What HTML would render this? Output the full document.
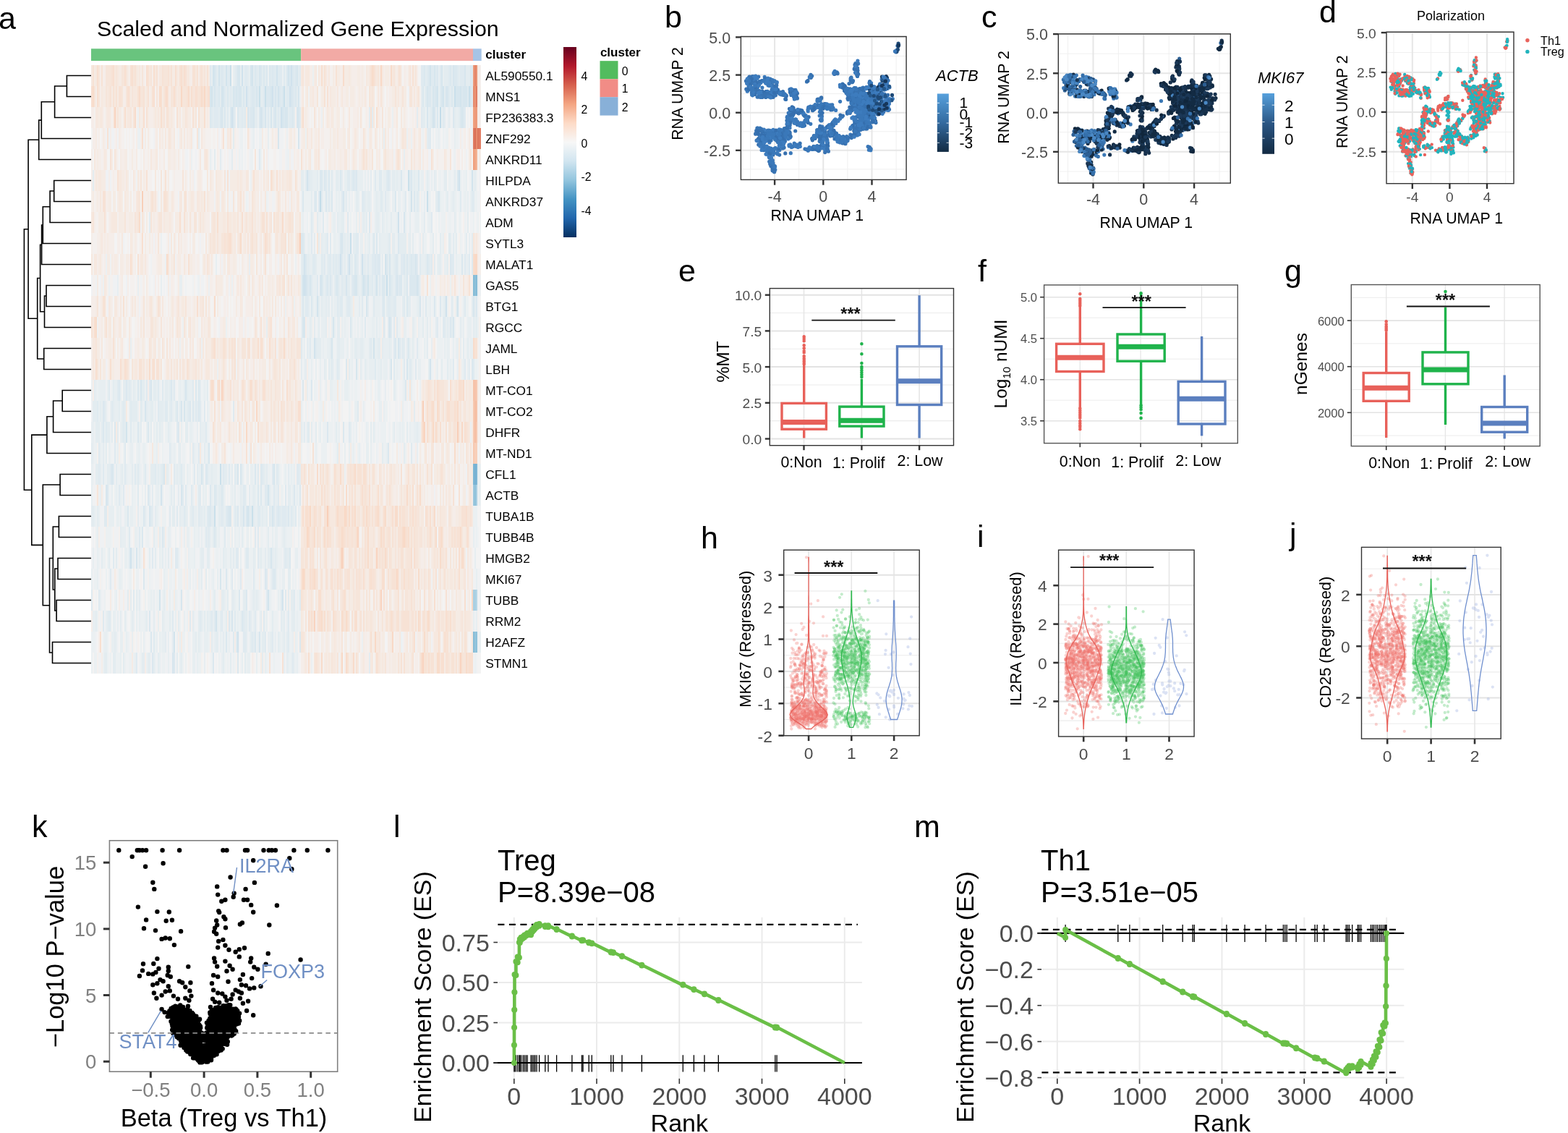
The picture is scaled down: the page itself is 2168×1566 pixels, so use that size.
<!DOCTYPE html>
<html><head><meta charset="utf-8"><title>Figure</title>
<style>html,body{margin:0;padding:0;background:#fff;}svg{display:block;}text{font-family:"Liberation Sans",Arial,sans-serif;}</style>
</head><body>
<svg width="2168" height="1566" viewBox="0 0 2168 1566" font-family="Liberation Sans, Arial, sans-serif">
<rect width="2168" height="1566" fill="#fff"/>
<text x="-2" y="40" font-size="43">a</text>
<text x="134" y="50" font-size="30.4">Scaled and Normalized Gene Expression</text>
<rect x="126" y="67.3" width="290.2" height="16.8" fill="#69c47e" />
<rect x="416.2" y="67.3" width="237.8" height="16.8" fill="#f2aaa5" />
<rect x="654" y="67.3" width="11.7" height="16.8" fill="#a6c4e6" />
<text x="671.3" y="81" font-size="17" font-weight="bold">cluster</text>
<path fill="#f6e8df" d="M126 90h2v29h-2zM132 90h2v29h-2zM158 90h2v29h-2zM162 90h2v29h-2zM188 90h2v29h-2zM192 90h2v29h-2zM206 90h2v29h-2zM214 90h2v29h-2zM220 90h2v29h-2zM222 90h2v29h-2zM234 90h2v29h-2zM244 90h2v29h-2zM258 90h2v29h-2zM260 90h2v29h-2zM270 90h2v29h-2zM280 90h2v29h-2zM416 90h2v29h-2zM422 90h2v29h-2zM424 90h2v29h-2zM426 90h2v29h-2zM436 90h2v29h-2zM440 90h2v29h-2zM450 90h2v29h-2zM454 90h2v29h-2zM482 90h2v29h-2zM506 90h2v29h-2zM510 90h2v29h-2zM520 90h2v29h-2zM528 90h2v29h-2zM542 90h2v29h-2zM140 119h2v29h-2zM148 119h2v29h-2zM158 119h2v29h-2zM184 119h2v29h-2zM186 119h2v29h-2zM188 119h2v29h-2zM202 119h2v29h-2zM232 119h2v29h-2zM246 119h2v29h-2zM248 119h2v29h-2zM262 119h2v29h-2zM418 119h2v29h-2zM424 119h2v29h-2zM432 119h2v29h-2zM456 119h2v29h-2zM466 119h2v29h-2zM472 119h2v29h-2zM504 119h2v29h-2zM512 119h2v29h-2zM516 119h2v29h-2zM522 119h2v29h-2zM550 119h2v29h-2zM572 119h2v29h-2zM576 119h2v29h-2zM132 148h2v29h-2zM134 148h2v29h-2zM138 148h2v29h-2zM140 148h2v29h-2zM148 148h2v29h-2zM150 148h2v29h-2zM156 148h2v29h-2zM160 148h2v29h-2zM176 148h2v29h-2zM178 148h2v29h-2zM192 148h2v29h-2zM214 148h2v29h-2zM218 148h2v29h-2zM224 148h2v29h-2zM236 148h2v29h-2zM248 148h2v29h-2zM258 148h2v29h-2zM416 148h2v29h-2zM452 148h2v29h-2zM458 148h2v29h-2zM482 148h2v29h-2zM516 148h2v29h-2zM548 148h2v29h-2zM554 148h2v29h-2zM220 177h2v29h-2zM228 177h2v29h-2zM232 177h2v29h-2zM240 177h2v29h-2zM250 177h2v29h-2zM254 177h2v29h-2zM264 177h2v29h-2zM278 177h2v29h-2zM314 177h2v29h-2zM424 177h2v29h-2zM430 177h2v29h-2zM440 177h2v29h-2zM466 177h2v29h-2zM482 177h2v29h-2zM490 177h2v29h-2zM512 177h2v29h-2zM518 177h2v29h-2zM532 177h2v29h-2zM558 177h2v29h-2zM560 177h2v29h-2zM572 177h2v29h-2zM580 177h2v29h-2zM130 206h2v29h-2zM144 206h2v29h-2zM208 206h2v29h-2zM216 206h2v29h-2zM276 206h2v29h-2zM282 206h2v29h-2zM286 206h2v29h-2zM364 206h2v29h-2zM428 206h2v29h-2zM436 206h2v29h-2zM476 206h2v29h-2zM478 206h2v29h-2zM488 206h2v29h-2zM500 206h2v29h-2zM504 206h2v29h-2zM530 206h2v29h-2zM552 206h2v29h-2zM572 206h2v29h-2zM580 206h2v29h-2zM614 206h2v29h-2zM132 235h2v29h-2zM136 235h2v29h-2zM138 235h2v29h-2zM164 235h2v29h-2zM166 235h2v29h-2zM174 235h2v29h-2zM184 235h2v29h-2zM190 235h2v29h-2zM214 235h2v29h-2zM286 235h2v29h-2zM290 235h2v29h-2zM298 235h2v29h-2zM328 235h2v29h-2zM332 235h2v29h-2zM340 235h2v29h-2zM342 235h2v29h-2zM364 235h2v29h-2zM370 235h2v29h-2zM386 235h2v29h-2zM390 235h2v29h-2zM396 235h2v29h-2zM398 235h2v29h-2zM402 235h2v29h-2zM138 264h2v29h-2zM164 264h2v29h-2zM166 264h2v29h-2zM172 264h2v29h-2zM188 264h2v29h-2zM212 264h2v29h-2zM222 264h2v29h-2zM238 264h2v29h-2zM248 264h2v29h-2zM250 264h2v29h-2zM264 264h2v29h-2zM266 264h2v29h-2zM272 264h2v29h-2zM274 264h2v29h-2zM278 264h2v29h-2zM286 264h2v29h-2zM300 264h2v29h-2zM306 264h2v29h-2zM308 264h2v29h-2zM314 264h2v29h-2zM328 264h2v29h-2zM330 264h2v29h-2zM336 264h2v29h-2zM350 264h2v29h-2zM366 264h2v29h-2zM386 264h2v29h-2zM394 264h2v29h-2zM402 264h2v29h-2zM410 264h2v29h-2zM412 264h2v29h-2zM126 293h2v29h-2zM154 293h2v29h-2zM156 293h2v29h-2zM158 293h2v29h-2zM160 293h2v29h-2zM188 293h2v29h-2zM218 293h2v29h-2zM226 293h2v29h-2zM234 293h2v29h-2zM280 293h2v29h-2zM292 293h2v29h-2zM308 293h2v29h-2zM310 293h2v29h-2zM316 293h2v29h-2zM318 293h2v29h-2zM322 293h2v29h-2zM324 293h2v29h-2zM338 293h2v29h-2zM344 293h2v29h-2zM346 293h2v29h-2zM352 293h2v29h-2zM360 293h2v29h-2zM372 293h2v29h-2zM380 293h2v29h-2zM388 293h2v29h-2zM394 293h2v29h-2zM396 293h2v29h-2zM140 322h2v29h-2zM168 322h2v29h-2zM180 322h2v29h-2zM236 322h2v29h-2zM240 322h2v29h-2zM246 322h2v29h-2zM284 322h2v29h-2zM292 322h2v29h-2zM320 322h2v29h-2zM324 322h2v29h-2zM328 322h2v29h-2zM338 322h2v29h-2zM350 322h2v29h-2zM352 322h2v29h-2zM360 322h2v29h-2zM364 322h2v29h-2zM370 322h2v29h-2zM380 322h2v29h-2zM402 322h2v29h-2zM658 322h2v29h-2zM126 351h2v29h-2zM130 351h2v29h-2zM132 351h2v29h-2zM138 351h2v29h-2zM182 351h2v29h-2zM194 351h2v29h-2zM196 351h2v29h-2zM200 351h2v29h-2zM254 351h2v29h-2zM282 351h2v29h-2zM288 351h2v29h-2zM292 351h2v29h-2zM314 351h2v29h-2zM316 351h2v29h-2zM388 351h2v29h-2zM392 351h2v29h-2zM144 380h2v29h-2zM298 380h2v29h-2zM328 380h2v29h-2zM332 380h2v29h-2zM344 380h2v29h-2zM348 380h2v29h-2zM358 380h2v29h-2zM362 380h2v29h-2zM382 380h2v29h-2zM384 380h2v29h-2zM412 380h2v29h-2zM150 409h2v29h-2zM158 409h2v29h-2zM160 409h2v29h-2zM166 409h2v29h-2zM182 409h2v29h-2zM186 409h2v29h-2zM206 409h2v29h-2zM224 409h2v29h-2zM238 409h2v29h-2zM244 409h2v29h-2zM252 409h2v29h-2zM276 409h2v29h-2zM278 409h2v29h-2zM288 409h2v29h-2zM332 409h2v29h-2zM358 409h2v29h-2zM364 409h2v29h-2zM376 409h2v29h-2zM380 409h2v29h-2zM404 409h2v29h-2zM128 438h2v29h-2zM144 438h2v29h-2zM150 438h2v29h-2zM152 438h2v29h-2zM164 438h2v29h-2zM166 438h2v29h-2zM178 438h2v29h-2zM194 438h2v29h-2zM214 438h2v29h-2zM238 438h2v29h-2zM246 438h2v29h-2zM248 438h2v29h-2zM260 438h2v29h-2zM278 438h2v29h-2zM354 438h2v29h-2zM370 438h2v29h-2zM392 438h2v29h-2zM404 438h2v29h-2zM406 438h2v29h-2zM128 467h2v29h-2zM130 467h2v29h-2zM140 467h2v29h-2zM168 467h2v29h-2zM178 467h2v29h-2zM208 467h2v29h-2zM212 467h2v29h-2zM214 467h2v29h-2zM234 467h2v29h-2zM262 467h2v29h-2zM266 467h2v29h-2zM276 467h2v29h-2zM280 467h2v29h-2zM284 467h2v29h-2zM300 467h2v29h-2zM304 467h2v29h-2zM306 467h2v29h-2zM312 467h2v29h-2zM318 467h2v29h-2zM328 467h2v29h-2zM348 467h2v29h-2zM352 467h2v29h-2zM354 467h2v29h-2zM374 467h2v29h-2zM376 467h2v29h-2zM390 467h2v29h-2zM394 467h2v29h-2zM398 467h2v29h-2zM404 467h2v29h-2zM406 467h2v29h-2zM128 496h2v29h-2zM168 496h2v29h-2zM170 496h2v29h-2zM186 496h2v29h-2zM188 496h2v29h-2zM196 496h2v29h-2zM202 496h2v29h-2zM230 496h2v29h-2zM232 496h2v29h-2zM240 496h2v29h-2zM254 496h2v29h-2zM266 496h2v29h-2zM268 496h2v29h-2zM274 496h2v29h-2zM278 496h2v29h-2zM284 496h2v29h-2zM286 496h2v29h-2zM288 496h2v29h-2zM310 496h2v29h-2zM322 496h2v29h-2zM328 496h2v29h-2zM336 496h2v29h-2zM340 496h2v29h-2zM350 496h2v29h-2zM372 496h2v29h-2zM382 496h2v29h-2zM402 496h2v29h-2zM404 496h2v29h-2zM408 496h2v29h-2zM634 496h2v29h-2zM314 525h2v29h-2zM316 525h2v29h-2zM322 525h2v29h-2zM328 525h2v29h-2zM338 525h2v29h-2zM358 525h2v29h-2zM370 525h2v29h-2zM382 525h2v29h-2zM384 525h2v29h-2zM386 525h2v29h-2zM398 525h2v29h-2zM466 525h2v29h-2zM584 525h2v29h-2zM588 525h2v29h-2zM596 525h2v29h-2zM602 525h2v29h-2zM614 525h2v29h-2zM616 525h2v29h-2zM624 525h2v29h-2zM628 525h2v29h-2zM632 525h2v29h-2zM644 525h2v29h-2zM648 525h2v29h-2zM650 525h2v29h-2zM302 554h2v29h-2zM308 554h2v29h-2zM340 554h2v29h-2zM344 554h2v29h-2zM348 554h2v29h-2zM358 554h2v29h-2zM380 554h2v29h-2zM398 554h2v29h-2zM404 554h2v29h-2zM408 554h2v29h-2zM410 554h2v29h-2zM582 554h2v29h-2zM588 554h2v29h-2zM600 554h2v29h-2zM610 554h2v29h-2zM634 554h2v29h-2zM640 554h2v29h-2zM648 554h2v29h-2zM296 583h2v29h-2zM304 583h2v29h-2zM332 583h2v29h-2zM346 583h2v29h-2zM360 583h2v29h-2zM362 583h2v29h-2zM374 583h2v29h-2zM380 583h2v29h-2zM402 583h2v29h-2zM410 583h2v29h-2zM414 583h2v29h-2zM600 583h2v29h-2zM648 583h2v29h-2zM210 612h2v29h-2zM276 612h2v29h-2zM298 612h2v29h-2zM402 612h2v29h-2zM412 612h2v29h-2zM414 612h2v29h-2zM468 612h2v29h-2zM610 612h2v29h-2zM612 612h2v29h-2zM618 612h2v29h-2zM646 612h2v29h-2zM418 641h2v29h-2zM422 641h2v29h-2zM430 641h2v29h-2zM432 641h2v29h-2zM444 641h2v29h-2zM454 641h2v29h-2zM466 641h2v29h-2zM468 641h2v29h-2zM472 641h2v29h-2zM474 641h2v29h-2zM492 641h2v29h-2zM500 641h2v29h-2zM526 641h2v29h-2zM530 641h2v29h-2zM534 641h2v29h-2zM538 641h2v29h-2zM544 641h2v29h-2zM562 641h2v29h-2zM604 641h2v29h-2zM612 641h2v29h-2zM634 641h2v29h-2zM422 670h2v29h-2zM428 670h2v29h-2zM430 670h2v29h-2zM432 670h2v29h-2zM440 670h2v29h-2zM446 670h2v29h-2zM450 670h2v29h-2zM454 670h2v29h-2zM458 670h2v29h-2zM464 670h2v29h-2zM472 670h2v29h-2zM484 670h2v29h-2zM508 670h2v29h-2zM514 670h2v29h-2zM520 670h2v29h-2zM528 670h2v29h-2zM536 670h2v29h-2zM540 670h2v29h-2zM558 670h2v29h-2zM560 670h2v29h-2zM564 670h2v29h-2zM578 670h2v29h-2zM608 670h2v29h-2zM612 670h2v29h-2zM616 670h2v29h-2zM620 670h2v29h-2zM648 670h2v29h-2zM416 699h2v29h-2zM420 699h2v29h-2zM430 699h2v29h-2zM438 699h2v29h-2zM456 699h2v29h-2zM458 699h2v29h-2zM460 699h2v29h-2zM462 699h2v29h-2zM484 699h2v29h-2zM492 699h2v29h-2zM512 699h2v29h-2zM516 699h2v29h-2zM528 699h2v29h-2zM536 699h2v29h-2zM538 699h2v29h-2zM544 699h2v29h-2zM582 699h2v29h-2zM584 699h2v29h-2zM592 699h2v29h-2zM604 699h2v29h-2zM610 699h2v29h-2zM612 699h2v29h-2zM614 699h2v29h-2zM634 699h2v29h-2zM636 699h2v29h-2zM652 699h2v29h-2zM416 728h2v29h-2zM418 728h2v29h-2zM458 728h2v29h-2zM460 728h2v29h-2zM464 728h2v29h-2zM500 728h2v29h-2zM510 728h2v29h-2zM512 728h2v29h-2zM514 728h2v29h-2zM522 728h2v29h-2zM532 728h2v29h-2zM544 728h2v29h-2zM566 728h2v29h-2zM570 728h2v29h-2zM578 728h2v29h-2zM586 728h2v29h-2zM612 728h2v29h-2zM620 728h2v29h-2zM622 728h2v29h-2zM420 757h2v29h-2zM438 757h2v29h-2zM458 757h2v29h-2zM468 757h2v29h-2zM486 757h2v29h-2zM502 757h2v29h-2zM510 757h2v29h-2zM518 757h2v29h-2zM552 757h2v29h-2zM560 757h2v29h-2zM578 757h2v29h-2zM592 757h2v29h-2zM598 757h2v29h-2zM602 757h2v29h-2zM614 757h2v29h-2zM626 757h2v29h-2zM636 757h2v29h-2zM646 757h2v29h-2zM422 786h2v29h-2zM424 786h2v29h-2zM426 786h2v29h-2zM442 786h2v29h-2zM460 786h2v29h-2zM464 786h2v29h-2zM486 786h2v29h-2zM500 786h2v29h-2zM504 786h2v29h-2zM526 786h2v29h-2zM538 786h2v29h-2zM574 786h2v29h-2zM582 786h2v29h-2zM588 786h2v29h-2zM594 786h2v29h-2zM598 786h2v29h-2zM606 786h2v29h-2zM612 786h2v29h-2zM618 786h2v29h-2zM622 786h2v29h-2zM624 786h2v29h-2zM632 786h2v29h-2zM640 786h2v29h-2zM646 786h2v29h-2zM652 786h2v29h-2zM420 815h2v29h-2zM422 815h2v29h-2zM426 815h2v29h-2zM428 815h2v29h-2zM436 815h2v29h-2zM444 815h2v29h-2zM450 815h2v29h-2zM470 815h2v29h-2zM482 815h2v29h-2zM490 815h2v29h-2zM502 815h2v29h-2zM534 815h2v29h-2zM546 815h2v29h-2zM548 815h2v29h-2zM564 815h2v29h-2zM566 815h2v29h-2zM570 815h2v29h-2zM594 815h2v29h-2zM630 815h2v29h-2zM416 844h2v29h-2zM456 844h2v29h-2zM466 844h2v29h-2zM468 844h2v29h-2zM482 844h2v29h-2zM496 844h2v29h-2zM508 844h2v29h-2zM510 844h2v29h-2zM514 844h2v29h-2zM532 844h2v29h-2zM536 844h2v29h-2zM544 844h2v29h-2zM546 844h2v29h-2zM566 844h2v29h-2zM572 844h2v29h-2zM588 844h2v29h-2zM594 844h2v29h-2zM598 844h2v29h-2zM602 844h2v29h-2zM608 844h2v29h-2zM614 844h2v29h-2zM624 844h2v29h-2zM636 844h2v29h-2zM644 844h2v29h-2zM646 844h2v29h-2zM648 844h2v29h-2zM420 873h2v29h-2zM462 873h2v29h-2zM496 873h2v29h-2zM520 873h2v29h-2zM522 873h2v29h-2zM540 873h2v29h-2zM552 873h2v29h-2zM562 873h2v29h-2zM566 873h2v29h-2zM584 873h2v29h-2zM588 873h2v29h-2zM600 873h2v29h-2zM602 873h2v29h-2zM604 873h2v29h-2zM612 873h2v29h-2zM630 873h2v29h-2zM634 873h2v29h-2zM652 873h2v29h-2zM422 902h2v29h-2zM440 902h2v29h-2zM450 902h2v29h-2zM454 902h2v29h-2zM460 902h2v29h-2zM462 902h2v29h-2zM486 902h2v29h-2zM494 902h2v29h-2zM502 902h2v29h-2zM512 902h2v29h-2zM514 902h2v29h-2zM524 902h2v29h-2zM528 902h2v29h-2zM568 902h2v29h-2zM602 902h2v29h-2zM622 902h2v29h-2zM628 902h2v29h-2z"/>
<path fill="#f7e2d5" d="M128 90h2v29h-2zM140 90h2v29h-2zM154 90h2v29h-2zM180 90h2v29h-2zM186 90h2v29h-2zM204 90h2v29h-2zM216 90h2v29h-2zM224 90h2v29h-2zM232 90h2v29h-2zM236 90h2v29h-2zM248 90h2v29h-2zM256 90h2v29h-2zM266 90h2v29h-2zM268 90h2v29h-2zM272 90h2v29h-2zM278 90h2v29h-2zM286 90h2v29h-2zM448 90h2v29h-2zM464 90h2v29h-2zM512 90h2v29h-2zM552 90h2v29h-2zM570 90h2v29h-2zM152 119h2v29h-2zM156 119h2v29h-2zM160 119h2v29h-2zM164 119h2v29h-2zM166 119h2v29h-2zM178 119h2v29h-2zM190 119h2v29h-2zM198 119h2v29h-2zM204 119h2v29h-2zM210 119h2v29h-2zM258 119h2v29h-2zM272 119h2v29h-2zM276 119h2v29h-2zM280 119h2v29h-2zM286 119h2v29h-2zM448 119h2v29h-2zM452 119h2v29h-2zM202 148h2v29h-2zM230 148h2v29h-2zM244 148h2v29h-2zM266 148h2v29h-2zM274 148h2v29h-2zM512 148h2v29h-2zM148 177h2v29h-2zM308 177h2v29h-2zM152 206h2v29h-2zM416 206h2v29h-2zM502 206h2v29h-2zM550 206h2v29h-2zM596 206h2v29h-2zM162 235h2v29h-2zM202 235h2v29h-2zM228 235h2v29h-2zM314 235h2v29h-2zM350 235h2v29h-2zM382 235h2v29h-2zM408 235h2v29h-2zM142 264h2v29h-2zM144 264h2v29h-2zM210 264h2v29h-2zM226 264h2v29h-2zM228 264h2v29h-2zM256 264h2v29h-2zM282 264h2v29h-2zM332 264h2v29h-2zM144 293h2v29h-2zM254 293h2v29h-2zM314 293h2v29h-2zM348 293h2v29h-2zM362 293h2v29h-2zM364 293h2v29h-2zM368 293h2v29h-2zM378 293h2v29h-2zM400 293h2v29h-2zM310 322h2v29h-2zM314 322h2v29h-2zM348 322h2v29h-2zM368 322h2v29h-2zM394 322h2v29h-2zM412 322h2v29h-2zM190 351h2v29h-2zM260 351h2v29h-2zM366 351h2v29h-2zM392 380h2v29h-2zM590 380h2v29h-2zM648 380h2v29h-2zM142 409h2v29h-2zM144 409h2v29h-2zM170 409h2v29h-2zM218 409h2v29h-2zM126 438h2v29h-2zM146 438h2v29h-2zM360 438h2v29h-2zM374 438h2v29h-2zM156 467h2v29h-2zM294 467h2v29h-2zM308 467h2v29h-2zM310 467h2v29h-2zM320 467h2v29h-2zM324 467h2v29h-2zM342 467h2v29h-2zM344 467h2v29h-2zM362 467h2v29h-2zM380 467h2v29h-2zM656 467h2v29h-2zM658 467h2v29h-2zM174 496h2v29h-2zM192 496h2v29h-2zM194 496h2v29h-2zM210 496h2v29h-2zM216 496h2v29h-2zM218 496h2v29h-2zM258 496h2v29h-2zM324 496h2v29h-2zM406 496h2v29h-2zM300 525h2v29h-2zM318 525h2v29h-2zM334 525h2v29h-2zM336 525h2v29h-2zM352 525h2v29h-2zM592 525h2v29h-2zM600 525h2v29h-2zM606 525h2v29h-2zM638 525h2v29h-2zM296 554h2v29h-2zM388 554h2v29h-2zM612 554h2v29h-2zM630 554h2v29h-2zM294 583h2v29h-2zM330 583h2v29h-2zM616 583h2v29h-2zM628 583h2v29h-2zM644 583h2v29h-2zM340 612h2v29h-2zM346 612h2v29h-2zM432 612h2v29h-2zM420 641h2v29h-2zM426 641h2v29h-2zM442 641h2v29h-2zM446 641h2v29h-2zM452 641h2v29h-2zM484 641h2v29h-2zM488 641h2v29h-2zM494 641h2v29h-2zM496 641h2v29h-2zM498 641h2v29h-2zM516 641h2v29h-2zM554 641h2v29h-2zM564 641h2v29h-2zM590 641h2v29h-2zM596 641h2v29h-2zM610 641h2v29h-2zM424 670h2v29h-2zM448 670h2v29h-2zM462 670h2v29h-2zM486 670h2v29h-2zM490 670h2v29h-2zM504 670h2v29h-2zM538 670h2v29h-2zM576 670h2v29h-2zM626 670h2v29h-2zM634 670h2v29h-2zM426 699h2v29h-2zM436 699h2v29h-2zM442 699h2v29h-2zM448 699h2v29h-2zM450 699h2v29h-2zM454 699h2v29h-2zM464 699h2v29h-2zM468 699h2v29h-2zM470 699h2v29h-2zM472 699h2v29h-2zM474 699h2v29h-2zM488 699h2v29h-2zM508 699h2v29h-2zM510 699h2v29h-2zM514 699h2v29h-2zM518 699h2v29h-2zM556 699h2v29h-2zM558 699h2v29h-2zM566 699h2v29h-2zM574 699h2v29h-2zM590 699h2v29h-2zM638 699h2v29h-2zM640 699h2v29h-2zM642 699h2v29h-2zM650 699h2v29h-2zM432 728h2v29h-2zM438 728h2v29h-2zM454 728h2v29h-2zM456 728h2v29h-2zM468 728h2v29h-2zM470 728h2v29h-2zM476 728h2v29h-2zM480 728h2v29h-2zM486 728h2v29h-2zM504 728h2v29h-2zM528 728h2v29h-2zM536 728h2v29h-2zM538 728h2v29h-2zM542 728h2v29h-2zM550 728h2v29h-2zM552 728h2v29h-2zM554 728h2v29h-2zM562 728h2v29h-2zM568 728h2v29h-2zM572 728h2v29h-2zM606 728h2v29h-2zM624 728h2v29h-2zM628 728h2v29h-2zM632 728h2v29h-2zM634 728h2v29h-2zM198 757h2v29h-2zM422 757h2v29h-2zM428 757h2v29h-2zM432 757h2v29h-2zM450 757h2v29h-2zM490 757h2v29h-2zM504 757h2v29h-2zM524 757h2v29h-2zM528 757h2v29h-2zM534 757h2v29h-2zM538 757h2v29h-2zM554 757h2v29h-2zM556 757h2v29h-2zM616 757h2v29h-2zM416 786h2v29h-2zM430 786h2v29h-2zM436 786h2v29h-2zM444 786h2v29h-2zM450 786h2v29h-2zM470 786h2v29h-2zM480 786h2v29h-2zM482 786h2v29h-2zM492 786h2v29h-2zM496 786h2v29h-2zM510 786h2v29h-2zM514 786h2v29h-2zM516 786h2v29h-2zM536 786h2v29h-2zM542 786h2v29h-2zM544 786h2v29h-2zM546 786h2v29h-2zM550 786h2v29h-2zM564 786h2v29h-2zM592 786h2v29h-2zM602 786h2v29h-2zM614 786h2v29h-2zM416 815h2v29h-2zM460 815h2v29h-2zM474 815h2v29h-2zM516 815h2v29h-2zM530 815h2v29h-2zM550 815h2v29h-2zM568 815h2v29h-2zM586 815h2v29h-2zM616 815h2v29h-2zM452 844h2v29h-2zM462 844h2v29h-2zM474 844h2v29h-2zM480 844h2v29h-2zM486 844h2v29h-2zM498 844h2v29h-2zM502 844h2v29h-2zM534 844h2v29h-2zM542 844h2v29h-2zM548 844h2v29h-2zM550 844h2v29h-2zM556 844h2v29h-2zM558 844h2v29h-2zM560 844h2v29h-2zM562 844h2v29h-2zM564 844h2v29h-2zM570 844h2v29h-2zM574 844h2v29h-2zM580 844h2v29h-2zM584 844h2v29h-2zM586 844h2v29h-2zM606 844h2v29h-2zM618 844h2v29h-2zM616 873h2v29h-2zM618 873h2v29h-2zM642 873h2v29h-2zM372 902h2v29h-2zM390 902h2v29h-2zM436 902h2v29h-2zM480 902h2v29h-2zM492 902h2v29h-2zM554 902h2v29h-2zM558 902h2v29h-2zM570 902h2v29h-2zM586 902h2v29h-2zM588 902h2v29h-2zM596 902h2v29h-2zM598 902h2v29h-2zM616 902h2v29h-2zM618 902h2v29h-2zM624 902h2v29h-2zM626 902h2v29h-2zM630 902h2v29h-2zM634 902h2v29h-2zM638 902h2v29h-2zM646 902h2v29h-2z"/>
<path fill="#f5ebe4" d="M130 90h2v29h-2zM164 90h2v29h-2zM166 90h2v29h-2zM176 90h2v29h-2zM190 90h2v29h-2zM238 90h2v29h-2zM240 90h2v29h-2zM246 90h2v29h-2zM284 90h2v29h-2zM288 90h2v29h-2zM434 90h2v29h-2zM446 90h2v29h-2zM460 90h2v29h-2zM466 90h2v29h-2zM468 90h2v29h-2zM476 90h2v29h-2zM478 90h2v29h-2zM480 90h2v29h-2zM484 90h2v29h-2zM494 90h2v29h-2zM496 90h2v29h-2zM500 90h2v29h-2zM508 90h2v29h-2zM524 90h2v29h-2zM532 90h2v29h-2zM534 90h2v29h-2zM536 90h2v29h-2zM546 90h2v29h-2zM554 90h2v29h-2zM564 90h2v29h-2zM572 90h2v29h-2zM660 90h2v29h-2zM142 119h2v29h-2zM144 119h2v29h-2zM154 119h2v29h-2zM162 119h2v29h-2zM180 119h2v29h-2zM200 119h2v29h-2zM208 119h2v29h-2zM224 119h2v29h-2zM244 119h2v29h-2zM422 119h2v29h-2zM428 119h2v29h-2zM430 119h2v29h-2zM444 119h2v29h-2zM446 119h2v29h-2zM458 119h2v29h-2zM460 119h2v29h-2zM462 119h2v29h-2zM478 119h2v29h-2zM480 119h2v29h-2zM484 119h2v29h-2zM486 119h2v29h-2zM488 119h2v29h-2zM496 119h2v29h-2zM500 119h2v29h-2zM528 119h2v29h-2zM542 119h2v29h-2zM544 119h2v29h-2zM548 119h2v29h-2zM554 119h2v29h-2zM558 119h2v29h-2zM560 119h2v29h-2zM660 119h2v29h-2zM136 148h2v29h-2zM146 148h2v29h-2zM152 148h2v29h-2zM164 148h2v29h-2zM166 148h2v29h-2zM170 148h2v29h-2zM174 148h2v29h-2zM196 148h2v29h-2zM204 148h2v29h-2zM212 148h2v29h-2zM216 148h2v29h-2zM220 148h2v29h-2zM234 148h2v29h-2zM238 148h2v29h-2zM246 148h2v29h-2zM252 148h2v29h-2zM254 148h2v29h-2zM260 148h2v29h-2zM262 148h2v29h-2zM268 148h2v29h-2zM276 148h2v29h-2zM278 148h2v29h-2zM280 148h2v29h-2zM286 148h2v29h-2zM340 148h2v29h-2zM422 148h2v29h-2zM440 148h2v29h-2zM446 148h2v29h-2zM454 148h2v29h-2zM460 148h2v29h-2zM466 148h2v29h-2zM468 148h2v29h-2zM474 148h2v29h-2zM494 148h2v29h-2zM522 148h2v29h-2zM536 148h2v29h-2zM538 148h2v29h-2zM558 148h2v29h-2zM132 177h2v29h-2zM142 177h2v29h-2zM164 177h2v29h-2zM200 177h2v29h-2zM204 177h2v29h-2zM216 177h2v29h-2zM224 177h2v29h-2zM236 177h2v29h-2zM248 177h2v29h-2zM258 177h2v29h-2zM262 177h2v29h-2zM316 177h2v29h-2zM362 177h2v29h-2zM376 177h2v29h-2zM400 177h2v29h-2zM402 177h2v29h-2zM406 177h2v29h-2zM418 177h2v29h-2zM420 177h2v29h-2zM436 177h2v29h-2zM456 177h2v29h-2zM460 177h2v29h-2zM462 177h2v29h-2zM474 177h2v29h-2zM476 177h2v29h-2zM480 177h2v29h-2zM492 177h2v29h-2zM504 177h2v29h-2zM510 177h2v29h-2zM520 177h2v29h-2zM528 177h2v29h-2zM536 177h2v29h-2zM548 177h2v29h-2zM554 177h2v29h-2zM578 177h2v29h-2zM588 177h2v29h-2zM648 177h2v29h-2zM134 206h2v29h-2zM146 206h2v29h-2zM154 206h2v29h-2zM160 206h2v29h-2zM166 206h2v29h-2zM172 206h2v29h-2zM174 206h2v29h-2zM182 206h2v29h-2zM188 206h2v29h-2zM198 206h2v29h-2zM214 206h2v29h-2zM226 206h2v29h-2zM232 206h2v29h-2zM234 206h2v29h-2zM240 206h2v29h-2zM246 206h2v29h-2zM422 206h2v29h-2zM426 206h2v29h-2zM434 206h2v29h-2zM438 206h2v29h-2zM454 206h2v29h-2zM456 206h2v29h-2zM462 206h2v29h-2zM470 206h2v29h-2zM490 206h2v29h-2zM510 206h2v29h-2zM520 206h2v29h-2zM524 206h2v29h-2zM534 206h2v29h-2zM536 206h2v29h-2zM542 206h2v29h-2zM578 206h2v29h-2zM584 206h2v29h-2zM598 206h2v29h-2zM616 206h2v29h-2zM648 206h2v29h-2zM662 206h2v29h-2zM134 235h2v29h-2zM140 235h2v29h-2zM142 235h2v29h-2zM144 235h2v29h-2zM168 235h2v29h-2zM170 235h2v29h-2zM176 235h2v29h-2zM198 235h2v29h-2zM232 235h2v29h-2zM256 235h2v29h-2zM262 235h2v29h-2zM274 235h2v29h-2zM276 235h2v29h-2zM292 235h2v29h-2zM300 235h2v29h-2zM302 235h2v29h-2zM304 235h2v29h-2zM318 235h2v29h-2zM320 235h2v29h-2zM322 235h2v29h-2zM324 235h2v29h-2zM326 235h2v29h-2zM330 235h2v29h-2zM334 235h2v29h-2zM348 235h2v29h-2zM352 235h2v29h-2zM354 235h2v29h-2zM356 235h2v29h-2zM368 235h2v29h-2zM378 235h2v29h-2zM392 235h2v29h-2zM394 235h2v29h-2zM410 235h2v29h-2zM128 264h2v29h-2zM134 264h2v29h-2zM150 264h2v29h-2zM152 264h2v29h-2zM156 264h2v29h-2zM158 264h2v29h-2zM162 264h2v29h-2zM168 264h2v29h-2zM174 264h2v29h-2zM176 264h2v29h-2zM180 264h2v29h-2zM204 264h2v29h-2zM232 264h2v29h-2zM236 264h2v29h-2zM262 264h2v29h-2zM276 264h2v29h-2zM280 264h2v29h-2zM288 264h2v29h-2zM298 264h2v29h-2zM302 264h2v29h-2zM310 264h2v29h-2zM352 264h2v29h-2zM356 264h2v29h-2zM360 264h2v29h-2zM382 264h2v29h-2zM136 293h2v29h-2zM138 293h2v29h-2zM140 293h2v29h-2zM142 293h2v29h-2zM152 293h2v29h-2zM164 293h2v29h-2zM166 293h2v29h-2zM168 293h2v29h-2zM170 293h2v29h-2zM178 293h2v29h-2zM180 293h2v29h-2zM182 293h2v29h-2zM198 293h2v29h-2zM202 293h2v29h-2zM212 293h2v29h-2zM228 293h2v29h-2zM230 293h2v29h-2zM232 293h2v29h-2zM236 293h2v29h-2zM242 293h2v29h-2zM244 293h2v29h-2zM246 293h2v29h-2zM256 293h2v29h-2zM258 293h2v29h-2zM274 293h2v29h-2zM278 293h2v29h-2zM282 293h2v29h-2zM298 293h2v29h-2zM302 293h2v29h-2zM304 293h2v29h-2zM306 293h2v29h-2zM312 293h2v29h-2zM320 293h2v29h-2zM326 293h2v29h-2zM332 293h2v29h-2zM342 293h2v29h-2zM350 293h2v29h-2zM356 293h2v29h-2zM366 293h2v29h-2zM386 293h2v29h-2zM408 293h2v29h-2zM410 293h2v29h-2zM412 293h2v29h-2zM138 322h2v29h-2zM144 322h2v29h-2zM148 322h2v29h-2zM182 322h2v29h-2zM186 322h2v29h-2zM200 322h2v29h-2zM206 322h2v29h-2zM232 322h2v29h-2zM250 322h2v29h-2zM266 322h2v29h-2zM268 322h2v29h-2zM288 322h2v29h-2zM298 322h2v29h-2zM302 322h2v29h-2zM304 322h2v29h-2zM322 322h2v29h-2zM336 322h2v29h-2zM384 322h2v29h-2zM386 322h2v29h-2zM400 322h2v29h-2zM404 322h2v29h-2zM408 322h2v29h-2zM656 322h2v29h-2zM136 351h2v29h-2zM148 351h2v29h-2zM150 351h2v29h-2zM154 351h2v29h-2zM158 351h2v29h-2zM160 351h2v29h-2zM166 351h2v29h-2zM168 351h2v29h-2zM174 351h2v29h-2zM176 351h2v29h-2zM218 351h2v29h-2zM220 351h2v29h-2zM222 351h2v29h-2zM236 351h2v29h-2zM238 351h2v29h-2zM246 351h2v29h-2zM248 351h2v29h-2zM262 351h2v29h-2zM264 351h2v29h-2zM280 351h2v29h-2zM310 351h2v29h-2zM322 351h2v29h-2zM324 351h2v29h-2zM334 351h2v29h-2zM342 351h2v29h-2zM346 351h2v29h-2zM348 351h2v29h-2zM360 351h2v29h-2zM364 351h2v29h-2zM134 380h2v29h-2zM146 380h2v29h-2zM168 380h2v29h-2zM202 380h2v29h-2zM232 380h2v29h-2zM246 380h2v29h-2zM300 380h2v29h-2zM302 380h2v29h-2zM304 380h2v29h-2zM306 380h2v29h-2zM342 380h2v29h-2zM350 380h2v29h-2zM370 380h2v29h-2zM372 380h2v29h-2zM376 380h2v29h-2zM388 380h2v29h-2zM396 380h2v29h-2zM406 380h2v29h-2zM414 380h2v29h-2zM584 380h2v29h-2zM608 380h2v29h-2zM614 380h2v29h-2zM618 380h2v29h-2zM624 380h2v29h-2zM646 380h2v29h-2zM132 409h2v29h-2zM140 409h2v29h-2zM152 409h2v29h-2zM174 409h2v29h-2zM202 409h2v29h-2zM210 409h2v29h-2zM216 409h2v29h-2zM236 409h2v29h-2zM250 409h2v29h-2zM254 409h2v29h-2zM268 409h2v29h-2zM300 409h2v29h-2zM326 409h2v29h-2zM334 409h2v29h-2zM348 409h2v29h-2zM352 409h2v29h-2zM368 409h2v29h-2zM372 409h2v29h-2zM388 409h2v29h-2zM392 409h2v29h-2zM414 409h2v29h-2zM488 409h2v29h-2zM140 438h2v29h-2zM158 438h2v29h-2zM170 438h2v29h-2zM172 438h2v29h-2zM212 438h2v29h-2zM216 438h2v29h-2zM234 438h2v29h-2zM256 438h2v29h-2zM266 438h2v29h-2zM268 438h2v29h-2zM282 438h2v29h-2zM286 438h2v29h-2zM290 438h2v29h-2zM308 438h2v29h-2zM310 438h2v29h-2zM364 438h2v29h-2zM400 438h2v29h-2zM410 438h2v29h-2zM134 467h2v29h-2zM136 467h2v29h-2zM150 467h2v29h-2zM152 467h2v29h-2zM158 467h2v29h-2zM162 467h2v29h-2zM166 467h2v29h-2zM190 467h2v29h-2zM196 467h2v29h-2zM198 467h2v29h-2zM218 467h2v29h-2zM220 467h2v29h-2zM226 467h2v29h-2zM246 467h2v29h-2zM252 467h2v29h-2zM256 467h2v29h-2zM286 467h2v29h-2zM288 467h2v29h-2zM290 467h2v29h-2zM298 467h2v29h-2zM302 467h2v29h-2zM330 467h2v29h-2zM358 467h2v29h-2zM368 467h2v29h-2zM378 467h2v29h-2zM384 467h2v29h-2zM400 467h2v29h-2zM408 467h2v29h-2zM600 467h2v29h-2zM634 467h2v29h-2zM130 496h2v29h-2zM142 496h2v29h-2zM144 496h2v29h-2zM150 496h2v29h-2zM154 496h2v29h-2zM156 496h2v29h-2zM184 496h2v29h-2zM204 496h2v29h-2zM220 496h2v29h-2zM242 496h2v29h-2zM262 496h2v29h-2zM264 496h2v29h-2zM272 496h2v29h-2zM292 496h2v29h-2zM296 496h2v29h-2zM298 496h2v29h-2zM302 496h2v29h-2zM306 496h2v29h-2zM316 496h2v29h-2zM342 496h2v29h-2zM358 496h2v29h-2zM362 496h2v29h-2zM364 496h2v29h-2zM366 496h2v29h-2zM376 496h2v29h-2zM384 496h2v29h-2zM390 496h2v29h-2zM392 496h2v29h-2zM396 496h2v29h-2zM412 496h2v29h-2zM304 525h2v29h-2zM310 525h2v29h-2zM312 525h2v29h-2zM324 525h2v29h-2zM326 525h2v29h-2zM342 525h2v29h-2zM350 525h2v29h-2zM368 525h2v29h-2zM372 525h2v29h-2zM376 525h2v29h-2zM378 525h2v29h-2zM402 525h2v29h-2zM404 525h2v29h-2zM410 525h2v29h-2zM414 525h2v29h-2zM422 525h2v29h-2zM586 525h2v29h-2zM598 525h2v29h-2zM618 525h2v29h-2zM626 525h2v29h-2zM646 525h2v29h-2zM652 525h2v29h-2zM660 525h2v29h-2zM174 554h2v29h-2zM292 554h2v29h-2zM310 554h2v29h-2zM316 554h2v29h-2zM330 554h2v29h-2zM356 554h2v29h-2zM364 554h2v29h-2zM366 554h2v29h-2zM368 554h2v29h-2zM376 554h2v29h-2zM382 554h2v29h-2zM400 554h2v29h-2zM446 554h2v29h-2zM468 554h2v29h-2zM516 554h2v29h-2zM568 554h2v29h-2zM608 554h2v29h-2zM614 554h2v29h-2zM644 554h2v29h-2zM646 554h2v29h-2zM650 554h2v29h-2zM652 554h2v29h-2zM160 583h2v29h-2zM300 583h2v29h-2zM302 583h2v29h-2zM318 583h2v29h-2zM322 583h2v29h-2zM326 583h2v29h-2zM336 583h2v29h-2zM348 583h2v29h-2zM352 583h2v29h-2zM358 583h2v29h-2zM364 583h2v29h-2zM366 583h2v29h-2zM370 583h2v29h-2zM396 583h2v29h-2zM398 583h2v29h-2zM594 583h2v29h-2zM606 583h2v29h-2zM612 583h2v29h-2zM624 583h2v29h-2zM636 583h2v29h-2zM640 583h2v29h-2zM652 583h2v29h-2zM306 612h2v29h-2zM308 612h2v29h-2zM322 612h2v29h-2zM350 612h2v29h-2zM360 612h2v29h-2zM372 612h2v29h-2zM396 612h2v29h-2zM484 612h2v29h-2zM548 612h2v29h-2zM580 612h2v29h-2zM586 612h2v29h-2zM616 612h2v29h-2zM620 612h2v29h-2zM632 612h2v29h-2zM636 612h2v29h-2zM640 612h2v29h-2zM228 641h2v29h-2zM236 641h2v29h-2zM428 641h2v29h-2zM448 641h2v29h-2zM460 641h2v29h-2zM518 641h2v29h-2zM542 641h2v29h-2zM546 641h2v29h-2zM550 641h2v29h-2zM560 641h2v29h-2zM566 641h2v29h-2zM568 641h2v29h-2zM584 641h2v29h-2zM592 641h2v29h-2zM594 641h2v29h-2zM600 641h2v29h-2zM602 641h2v29h-2zM606 641h2v29h-2zM614 641h2v29h-2zM620 641h2v29h-2zM624 641h2v29h-2zM632 641h2v29h-2zM648 641h2v29h-2zM650 641h2v29h-2zM652 641h2v29h-2zM140 670h2v29h-2zM434 670h2v29h-2zM438 670h2v29h-2zM442 670h2v29h-2zM460 670h2v29h-2zM488 670h2v29h-2zM492 670h2v29h-2zM494 670h2v29h-2zM496 670h2v29h-2zM516 670h2v29h-2zM518 670h2v29h-2zM524 670h2v29h-2zM542 670h2v29h-2zM548 670h2v29h-2zM552 670h2v29h-2zM556 670h2v29h-2zM568 670h2v29h-2zM574 670h2v29h-2zM582 670h2v29h-2zM586 670h2v29h-2zM622 670h2v29h-2zM640 670h2v29h-2zM642 670h2v29h-2zM444 699h2v29h-2zM498 699h2v29h-2zM526 699h2v29h-2zM534 699h2v29h-2zM550 699h2v29h-2zM564 699h2v29h-2zM580 699h2v29h-2zM596 699h2v29h-2zM606 699h2v29h-2zM616 699h2v29h-2zM624 699h2v29h-2zM630 699h2v29h-2zM632 699h2v29h-2zM436 728h2v29h-2zM502 728h2v29h-2zM518 728h2v29h-2zM540 728h2v29h-2zM548 728h2v29h-2zM584 728h2v29h-2zM588 728h2v29h-2zM598 728h2v29h-2zM616 728h2v29h-2zM640 728h2v29h-2zM642 728h2v29h-2zM648 728h2v29h-2zM236 757h2v29h-2zM434 757h2v29h-2zM446 757h2v29h-2zM452 757h2v29h-2zM460 757h2v29h-2zM464 757h2v29h-2zM488 757h2v29h-2zM498 757h2v29h-2zM536 757h2v29h-2zM542 757h2v29h-2zM544 757h2v29h-2zM548 757h2v29h-2zM558 757h2v29h-2zM580 757h2v29h-2zM586 757h2v29h-2zM596 757h2v29h-2zM606 757h2v29h-2zM642 757h2v29h-2zM650 757h2v29h-2zM158 786h2v29h-2zM184 786h2v29h-2zM242 786h2v29h-2zM484 786h2v29h-2zM490 786h2v29h-2zM506 786h2v29h-2zM508 786h2v29h-2zM520 786h2v29h-2zM524 786h2v29h-2zM534 786h2v29h-2zM580 786h2v29h-2zM584 786h2v29h-2zM590 786h2v29h-2zM600 786h2v29h-2zM616 786h2v29h-2zM620 786h2v29h-2zM626 786h2v29h-2zM630 786h2v29h-2zM636 786h2v29h-2zM638 786h2v29h-2zM152 815h2v29h-2zM240 815h2v29h-2zM432 815h2v29h-2zM438 815h2v29h-2zM446 815h2v29h-2zM452 815h2v29h-2zM454 815h2v29h-2zM462 815h2v29h-2zM478 815h2v29h-2zM484 815h2v29h-2zM486 815h2v29h-2zM540 815h2v29h-2zM544 815h2v29h-2zM554 815h2v29h-2zM576 815h2v29h-2zM596 815h2v29h-2zM604 815h2v29h-2zM608 815h2v29h-2zM624 815h2v29h-2zM634 815h2v29h-2zM636 815h2v29h-2zM648 815h2v29h-2zM418 844h2v29h-2zM450 844h2v29h-2zM488 844h2v29h-2zM504 844h2v29h-2zM516 844h2v29h-2zM518 844h2v29h-2zM526 844h2v29h-2zM552 844h2v29h-2zM576 844h2v29h-2zM596 844h2v29h-2zM630 844h2v29h-2zM632 844h2v29h-2zM634 844h2v29h-2zM640 844h2v29h-2zM650 844h2v29h-2zM250 873h2v29h-2zM426 873h2v29h-2zM444 873h2v29h-2zM450 873h2v29h-2zM452 873h2v29h-2zM458 873h2v29h-2zM460 873h2v29h-2zM464 873h2v29h-2zM468 873h2v29h-2zM476 873h2v29h-2zM478 873h2v29h-2zM484 873h2v29h-2zM494 873h2v29h-2zM502 873h2v29h-2zM510 873h2v29h-2zM514 873h2v29h-2zM516 873h2v29h-2zM528 873h2v29h-2zM530 873h2v29h-2zM536 873h2v29h-2zM538 873h2v29h-2zM560 873h2v29h-2zM568 873h2v29h-2zM578 873h2v29h-2zM580 873h2v29h-2zM594 873h2v29h-2zM608 873h2v29h-2zM620 873h2v29h-2zM628 873h2v29h-2zM640 873h2v29h-2zM182 902h2v29h-2zM360 902h2v29h-2zM420 902h2v29h-2zM448 902h2v29h-2zM452 902h2v29h-2zM456 902h2v29h-2zM464 902h2v29h-2zM470 902h2v29h-2zM482 902h2v29h-2zM484 902h2v29h-2zM500 902h2v29h-2zM518 902h2v29h-2zM526 902h2v29h-2zM530 902h2v29h-2zM538 902h2v29h-2zM542 902h2v29h-2zM544 902h2v29h-2zM546 902h2v29h-2zM552 902h2v29h-2zM560 902h2v29h-2zM562 902h2v29h-2zM564 902h2v29h-2zM600 902h2v29h-2zM614 902h2v29h-2zM632 902h2v29h-2z"/>
<path fill="#f8dfd0" d="M134 90h2v29h-2zM156 90h2v29h-2zM172 90h2v29h-2zM182 90h2v29h-2zM202 90h2v29h-2zM212 90h2v29h-2zM242 90h2v29h-2zM250 90h2v29h-2zM254 90h2v29h-2zM444 90h2v29h-2zM516 90h2v29h-2zM126 119h2v29h-2zM134 119h2v29h-2zM176 119h2v29h-2zM212 119h2v29h-2zM222 119h2v29h-2zM228 119h2v29h-2zM240 119h2v29h-2zM264 119h2v29h-2zM270 119h2v29h-2zM288 119h2v29h-2zM172 148h2v29h-2zM198 148h2v29h-2zM222 148h2v29h-2zM282 148h2v29h-2zM418 148h2v29h-2zM520 148h2v29h-2zM196 177h2v29h-2zM374 235h2v29h-2zM248 293h2v29h-2zM300 293h2v29h-2zM334 293h2v29h-2zM196 322h2v29h-2zM316 322h2v29h-2zM318 322h2v29h-2zM366 322h2v29h-2zM180 351h2v29h-2zM272 409h2v29h-2zM130 438h2v29h-2zM296 467h2v29h-2zM356 467h2v29h-2zM360 467h2v29h-2zM372 467h2v29h-2zM132 496h2v29h-2zM152 496h2v29h-2zM166 496h2v29h-2zM172 496h2v29h-2zM212 496h2v29h-2zM294 525h2v29h-2zM308 525h2v29h-2zM364 525h2v29h-2zM396 525h2v29h-2zM604 525h2v29h-2zM622 525h2v29h-2zM634 525h2v29h-2zM636 525h2v29h-2zM412 554h2v29h-2zM414 554h2v29h-2zM590 554h2v29h-2zM596 554h2v29h-2zM606 554h2v29h-2zM618 554h2v29h-2zM620 554h2v29h-2zM628 554h2v29h-2zM356 583h2v29h-2zM590 583h2v29h-2zM608 583h2v29h-2zM642 583h2v29h-2zM462 641h2v29h-2zM502 641h2v29h-2zM504 641h2v29h-2zM444 670h2v29h-2zM500 670h2v29h-2zM510 670h2v29h-2zM522 670h2v29h-2zM570 670h2v29h-2zM418 699h2v29h-2zM422 699h2v29h-2zM424 699h2v29h-2zM434 699h2v29h-2zM486 699h2v29h-2zM502 699h2v29h-2zM520 699h2v29h-2zM530 699h2v29h-2zM542 699h2v29h-2zM552 699h2v29h-2zM570 699h2v29h-2zM588 699h2v29h-2zM594 699h2v29h-2zM644 699h2v29h-2zM452 728h2v29h-2zM474 728h2v29h-2zM492 728h2v29h-2zM530 728h2v29h-2zM560 728h2v29h-2zM564 728h2v29h-2zM594 728h2v29h-2zM608 728h2v29h-2zM646 728h2v29h-2zM470 757h2v29h-2zM474 757h2v29h-2zM568 757h2v29h-2zM572 757h2v29h-2zM634 757h2v29h-2zM640 757h2v29h-2zM428 786h2v29h-2zM432 786h2v29h-2zM458 786h2v29h-2zM466 786h2v29h-2zM502 786h2v29h-2zM512 786h2v29h-2zM528 786h2v29h-2zM530 786h2v29h-2zM558 786h2v29h-2zM634 786h2v29h-2zM440 815h2v29h-2zM442 815h2v29h-2zM476 815h2v29h-2zM600 815h2v29h-2zM642 815h2v29h-2zM426 844h2v29h-2zM430 844h2v29h-2zM440 844h2v29h-2zM442 844h2v29h-2zM448 844h2v29h-2zM460 844h2v29h-2zM490 844h2v29h-2zM492 844h2v29h-2zM540 844h2v29h-2zM590 844h2v29h-2zM616 844h2v29h-2zM622 844h2v29h-2zM138 873h2v29h-2zM512 873h2v29h-2zM572 873h2v29h-2zM606 873h2v29h-2zM614 873h2v29h-2zM426 902h2v29h-2zM520 902h2v29h-2zM592 902h2v29h-2zM610 902h2v29h-2zM612 902h2v29h-2zM648 902h2v29h-2zM650 902h2v29h-2zM652 902h2v29h-2z"/>
<path fill="#f6e5da" d="M136 90h2v29h-2zM146 90h2v29h-2zM148 90h2v29h-2zM150 90h2v29h-2zM152 90h2v29h-2zM160 90h2v29h-2zM168 90h2v29h-2zM170 90h2v29h-2zM174 90h2v29h-2zM184 90h2v29h-2zM196 90h2v29h-2zM208 90h2v29h-2zM226 90h2v29h-2zM228 90h2v29h-2zM230 90h2v29h-2zM252 90h2v29h-2zM276 90h2v29h-2zM282 90h2v29h-2zM418 90h2v29h-2zM518 90h2v29h-2zM522 90h2v29h-2zM544 90h2v29h-2zM550 90h2v29h-2zM566 90h2v29h-2zM574 90h2v29h-2zM130 119h2v29h-2zM136 119h2v29h-2zM146 119h2v29h-2zM150 119h2v29h-2zM168 119h2v29h-2zM174 119h2v29h-2zM182 119h2v29h-2zM194 119h2v29h-2zM196 119h2v29h-2zM216 119h2v29h-2zM226 119h2v29h-2zM236 119h2v29h-2zM238 119h2v29h-2zM242 119h2v29h-2zM252 119h2v29h-2zM254 119h2v29h-2zM256 119h2v29h-2zM266 119h2v29h-2zM268 119h2v29h-2zM274 119h2v29h-2zM284 119h2v29h-2zM438 119h2v29h-2zM510 119h2v29h-2zM514 119h2v29h-2zM526 119h2v29h-2zM546 119h2v29h-2zM556 119h2v29h-2zM566 119h2v29h-2zM568 119h2v29h-2zM578 119h2v29h-2zM162 148h2v29h-2zM180 148h2v29h-2zM184 148h2v29h-2zM226 148h2v29h-2zM232 148h2v29h-2zM256 148h2v29h-2zM270 148h2v29h-2zM434 148h2v29h-2zM498 148h2v29h-2zM528 148h2v29h-2zM234 177h2v29h-2zM272 177h2v29h-2zM318 177h2v29h-2zM342 177h2v29h-2zM502 177h2v29h-2zM556 177h2v29h-2zM158 206h2v29h-2zM284 206h2v29h-2zM352 206h2v29h-2zM440 206h2v29h-2zM506 206h2v29h-2zM514 206h2v29h-2zM532 206h2v29h-2zM548 206h2v29h-2zM568 206h2v29h-2zM622 206h2v29h-2zM650 206h2v29h-2zM194 235h2v29h-2zM222 235h2v29h-2zM252 235h2v29h-2zM310 235h2v29h-2zM376 235h2v29h-2zM400 235h2v29h-2zM190 264h2v29h-2zM192 264h2v29h-2zM208 264h2v29h-2zM214 264h2v29h-2zM230 264h2v29h-2zM254 264h2v29h-2zM322 264h2v29h-2zM348 264h2v29h-2zM384 264h2v29h-2zM128 293h2v29h-2zM172 293h2v29h-2zM186 293h2v29h-2zM190 293h2v29h-2zM196 293h2v29h-2zM208 293h2v29h-2zM220 293h2v29h-2zM222 293h2v29h-2zM262 293h2v29h-2zM268 293h2v29h-2zM270 293h2v29h-2zM276 293h2v29h-2zM294 293h2v29h-2zM296 293h2v29h-2zM328 293h2v29h-2zM340 293h2v29h-2zM374 293h2v29h-2zM382 293h2v29h-2zM384 293h2v29h-2zM398 293h2v29h-2zM402 293h2v29h-2zM404 293h2v29h-2zM414 293h2v29h-2zM218 322h2v29h-2zM290 322h2v29h-2zM294 322h2v29h-2zM296 322h2v29h-2zM300 322h2v29h-2zM306 322h2v29h-2zM308 322h2v29h-2zM312 322h2v29h-2zM330 322h2v29h-2zM342 322h2v29h-2zM346 322h2v29h-2zM354 322h2v29h-2zM372 322h2v29h-2zM382 322h2v29h-2zM388 322h2v29h-2zM390 322h2v29h-2zM392 322h2v29h-2zM398 322h2v29h-2zM410 322h2v29h-2zM438 322h2v29h-2zM654 322h2v29h-2zM232 351h2v29h-2zM240 351h2v29h-2zM286 351h2v29h-2zM354 351h2v29h-2zM396 351h2v29h-2zM386 380h2v29h-2zM390 380h2v29h-2zM398 380h2v29h-2zM402 380h2v29h-2zM628 380h2v29h-2zM640 380h2v29h-2zM134 409h2v29h-2zM198 409h2v29h-2zM208 409h2v29h-2zM220 409h2v29h-2zM246 409h2v29h-2zM256 409h2v29h-2zM280 409h2v29h-2zM284 409h2v29h-2zM156 438h2v29h-2zM198 438h2v29h-2zM208 438h2v29h-2zM210 438h2v29h-2zM222 438h2v29h-2zM244 438h2v29h-2zM254 438h2v29h-2zM262 438h2v29h-2zM288 438h2v29h-2zM352 438h2v29h-2zM372 438h2v29h-2zM398 438h2v29h-2zM132 467h2v29h-2zM206 467h2v29h-2zM224 467h2v29h-2zM230 467h2v29h-2zM292 467h2v29h-2zM316 467h2v29h-2zM322 467h2v29h-2zM334 467h2v29h-2zM336 467h2v29h-2zM338 467h2v29h-2zM350 467h2v29h-2zM386 467h2v29h-2zM388 467h2v29h-2zM402 467h2v29h-2zM410 467h2v29h-2zM412 467h2v29h-2zM414 467h2v29h-2zM134 496h2v29h-2zM138 496h2v29h-2zM176 496h2v29h-2zM182 496h2v29h-2zM198 496h2v29h-2zM222 496h2v29h-2zM236 496h2v29h-2zM244 496h2v29h-2zM248 496h2v29h-2zM252 496h2v29h-2zM260 496h2v29h-2zM270 496h2v29h-2zM308 496h2v29h-2zM320 496h2v29h-2zM378 496h2v29h-2zM380 496h2v29h-2zM386 496h2v29h-2zM400 496h2v29h-2zM290 525h2v29h-2zM344 525h2v29h-2zM348 525h2v29h-2zM354 525h2v29h-2zM362 525h2v29h-2zM366 525h2v29h-2zM374 525h2v29h-2zM380 525h2v29h-2zM390 525h2v29h-2zM400 525h2v29h-2zM408 525h2v29h-2zM566 525h2v29h-2zM590 525h2v29h-2zM594 525h2v29h-2zM608 525h2v29h-2zM610 525h2v29h-2zM612 525h2v29h-2zM630 525h2v29h-2zM306 554h2v29h-2zM328 554h2v29h-2zM334 554h2v29h-2zM338 554h2v29h-2zM350 554h2v29h-2zM374 554h2v29h-2zM378 554h2v29h-2zM384 554h2v29h-2zM390 554h2v29h-2zM392 554h2v29h-2zM396 554h2v29h-2zM402 554h2v29h-2zM592 554h2v29h-2zM594 554h2v29h-2zM616 554h2v29h-2zM622 554h2v29h-2zM624 554h2v29h-2zM626 554h2v29h-2zM636 554h2v29h-2zM642 554h2v29h-2zM316 583h2v29h-2zM368 583h2v29h-2zM378 583h2v29h-2zM384 583h2v29h-2zM388 583h2v29h-2zM390 583h2v29h-2zM408 583h2v29h-2zM582 583h2v29h-2zM592 583h2v29h-2zM596 583h2v29h-2zM604 583h2v29h-2zM620 583h2v29h-2zM622 583h2v29h-2zM626 583h2v29h-2zM630 583h2v29h-2zM634 583h2v29h-2zM646 583h2v29h-2zM310 612h2v29h-2zM588 612h2v29h-2zM596 612h2v29h-2zM598 612h2v29h-2zM644 612h2v29h-2zM650 612h2v29h-2zM416 641h2v29h-2zM450 641h2v29h-2zM464 641h2v29h-2zM480 641h2v29h-2zM482 641h2v29h-2zM486 641h2v29h-2zM506 641h2v29h-2zM510 641h2v29h-2zM514 641h2v29h-2zM524 641h2v29h-2zM540 641h2v29h-2zM570 641h2v29h-2zM572 641h2v29h-2zM576 641h2v29h-2zM580 641h2v29h-2zM608 641h2v29h-2zM628 641h2v29h-2zM646 641h2v29h-2zM134 670h2v29h-2zM418 670h2v29h-2zM436 670h2v29h-2zM452 670h2v29h-2zM466 670h2v29h-2zM468 670h2v29h-2zM474 670h2v29h-2zM482 670h2v29h-2zM498 670h2v29h-2zM502 670h2v29h-2zM506 670h2v29h-2zM526 670h2v29h-2zM534 670h2v29h-2zM554 670h2v29h-2zM566 670h2v29h-2zM650 670h2v29h-2zM432 699h2v29h-2zM440 699h2v29h-2zM480 699h2v29h-2zM494 699h2v29h-2zM496 699h2v29h-2zM500 699h2v29h-2zM504 699h2v29h-2zM524 699h2v29h-2zM540 699h2v29h-2zM554 699h2v29h-2zM560 699h2v29h-2zM562 699h2v29h-2zM568 699h2v29h-2zM572 699h2v29h-2zM576 699h2v29h-2zM578 699h2v29h-2zM598 699h2v29h-2zM608 699h2v29h-2zM620 699h2v29h-2zM622 699h2v29h-2zM646 699h2v29h-2zM648 699h2v29h-2zM420 728h2v29h-2zM422 728h2v29h-2zM428 728h2v29h-2zM430 728h2v29h-2zM440 728h2v29h-2zM442 728h2v29h-2zM446 728h2v29h-2zM450 728h2v29h-2zM466 728h2v29h-2zM478 728h2v29h-2zM482 728h2v29h-2zM484 728h2v29h-2zM488 728h2v29h-2zM490 728h2v29h-2zM506 728h2v29h-2zM516 728h2v29h-2zM524 728h2v29h-2zM534 728h2v29h-2zM546 728h2v29h-2zM574 728h2v29h-2zM576 728h2v29h-2zM580 728h2v29h-2zM582 728h2v29h-2zM590 728h2v29h-2zM592 728h2v29h-2zM596 728h2v29h-2zM600 728h2v29h-2zM626 728h2v29h-2zM630 728h2v29h-2zM638 728h2v29h-2zM644 728h2v29h-2zM416 757h2v29h-2zM418 757h2v29h-2zM424 757h2v29h-2zM430 757h2v29h-2zM442 757h2v29h-2zM448 757h2v29h-2zM482 757h2v29h-2zM484 757h2v29h-2zM492 757h2v29h-2zM496 757h2v29h-2zM500 757h2v29h-2zM506 757h2v29h-2zM512 757h2v29h-2zM514 757h2v29h-2zM522 757h2v29h-2zM526 757h2v29h-2zM530 757h2v29h-2zM540 757h2v29h-2zM546 757h2v29h-2zM550 757h2v29h-2zM562 757h2v29h-2zM564 757h2v29h-2zM566 757h2v29h-2zM574 757h2v29h-2zM576 757h2v29h-2zM600 757h2v29h-2zM604 757h2v29h-2zM610 757h2v29h-2zM612 757h2v29h-2zM622 757h2v29h-2zM630 757h2v29h-2zM438 786h2v29h-2zM452 786h2v29h-2zM456 786h2v29h-2zM462 786h2v29h-2zM468 786h2v29h-2zM472 786h2v29h-2zM476 786h2v29h-2zM478 786h2v29h-2zM488 786h2v29h-2zM494 786h2v29h-2zM498 786h2v29h-2zM518 786h2v29h-2zM540 786h2v29h-2zM554 786h2v29h-2zM556 786h2v29h-2zM560 786h2v29h-2zM562 786h2v29h-2zM566 786h2v29h-2zM568 786h2v29h-2zM570 786h2v29h-2zM586 786h2v29h-2zM608 786h2v29h-2zM628 786h2v29h-2zM642 786h2v29h-2zM418 815h2v29h-2zM430 815h2v29h-2zM458 815h2v29h-2zM466 815h2v29h-2zM472 815h2v29h-2zM488 815h2v29h-2zM492 815h2v29h-2zM494 815h2v29h-2zM496 815h2v29h-2zM506 815h2v29h-2zM510 815h2v29h-2zM520 815h2v29h-2zM524 815h2v29h-2zM538 815h2v29h-2zM556 815h2v29h-2zM560 815h2v29h-2zM562 815h2v29h-2zM572 815h2v29h-2zM580 815h2v29h-2zM592 815h2v29h-2zM422 844h2v29h-2zM428 844h2v29h-2zM432 844h2v29h-2zM438 844h2v29h-2zM446 844h2v29h-2zM454 844h2v29h-2zM464 844h2v29h-2zM476 844h2v29h-2zM506 844h2v29h-2zM512 844h2v29h-2zM522 844h2v29h-2zM528 844h2v29h-2zM538 844h2v29h-2zM554 844h2v29h-2zM568 844h2v29h-2zM604 844h2v29h-2zM610 844h2v29h-2zM612 844h2v29h-2zM620 844h2v29h-2zM626 844h2v29h-2zM628 844h2v29h-2zM638 844h2v29h-2zM642 844h2v29h-2zM416 873h2v29h-2zM418 873h2v29h-2zM472 873h2v29h-2zM524 873h2v29h-2zM570 873h2v29h-2zM590 873h2v29h-2zM622 873h2v29h-2zM638 873h2v29h-2zM644 873h2v29h-2zM434 902h2v29h-2zM438 902h2v29h-2zM458 902h2v29h-2zM466 902h2v29h-2zM522 902h2v29h-2zM532 902h2v29h-2zM550 902h2v29h-2zM580 902h2v29h-2zM590 902h2v29h-2zM594 902h2v29h-2zM608 902h2v29h-2zM620 902h2v29h-2zM640 902h2v29h-2zM642 902h2v29h-2z"/>
<path fill="#f5ede9" d="M138 90h2v29h-2zM142 90h2v29h-2zM144 90h2v29h-2zM178 90h2v29h-2zM194 90h2v29h-2zM198 90h2v29h-2zM210 90h2v29h-2zM218 90h2v29h-2zM262 90h2v29h-2zM264 90h2v29h-2zM274 90h2v29h-2zM420 90h2v29h-2zM428 90h2v29h-2zM430 90h2v29h-2zM442 90h2v29h-2zM452 90h2v29h-2zM462 90h2v29h-2zM470 90h2v29h-2zM472 90h2v29h-2zM486 90h2v29h-2zM488 90h2v29h-2zM490 90h2v29h-2zM492 90h2v29h-2zM498 90h2v29h-2zM502 90h2v29h-2zM530 90h2v29h-2zM538 90h2v29h-2zM548 90h2v29h-2zM558 90h2v29h-2zM560 90h2v29h-2zM568 90h2v29h-2zM576 90h2v29h-2zM662 90h2v29h-2zM132 119h2v29h-2zM138 119h2v29h-2zM170 119h2v29h-2zM172 119h2v29h-2zM206 119h2v29h-2zM218 119h2v29h-2zM234 119h2v29h-2zM416 119h2v29h-2zM434 119h2v29h-2zM436 119h2v29h-2zM454 119h2v29h-2zM464 119h2v29h-2zM470 119h2v29h-2zM474 119h2v29h-2zM476 119h2v29h-2zM490 119h2v29h-2zM494 119h2v29h-2zM498 119h2v29h-2zM502 119h2v29h-2zM506 119h2v29h-2zM524 119h2v29h-2zM534 119h2v29h-2zM538 119h2v29h-2zM540 119h2v29h-2zM552 119h2v29h-2zM570 119h2v29h-2zM574 119h2v29h-2zM664 119h1v29h-1zM126 148h2v29h-2zM128 148h2v29h-2zM142 148h2v29h-2zM182 148h2v29h-2zM194 148h2v29h-2zM206 148h2v29h-2zM208 148h2v29h-2zM210 148h2v29h-2zM228 148h2v29h-2zM240 148h2v29h-2zM284 148h2v29h-2zM288 148h2v29h-2zM420 148h2v29h-2zM424 148h2v29h-2zM436 148h2v29h-2zM450 148h2v29h-2zM456 148h2v29h-2zM464 148h2v29h-2zM488 148h2v29h-2zM490 148h2v29h-2zM492 148h2v29h-2zM506 148h2v29h-2zM524 148h2v29h-2zM532 148h2v29h-2zM544 148h2v29h-2zM546 148h2v29h-2zM560 148h2v29h-2zM570 148h2v29h-2zM574 148h2v29h-2zM578 148h2v29h-2zM660 148h2v29h-2zM662 148h2v29h-2zM128 177h2v29h-2zM130 177h2v29h-2zM136 177h2v29h-2zM144 177h2v29h-2zM152 177h2v29h-2zM160 177h2v29h-2zM166 177h2v29h-2zM184 177h2v29h-2zM188 177h2v29h-2zM194 177h2v29h-2zM214 177h2v29h-2zM222 177h2v29h-2zM238 177h2v29h-2zM260 177h2v29h-2zM280 177h2v29h-2zM282 177h2v29h-2zM300 177h2v29h-2zM306 177h2v29h-2zM324 177h2v29h-2zM344 177h2v29h-2zM380 177h2v29h-2zM382 177h2v29h-2zM416 177h2v29h-2zM426 177h2v29h-2zM428 177h2v29h-2zM434 177h2v29h-2zM438 177h2v29h-2zM444 177h2v29h-2zM446 177h2v29h-2zM464 177h2v29h-2zM468 177h2v29h-2zM470 177h2v29h-2zM472 177h2v29h-2zM488 177h2v29h-2zM494 177h2v29h-2zM524 177h2v29h-2zM542 177h2v29h-2zM564 177h2v29h-2zM566 177h2v29h-2zM570 177h2v29h-2zM574 177h2v29h-2zM636 177h2v29h-2zM642 177h2v29h-2zM126 206h2v29h-2zM132 206h2v29h-2zM136 206h2v29h-2zM138 206h2v29h-2zM142 206h2v29h-2zM168 206h2v29h-2zM170 206h2v29h-2zM204 206h2v29h-2zM210 206h2v29h-2zM212 206h2v29h-2zM220 206h2v29h-2zM236 206h2v29h-2zM238 206h2v29h-2zM242 206h2v29h-2zM252 206h2v29h-2zM262 206h2v29h-2zM300 206h2v29h-2zM368 206h2v29h-2zM400 206h2v29h-2zM406 206h2v29h-2zM410 206h2v29h-2zM412 206h2v29h-2zM418 206h2v29h-2zM450 206h2v29h-2zM458 206h2v29h-2zM460 206h2v29h-2zM466 206h2v29h-2zM468 206h2v29h-2zM472 206h2v29h-2zM474 206h2v29h-2zM482 206h2v29h-2zM486 206h2v29h-2zM492 206h2v29h-2zM496 206h2v29h-2zM498 206h2v29h-2zM508 206h2v29h-2zM512 206h2v29h-2zM522 206h2v29h-2zM538 206h2v29h-2zM540 206h2v29h-2zM546 206h2v29h-2zM556 206h2v29h-2zM560 206h2v29h-2zM562 206h2v29h-2zM570 206h2v29h-2zM574 206h2v29h-2zM576 206h2v29h-2zM590 206h2v29h-2zM604 206h2v29h-2zM632 206h2v29h-2zM634 206h2v29h-2zM638 206h2v29h-2zM664 206h1v29h-1zM126 235h2v29h-2zM130 235h2v29h-2zM150 235h2v29h-2zM156 235h2v29h-2zM172 235h2v29h-2zM186 235h2v29h-2zM192 235h2v29h-2zM200 235h2v29h-2zM226 235h2v29h-2zM240 235h2v29h-2zM266 235h2v29h-2zM272 235h2v29h-2zM278 235h2v29h-2zM294 235h2v29h-2zM306 235h2v29h-2zM336 235h2v29h-2zM338 235h2v29h-2zM360 235h2v29h-2zM366 235h2v29h-2zM380 235h2v29h-2zM384 235h2v29h-2zM388 235h2v29h-2zM414 235h2v29h-2zM126 264h2v29h-2zM132 264h2v29h-2zM136 264h2v29h-2zM140 264h2v29h-2zM146 264h2v29h-2zM148 264h2v29h-2zM184 264h2v29h-2zM198 264h2v29h-2zM200 264h2v29h-2zM202 264h2v29h-2zM206 264h2v29h-2zM216 264h2v29h-2zM240 264h2v29h-2zM260 264h2v29h-2zM268 264h2v29h-2zM290 264h2v29h-2zM292 264h2v29h-2zM294 264h2v29h-2zM334 264h2v29h-2zM344 264h2v29h-2zM354 264h2v29h-2zM390 264h2v29h-2zM398 264h2v29h-2zM404 264h2v29h-2zM406 264h2v29h-2zM130 293h2v29h-2zM146 293h2v29h-2zM150 293h2v29h-2zM174 293h2v29h-2zM176 293h2v29h-2zM184 293h2v29h-2zM210 293h2v29h-2zM214 293h2v29h-2zM216 293h2v29h-2zM224 293h2v29h-2zM238 293h2v29h-2zM250 293h2v29h-2zM264 293h2v29h-2zM284 293h2v29h-2zM286 293h2v29h-2zM288 293h2v29h-2zM330 293h2v29h-2zM336 293h2v29h-2zM354 293h2v29h-2zM358 293h2v29h-2zM370 293h2v29h-2zM392 293h2v29h-2zM456 293h2v29h-2zM498 293h2v29h-2zM512 293h2v29h-2zM126 322h2v29h-2zM134 322h2v29h-2zM136 322h2v29h-2zM142 322h2v29h-2zM146 322h2v29h-2zM150 322h2v29h-2zM152 322h2v29h-2zM154 322h2v29h-2zM156 322h2v29h-2zM162 322h2v29h-2zM164 322h2v29h-2zM188 322h2v29h-2zM194 322h2v29h-2zM210 322h2v29h-2zM214 322h2v29h-2zM242 322h2v29h-2zM248 322h2v29h-2zM254 322h2v29h-2zM256 322h2v29h-2zM262 322h2v29h-2zM334 322h2v29h-2zM340 322h2v29h-2zM344 322h2v29h-2zM358 322h2v29h-2zM374 322h2v29h-2zM442 322h2v29h-2zM614 322h2v29h-2zM660 322h2v29h-2zM134 351h2v29h-2zM140 351h2v29h-2zM144 351h2v29h-2zM156 351h2v29h-2zM162 351h2v29h-2zM170 351h2v29h-2zM178 351h2v29h-2zM186 351h2v29h-2zM192 351h2v29h-2zM198 351h2v29h-2zM202 351h2v29h-2zM216 351h2v29h-2zM244 351h2v29h-2zM256 351h2v29h-2zM266 351h2v29h-2zM268 351h2v29h-2zM272 351h2v29h-2zM274 351h2v29h-2zM284 351h2v29h-2zM290 351h2v29h-2zM304 351h2v29h-2zM308 351h2v29h-2zM318 351h2v29h-2zM320 351h2v29h-2zM326 351h2v29h-2zM336 351h2v29h-2zM350 351h2v29h-2zM372 351h2v29h-2zM374 351h2v29h-2zM380 351h2v29h-2zM386 351h2v29h-2zM394 351h2v29h-2zM402 351h2v29h-2zM404 351h2v29h-2zM412 351h2v29h-2zM598 351h2v29h-2zM660 351h2v29h-2zM664 351h1v29h-1zM140 380h2v29h-2zM166 380h2v29h-2zM176 380h2v29h-2zM198 380h2v29h-2zM214 380h2v29h-2zM218 380h2v29h-2zM236 380h2v29h-2zM238 380h2v29h-2zM286 380h2v29h-2zM290 380h2v29h-2zM292 380h2v29h-2zM312 380h2v29h-2zM314 380h2v29h-2zM318 380h2v29h-2zM322 380h2v29h-2zM326 380h2v29h-2zM330 380h2v29h-2zM334 380h2v29h-2zM336 380h2v29h-2zM356 380h2v29h-2zM360 380h2v29h-2zM366 380h2v29h-2zM374 380h2v29h-2zM378 380h2v29h-2zM400 380h2v29h-2zM404 380h2v29h-2zM408 380h2v29h-2zM410 380h2v29h-2zM582 380h2v29h-2zM596 380h2v29h-2zM598 380h2v29h-2zM610 380h2v29h-2zM612 380h2v29h-2zM620 380h2v29h-2zM626 380h2v29h-2zM630 380h2v29h-2zM636 380h2v29h-2zM642 380h2v29h-2zM644 380h2v29h-2zM126 409h2v29h-2zM128 409h2v29h-2zM130 409h2v29h-2zM138 409h2v29h-2zM154 409h2v29h-2zM162 409h2v29h-2zM180 409h2v29h-2zM184 409h2v29h-2zM190 409h2v29h-2zM196 409h2v29h-2zM204 409h2v29h-2zM232 409h2v29h-2zM240 409h2v29h-2zM242 409h2v29h-2zM248 409h2v29h-2zM258 409h2v29h-2zM260 409h2v29h-2zM262 409h2v29h-2zM266 409h2v29h-2zM270 409h2v29h-2zM274 409h2v29h-2zM310 409h2v29h-2zM314 409h2v29h-2zM340 409h2v29h-2zM342 409h2v29h-2zM344 409h2v29h-2zM346 409h2v29h-2zM354 409h2v29h-2zM366 409h2v29h-2zM370 409h2v29h-2zM384 409h2v29h-2zM396 409h2v29h-2zM402 409h2v29h-2zM408 409h2v29h-2zM136 438h2v29h-2zM138 438h2v29h-2zM148 438h2v29h-2zM160 438h2v29h-2zM162 438h2v29h-2zM180 438h2v29h-2zM190 438h2v29h-2zM196 438h2v29h-2zM202 438h2v29h-2zM204 438h2v29h-2zM206 438h2v29h-2zM218 438h2v29h-2zM226 438h2v29h-2zM230 438h2v29h-2zM236 438h2v29h-2zM242 438h2v29h-2zM264 438h2v29h-2zM272 438h2v29h-2zM280 438h2v29h-2zM284 438h2v29h-2zM296 438h2v29h-2zM304 438h2v29h-2zM306 438h2v29h-2zM318 438h2v29h-2zM324 438h2v29h-2zM330 438h2v29h-2zM332 438h2v29h-2zM334 438h2v29h-2zM338 438h2v29h-2zM358 438h2v29h-2zM366 438h2v29h-2zM380 438h2v29h-2zM386 438h2v29h-2zM402 438h2v29h-2zM422 438h2v29h-2zM528 438h2v29h-2zM546 438h2v29h-2zM556 438h2v29h-2zM126 467h2v29h-2zM146 467h2v29h-2zM148 467h2v29h-2zM154 467h2v29h-2zM186 467h2v29h-2zM188 467h2v29h-2zM192 467h2v29h-2zM210 467h2v29h-2zM238 467h2v29h-2zM242 467h2v29h-2zM250 467h2v29h-2zM258 467h2v29h-2zM264 467h2v29h-2zM272 467h2v29h-2zM274 467h2v29h-2zM314 467h2v29h-2zM332 467h2v29h-2zM340 467h2v29h-2zM364 467h2v29h-2zM370 467h2v29h-2zM396 467h2v29h-2zM526 467h2v29h-2zM598 467h2v29h-2zM126 496h2v29h-2zM136 496h2v29h-2zM158 496h2v29h-2zM160 496h2v29h-2zM162 496h2v29h-2zM164 496h2v29h-2zM178 496h2v29h-2zM190 496h2v29h-2zM200 496h2v29h-2zM208 496h2v29h-2zM214 496h2v29h-2zM228 496h2v29h-2zM234 496h2v29h-2zM238 496h2v29h-2zM250 496h2v29h-2zM256 496h2v29h-2zM276 496h2v29h-2zM282 496h2v29h-2zM290 496h2v29h-2zM304 496h2v29h-2zM312 496h2v29h-2zM330 496h2v29h-2zM334 496h2v29h-2zM346 496h2v29h-2zM348 496h2v29h-2zM354 496h2v29h-2zM360 496h2v29h-2zM394 496h2v29h-2zM410 496h2v29h-2zM424 496h2v29h-2zM480 496h2v29h-2zM554 496h2v29h-2zM636 496h2v29h-2zM128 525h2v29h-2zM204 525h2v29h-2zM296 525h2v29h-2zM320 525h2v29h-2zM332 525h2v29h-2zM356 525h2v29h-2zM360 525h2v29h-2zM392 525h2v29h-2zM406 525h2v29h-2zM412 525h2v29h-2zM440 525h2v29h-2zM504 525h2v29h-2zM562 525h2v29h-2zM576 525h2v29h-2zM582 525h2v29h-2zM642 525h2v29h-2zM664 525h1v29h-1zM290 554h2v29h-2zM300 554h2v29h-2zM312 554h2v29h-2zM314 554h2v29h-2zM318 554h2v29h-2zM324 554h2v29h-2zM332 554h2v29h-2zM342 554h2v29h-2zM370 554h2v29h-2zM372 554h2v29h-2zM386 554h2v29h-2zM394 554h2v29h-2zM406 554h2v29h-2zM498 554h2v29h-2zM554 554h2v29h-2zM570 554h2v29h-2zM578 554h2v29h-2zM586 554h2v29h-2zM602 554h2v29h-2zM638 554h2v29h-2zM664 554h1v29h-1zM310 583h2v29h-2zM314 583h2v29h-2zM320 583h2v29h-2zM324 583h2v29h-2zM342 583h2v29h-2zM344 583h2v29h-2zM386 583h2v29h-2zM392 583h2v29h-2zM400 583h2v29h-2zM404 583h2v29h-2zM406 583h2v29h-2zM588 583h2v29h-2zM610 583h2v29h-2zM614 583h2v29h-2zM660 583h2v29h-2zM664 583h1v29h-1zM164 612h2v29h-2zM218 612h2v29h-2zM294 612h2v29h-2zM296 612h2v29h-2zM300 612h2v29h-2zM334 612h2v29h-2zM352 612h2v29h-2zM376 612h2v29h-2zM380 612h2v29h-2zM398 612h2v29h-2zM400 612h2v29h-2zM404 612h2v29h-2zM408 612h2v29h-2zM564 612h2v29h-2zM574 612h2v29h-2zM592 612h2v29h-2zM602 612h2v29h-2zM604 612h2v29h-2zM606 612h2v29h-2zM630 612h2v29h-2zM638 612h2v29h-2zM648 612h2v29h-2zM652 612h2v29h-2zM434 641h2v29h-2zM456 641h2v29h-2zM478 641h2v29h-2zM508 641h2v29h-2zM512 641h2v29h-2zM520 641h2v29h-2zM528 641h2v29h-2zM536 641h2v29h-2zM548 641h2v29h-2zM574 641h2v29h-2zM582 641h2v29h-2zM588 641h2v29h-2zM618 641h2v29h-2zM640 641h2v29h-2zM270 670h2v29h-2zM420 670h2v29h-2zM456 670h2v29h-2zM470 670h2v29h-2zM512 670h2v29h-2zM532 670h2v29h-2zM544 670h2v29h-2zM546 670h2v29h-2zM584 670h2v29h-2zM590 670h2v29h-2zM596 670h2v29h-2zM598 670h2v29h-2zM602 670h2v29h-2zM618 670h2v29h-2zM652 670h2v29h-2zM148 699h2v29h-2zM446 699h2v29h-2zM626 699h2v29h-2zM628 699h2v29h-2zM136 728h2v29h-2zM218 728h2v29h-2zM228 728h2v29h-2zM250 728h2v29h-2zM444 728h2v29h-2zM462 728h2v29h-2zM496 728h2v29h-2zM520 728h2v29h-2zM614 728h2v29h-2zM618 728h2v29h-2zM426 757h2v29h-2zM444 757h2v29h-2zM454 757h2v29h-2zM456 757h2v29h-2zM462 757h2v29h-2zM466 757h2v29h-2zM478 757h2v29h-2zM480 757h2v29h-2zM494 757h2v29h-2zM516 757h2v29h-2zM570 757h2v29h-2zM582 757h2v29h-2zM584 757h2v29h-2zM588 757h2v29h-2zM618 757h2v29h-2zM628 757h2v29h-2zM648 757h2v29h-2zM222 786h2v29h-2zM254 786h2v29h-2zM258 786h2v29h-2zM272 786h2v29h-2zM334 786h2v29h-2zM358 786h2v29h-2zM414 786h2v29h-2zM446 786h2v29h-2zM448 786h2v29h-2zM454 786h2v29h-2zM474 786h2v29h-2zM522 786h2v29h-2zM552 786h2v29h-2zM572 786h2v29h-2zM576 786h2v29h-2zM610 786h2v29h-2zM648 786h2v29h-2zM650 786h2v29h-2zM164 815h2v29h-2zM170 815h2v29h-2zM178 815h2v29h-2zM230 815h2v29h-2zM268 815h2v29h-2zM290 815h2v29h-2zM304 815h2v29h-2zM424 815h2v29h-2zM448 815h2v29h-2zM456 815h2v29h-2zM464 815h2v29h-2zM480 815h2v29h-2zM498 815h2v29h-2zM500 815h2v29h-2zM508 815h2v29h-2zM518 815h2v29h-2zM522 815h2v29h-2zM528 815h2v29h-2zM532 815h2v29h-2zM558 815h2v29h-2zM574 815h2v29h-2zM578 815h2v29h-2zM588 815h2v29h-2zM620 815h2v29h-2zM626 815h2v29h-2zM632 815h2v29h-2zM646 815h2v29h-2zM126 844h2v29h-2zM260 844h2v29h-2zM314 844h2v29h-2zM436 844h2v29h-2zM470 844h2v29h-2zM494 844h2v29h-2zM500 844h2v29h-2zM524 844h2v29h-2zM530 844h2v29h-2zM582 844h2v29h-2zM600 844h2v29h-2zM652 844h2v29h-2zM136 873h2v29h-2zM246 873h2v29h-2zM290 873h2v29h-2zM324 873h2v29h-2zM406 873h2v29h-2zM422 873h2v29h-2zM430 873h2v29h-2zM434 873h2v29h-2zM436 873h2v29h-2zM438 873h2v29h-2zM446 873h2v29h-2zM454 873h2v29h-2zM466 873h2v29h-2zM470 873h2v29h-2zM488 873h2v29h-2zM492 873h2v29h-2zM504 873h2v29h-2zM506 873h2v29h-2zM526 873h2v29h-2zM546 873h2v29h-2zM548 873h2v29h-2zM550 873h2v29h-2zM558 873h2v29h-2zM576 873h2v29h-2zM592 873h2v29h-2zM598 873h2v29h-2zM624 873h2v29h-2zM632 873h2v29h-2zM140 902h2v29h-2zM200 902h2v29h-2zM348 902h2v29h-2zM416 902h2v29h-2zM418 902h2v29h-2zM424 902h2v29h-2zM428 902h2v29h-2zM442 902h2v29h-2zM476 902h2v29h-2zM490 902h2v29h-2zM498 902h2v29h-2zM504 902h2v29h-2zM506 902h2v29h-2zM508 902h2v29h-2zM534 902h2v29h-2zM536 902h2v29h-2zM540 902h2v29h-2zM548 902h2v29h-2zM556 902h2v29h-2zM566 902h2v29h-2zM574 902h2v29h-2zM576 902h2v29h-2z"/>
<path fill="#f4f0ee" d="M200 90h2v29h-2zM456 90h2v29h-2zM458 90h2v29h-2zM504 90h2v29h-2zM562 90h2v29h-2zM664 90h1v29h-1zM214 119h2v29h-2zM442 119h2v29h-2zM450 119h2v29h-2zM468 119h2v29h-2zM482 119h2v29h-2zM492 119h2v29h-2zM520 119h2v29h-2zM530 119h2v29h-2zM536 119h2v29h-2zM580 119h2v29h-2zM662 119h2v29h-2zM130 148h2v29h-2zM144 148h2v29h-2zM154 148h2v29h-2zM168 148h2v29h-2zM188 148h2v29h-2zM200 148h2v29h-2zM250 148h2v29h-2zM264 148h2v29h-2zM408 148h2v29h-2zM426 148h2v29h-2zM430 148h2v29h-2zM442 148h2v29h-2zM462 148h2v29h-2zM472 148h2v29h-2zM476 148h2v29h-2zM480 148h2v29h-2zM484 148h2v29h-2zM486 148h2v29h-2zM496 148h2v29h-2zM500 148h2v29h-2zM504 148h2v29h-2zM508 148h2v29h-2zM526 148h2v29h-2zM534 148h2v29h-2zM540 148h2v29h-2zM556 148h2v29h-2zM562 148h2v29h-2zM566 148h2v29h-2zM568 148h2v29h-2zM572 148h2v29h-2zM580 148h2v29h-2zM664 148h1v29h-1zM134 177h2v29h-2zM140 177h2v29h-2zM158 177h2v29h-2zM168 177h2v29h-2zM170 177h2v29h-2zM174 177h2v29h-2zM178 177h2v29h-2zM182 177h2v29h-2zM206 177h2v29h-2zM226 177h2v29h-2zM230 177h2v29h-2zM244 177h2v29h-2zM252 177h2v29h-2zM256 177h2v29h-2zM284 177h2v29h-2zM286 177h2v29h-2zM288 177h2v29h-2zM290 177h2v29h-2zM294 177h2v29h-2zM296 177h2v29h-2zM320 177h2v29h-2zM326 177h2v29h-2zM328 177h2v29h-2zM366 177h2v29h-2zM368 177h2v29h-2zM374 177h2v29h-2zM378 177h2v29h-2zM394 177h2v29h-2zM398 177h2v29h-2zM404 177h2v29h-2zM408 177h2v29h-2zM432 177h2v29h-2zM442 177h2v29h-2zM448 177h2v29h-2zM450 177h2v29h-2zM452 177h2v29h-2zM454 177h2v29h-2zM458 177h2v29h-2zM486 177h2v29h-2zM498 177h2v29h-2zM500 177h2v29h-2zM506 177h2v29h-2zM514 177h2v29h-2zM534 177h2v29h-2zM546 177h2v29h-2zM552 177h2v29h-2zM576 177h2v29h-2zM586 177h2v29h-2zM620 177h2v29h-2zM640 177h2v29h-2zM646 177h2v29h-2zM140 206h2v29h-2zM162 206h2v29h-2zM178 206h2v29h-2zM180 206h2v29h-2zM184 206h2v29h-2zM186 206h2v29h-2zM194 206h2v29h-2zM200 206h2v29h-2zM202 206h2v29h-2zM206 206h2v29h-2zM222 206h2v29h-2zM224 206h2v29h-2zM244 206h2v29h-2zM248 206h2v29h-2zM254 206h2v29h-2zM274 206h2v29h-2zM288 206h2v29h-2zM302 206h2v29h-2zM310 206h2v29h-2zM314 206h2v29h-2zM322 206h2v29h-2zM324 206h2v29h-2zM328 206h2v29h-2zM342 206h2v29h-2zM378 206h2v29h-2zM380 206h2v29h-2zM390 206h2v29h-2zM392 206h2v29h-2zM408 206h2v29h-2zM420 206h2v29h-2zM424 206h2v29h-2zM442 206h2v29h-2zM448 206h2v29h-2zM464 206h2v29h-2zM480 206h2v29h-2zM564 206h2v29h-2zM566 206h2v29h-2zM586 206h2v29h-2zM588 206h2v29h-2zM602 206h2v29h-2zM606 206h2v29h-2zM608 206h2v29h-2zM610 206h2v29h-2zM612 206h2v29h-2zM618 206h2v29h-2zM620 206h2v29h-2zM630 206h2v29h-2zM642 206h2v29h-2zM660 206h2v29h-2zM154 235h2v29h-2zM158 235h2v29h-2zM160 235h2v29h-2zM180 235h2v29h-2zM196 235h2v29h-2zM204 235h2v29h-2zM206 235h2v29h-2zM208 235h2v29h-2zM218 235h2v29h-2zM230 235h2v29h-2zM238 235h2v29h-2zM242 235h2v29h-2zM244 235h2v29h-2zM246 235h2v29h-2zM248 235h2v29h-2zM250 235h2v29h-2zM254 235h2v29h-2zM258 235h2v29h-2zM264 235h2v29h-2zM308 235h2v29h-2zM358 235h2v29h-2zM362 235h2v29h-2zM404 235h2v29h-2zM406 235h2v29h-2zM412 235h2v29h-2zM586 235h2v29h-2zM130 264h2v29h-2zM178 264h2v29h-2zM186 264h2v29h-2zM194 264h2v29h-2zM224 264h2v29h-2zM234 264h2v29h-2zM242 264h2v29h-2zM244 264h2v29h-2zM258 264h2v29h-2zM270 264h2v29h-2zM284 264h2v29h-2zM318 264h2v29h-2zM324 264h2v29h-2zM338 264h2v29h-2zM346 264h2v29h-2zM362 264h2v29h-2zM364 264h2v29h-2zM372 264h2v29h-2zM374 264h2v29h-2zM380 264h2v29h-2zM388 264h2v29h-2zM392 264h2v29h-2zM396 264h2v29h-2zM408 264h2v29h-2zM580 264h2v29h-2zM664 264h1v29h-1zM132 293h2v29h-2zM134 293h2v29h-2zM162 293h2v29h-2zM252 293h2v29h-2zM260 293h2v29h-2zM266 293h2v29h-2zM272 293h2v29h-2zM434 293h2v29h-2zM436 293h2v29h-2zM454 293h2v29h-2zM478 293h2v29h-2zM494 293h2v29h-2zM616 293h2v29h-2zM640 293h2v29h-2zM128 322h2v29h-2zM130 322h2v29h-2zM132 322h2v29h-2zM166 322h2v29h-2zM176 322h2v29h-2zM184 322h2v29h-2zM192 322h2v29h-2zM202 322h2v29h-2zM204 322h2v29h-2zM208 322h2v29h-2zM216 322h2v29h-2zM220 322h2v29h-2zM230 322h2v29h-2zM252 322h2v29h-2zM258 322h2v29h-2zM274 322h2v29h-2zM278 322h2v29h-2zM280 322h2v29h-2zM286 322h2v29h-2zM326 322h2v29h-2zM356 322h2v29h-2zM362 322h2v29h-2zM502 322h2v29h-2zM540 322h2v29h-2zM562 322h2v29h-2zM582 322h2v29h-2zM616 322h2v29h-2zM634 322h2v29h-2zM662 322h2v29h-2zM128 351h2v29h-2zM142 351h2v29h-2zM172 351h2v29h-2zM184 351h2v29h-2zM204 351h2v29h-2zM210 351h2v29h-2zM212 351h2v29h-2zM214 351h2v29h-2zM224 351h2v29h-2zM226 351h2v29h-2zM234 351h2v29h-2zM250 351h2v29h-2zM252 351h2v29h-2zM258 351h2v29h-2zM270 351h2v29h-2zM294 351h2v29h-2zM330 351h2v29h-2zM338 351h2v29h-2zM340 351h2v29h-2zM356 351h2v29h-2zM358 351h2v29h-2zM368 351h2v29h-2zM382 351h2v29h-2zM410 351h2v29h-2zM612 351h2v29h-2zM620 351h2v29h-2zM662 351h2v29h-2zM128 380h2v29h-2zM130 380h2v29h-2zM148 380h2v29h-2zM152 380h2v29h-2zM154 380h2v29h-2zM164 380h2v29h-2zM180 380h2v29h-2zM182 380h2v29h-2zM184 380h2v29h-2zM188 380h2v29h-2zM192 380h2v29h-2zM196 380h2v29h-2zM204 380h2v29h-2zM240 380h2v29h-2zM244 380h2v29h-2zM252 380h2v29h-2zM268 380h2v29h-2zM276 380h2v29h-2zM284 380h2v29h-2zM294 380h2v29h-2zM296 380h2v29h-2zM308 380h2v29h-2zM338 380h2v29h-2zM352 380h2v29h-2zM354 380h2v29h-2zM368 380h2v29h-2zM380 380h2v29h-2zM586 380h2v29h-2zM600 380h2v29h-2zM604 380h2v29h-2zM606 380h2v29h-2zM616 380h2v29h-2zM632 380h2v29h-2zM638 380h2v29h-2zM650 380h2v29h-2zM652 380h2v29h-2zM136 409h2v29h-2zM146 409h2v29h-2zM164 409h2v29h-2zM168 409h2v29h-2zM172 409h2v29h-2zM176 409h2v29h-2zM188 409h2v29h-2zM194 409h2v29h-2zM200 409h2v29h-2zM212 409h2v29h-2zM214 409h2v29h-2zM222 409h2v29h-2zM226 409h2v29h-2zM228 409h2v29h-2zM234 409h2v29h-2zM264 409h2v29h-2zM282 409h2v29h-2zM286 409h2v29h-2zM290 409h2v29h-2zM294 409h2v29h-2zM302 409h2v29h-2zM304 409h2v29h-2zM308 409h2v29h-2zM312 409h2v29h-2zM318 409h2v29h-2zM322 409h2v29h-2zM324 409h2v29h-2zM328 409h2v29h-2zM330 409h2v29h-2zM338 409h2v29h-2zM374 409h2v29h-2zM382 409h2v29h-2zM398 409h2v29h-2zM400 409h2v29h-2zM410 409h2v29h-2zM412 409h2v29h-2zM620 409h2v29h-2zM628 409h2v29h-2zM636 409h2v29h-2zM142 438h2v29h-2zM174 438h2v29h-2zM186 438h2v29h-2zM188 438h2v29h-2zM192 438h2v29h-2zM200 438h2v29h-2zM220 438h2v29h-2zM224 438h2v29h-2zM228 438h2v29h-2zM232 438h2v29h-2zM250 438h2v29h-2zM270 438h2v29h-2zM294 438h2v29h-2zM298 438h2v29h-2zM314 438h2v29h-2zM320 438h2v29h-2zM322 438h2v29h-2zM340 438h2v29h-2zM344 438h2v29h-2zM346 438h2v29h-2zM350 438h2v29h-2zM362 438h2v29h-2zM376 438h2v29h-2zM388 438h2v29h-2zM390 438h2v29h-2zM396 438h2v29h-2zM408 438h2v29h-2zM432 438h2v29h-2zM452 438h2v29h-2zM456 438h2v29h-2zM470 438h2v29h-2zM554 438h2v29h-2zM566 438h2v29h-2zM568 438h2v29h-2zM576 438h2v29h-2zM596 438h2v29h-2zM662 438h2v29h-2zM138 467h2v29h-2zM144 467h2v29h-2zM164 467h2v29h-2zM170 467h2v29h-2zM182 467h2v29h-2zM194 467h2v29h-2zM200 467h2v29h-2zM204 467h2v29h-2zM232 467h2v29h-2zM236 467h2v29h-2zM244 467h2v29h-2zM282 467h2v29h-2zM346 467h2v29h-2zM660 467h2v29h-2zM664 467h1v29h-1zM140 496h2v29h-2zM148 496h2v29h-2zM226 496h2v29h-2zM246 496h2v29h-2zM280 496h2v29h-2zM294 496h2v29h-2zM318 496h2v29h-2zM332 496h2v29h-2zM344 496h2v29h-2zM352 496h2v29h-2zM356 496h2v29h-2zM370 496h2v29h-2zM374 496h2v29h-2zM388 496h2v29h-2zM398 496h2v29h-2zM414 496h2v29h-2zM496 496h2v29h-2zM600 496h2v29h-2zM662 496h2v29h-2zM268 525h2v29h-2zM330 525h2v29h-2zM340 525h2v29h-2zM388 525h2v29h-2zM394 525h2v29h-2zM420 525h2v29h-2zM452 525h2v29h-2zM454 525h2v29h-2zM470 525h2v29h-2zM498 525h2v29h-2zM514 525h2v29h-2zM540 525h2v29h-2zM662 525h2v29h-2zM192 554h2v29h-2zM294 554h2v29h-2zM298 554h2v29h-2zM326 554h2v29h-2zM336 554h2v29h-2zM352 554h2v29h-2zM362 554h2v29h-2zM424 554h2v29h-2zM430 554h2v29h-2zM436 554h2v29h-2zM438 554h2v29h-2zM450 554h2v29h-2zM470 554h2v29h-2zM486 554h2v29h-2zM496 554h2v29h-2zM512 554h2v29h-2zM528 554h2v29h-2zM574 554h2v29h-2zM576 554h2v29h-2zM660 554h2v29h-2zM662 554h2v29h-2zM248 583h2v29h-2zM290 583h2v29h-2zM292 583h2v29h-2zM298 583h2v29h-2zM306 583h2v29h-2zM308 583h2v29h-2zM312 583h2v29h-2zM338 583h2v29h-2zM372 583h2v29h-2zM376 583h2v29h-2zM394 583h2v29h-2zM412 583h2v29h-2zM428 583h2v29h-2zM472 583h2v29h-2zM496 583h2v29h-2zM618 583h2v29h-2zM662 583h2v29h-2zM134 612h2v29h-2zM206 612h2v29h-2zM264 612h2v29h-2zM312 612h2v29h-2zM320 612h2v29h-2zM324 612h2v29h-2zM326 612h2v29h-2zM328 612h2v29h-2zM330 612h2v29h-2zM336 612h2v29h-2zM338 612h2v29h-2zM354 612h2v29h-2zM358 612h2v29h-2zM362 612h2v29h-2zM364 612h2v29h-2zM368 612h2v29h-2zM374 612h2v29h-2zM382 612h2v29h-2zM384 612h2v29h-2zM386 612h2v29h-2zM390 612h2v29h-2zM392 612h2v29h-2zM394 612h2v29h-2zM410 612h2v29h-2zM428 612h2v29h-2zM456 612h2v29h-2zM492 612h2v29h-2zM524 612h2v29h-2zM526 612h2v29h-2zM538 612h2v29h-2zM552 612h2v29h-2zM556 612h2v29h-2zM562 612h2v29h-2zM582 612h2v29h-2zM590 612h2v29h-2zM594 612h2v29h-2zM608 612h2v29h-2zM624 612h2v29h-2zM626 612h2v29h-2zM662 612h2v29h-2zM664 612h1v29h-1zM206 641h2v29h-2zM358 641h2v29h-2zM408 641h2v29h-2zM424 641h2v29h-2zM436 641h2v29h-2zM440 641h2v29h-2zM458 641h2v29h-2zM522 641h2v29h-2zM532 641h2v29h-2zM552 641h2v29h-2zM558 641h2v29h-2zM578 641h2v29h-2zM586 641h2v29h-2zM616 641h2v29h-2zM622 641h2v29h-2zM626 641h2v29h-2zM630 641h2v29h-2zM636 641h2v29h-2zM638 641h2v29h-2zM642 641h2v29h-2zM132 670h2v29h-2zM174 670h2v29h-2zM178 670h2v29h-2zM386 670h2v29h-2zM416 670h2v29h-2zM426 670h2v29h-2zM480 670h2v29h-2zM530 670h2v29h-2zM550 670h2v29h-2zM572 670h2v29h-2zM588 670h2v29h-2zM592 670h2v29h-2zM594 670h2v29h-2zM604 670h2v29h-2zM610 670h2v29h-2zM614 670h2v29h-2zM624 670h2v29h-2zM628 670h2v29h-2zM638 670h2v29h-2zM646 670h2v29h-2zM188 699h2v29h-2zM222 699h2v29h-2zM320 699h2v29h-2zM586 699h2v29h-2zM602 699h2v29h-2zM618 699h2v29h-2zM144 728h2v29h-2zM156 728h2v29h-2zM164 728h2v29h-2zM184 728h2v29h-2zM210 728h2v29h-2zM256 728h2v29h-2zM264 728h2v29h-2zM318 728h2v29h-2zM350 728h2v29h-2zM358 728h2v29h-2zM404 728h2v29h-2zM650 728h2v29h-2zM652 728h2v29h-2zM164 757h2v29h-2zM200 757h2v29h-2zM250 757h2v29h-2zM258 757h2v29h-2zM294 757h2v29h-2zM436 757h2v29h-2zM476 757h2v29h-2zM590 757h2v29h-2zM594 757h2v29h-2zM620 757h2v29h-2zM624 757h2v29h-2zM632 757h2v29h-2zM652 757h2v29h-2zM138 786h2v29h-2zM160 786h2v29h-2zM194 786h2v29h-2zM204 786h2v29h-2zM220 786h2v29h-2zM232 786h2v29h-2zM252 786h2v29h-2zM282 786h2v29h-2zM370 786h2v29h-2zM440 786h2v29h-2zM532 786h2v29h-2zM644 786h2v29h-2zM128 815h2v29h-2zM198 815h2v29h-2zM252 815h2v29h-2zM280 815h2v29h-2zM302 815h2v29h-2zM364 815h2v29h-2zM396 815h2v29h-2zM400 815h2v29h-2zM504 815h2v29h-2zM512 815h2v29h-2zM514 815h2v29h-2zM542 815h2v29h-2zM552 815h2v29h-2zM584 815h2v29h-2zM590 815h2v29h-2zM598 815h2v29h-2zM602 815h2v29h-2zM606 815h2v29h-2zM610 815h2v29h-2zM614 815h2v29h-2zM618 815h2v29h-2zM628 815h2v29h-2zM638 815h2v29h-2zM640 815h2v29h-2zM136 844h2v29h-2zM140 844h2v29h-2zM216 844h2v29h-2zM220 844h2v29h-2zM244 844h2v29h-2zM252 844h2v29h-2zM264 844h2v29h-2zM362 844h2v29h-2zM420 844h2v29h-2zM424 844h2v29h-2zM458 844h2v29h-2zM520 844h2v29h-2zM660 844h2v29h-2zM152 873h2v29h-2zM170 873h2v29h-2zM180 873h2v29h-2zM184 873h2v29h-2zM190 873h2v29h-2zM258 873h2v29h-2zM412 873h2v29h-2zM428 873h2v29h-2zM440 873h2v29h-2zM448 873h2v29h-2zM482 873h2v29h-2zM486 873h2v29h-2zM490 873h2v29h-2zM498 873h2v29h-2zM508 873h2v29h-2zM544 873h2v29h-2zM564 873h2v29h-2zM582 873h2v29h-2zM626 873h2v29h-2zM636 873h2v29h-2zM646 873h2v29h-2zM650 873h2v29h-2zM134 902h2v29h-2zM260 902h2v29h-2zM278 902h2v29h-2zM286 902h2v29h-2zM326 902h2v29h-2zM350 902h2v29h-2zM364 902h2v29h-2zM446 902h2v29h-2zM572 902h2v29h-2zM578 902h2v29h-2z"/>
<path fill="#dfeaf0" d="M290 90h2v29h-2zM298 90h2v29h-2zM304 90h2v29h-2zM308 90h2v29h-2zM314 90h2v29h-2zM316 90h2v29h-2zM326 90h2v29h-2zM338 90h2v29h-2zM340 90h2v29h-2zM354 90h2v29h-2zM374 90h2v29h-2zM378 90h2v29h-2zM380 90h2v29h-2zM384 90h2v29h-2zM386 90h2v29h-2zM388 90h2v29h-2zM392 90h2v29h-2zM406 90h2v29h-2zM414 90h2v29h-2zM582 90h2v29h-2zM584 90h2v29h-2zM590 90h2v29h-2zM596 90h2v29h-2zM598 90h2v29h-2zM602 90h2v29h-2zM608 90h2v29h-2zM620 90h2v29h-2zM632 90h2v29h-2zM636 90h2v29h-2zM638 90h2v29h-2zM640 90h2v29h-2zM652 90h2v29h-2zM294 119h2v29h-2zM298 119h2v29h-2zM300 119h2v29h-2zM310 119h2v29h-2zM318 119h2v29h-2zM342 119h2v29h-2zM346 119h2v29h-2zM352 119h2v29h-2zM356 119h2v29h-2zM364 119h2v29h-2zM378 119h2v29h-2zM382 119h2v29h-2zM388 119h2v29h-2zM396 119h2v29h-2zM398 119h2v29h-2zM406 119h2v29h-2zM588 119h2v29h-2zM608 119h2v29h-2zM620 119h2v29h-2zM646 119h2v29h-2zM652 119h2v29h-2zM292 148h2v29h-2zM296 148h2v29h-2zM298 148h2v29h-2zM300 148h2v29h-2zM314 148h2v29h-2zM334 148h2v29h-2zM338 148h2v29h-2zM344 148h2v29h-2zM370 148h2v29h-2zM384 148h2v29h-2zM400 148h2v29h-2zM402 148h2v29h-2zM414 148h2v29h-2zM582 148h2v29h-2zM596 148h2v29h-2zM612 148h2v29h-2zM642 148h2v29h-2zM592 177h2v29h-2zM594 177h2v29h-2zM358 206h2v29h-2zM426 235h2v29h-2zM450 235h2v29h-2zM458 235h2v29h-2zM480 235h2v29h-2zM482 235h2v29h-2zM486 235h2v29h-2zM490 235h2v29h-2zM518 235h2v29h-2zM524 235h2v29h-2zM526 235h2v29h-2zM534 235h2v29h-2zM538 235h2v29h-2zM566 235h2v29h-2zM434 264h2v29h-2zM440 264h2v29h-2zM444 264h2v29h-2zM454 264h2v29h-2zM472 264h2v29h-2zM500 264h2v29h-2zM502 264h2v29h-2zM526 264h2v29h-2zM532 264h2v29h-2zM560 264h2v29h-2zM576 264h2v29h-2zM604 264h2v29h-2zM636 264h2v29h-2zM652 264h2v29h-2zM654 264h2v29h-2zM430 293h2v29h-2zM446 293h2v29h-2zM480 293h2v29h-2zM596 293h2v29h-2zM430 322h2v29h-2zM452 322h2v29h-2zM456 322h2v29h-2zM492 322h2v29h-2zM494 322h2v29h-2zM538 322h2v29h-2zM620 322h2v29h-2zM418 351h2v29h-2zM432 351h2v29h-2zM434 351h2v29h-2zM444 351h2v29h-2zM448 351h2v29h-2zM454 351h2v29h-2zM456 351h2v29h-2zM460 351h2v29h-2zM464 351h2v29h-2zM468 351h2v29h-2zM472 351h2v29h-2zM480 351h2v29h-2zM492 351h2v29h-2zM508 351h2v29h-2zM514 351h2v29h-2zM516 351h2v29h-2zM520 351h2v29h-2zM546 351h2v29h-2zM554 351h2v29h-2zM556 351h2v29h-2zM566 351h2v29h-2zM570 351h2v29h-2zM572 351h2v29h-2zM576 351h2v29h-2zM580 351h2v29h-2zM592 351h2v29h-2zM596 351h2v29h-2zM624 351h2v29h-2zM626 351h2v29h-2zM642 351h2v29h-2zM648 351h2v29h-2zM652 351h2v29h-2zM426 380h2v29h-2zM430 380h2v29h-2zM438 380h2v29h-2zM450 380h2v29h-2zM472 380h2v29h-2zM486 380h2v29h-2zM506 380h2v29h-2zM514 380h2v29h-2zM518 380h2v29h-2zM524 380h2v29h-2zM540 380h2v29h-2zM546 380h2v29h-2zM550 380h2v29h-2zM422 409h2v29h-2zM424 409h2v29h-2zM466 409h2v29h-2zM470 409h2v29h-2zM472 409h2v29h-2zM480 409h2v29h-2zM482 409h2v29h-2zM500 409h2v29h-2zM516 409h2v29h-2zM528 409h2v29h-2zM536 409h2v29h-2zM538 409h2v29h-2zM544 409h2v29h-2zM546 409h2v29h-2zM558 409h2v29h-2zM588 409h2v29h-2zM624 409h2v29h-2zM642 409h2v29h-2zM504 438h2v29h-2zM536 438h2v29h-2zM540 438h2v29h-2zM544 438h2v29h-2zM548 438h2v29h-2zM604 438h2v29h-2zM612 438h2v29h-2zM614 438h2v29h-2zM416 467h2v29h-2zM428 467h2v29h-2zM436 467h2v29h-2zM512 467h2v29h-2zM544 467h2v29h-2zM552 467h2v29h-2zM556 467h2v29h-2zM576 467h2v29h-2zM458 496h2v29h-2zM466 496h2v29h-2zM518 496h2v29h-2zM544 496h2v29h-2zM558 496h2v29h-2zM566 496h2v29h-2zM574 496h2v29h-2zM626 496h2v29h-2zM642 496h2v29h-2zM654 496h2v29h-2zM150 525h2v29h-2zM162 525h2v29h-2zM178 525h2v29h-2zM202 525h2v29h-2zM206 525h2v29h-2zM218 525h2v29h-2zM224 525h2v29h-2zM240 525h2v29h-2zM266 525h2v29h-2zM134 554h2v29h-2zM144 554h2v29h-2zM154 554h2v29h-2zM170 554h2v29h-2zM180 554h2v29h-2zM194 554h2v29h-2zM218 554h2v29h-2zM228 554h2v29h-2zM230 554h2v29h-2zM236 554h2v29h-2zM260 554h2v29h-2zM270 554h2v29h-2zM276 554h2v29h-2zM282 554h2v29h-2zM322 554h2v29h-2zM494 554h2v29h-2zM146 583h2v29h-2zM170 583h2v29h-2zM180 583h2v29h-2zM244 583h2v29h-2zM284 583h2v29h-2zM426 583h2v29h-2zM482 583h2v29h-2zM136 612h2v29h-2zM158 612h2v29h-2zM172 612h2v29h-2zM234 612h2v29h-2zM266 612h2v29h-2zM274 612h2v29h-2zM568 612h2v29h-2zM136 641h2v29h-2zM142 641h2v29h-2zM152 641h2v29h-2zM156 641h2v29h-2zM172 641h2v29h-2zM186 641h2v29h-2zM190 641h2v29h-2zM200 641h2v29h-2zM214 641h2v29h-2zM224 641h2v29h-2zM240 641h2v29h-2zM250 641h2v29h-2zM268 641h2v29h-2zM286 641h2v29h-2zM308 641h2v29h-2zM316 641h2v29h-2zM324 641h2v29h-2zM356 641h2v29h-2zM362 641h2v29h-2zM376 641h2v29h-2zM382 641h2v29h-2zM410 641h2v29h-2zM412 641h2v29h-2zM164 670h2v29h-2zM170 670h2v29h-2zM190 670h2v29h-2zM252 670h2v29h-2zM256 670h2v29h-2zM264 670h2v29h-2zM274 670h2v29h-2zM276 670h2v29h-2zM298 670h2v29h-2zM336 670h2v29h-2zM338 670h2v29h-2zM366 670h2v29h-2zM368 670h2v29h-2zM378 670h2v29h-2zM384 670h2v29h-2zM394 670h2v29h-2zM144 699h2v29h-2zM146 699h2v29h-2zM208 699h2v29h-2zM234 699h2v29h-2zM244 699h2v29h-2zM254 699h2v29h-2zM266 699h2v29h-2zM274 699h2v29h-2zM286 699h2v29h-2zM306 699h2v29h-2zM312 699h2v29h-2zM324 699h2v29h-2zM344 699h2v29h-2zM356 699h2v29h-2zM358 699h2v29h-2zM372 699h2v29h-2zM378 699h2v29h-2zM382 699h2v29h-2zM386 699h2v29h-2zM390 699h2v29h-2zM392 699h2v29h-2zM394 699h2v29h-2zM402 699h2v29h-2zM408 699h2v29h-2zM178 728h2v29h-2zM192 728h2v29h-2zM284 728h2v29h-2zM288 728h2v29h-2zM310 728h2v29h-2zM352 728h2v29h-2zM356 728h2v29h-2zM156 757h2v29h-2zM178 757h2v29h-2zM210 757h2v29h-2zM242 757h2v29h-2zM244 757h2v29h-2zM326 757h2v29h-2zM328 757h2v29h-2zM340 757h2v29h-2zM342 757h2v29h-2zM356 757h2v29h-2zM394 757h2v29h-2zM152 786h2v29h-2zM320 786h2v29h-2zM332 786h2v29h-2zM350 786h2v29h-2zM368 786h2v29h-2zM376 786h2v29h-2zM380 786h2v29h-2zM126 815h2v29h-2zM136 815h2v29h-2zM184 815h2v29h-2zM368 815h2v29h-2zM388 815h2v29h-2zM394 815h2v29h-2zM406 815h2v29h-2zM414 815h2v29h-2zM142 844h2v29h-2zM150 844h2v29h-2zM238 844h2v29h-2zM262 844h2v29h-2zM276 844h2v29h-2zM292 844h2v29h-2zM296 844h2v29h-2zM306 844h2v29h-2zM324 844h2v29h-2zM336 844h2v29h-2zM344 844h2v29h-2zM352 844h2v29h-2zM364 844h2v29h-2zM398 844h2v29h-2zM212 873h2v29h-2zM322 873h2v29h-2zM326 873h2v29h-2zM336 873h2v29h-2zM338 873h2v29h-2zM348 873h2v29h-2zM366 873h2v29h-2zM376 873h2v29h-2zM398 873h2v29h-2zM188 902h2v29h-2zM404 902h2v29h-2z"/>
<path fill="#e7eef1" d="M292 90h2v29h-2zM322 90h2v29h-2zM332 90h2v29h-2zM336 90h2v29h-2zM344 90h2v29h-2zM394 90h2v29h-2zM606 90h2v29h-2zM612 90h2v29h-2zM586 119h2v29h-2zM606 119h2v29h-2zM312 148h2v29h-2zM368 148h2v29h-2zM372 148h2v29h-2zM376 148h2v29h-2zM592 148h2v29h-2zM602 148h2v29h-2zM610 148h2v29h-2zM630 148h2v29h-2zM632 148h2v29h-2zM350 177h2v29h-2zM370 177h2v29h-2zM530 177h2v29h-2zM606 177h2v29h-2zM628 177h2v29h-2zM290 206h2v29h-2zM558 206h2v29h-2zM432 235h2v29h-2zM434 235h2v29h-2zM436 235h2v29h-2zM446 235h2v29h-2zM452 235h2v29h-2zM468 235h2v29h-2zM476 235h2v29h-2zM478 235h2v29h-2zM484 235h2v29h-2zM494 235h2v29h-2zM496 235h2v29h-2zM498 235h2v29h-2zM500 235h2v29h-2zM504 235h2v29h-2zM508 235h2v29h-2zM530 235h2v29h-2zM532 235h2v29h-2zM546 235h2v29h-2zM550 235h2v29h-2zM552 235h2v29h-2zM570 235h2v29h-2zM574 235h2v29h-2zM576 235h2v29h-2zM582 235h2v29h-2zM584 235h2v29h-2zM592 235h2v29h-2zM596 235h2v29h-2zM602 235h2v29h-2zM636 235h2v29h-2zM644 235h2v29h-2zM654 235h2v29h-2zM452 264h2v29h-2zM456 264h2v29h-2zM464 264h2v29h-2zM468 264h2v29h-2zM476 264h2v29h-2zM482 264h2v29h-2zM506 264h2v29h-2zM512 264h2v29h-2zM518 264h2v29h-2zM522 264h2v29h-2zM524 264h2v29h-2zM534 264h2v29h-2zM536 264h2v29h-2zM542 264h2v29h-2zM544 264h2v29h-2zM550 264h2v29h-2zM552 264h2v29h-2zM558 264h2v29h-2zM566 264h2v29h-2zM574 264h2v29h-2zM586 264h2v29h-2zM592 264h2v29h-2zM608 264h2v29h-2zM616 264h2v29h-2zM624 264h2v29h-2zM628 264h2v29h-2zM642 264h2v29h-2zM646 264h2v29h-2zM650 264h2v29h-2zM418 293h2v29h-2zM432 293h2v29h-2zM460 293h2v29h-2zM462 293h2v29h-2zM468 293h2v29h-2zM470 293h2v29h-2zM492 293h2v29h-2zM496 293h2v29h-2zM500 293h2v29h-2zM504 293h2v29h-2zM518 293h2v29h-2zM524 293h2v29h-2zM530 293h2v29h-2zM534 293h2v29h-2zM548 293h2v29h-2zM560 293h2v29h-2zM574 293h2v29h-2zM576 293h2v29h-2zM578 293h2v29h-2zM592 293h2v29h-2zM594 293h2v29h-2zM426 322h2v29h-2zM446 322h2v29h-2zM448 322h2v29h-2zM462 322h2v29h-2zM468 322h2v29h-2zM478 322h2v29h-2zM482 322h2v29h-2zM498 322h2v29h-2zM500 322h2v29h-2zM504 322h2v29h-2zM508 322h2v29h-2zM514 322h2v29h-2zM526 322h2v29h-2zM528 322h2v29h-2zM530 322h2v29h-2zM532 322h2v29h-2zM534 322h2v29h-2zM564 322h2v29h-2zM580 322h2v29h-2zM612 322h2v29h-2zM648 322h2v29h-2zM298 351h2v29h-2zM344 351h2v29h-2zM428 351h2v29h-2zM430 351h2v29h-2zM458 351h2v29h-2zM474 351h2v29h-2zM498 351h2v29h-2zM506 351h2v29h-2zM510 351h2v29h-2zM512 351h2v29h-2zM540 351h2v29h-2zM542 351h2v29h-2zM550 351h2v29h-2zM582 351h2v29h-2zM584 351h2v29h-2zM586 351h2v29h-2zM604 351h2v29h-2zM614 351h2v29h-2zM616 351h2v29h-2zM630 351h2v29h-2zM644 351h2v29h-2zM646 351h2v29h-2zM162 380h2v29h-2zM190 380h2v29h-2zM222 380h2v29h-2zM248 380h2v29h-2zM250 380h2v29h-2zM432 380h2v29h-2zM434 380h2v29h-2zM436 380h2v29h-2zM448 380h2v29h-2zM470 380h2v29h-2zM496 380h2v29h-2zM498 380h2v29h-2zM516 380h2v29h-2zM522 380h2v29h-2zM526 380h2v29h-2zM536 380h2v29h-2zM544 380h2v29h-2zM580 380h2v29h-2zM660 380h2v29h-2zM416 409h2v29h-2zM420 409h2v29h-2zM432 409h2v29h-2zM436 409h2v29h-2zM446 409h2v29h-2zM448 409h2v29h-2zM452 409h2v29h-2zM462 409h2v29h-2zM464 409h2v29h-2zM486 409h2v29h-2zM518 409h2v29h-2zM520 409h2v29h-2zM522 409h2v29h-2zM524 409h2v29h-2zM576 409h2v29h-2zM584 409h2v29h-2zM594 409h2v29h-2zM612 409h2v29h-2zM640 409h2v29h-2zM368 438h2v29h-2zM416 438h2v29h-2zM430 438h2v29h-2zM444 438h2v29h-2zM446 438h2v29h-2zM448 438h2v29h-2zM458 438h2v29h-2zM462 438h2v29h-2zM472 438h2v29h-2zM476 438h2v29h-2zM486 438h2v29h-2zM494 438h2v29h-2zM500 438h2v29h-2zM514 438h2v29h-2zM516 438h2v29h-2zM524 438h2v29h-2zM558 438h2v29h-2zM560 438h2v29h-2zM572 438h2v29h-2zM578 438h2v29h-2zM594 438h2v29h-2zM616 438h2v29h-2zM620 438h2v29h-2zM640 438h2v29h-2zM646 438h2v29h-2zM648 438h2v29h-2zM650 438h2v29h-2zM656 438h2v29h-2zM180 467h2v29h-2zM420 467h2v29h-2zM426 467h2v29h-2zM446 467h2v29h-2zM452 467h2v29h-2zM454 467h2v29h-2zM470 467h2v29h-2zM472 467h2v29h-2zM474 467h2v29h-2zM480 467h2v29h-2zM486 467h2v29h-2zM494 467h2v29h-2zM496 467h2v29h-2zM502 467h2v29h-2zM514 467h2v29h-2zM518 467h2v29h-2zM520 467h2v29h-2zM530 467h2v29h-2zM532 467h2v29h-2zM534 467h2v29h-2zM536 467h2v29h-2zM540 467h2v29h-2zM554 467h2v29h-2zM566 467h2v29h-2zM586 467h2v29h-2zM596 467h2v29h-2zM614 467h2v29h-2zM618 467h2v29h-2zM620 467h2v29h-2zM626 467h2v29h-2zM630 467h2v29h-2zM632 467h2v29h-2zM636 467h2v29h-2zM650 467h2v29h-2zM652 467h2v29h-2zM420 496h2v29h-2zM430 496h2v29h-2zM436 496h2v29h-2zM442 496h2v29h-2zM450 496h2v29h-2zM456 496h2v29h-2zM460 496h2v29h-2zM464 496h2v29h-2zM486 496h2v29h-2zM506 496h2v29h-2zM510 496h2v29h-2zM512 496h2v29h-2zM514 496h2v29h-2zM516 496h2v29h-2zM522 496h2v29h-2zM524 496h2v29h-2zM530 496h2v29h-2zM532 496h2v29h-2zM534 496h2v29h-2zM538 496h2v29h-2zM548 496h2v29h-2zM564 496h2v29h-2zM578 496h2v29h-2zM580 496h2v29h-2zM604 496h2v29h-2zM622 496h2v29h-2zM632 496h2v29h-2zM640 496h2v29h-2zM646 496h2v29h-2zM132 525h2v29h-2zM136 525h2v29h-2zM138 525h2v29h-2zM140 525h2v29h-2zM142 525h2v29h-2zM144 525h2v29h-2zM148 525h2v29h-2zM158 525h2v29h-2zM160 525h2v29h-2zM166 525h2v29h-2zM186 525h2v29h-2zM192 525h2v29h-2zM216 525h2v29h-2zM232 525h2v29h-2zM238 525h2v29h-2zM248 525h2v29h-2zM260 525h2v29h-2zM262 525h2v29h-2zM264 525h2v29h-2zM282 525h2v29h-2zM424 525h2v29h-2zM442 525h2v29h-2zM450 525h2v29h-2zM456 525h2v29h-2zM458 525h2v29h-2zM476 525h2v29h-2zM478 525h2v29h-2zM480 525h2v29h-2zM522 525h2v29h-2zM524 525h2v29h-2zM532 525h2v29h-2zM546 525h2v29h-2zM558 525h2v29h-2zM568 525h2v29h-2zM136 554h2v29h-2zM140 554h2v29h-2zM146 554h2v29h-2zM152 554h2v29h-2zM158 554h2v29h-2zM160 554h2v29h-2zM162 554h2v29h-2zM178 554h2v29h-2zM196 554h2v29h-2zM204 554h2v29h-2zM206 554h2v29h-2zM214 554h2v29h-2zM226 554h2v29h-2zM238 554h2v29h-2zM256 554h2v29h-2zM268 554h2v29h-2zM286 554h2v29h-2zM416 554h2v29h-2zM490 554h2v29h-2zM492 554h2v29h-2zM502 554h2v29h-2zM524 554h2v29h-2zM526 554h2v29h-2zM530 554h2v29h-2zM556 554h2v29h-2zM126 583h2v29h-2zM128 583h2v29h-2zM144 583h2v29h-2zM166 583h2v29h-2zM184 583h2v29h-2zM192 583h2v29h-2zM202 583h2v29h-2zM212 583h2v29h-2zM222 583h2v29h-2zM224 583h2v29h-2zM234 583h2v29h-2zM250 583h2v29h-2zM262 583h2v29h-2zM264 583h2v29h-2zM272 583h2v29h-2zM278 583h2v29h-2zM280 583h2v29h-2zM282 583h2v29h-2zM442 583h2v29h-2zM468 583h2v29h-2zM492 583h2v29h-2zM506 583h2v29h-2zM552 583h2v29h-2zM556 583h2v29h-2zM566 583h2v29h-2zM572 583h2v29h-2zM574 583h2v29h-2zM578 583h2v29h-2zM128 612h2v29h-2zM138 612h2v29h-2zM150 612h2v29h-2zM162 612h2v29h-2zM180 612h2v29h-2zM182 612h2v29h-2zM190 612h2v29h-2zM192 612h2v29h-2zM198 612h2v29h-2zM216 612h2v29h-2zM236 612h2v29h-2zM240 612h2v29h-2zM246 612h2v29h-2zM262 612h2v29h-2zM268 612h2v29h-2zM286 612h2v29h-2zM436 612h2v29h-2zM476 612h2v29h-2zM482 612h2v29h-2zM488 612h2v29h-2zM496 612h2v29h-2zM506 612h2v29h-2zM508 612h2v29h-2zM512 612h2v29h-2zM534 612h2v29h-2zM576 612h2v29h-2zM126 641h2v29h-2zM166 641h2v29h-2zM174 641h2v29h-2zM188 641h2v29h-2zM192 641h2v29h-2zM198 641h2v29h-2zM216 641h2v29h-2zM220 641h2v29h-2zM232 641h2v29h-2zM242 641h2v29h-2zM246 641h2v29h-2zM252 641h2v29h-2zM254 641h2v29h-2zM258 641h2v29h-2zM274 641h2v29h-2zM276 641h2v29h-2zM288 641h2v29h-2zM290 641h2v29h-2zM294 641h2v29h-2zM296 641h2v29h-2zM298 641h2v29h-2zM306 641h2v29h-2zM342 641h2v29h-2zM346 641h2v29h-2zM348 641h2v29h-2zM366 641h2v29h-2zM394 641h2v29h-2zM402 641h2v29h-2zM406 641h2v29h-2zM660 641h2v29h-2zM126 670h2v29h-2zM138 670h2v29h-2zM154 670h2v29h-2zM160 670h2v29h-2zM166 670h2v29h-2zM182 670h2v29h-2zM200 670h2v29h-2zM216 670h2v29h-2zM218 670h2v29h-2zM224 670h2v29h-2zM266 670h2v29h-2zM280 670h2v29h-2zM284 670h2v29h-2zM292 670h2v29h-2zM300 670h2v29h-2zM320 670h2v29h-2zM334 670h2v29h-2zM348 670h2v29h-2zM352 670h2v29h-2zM380 670h2v29h-2zM382 670h2v29h-2zM404 670h2v29h-2zM410 670h2v29h-2zM662 670h2v29h-2zM130 699h2v29h-2zM136 699h2v29h-2zM150 699h2v29h-2zM152 699h2v29h-2zM154 699h2v29h-2zM156 699h2v29h-2zM162 699h2v29h-2zM166 699h2v29h-2zM172 699h2v29h-2zM174 699h2v29h-2zM180 699h2v29h-2zM182 699h2v29h-2zM216 699h2v29h-2zM250 699h2v29h-2zM252 699h2v29h-2zM258 699h2v29h-2zM262 699h2v29h-2zM268 699h2v29h-2zM270 699h2v29h-2zM280 699h2v29h-2zM310 699h2v29h-2zM338 699h2v29h-2zM352 699h2v29h-2zM354 699h2v29h-2zM360 699h2v29h-2zM364 699h2v29h-2zM366 699h2v29h-2zM380 699h2v29h-2zM400 699h2v29h-2zM406 699h2v29h-2zM412 699h2v29h-2zM134 728h2v29h-2zM168 728h2v29h-2zM170 728h2v29h-2zM172 728h2v29h-2zM186 728h2v29h-2zM188 728h2v29h-2zM232 728h2v29h-2zM234 728h2v29h-2zM254 728h2v29h-2zM258 728h2v29h-2zM260 728h2v29h-2zM268 728h2v29h-2zM274 728h2v29h-2zM278 728h2v29h-2zM290 728h2v29h-2zM302 728h2v29h-2zM320 728h2v29h-2zM324 728h2v29h-2zM330 728h2v29h-2zM342 728h2v29h-2zM376 728h2v29h-2zM380 728h2v29h-2zM382 728h2v29h-2zM390 728h2v29h-2zM394 728h2v29h-2zM654 728h2v29h-2zM128 757h2v29h-2zM134 757h2v29h-2zM172 757h2v29h-2zM174 757h2v29h-2zM182 757h2v29h-2zM184 757h2v29h-2zM220 757h2v29h-2zM228 757h2v29h-2zM246 757h2v29h-2zM260 757h2v29h-2zM268 757h2v29h-2zM276 757h2v29h-2zM310 757h2v29h-2zM312 757h2v29h-2zM332 757h2v29h-2zM338 757h2v29h-2zM352 757h2v29h-2zM358 757h2v29h-2zM378 757h2v29h-2zM382 757h2v29h-2zM408 757h2v29h-2zM410 757h2v29h-2zM656 757h2v29h-2zM126 786h2v29h-2zM134 786h2v29h-2zM164 786h2v29h-2zM166 786h2v29h-2zM226 786h2v29h-2zM262 786h2v29h-2zM274 786h2v29h-2zM294 786h2v29h-2zM300 786h2v29h-2zM374 786h2v29h-2zM390 786h2v29h-2zM392 786h2v29h-2zM658 786h2v29h-2zM138 815h2v29h-2zM160 815h2v29h-2zM208 815h2v29h-2zM212 815h2v29h-2zM234 815h2v29h-2zM242 815h2v29h-2zM294 815h2v29h-2zM310 815h2v29h-2zM324 815h2v29h-2zM348 815h2v29h-2zM352 815h2v29h-2zM356 815h2v29h-2zM372 815h2v29h-2zM384 815h2v29h-2zM664 815h1v29h-1zM128 844h2v29h-2zM130 844h2v29h-2zM146 844h2v29h-2zM156 844h2v29h-2zM158 844h2v29h-2zM162 844h2v29h-2zM184 844h2v29h-2zM188 844h2v29h-2zM192 844h2v29h-2zM200 844h2v29h-2zM218 844h2v29h-2zM226 844h2v29h-2zM242 844h2v29h-2zM254 844h2v29h-2zM288 844h2v29h-2zM294 844h2v29h-2zM300 844h2v29h-2zM318 844h2v29h-2zM328 844h2v29h-2zM332 844h2v29h-2zM350 844h2v29h-2zM368 844h2v29h-2zM390 844h2v29h-2zM396 844h2v29h-2zM402 844h2v29h-2zM410 844h2v29h-2zM654 844h2v29h-2zM658 844h2v29h-2zM144 873h2v29h-2zM146 873h2v29h-2zM154 873h2v29h-2zM156 873h2v29h-2zM160 873h2v29h-2zM166 873h2v29h-2zM168 873h2v29h-2zM174 873h2v29h-2zM182 873h2v29h-2zM198 873h2v29h-2zM216 873h2v29h-2zM220 873h2v29h-2zM224 873h2v29h-2zM226 873h2v29h-2zM232 873h2v29h-2zM248 873h2v29h-2zM266 873h2v29h-2zM268 873h2v29h-2zM276 873h2v29h-2zM282 873h2v29h-2zM284 873h2v29h-2zM286 873h2v29h-2zM296 873h2v29h-2zM304 873h2v29h-2zM316 873h2v29h-2zM356 873h2v29h-2zM370 873h2v29h-2zM372 873h2v29h-2zM380 873h2v29h-2zM386 873h2v29h-2zM390 873h2v29h-2zM404 873h2v29h-2zM408 873h2v29h-2zM664 873h1v29h-1zM166 902h2v29h-2zM186 902h2v29h-2zM220 902h2v29h-2zM232 902h2v29h-2zM248 902h2v29h-2zM266 902h2v29h-2zM268 902h2v29h-2zM272 902h2v29h-2zM282 902h2v29h-2zM306 902h2v29h-2zM334 902h2v29h-2zM342 902h2v29h-2zM344 902h2v29h-2zM354 902h2v29h-2zM366 902h2v29h-2zM392 902h2v29h-2zM398 902h2v29h-2zM402 902h2v29h-2zM406 902h2v29h-2zM410 902h2v29h-2z"/>
<path fill="#d3e4ed" d="M294 90h2v29h-2zM302 90h2v29h-2zM312 90h2v29h-2zM348 90h2v29h-2zM382 90h2v29h-2zM398 90h2v29h-2zM594 90h2v29h-2zM292 119h2v29h-2zM306 119h2v29h-2zM384 119h2v29h-2zM604 119h2v29h-2zM612 119h2v29h-2zM636 119h2v29h-2zM360 148h2v29h-2zM598 148h2v29h-2zM424 235h2v29h-2zM652 235h2v29h-2zM568 264h2v29h-2zM420 351h2v29h-2zM532 351h2v29h-2zM418 380h2v29h-2zM422 380h2v29h-2zM502 380h2v29h-2zM508 380h2v29h-2zM520 380h2v29h-2zM576 380h2v29h-2zM438 409h2v29h-2zM632 409h2v29h-2zM538 438h2v29h-2zM434 467h2v29h-2zM516 467h2v29h-2zM594 496h2v29h-2zM174 583h2v29h-2zM222 670h2v29h-2zM370 670h2v29h-2zM342 699h2v29h-2zM220 815h2v29h-2zM370 815h2v29h-2zM390 815h2v29h-2zM298 844h2v29h-2zM240 873h2v29h-2z"/>
<path fill="#d7e6ee" d="M296 90h2v29h-2zM328 90h2v29h-2zM330 90h2v29h-2zM346 90h2v29h-2zM358 90h2v29h-2zM410 90h2v29h-2zM600 90h2v29h-2zM610 90h2v29h-2zM626 90h2v29h-2zM642 90h2v29h-2zM290 119h2v29h-2zM296 119h2v29h-2zM308 119h2v29h-2zM322 119h2v29h-2zM326 119h2v29h-2zM330 119h2v29h-2zM332 119h2v29h-2zM354 119h2v29h-2zM374 119h2v29h-2zM380 119h2v29h-2zM402 119h2v29h-2zM412 119h2v29h-2zM590 119h2v29h-2zM598 119h2v29h-2zM602 119h2v29h-2zM610 119h2v29h-2zM616 119h2v29h-2zM618 119h2v29h-2zM630 119h2v29h-2zM632 119h2v29h-2zM634 119h2v29h-2zM640 119h2v29h-2zM642 119h2v29h-2zM644 119h2v29h-2zM650 119h2v29h-2zM306 148h2v29h-2zM342 148h2v29h-2zM350 148h2v29h-2zM366 148h2v29h-2zM374 148h2v29h-2zM380 148h2v29h-2zM390 148h2v29h-2zM394 148h2v29h-2zM396 148h2v29h-2zM410 148h2v29h-2zM412 148h2v29h-2zM590 148h2v29h-2zM600 148h2v29h-2zM638 148h2v29h-2zM384 177h2v29h-2zM412 177h2v29h-2zM474 264h2v29h-2zM606 264h2v29h-2zM558 293h2v29h-2zM472 322h2v29h-2zM538 351h2v29h-2zM574 351h2v29h-2zM428 380h2v29h-2zM442 380h2v29h-2zM444 380h2v29h-2zM478 380h2v29h-2zM490 380h2v29h-2zM492 380h2v29h-2zM538 380h2v29h-2zM548 380h2v29h-2zM506 409h2v29h-2zM580 409h2v29h-2zM654 409h2v29h-2zM418 438h2v29h-2zM420 438h2v29h-2zM460 438h2v29h-2zM626 438h2v29h-2zM458 467h2v29h-2zM550 467h2v29h-2zM492 496h2v29h-2zM540 496h2v29h-2zM562 496h2v29h-2zM194 525h2v29h-2zM208 525h2v29h-2zM256 525h2v29h-2zM200 554h2v29h-2zM250 554h2v29h-2zM254 554h2v29h-2zM288 612h2v29h-2zM154 641h2v29h-2zM226 641h2v29h-2zM278 641h2v29h-2zM328 641h2v29h-2zM332 641h2v29h-2zM378 641h2v29h-2zM146 670h2v29h-2zM250 670h2v29h-2zM206 699h2v29h-2zM316 699h2v29h-2zM318 699h2v29h-2zM336 699h2v29h-2zM376 699h2v29h-2zM188 757h2v29h-2zM374 757h2v29h-2zM304 786h2v29h-2zM250 815h2v29h-2zM320 844h2v29h-2zM358 873h2v29h-2zM238 902h2v29h-2z"/>
<path fill="#e3ecf0" d="M300 90h2v29h-2zM310 90h2v29h-2zM324 90h2v29h-2zM342 90h2v29h-2zM350 90h2v29h-2zM356 90h2v29h-2zM362 90h2v29h-2zM366 90h2v29h-2zM412 90h2v29h-2zM588 90h2v29h-2zM614 90h2v29h-2zM616 90h2v29h-2zM618 90h2v29h-2zM624 90h2v29h-2zM634 90h2v29h-2zM644 90h2v29h-2zM646 90h2v29h-2zM648 90h2v29h-2zM304 119h2v29h-2zM312 119h2v29h-2zM316 119h2v29h-2zM320 119h2v29h-2zM334 119h2v29h-2zM338 119h2v29h-2zM344 119h2v29h-2zM360 119h2v29h-2zM362 119h2v29h-2zM394 119h2v29h-2zM410 119h2v29h-2zM582 119h2v29h-2zM596 119h2v29h-2zM614 119h2v29h-2zM622 119h2v29h-2zM626 119h2v29h-2zM294 148h2v29h-2zM302 148h2v29h-2zM308 148h2v29h-2zM324 148h2v29h-2zM330 148h2v29h-2zM332 148h2v29h-2zM336 148h2v29h-2zM352 148h2v29h-2zM354 148h2v29h-2zM364 148h2v29h-2zM382 148h2v29h-2zM386 148h2v29h-2zM398 148h2v29h-2zM406 148h2v29h-2zM510 148h2v29h-2zM514 148h2v29h-2zM576 148h2v29h-2zM584 148h2v29h-2zM586 148h2v29h-2zM594 148h2v29h-2zM614 148h2v29h-2zM620 148h2v29h-2zM628 148h2v29h-2zM634 148h2v29h-2zM274 177h2v29h-2zM322 177h2v29h-2zM590 177h2v29h-2zM296 206h2v29h-2zM304 206h2v29h-2zM320 206h2v29h-2zM128 235h2v29h-2zM416 235h2v29h-2zM418 235h2v29h-2zM422 235h2v29h-2zM428 235h2v29h-2zM430 235h2v29h-2zM438 235h2v29h-2zM464 235h2v29h-2zM466 235h2v29h-2zM472 235h2v29h-2zM512 235h2v29h-2zM542 235h2v29h-2zM544 235h2v29h-2zM548 235h2v29h-2zM572 235h2v29h-2zM590 235h2v29h-2zM600 235h2v29h-2zM614 235h2v29h-2zM616 235h2v29h-2zM628 235h2v29h-2zM656 235h2v29h-2zM430 264h2v29h-2zM478 264h2v29h-2zM492 264h2v29h-2zM494 264h2v29h-2zM504 264h2v29h-2zM508 264h2v29h-2zM510 264h2v29h-2zM520 264h2v29h-2zM528 264h2v29h-2zM578 264h2v29h-2zM602 264h2v29h-2zM618 264h2v29h-2zM626 264h2v29h-2zM206 293h2v29h-2zM438 293h2v29h-2zM466 293h2v29h-2zM472 293h2v29h-2zM474 293h2v29h-2zM502 293h2v29h-2zM506 293h2v29h-2zM520 293h2v29h-2zM522 293h2v29h-2zM528 293h2v29h-2zM540 293h2v29h-2zM566 293h2v29h-2zM586 293h2v29h-2zM628 293h2v29h-2zM646 293h2v29h-2zM420 322h2v29h-2zM434 322h2v29h-2zM440 322h2v29h-2zM444 322h2v29h-2zM450 322h2v29h-2zM474 322h2v29h-2zM476 322h2v29h-2zM480 322h2v29h-2zM488 322h2v29h-2zM490 322h2v29h-2zM510 322h2v29h-2zM524 322h2v29h-2zM536 322h2v29h-2zM542 322h2v29h-2zM544 322h2v29h-2zM552 322h2v29h-2zM554 322h2v29h-2zM556 322h2v29h-2zM558 322h2v29h-2zM560 322h2v29h-2zM566 322h2v29h-2zM570 322h2v29h-2zM584 322h2v29h-2zM598 322h2v29h-2zM608 322h2v29h-2zM622 322h2v29h-2zM626 322h2v29h-2zM630 322h2v29h-2zM644 322h2v29h-2zM652 322h2v29h-2zM416 351h2v29h-2zM424 351h2v29h-2zM426 351h2v29h-2zM436 351h2v29h-2zM446 351h2v29h-2zM452 351h2v29h-2zM462 351h2v29h-2zM466 351h2v29h-2zM476 351h2v29h-2zM484 351h2v29h-2zM486 351h2v29h-2zM494 351h2v29h-2zM502 351h2v29h-2zM504 351h2v29h-2zM528 351h2v29h-2zM536 351h2v29h-2zM544 351h2v29h-2zM560 351h2v29h-2zM564 351h2v29h-2zM588 351h2v29h-2zM594 351h2v29h-2zM600 351h2v29h-2zM606 351h2v29h-2zM608 351h2v29h-2zM618 351h2v29h-2zM416 380h2v29h-2zM446 380h2v29h-2zM454 380h2v29h-2zM458 380h2v29h-2zM462 380h2v29h-2zM468 380h2v29h-2zM474 380h2v29h-2zM476 380h2v29h-2zM480 380h2v29h-2zM482 380h2v29h-2zM494 380h2v29h-2zM510 380h2v29h-2zM512 380h2v29h-2zM532 380h2v29h-2zM542 380h2v29h-2zM558 380h2v29h-2zM560 380h2v29h-2zM426 409h2v29h-2zM440 409h2v29h-2zM444 409h2v29h-2zM450 409h2v29h-2zM454 409h2v29h-2zM458 409h2v29h-2zM468 409h2v29h-2zM478 409h2v29h-2zM484 409h2v29h-2zM496 409h2v29h-2zM508 409h2v29h-2zM534 409h2v29h-2zM540 409h2v29h-2zM542 409h2v29h-2zM556 409h2v29h-2zM564 409h2v29h-2zM566 409h2v29h-2zM578 409h2v29h-2zM614 409h2v29h-2zM630 409h2v29h-2zM652 409h2v29h-2zM656 409h2v29h-2zM428 438h2v29h-2zM434 438h2v29h-2zM440 438h2v29h-2zM450 438h2v29h-2zM466 438h2v29h-2zM468 438h2v29h-2zM520 438h2v29h-2zM570 438h2v29h-2zM584 438h2v29h-2zM590 438h2v29h-2zM602 438h2v29h-2zM618 438h2v29h-2zM624 438h2v29h-2zM636 438h2v29h-2zM654 438h2v29h-2zM658 438h2v29h-2zM424 467h2v29h-2zM438 467h2v29h-2zM440 467h2v29h-2zM442 467h2v29h-2zM456 467h2v29h-2zM466 467h2v29h-2zM468 467h2v29h-2zM490 467h2v29h-2zM492 467h2v29h-2zM498 467h2v29h-2zM500 467h2v29h-2zM510 467h2v29h-2zM522 467h2v29h-2zM524 467h2v29h-2zM528 467h2v29h-2zM538 467h2v29h-2zM558 467h2v29h-2zM562 467h2v29h-2zM570 467h2v29h-2zM590 467h2v29h-2zM640 467h2v29h-2zM646 467h2v29h-2zM416 496h2v29h-2zM422 496h2v29h-2zM448 496h2v29h-2zM454 496h2v29h-2zM468 496h2v29h-2zM482 496h2v29h-2zM498 496h2v29h-2zM504 496h2v29h-2zM526 496h2v29h-2zM568 496h2v29h-2zM592 496h2v29h-2zM610 496h2v29h-2zM618 496h2v29h-2zM648 496h2v29h-2zM130 525h2v29h-2zM156 525h2v29h-2zM170 525h2v29h-2zM172 525h2v29h-2zM176 525h2v29h-2zM180 525h2v29h-2zM184 525h2v29h-2zM196 525h2v29h-2zM198 525h2v29h-2zM212 525h2v29h-2zM214 525h2v29h-2zM228 525h2v29h-2zM230 525h2v29h-2zM234 525h2v29h-2zM254 525h2v29h-2zM258 525h2v29h-2zM276 525h2v29h-2zM286 525h2v29h-2zM544 525h2v29h-2zM128 554h2v29h-2zM130 554h2v29h-2zM132 554h2v29h-2zM138 554h2v29h-2zM156 554h2v29h-2zM164 554h2v29h-2zM168 554h2v29h-2zM172 554h2v29h-2zM182 554h2v29h-2zM184 554h2v29h-2zM186 554h2v29h-2zM188 554h2v29h-2zM202 554h2v29h-2zM208 554h2v29h-2zM210 554h2v29h-2zM220 554h2v29h-2zM222 554h2v29h-2zM224 554h2v29h-2zM234 554h2v29h-2zM242 554h2v29h-2zM248 554h2v29h-2zM258 554h2v29h-2zM272 554h2v29h-2zM572 554h2v29h-2zM132 583h2v29h-2zM134 583h2v29h-2zM136 583h2v29h-2zM140 583h2v29h-2zM148 583h2v29h-2zM150 583h2v29h-2zM154 583h2v29h-2zM162 583h2v29h-2zM168 583h2v29h-2zM172 583h2v29h-2zM194 583h2v29h-2zM208 583h2v29h-2zM216 583h2v29h-2zM220 583h2v29h-2zM232 583h2v29h-2zM256 583h2v29h-2zM258 583h2v29h-2zM276 583h2v29h-2zM416 583h2v29h-2zM420 583h2v29h-2zM424 583h2v29h-2zM430 583h2v29h-2zM436 583h2v29h-2zM464 583h2v29h-2zM484 583h2v29h-2zM512 583h2v29h-2zM516 583h2v29h-2zM544 583h2v29h-2zM562 583h2v29h-2zM576 583h2v29h-2zM126 612h2v29h-2zM142 612h2v29h-2zM146 612h2v29h-2zM248 612h2v29h-2zM282 612h2v29h-2zM466 612h2v29h-2zM528 612h2v29h-2zM558 612h2v29h-2zM132 641h2v29h-2zM134 641h2v29h-2zM138 641h2v29h-2zM148 641h2v29h-2zM150 641h2v29h-2zM160 641h2v29h-2zM168 641h2v29h-2zM182 641h2v29h-2zM208 641h2v29h-2zM210 641h2v29h-2zM212 641h2v29h-2zM218 641h2v29h-2zM222 641h2v29h-2zM230 641h2v29h-2zM244 641h2v29h-2zM248 641h2v29h-2zM272 641h2v29h-2zM280 641h2v29h-2zM292 641h2v29h-2zM310 641h2v29h-2zM312 641h2v29h-2zM320 641h2v29h-2zM326 641h2v29h-2zM334 641h2v29h-2zM364 641h2v29h-2zM368 641h2v29h-2zM384 641h2v29h-2zM398 641h2v29h-2zM414 641h2v29h-2zM206 670h2v29h-2zM210 670h2v29h-2zM236 670h2v29h-2zM240 670h2v29h-2zM246 670h2v29h-2zM302 670h2v29h-2zM304 670h2v29h-2zM308 670h2v29h-2zM324 670h2v29h-2zM332 670h2v29h-2zM344 670h2v29h-2zM350 670h2v29h-2zM372 670h2v29h-2zM398 670h2v29h-2zM400 670h2v29h-2zM126 699h2v29h-2zM128 699h2v29h-2zM134 699h2v29h-2zM190 699h2v29h-2zM200 699h2v29h-2zM210 699h2v29h-2zM214 699h2v29h-2zM238 699h2v29h-2zM240 699h2v29h-2zM248 699h2v29h-2zM256 699h2v29h-2zM264 699h2v29h-2zM276 699h2v29h-2zM278 699h2v29h-2zM282 699h2v29h-2zM292 699h2v29h-2zM294 699h2v29h-2zM302 699h2v29h-2zM304 699h2v29h-2zM308 699h2v29h-2zM326 699h2v29h-2zM332 699h2v29h-2zM334 699h2v29h-2zM346 699h2v29h-2zM350 699h2v29h-2zM362 699h2v29h-2zM368 699h2v29h-2zM374 699h2v29h-2zM388 699h2v29h-2zM396 699h2v29h-2zM404 699h2v29h-2zM166 728h2v29h-2zM212 728h2v29h-2zM220 728h2v29h-2zM226 728h2v29h-2zM286 728h2v29h-2zM294 728h2v29h-2zM298 728h2v29h-2zM334 728h2v29h-2zM370 728h2v29h-2zM392 728h2v29h-2zM140 757h2v29h-2zM150 757h2v29h-2zM160 757h2v29h-2zM192 757h2v29h-2zM206 757h2v29h-2zM214 757h2v29h-2zM224 757h2v29h-2zM232 757h2v29h-2zM278 757h2v29h-2zM280 757h2v29h-2zM286 757h2v29h-2zM288 757h2v29h-2zM308 757h2v29h-2zM318 757h2v29h-2zM322 757h2v29h-2zM350 757h2v29h-2zM360 757h2v29h-2zM366 757h2v29h-2zM370 757h2v29h-2zM372 757h2v29h-2zM376 757h2v29h-2zM380 757h2v29h-2zM392 757h2v29h-2zM396 757h2v29h-2zM398 757h2v29h-2zM278 786h2v29h-2zM284 786h2v29h-2zM398 786h2v29h-2zM400 786h2v29h-2zM176 815h2v29h-2zM180 815h2v29h-2zM188 815h2v29h-2zM192 815h2v29h-2zM226 815h2v29h-2zM296 815h2v29h-2zM306 815h2v29h-2zM308 815h2v29h-2zM314 815h2v29h-2zM320 815h2v29h-2zM322 815h2v29h-2zM336 815h2v29h-2zM338 815h2v29h-2zM350 815h2v29h-2zM354 815h2v29h-2zM398 815h2v29h-2zM402 815h2v29h-2zM404 815h2v29h-2zM132 844h2v29h-2zM148 844h2v29h-2zM152 844h2v29h-2zM166 844h2v29h-2zM172 844h2v29h-2zM182 844h2v29h-2zM202 844h2v29h-2zM212 844h2v29h-2zM224 844h2v29h-2zM234 844h2v29h-2zM246 844h2v29h-2zM266 844h2v29h-2zM274 844h2v29h-2zM278 844h2v29h-2zM282 844h2v29h-2zM286 844h2v29h-2zM290 844h2v29h-2zM304 844h2v29h-2zM312 844h2v29h-2zM338 844h2v29h-2zM340 844h2v29h-2zM346 844h2v29h-2zM360 844h2v29h-2zM376 844h2v29h-2zM388 844h2v29h-2zM392 844h2v29h-2zM404 844h2v29h-2zM406 844h2v29h-2zM158 873h2v29h-2zM228 873h2v29h-2zM238 873h2v29h-2zM270 873h2v29h-2zM274 873h2v29h-2zM292 873h2v29h-2zM298 873h2v29h-2zM300 873h2v29h-2zM308 873h2v29h-2zM340 873h2v29h-2zM346 873h2v29h-2zM350 873h2v29h-2zM362 873h2v29h-2zM364 873h2v29h-2zM374 873h2v29h-2zM384 873h2v29h-2zM392 873h2v29h-2zM396 873h2v29h-2zM144 902h2v29h-2zM146 902h2v29h-2zM156 902h2v29h-2zM158 902h2v29h-2zM170 902h2v29h-2zM196 902h2v29h-2zM198 902h2v29h-2zM204 902h2v29h-2zM206 902h2v29h-2zM212 902h2v29h-2zM218 902h2v29h-2zM244 902h2v29h-2zM250 902h2v29h-2zM308 902h2v29h-2zM318 902h2v29h-2zM338 902h2v29h-2zM362 902h2v29h-2zM396 902h2v29h-2zM510 902h2v29h-2z"/>
<path fill="#dbe8ef" d="M306 90h2v29h-2zM352 90h2v29h-2zM360 90h2v29h-2zM364 90h2v29h-2zM368 90h2v29h-2zM372 90h2v29h-2zM376 90h2v29h-2zM396 90h2v29h-2zM400 90h2v29h-2zM404 90h2v29h-2zM408 90h2v29h-2zM586 90h2v29h-2zM592 90h2v29h-2zM604 90h2v29h-2zM622 90h2v29h-2zM628 90h2v29h-2zM630 90h2v29h-2zM650 90h2v29h-2zM302 119h2v29h-2zM314 119h2v29h-2zM324 119h2v29h-2zM328 119h2v29h-2zM336 119h2v29h-2zM348 119h2v29h-2zM350 119h2v29h-2zM368 119h2v29h-2zM370 119h2v29h-2zM372 119h2v29h-2zM386 119h2v29h-2zM390 119h2v29h-2zM404 119h2v29h-2zM408 119h2v29h-2zM584 119h2v29h-2zM592 119h2v29h-2zM594 119h2v29h-2zM600 119h2v29h-2zM624 119h2v29h-2zM638 119h2v29h-2zM290 148h2v29h-2zM304 148h2v29h-2zM310 148h2v29h-2zM318 148h2v29h-2zM322 148h2v29h-2zM328 148h2v29h-2zM346 148h2v29h-2zM348 148h2v29h-2zM358 148h2v29h-2zM362 148h2v29h-2zM378 148h2v29h-2zM392 148h2v29h-2zM404 148h2v29h-2zM604 148h2v29h-2zM626 148h2v29h-2zM636 148h2v29h-2zM640 148h2v29h-2zM442 235h2v29h-2zM444 235h2v29h-2zM448 235h2v29h-2zM454 235h2v29h-2zM470 235h2v29h-2zM488 235h2v29h-2zM492 235h2v29h-2zM536 235h2v29h-2zM554 235h2v29h-2zM568 235h2v29h-2zM578 235h2v29h-2zM632 235h2v29h-2zM418 264h2v29h-2zM436 264h2v29h-2zM450 264h2v29h-2zM458 264h2v29h-2zM546 264h2v29h-2zM572 264h2v29h-2zM510 293h2v29h-2zM416 322h2v29h-2zM418 322h2v29h-2zM470 322h2v29h-2zM516 322h2v29h-2zM520 322h2v29h-2zM550 322h2v29h-2zM422 351h2v29h-2zM490 351h2v29h-2zM518 351h2v29h-2zM522 351h2v29h-2zM524 351h2v29h-2zM534 351h2v29h-2zM548 351h2v29h-2zM558 351h2v29h-2zM562 351h2v29h-2zM568 351h2v29h-2zM590 351h2v29h-2zM622 351h2v29h-2zM638 351h2v29h-2zM424 380h2v29h-2zM452 380h2v29h-2zM456 380h2v29h-2zM464 380h2v29h-2zM466 380h2v29h-2zM488 380h2v29h-2zM500 380h2v29h-2zM504 380h2v29h-2zM528 380h2v29h-2zM530 380h2v29h-2zM552 380h2v29h-2zM554 380h2v29h-2zM562 380h2v29h-2zM566 380h2v29h-2zM568 380h2v29h-2zM570 380h2v29h-2zM572 380h2v29h-2zM574 380h2v29h-2zM578 380h2v29h-2zM418 409h2v29h-2zM430 409h2v29h-2zM530 409h2v29h-2zM562 409h2v29h-2zM600 409h2v29h-2zM608 409h2v29h-2zM658 409h2v29h-2zM484 438h2v29h-2zM530 438h2v29h-2zM622 438h2v29h-2zM546 467h2v29h-2zM564 467h2v29h-2zM478 496h2v29h-2zM652 496h2v29h-2zM164 525h2v29h-2zM174 525h2v29h-2zM190 525h2v29h-2zM236 525h2v29h-2zM270 525h2v29h-2zM274 525h2v29h-2zM418 525h2v29h-2zM430 525h2v29h-2zM560 525h2v29h-2zM142 554h2v29h-2zM244 554h2v29h-2zM262 554h2v29h-2zM266 554h2v29h-2zM274 554h2v29h-2zM142 583h2v29h-2zM158 583h2v29h-2zM190 583h2v29h-2zM204 583h2v29h-2zM246 583h2v29h-2zM452 583h2v29h-2zM474 583h2v29h-2zM536 612h2v29h-2zM284 641h2v29h-2zM352 641h2v29h-2zM360 641h2v29h-2zM148 670h2v29h-2zM204 670h2v29h-2zM290 670h2v29h-2zM296 670h2v29h-2zM306 670h2v29h-2zM356 670h2v29h-2zM360 670h2v29h-2zM406 670h2v29h-2zM414 670h2v29h-2zM176 699h2v29h-2zM198 699h2v29h-2zM288 699h2v29h-2zM290 699h2v29h-2zM314 699h2v29h-2zM328 699h2v29h-2zM340 699h2v29h-2zM384 699h2v29h-2zM398 699h2v29h-2zM196 728h2v29h-2zM224 728h2v29h-2zM296 728h2v29h-2zM400 757h2v29h-2zM198 786h2v29h-2zM312 786h2v29h-2zM366 786h2v29h-2zM378 786h2v29h-2zM330 815h2v29h-2zM340 815h2v29h-2zM206 844h2v29h-2zM316 844h2v29h-2zM334 844h2v29h-2zM208 873h2v29h-2zM312 873h2v29h-2zM352 873h2v29h-2zM414 873h2v29h-2zM210 902h2v29h-2zM240 902h2v29h-2zM294 902h2v29h-2zM328 902h2v29h-2z"/>
<path fill="#cae0eb" d="M318 90h2v29h-2zM358 119h2v29h-2zM366 119h2v29h-2zM392 119h2v29h-2zM628 119h2v29h-2zM648 119h2v29h-2zM564 235h2v29h-2zM590 264h2v29h-2zM484 322h2v29h-2zM534 380h2v29h-2zM304 641h2v29h-2zM296 699h2v29h-2zM348 699h2v29h-2z"/>
<path fill="#f3f3f3" d="M320 90h2v29h-2zM438 90h2v29h-2zM556 90h2v29h-2zM578 90h2v29h-2zM580 90h2v29h-2zM420 119h2v29h-2zM440 119h2v29h-2zM508 119h2v29h-2zM518 119h2v29h-2zM532 119h2v29h-2zM562 119h2v29h-2zM242 148h2v29h-2zM272 148h2v29h-2zM326 148h2v29h-2zM428 148h2v29h-2zM432 148h2v29h-2zM438 148h2v29h-2zM448 148h2v29h-2zM470 148h2v29h-2zM478 148h2v29h-2zM502 148h2v29h-2zM518 148h2v29h-2zM530 148h2v29h-2zM550 148h2v29h-2zM552 148h2v29h-2zM564 148h2v29h-2zM644 148h2v29h-2zM648 148h2v29h-2zM126 177h2v29h-2zM138 177h2v29h-2zM172 177h2v29h-2zM176 177h2v29h-2zM180 177h2v29h-2zM186 177h2v29h-2zM202 177h2v29h-2zM208 177h2v29h-2zM210 177h2v29h-2zM218 177h2v29h-2zM242 177h2v29h-2zM268 177h2v29h-2zM270 177h2v29h-2zM276 177h2v29h-2zM292 177h2v29h-2zM298 177h2v29h-2zM304 177h2v29h-2zM310 177h2v29h-2zM336 177h2v29h-2zM340 177h2v29h-2zM352 177h2v29h-2zM356 177h2v29h-2zM364 177h2v29h-2zM372 177h2v29h-2zM392 177h2v29h-2zM410 177h2v29h-2zM478 177h2v29h-2zM484 177h2v29h-2zM496 177h2v29h-2zM516 177h2v29h-2zM522 177h2v29h-2zM526 177h2v29h-2zM538 177h2v29h-2zM544 177h2v29h-2zM550 177h2v29h-2zM596 177h2v29h-2zM600 177h2v29h-2zM610 177h2v29h-2zM622 177h2v29h-2zM644 177h2v29h-2zM128 206h2v29h-2zM148 206h2v29h-2zM150 206h2v29h-2zM156 206h2v29h-2zM164 206h2v29h-2zM176 206h2v29h-2zM190 206h2v29h-2zM192 206h2v29h-2zM196 206h2v29h-2zM218 206h2v29h-2zM228 206h2v29h-2zM230 206h2v29h-2zM250 206h2v29h-2zM260 206h2v29h-2zM266 206h2v29h-2zM268 206h2v29h-2zM272 206h2v29h-2zM278 206h2v29h-2zM280 206h2v29h-2zM294 206h2v29h-2zM298 206h2v29h-2zM308 206h2v29h-2zM312 206h2v29h-2zM336 206h2v29h-2zM340 206h2v29h-2zM350 206h2v29h-2zM354 206h2v29h-2zM362 206h2v29h-2zM366 206h2v29h-2zM372 206h2v29h-2zM374 206h2v29h-2zM376 206h2v29h-2zM382 206h2v29h-2zM384 206h2v29h-2zM414 206h2v29h-2zM432 206h2v29h-2zM444 206h2v29h-2zM446 206h2v29h-2zM452 206h2v29h-2zM484 206h2v29h-2zM494 206h2v29h-2zM516 206h2v29h-2zM518 206h2v29h-2zM526 206h2v29h-2zM528 206h2v29h-2zM554 206h2v29h-2zM600 206h2v29h-2zM624 206h2v29h-2zM636 206h2v29h-2zM640 206h2v29h-2zM646 206h2v29h-2zM652 206h2v29h-2zM178 235h2v29h-2zM182 235h2v29h-2zM210 235h2v29h-2zM212 235h2v29h-2zM216 235h2v29h-2zM220 235h2v29h-2zM224 235h2v29h-2zM234 235h2v29h-2zM236 235h2v29h-2zM260 235h2v29h-2zM270 235h2v29h-2zM280 235h2v29h-2zM282 235h2v29h-2zM284 235h2v29h-2zM288 235h2v29h-2zM296 235h2v29h-2zM344 235h2v29h-2zM372 235h2v29h-2zM514 235h2v29h-2zM604 235h2v29h-2zM618 235h2v29h-2zM646 235h2v29h-2zM660 235h2v29h-2zM664 235h1v29h-1zM154 264h2v29h-2zM160 264h2v29h-2zM170 264h2v29h-2zM182 264h2v29h-2zM220 264h2v29h-2zM252 264h2v29h-2zM312 264h2v29h-2zM326 264h2v29h-2zM358 264h2v29h-2zM414 264h2v29h-2zM488 264h2v29h-2zM498 264h2v29h-2zM514 264h2v29h-2zM540 264h2v29h-2zM548 264h2v29h-2zM562 264h2v29h-2zM596 264h2v29h-2zM600 264h2v29h-2zM148 293h2v29h-2zM200 293h2v29h-2zM204 293h2v29h-2zM240 293h2v29h-2zM290 293h2v29h-2zM376 293h2v29h-2zM406 293h2v29h-2zM426 293h2v29h-2zM448 293h2v29h-2zM486 293h2v29h-2zM508 293h2v29h-2zM580 293h2v29h-2zM588 293h2v29h-2zM598 293h2v29h-2zM600 293h2v29h-2zM604 293h2v29h-2zM632 293h2v29h-2zM638 293h2v29h-2zM648 293h2v29h-2zM656 293h2v29h-2zM662 293h2v29h-2zM158 322h2v29h-2zM160 322h2v29h-2zM172 322h2v29h-2zM174 322h2v29h-2zM178 322h2v29h-2zM190 322h2v29h-2zM198 322h2v29h-2zM224 322h2v29h-2zM226 322h2v29h-2zM228 322h2v29h-2zM238 322h2v29h-2zM244 322h2v29h-2zM260 322h2v29h-2zM264 322h2v29h-2zM270 322h2v29h-2zM272 322h2v29h-2zM282 322h2v29h-2zM376 322h2v29h-2zM378 322h2v29h-2zM396 322h2v29h-2zM406 322h2v29h-2zM436 322h2v29h-2zM454 322h2v29h-2zM458 322h2v29h-2zM576 322h2v29h-2zM590 322h2v29h-2zM592 322h2v29h-2zM600 322h2v29h-2zM604 322h2v29h-2zM606 322h2v29h-2zM618 322h2v29h-2zM632 322h2v29h-2zM640 322h2v29h-2zM646 322h2v29h-2zM164 351h2v29h-2zM188 351h2v29h-2zM206 351h2v29h-2zM276 351h2v29h-2zM278 351h2v29h-2zM296 351h2v29h-2zM300 351h2v29h-2zM302 351h2v29h-2zM312 351h2v29h-2zM328 351h2v29h-2zM332 351h2v29h-2zM352 351h2v29h-2zM362 351h2v29h-2zM370 351h2v29h-2zM376 351h2v29h-2zM378 351h2v29h-2zM390 351h2v29h-2zM398 351h2v29h-2zM400 351h2v29h-2zM406 351h2v29h-2zM414 351h2v29h-2zM530 351h2v29h-2zM602 351h2v29h-2zM650 351h2v29h-2zM136 380h2v29h-2zM170 380h2v29h-2zM172 380h2v29h-2zM178 380h2v29h-2zM186 380h2v29h-2zM200 380h2v29h-2zM208 380h2v29h-2zM210 380h2v29h-2zM216 380h2v29h-2zM220 380h2v29h-2zM224 380h2v29h-2zM228 380h2v29h-2zM242 380h2v29h-2zM254 380h2v29h-2zM258 380h2v29h-2zM260 380h2v29h-2zM262 380h2v29h-2zM264 380h2v29h-2zM270 380h2v29h-2zM282 380h2v29h-2zM310 380h2v29h-2zM324 380h2v29h-2zM340 380h2v29h-2zM346 380h2v29h-2zM364 380h2v29h-2zM394 380h2v29h-2zM592 380h2v29h-2zM156 409h2v29h-2zM178 409h2v29h-2zM230 409h2v29h-2zM292 409h2v29h-2zM298 409h2v29h-2zM306 409h2v29h-2zM316 409h2v29h-2zM320 409h2v29h-2zM336 409h2v29h-2zM350 409h2v29h-2zM356 409h2v29h-2zM360 409h2v29h-2zM362 409h2v29h-2zM378 409h2v29h-2zM386 409h2v29h-2zM390 409h2v29h-2zM604 409h2v29h-2zM648 409h2v29h-2zM650 409h2v29h-2zM662 409h2v29h-2zM664 409h1v29h-1zM154 438h2v29h-2zM168 438h2v29h-2zM176 438h2v29h-2zM182 438h2v29h-2zM184 438h2v29h-2zM240 438h2v29h-2zM258 438h2v29h-2zM276 438h2v29h-2zM292 438h2v29h-2zM300 438h2v29h-2zM316 438h2v29h-2zM326 438h2v29h-2zM328 438h2v29h-2zM348 438h2v29h-2zM356 438h2v29h-2zM378 438h2v29h-2zM384 438h2v29h-2zM414 438h2v29h-2zM534 438h2v29h-2zM610 438h2v29h-2zM630 438h2v29h-2zM632 438h2v29h-2zM642 438h2v29h-2zM142 467h2v29h-2zM160 467h2v29h-2zM172 467h2v29h-2zM174 467h2v29h-2zM184 467h2v29h-2zM202 467h2v29h-2zM216 467h2v29h-2zM222 467h2v29h-2zM228 467h2v29h-2zM240 467h2v29h-2zM254 467h2v29h-2zM260 467h2v29h-2zM268 467h2v29h-2zM270 467h2v29h-2zM326 467h2v29h-2zM366 467h2v29h-2zM422 467h2v29h-2zM482 467h2v29h-2zM584 467h2v29h-2zM592 467h2v29h-2zM594 467h2v29h-2zM602 467h2v29h-2zM622 467h2v29h-2zM638 467h2v29h-2zM180 496h2v29h-2zM224 496h2v29h-2zM314 496h2v29h-2zM338 496h2v29h-2zM368 496h2v29h-2zM434 496h2v29h-2zM438 496h2v29h-2zM452 496h2v29h-2zM474 496h2v29h-2zM476 496h2v29h-2zM542 496h2v29h-2zM588 496h2v29h-2zM590 496h2v29h-2zM606 496h2v29h-2zM628 496h2v29h-2zM650 496h2v29h-2zM168 525h2v29h-2zM244 525h2v29h-2zM288 525h2v29h-2zM298 525h2v29h-2zM432 525h2v29h-2zM446 525h2v29h-2zM502 525h2v29h-2zM508 525h2v29h-2zM510 525h2v29h-2zM516 525h2v29h-2zM528 525h2v29h-2zM534 525h2v29h-2zM538 525h2v29h-2zM542 525h2v29h-2zM550 525h2v29h-2zM574 525h2v29h-2zM578 525h2v29h-2zM620 525h2v29h-2zM150 554h2v29h-2zM176 554h2v29h-2zM284 554h2v29h-2zM320 554h2v29h-2zM346 554h2v29h-2zM360 554h2v29h-2zM420 554h2v29h-2zM428 554h2v29h-2zM434 554h2v29h-2zM452 554h2v29h-2zM456 554h2v29h-2zM474 554h2v29h-2zM476 554h2v29h-2zM478 554h2v29h-2zM480 554h2v29h-2zM488 554h2v29h-2zM506 554h2v29h-2zM508 554h2v29h-2zM510 554h2v29h-2zM514 554h2v29h-2zM520 554h2v29h-2zM536 554h2v29h-2zM540 554h2v29h-2zM542 554h2v29h-2zM544 554h2v29h-2zM550 554h2v29h-2zM564 554h2v29h-2zM580 554h2v29h-2zM156 583h2v29h-2zM164 583h2v29h-2zM196 583h2v29h-2zM200 583h2v29h-2zM210 583h2v29h-2zM226 583h2v29h-2zM242 583h2v29h-2zM254 583h2v29h-2zM274 583h2v29h-2zM328 583h2v29h-2zM350 583h2v29h-2zM354 583h2v29h-2zM382 583h2v29h-2zM438 583h2v29h-2zM444 583h2v29h-2zM470 583h2v29h-2zM494 583h2v29h-2zM498 583h2v29h-2zM502 583h2v29h-2zM510 583h2v29h-2zM534 583h2v29h-2zM540 583h2v29h-2zM560 583h2v29h-2zM148 612h2v29h-2zM168 612h2v29h-2zM174 612h2v29h-2zM186 612h2v29h-2zM204 612h2v29h-2zM222 612h2v29h-2zM244 612h2v29h-2zM258 612h2v29h-2zM260 612h2v29h-2zM290 612h2v29h-2zM292 612h2v29h-2zM304 612h2v29h-2zM314 612h2v29h-2zM316 612h2v29h-2zM342 612h2v29h-2zM348 612h2v29h-2zM366 612h2v29h-2zM370 612h2v29h-2zM378 612h2v29h-2zM388 612h2v29h-2zM418 612h2v29h-2zM420 612h2v29h-2zM422 612h2v29h-2zM430 612h2v29h-2zM440 612h2v29h-2zM442 612h2v29h-2zM452 612h2v29h-2zM454 612h2v29h-2zM458 612h2v29h-2zM474 612h2v29h-2zM478 612h2v29h-2zM480 612h2v29h-2zM500 612h2v29h-2zM504 612h2v29h-2zM510 612h2v29h-2zM518 612h2v29h-2zM540 612h2v29h-2zM544 612h2v29h-2zM546 612h2v29h-2zM566 612h2v29h-2zM578 612h2v29h-2zM584 612h2v29h-2zM600 612h2v29h-2zM614 612h2v29h-2zM622 612h2v29h-2zM642 612h2v29h-2zM660 612h2v29h-2zM238 641h2v29h-2zM256 641h2v29h-2zM264 641h2v29h-2zM270 641h2v29h-2zM322 641h2v29h-2zM330 641h2v29h-2zM338 641h2v29h-2zM344 641h2v29h-2zM390 641h2v29h-2zM556 641h2v29h-2zM598 641h2v29h-2zM144 670h2v29h-2zM156 670h2v29h-2zM180 670h2v29h-2zM192 670h2v29h-2zM194 670h2v29h-2zM198 670h2v29h-2zM202 670h2v29h-2zM212 670h2v29h-2zM226 670h2v29h-2zM242 670h2v29h-2zM278 670h2v29h-2zM286 670h2v29h-2zM312 670h2v29h-2zM316 670h2v29h-2zM342 670h2v29h-2zM392 670h2v29h-2zM476 670h2v29h-2zM606 670h2v29h-2zM630 670h2v29h-2zM632 670h2v29h-2zM636 670h2v29h-2zM158 699h2v29h-2zM230 699h2v29h-2zM260 699h2v29h-2zM370 699h2v29h-2zM410 699h2v29h-2zM660 699h2v29h-2zM662 699h2v29h-2zM126 728h2v29h-2zM130 728h2v29h-2zM182 728h2v29h-2zM198 728h2v29h-2zM208 728h2v29h-2zM238 728h2v29h-2zM240 728h2v29h-2zM244 728h2v29h-2zM246 728h2v29h-2zM322 728h2v29h-2zM338 728h2v29h-2zM344 728h2v29h-2zM348 728h2v29h-2zM408 728h2v29h-2zM410 728h2v29h-2zM414 728h2v29h-2zM498 728h2v29h-2zM604 728h2v29h-2zM662 728h2v29h-2zM664 728h1v29h-1zM146 757h2v29h-2zM154 757h2v29h-2zM170 757h2v29h-2zM202 757h2v29h-2zM218 757h2v29h-2zM240 757h2v29h-2zM252 757h2v29h-2zM292 757h2v29h-2zM330 757h2v29h-2zM334 757h2v29h-2zM336 757h2v29h-2zM354 757h2v29h-2zM402 757h2v29h-2zM404 757h2v29h-2zM440 757h2v29h-2zM654 757h2v29h-2zM658 757h2v29h-2zM660 757h2v29h-2zM662 757h2v29h-2zM142 786h2v29h-2zM144 786h2v29h-2zM148 786h2v29h-2zM170 786h2v29h-2zM174 786h2v29h-2zM182 786h2v29h-2zM186 786h2v29h-2zM192 786h2v29h-2zM196 786h2v29h-2zM212 786h2v29h-2zM224 786h2v29h-2zM244 786h2v29h-2zM264 786h2v29h-2zM280 786h2v29h-2zM286 786h2v29h-2zM298 786h2v29h-2zM316 786h2v29h-2zM322 786h2v29h-2zM326 786h2v29h-2zM336 786h2v29h-2zM362 786h2v29h-2zM394 786h2v29h-2zM396 786h2v29h-2zM402 786h2v29h-2zM410 786h2v29h-2zM664 786h1v29h-1zM130 815h2v29h-2zM134 815h2v29h-2zM146 815h2v29h-2zM148 815h2v29h-2zM150 815h2v29h-2zM156 815h2v29h-2zM162 815h2v29h-2zM182 815h2v29h-2zM186 815h2v29h-2zM196 815h2v29h-2zM202 815h2v29h-2zM254 815h2v29h-2zM262 815h2v29h-2zM264 815h2v29h-2zM272 815h2v29h-2zM282 815h2v29h-2zM316 815h2v29h-2zM318 815h2v29h-2zM332 815h2v29h-2zM342 815h2v29h-2zM362 815h2v29h-2zM380 815h2v29h-2zM392 815h2v29h-2zM434 815h2v29h-2zM468 815h2v29h-2zM536 815h2v29h-2zM582 815h2v29h-2zM612 815h2v29h-2zM622 815h2v29h-2zM650 815h2v29h-2zM154 844h2v29h-2zM170 844h2v29h-2zM176 844h2v29h-2zM178 844h2v29h-2zM186 844h2v29h-2zM222 844h2v29h-2zM250 844h2v29h-2zM356 844h2v29h-2zM370 844h2v29h-2zM386 844h2v29h-2zM484 844h2v29h-2zM662 844h2v29h-2zM664 844h1v29h-1zM134 873h2v29h-2zM140 873h2v29h-2zM150 873h2v29h-2zM164 873h2v29h-2zM186 873h2v29h-2zM192 873h2v29h-2zM196 873h2v29h-2zM202 873h2v29h-2zM204 873h2v29h-2zM218 873h2v29h-2zM234 873h2v29h-2zM242 873h2v29h-2zM256 873h2v29h-2zM264 873h2v29h-2zM332 873h2v29h-2zM368 873h2v29h-2zM424 873h2v29h-2zM432 873h2v29h-2zM442 873h2v29h-2zM456 873h2v29h-2zM474 873h2v29h-2zM480 873h2v29h-2zM532 873h2v29h-2zM534 873h2v29h-2zM610 873h2v29h-2zM648 873h2v29h-2zM128 902h2v29h-2zM154 902h2v29h-2zM168 902h2v29h-2zM190 902h2v29h-2zM246 902h2v29h-2zM254 902h2v29h-2zM258 902h2v29h-2zM264 902h2v29h-2zM280 902h2v29h-2zM284 902h2v29h-2zM288 902h2v29h-2zM296 902h2v29h-2zM300 902h2v29h-2zM330 902h2v29h-2zM336 902h2v29h-2zM346 902h2v29h-2zM352 902h2v29h-2zM356 902h2v29h-2zM358 902h2v29h-2zM388 902h2v29h-2zM414 902h2v29h-2zM432 902h2v29h-2zM474 902h2v29h-2zM496 902h2v29h-2zM516 902h2v29h-2zM660 902h2v29h-2zM662 902h2v29h-2zM664 902h1v29h-1z"/>
<path fill="#d0e2ed" d="M334 90h2v29h-2zM402 90h2v29h-2zM340 119h2v29h-2zM376 119h2v29h-2zM400 119h2v29h-2zM320 148h2v29h-2zM388 148h2v29h-2zM634 235h2v29h-2zM550 293h2v29h-2zM470 351h2v29h-2zM482 351h2v29h-2zM500 351h2v29h-2zM420 380h2v29h-2zM616 409h2v29h-2zM180 757h2v29h-2zM328 873h2v29h-2z"/>
<path fill="#ebf0f2" d="M370 90h2v29h-2zM390 90h2v29h-2zM432 90h2v29h-2zM414 119h2v29h-2zM190 148h2v29h-2zM316 148h2v29h-2zM356 148h2v29h-2zM444 148h2v29h-2zM542 148h2v29h-2zM588 148h2v29h-2zM606 148h2v29h-2zM618 148h2v29h-2zM622 148h2v29h-2zM650 148h2v29h-2zM150 177h2v29h-2zM190 177h2v29h-2zM192 177h2v29h-2zM332 177h2v29h-2zM334 177h2v29h-2zM348 177h2v29h-2zM358 177h2v29h-2zM360 177h2v29h-2zM396 177h2v29h-2zM422 177h2v29h-2zM562 177h2v29h-2zM568 177h2v29h-2zM584 177h2v29h-2zM598 177h2v29h-2zM602 177h2v29h-2zM604 177h2v29h-2zM612 177h2v29h-2zM616 177h2v29h-2zM618 177h2v29h-2zM630 177h2v29h-2zM632 177h2v29h-2zM264 206h2v29h-2zM330 206h2v29h-2zM334 206h2v29h-2zM346 206h2v29h-2zM348 206h2v29h-2zM360 206h2v29h-2zM396 206h2v29h-2zM398 206h2v29h-2zM628 206h2v29h-2zM346 235h2v29h-2zM420 235h2v29h-2zM440 235h2v29h-2zM456 235h2v29h-2zM460 235h2v29h-2zM516 235h2v29h-2zM520 235h2v29h-2zM522 235h2v29h-2zM528 235h2v29h-2zM540 235h2v29h-2zM556 235h2v29h-2zM558 235h2v29h-2zM580 235h2v29h-2zM588 235h2v29h-2zM606 235h2v29h-2zM608 235h2v29h-2zM612 235h2v29h-2zM620 235h2v29h-2zM622 235h2v29h-2zM626 235h2v29h-2zM630 235h2v29h-2zM640 235h2v29h-2zM642 235h2v29h-2zM650 235h2v29h-2zM658 235h2v29h-2zM340 264h2v29h-2zM368 264h2v29h-2zM416 264h2v29h-2zM420 264h2v29h-2zM422 264h2v29h-2zM424 264h2v29h-2zM426 264h2v29h-2zM428 264h2v29h-2zM446 264h2v29h-2zM448 264h2v29h-2zM466 264h2v29h-2zM470 264h2v29h-2zM486 264h2v29h-2zM490 264h2v29h-2zM496 264h2v29h-2zM516 264h2v29h-2zM530 264h2v29h-2zM538 264h2v29h-2zM556 264h2v29h-2zM564 264h2v29h-2zM570 264h2v29h-2zM582 264h2v29h-2zM594 264h2v29h-2zM610 264h2v29h-2zM612 264h2v29h-2zM622 264h2v29h-2zM630 264h2v29h-2zM634 264h2v29h-2zM640 264h2v29h-2zM644 264h2v29h-2zM656 264h2v29h-2zM658 264h2v29h-2zM416 293h2v29h-2zM424 293h2v29h-2zM428 293h2v29h-2zM440 293h2v29h-2zM442 293h2v29h-2zM452 293h2v29h-2zM458 293h2v29h-2zM484 293h2v29h-2zM532 293h2v29h-2zM536 293h2v29h-2zM538 293h2v29h-2zM542 293h2v29h-2zM544 293h2v29h-2zM546 293h2v29h-2zM554 293h2v29h-2zM572 293h2v29h-2zM582 293h2v29h-2zM584 293h2v29h-2zM590 293h2v29h-2zM606 293h2v29h-2zM610 293h2v29h-2zM612 293h2v29h-2zM614 293h2v29h-2zM620 293h2v29h-2zM622 293h2v29h-2zM630 293h2v29h-2zM634 293h2v29h-2zM636 293h2v29h-2zM642 293h2v29h-2zM654 293h2v29h-2zM660 293h2v29h-2zM664 293h1v29h-1zM222 322h2v29h-2zM424 322h2v29h-2zM428 322h2v29h-2zM460 322h2v29h-2zM464 322h2v29h-2zM466 322h2v29h-2zM506 322h2v29h-2zM518 322h2v29h-2zM546 322h2v29h-2zM548 322h2v29h-2zM586 322h2v29h-2zM588 322h2v29h-2zM594 322h2v29h-2zM596 322h2v29h-2zM602 322h2v29h-2zM610 322h2v29h-2zM628 322h2v29h-2zM636 322h2v29h-2zM642 322h2v29h-2zM146 351h2v29h-2zM228 351h2v29h-2zM408 351h2v29h-2zM438 351h2v29h-2zM440 351h2v29h-2zM442 351h2v29h-2zM450 351h2v29h-2zM478 351h2v29h-2zM488 351h2v29h-2zM526 351h2v29h-2zM552 351h2v29h-2zM610 351h2v29h-2zM632 351h2v29h-2zM634 351h2v29h-2zM636 351h2v29h-2zM640 351h2v29h-2zM142 380h2v29h-2zM150 380h2v29h-2zM274 380h2v29h-2zM288 380h2v29h-2zM320 380h2v29h-2zM460 380h2v29h-2zM484 380h2v29h-2zM556 380h2v29h-2zM594 380h2v29h-2zM622 380h2v29h-2zM664 380h1v29h-1zM394 409h2v29h-2zM406 409h2v29h-2zM428 409h2v29h-2zM434 409h2v29h-2zM442 409h2v29h-2zM460 409h2v29h-2zM474 409h2v29h-2zM476 409h2v29h-2zM490 409h2v29h-2zM492 409h2v29h-2zM494 409h2v29h-2zM498 409h2v29h-2zM502 409h2v29h-2zM514 409h2v29h-2zM526 409h2v29h-2zM532 409h2v29h-2zM548 409h2v29h-2zM550 409h2v29h-2zM552 409h2v29h-2zM560 409h2v29h-2zM570 409h2v29h-2zM572 409h2v29h-2zM574 409h2v29h-2zM590 409h2v29h-2zM592 409h2v29h-2zM598 409h2v29h-2zM602 409h2v29h-2zM610 409h2v29h-2zM618 409h2v29h-2zM626 409h2v29h-2zM644 409h2v29h-2zM646 409h2v29h-2zM252 438h2v29h-2zM312 438h2v29h-2zM424 438h2v29h-2zM426 438h2v29h-2zM438 438h2v29h-2zM454 438h2v29h-2zM474 438h2v29h-2zM478 438h2v29h-2zM480 438h2v29h-2zM490 438h2v29h-2zM498 438h2v29h-2zM508 438h2v29h-2zM510 438h2v29h-2zM512 438h2v29h-2zM518 438h2v29h-2zM522 438h2v29h-2zM526 438h2v29h-2zM532 438h2v29h-2zM550 438h2v29h-2zM552 438h2v29h-2zM574 438h2v29h-2zM580 438h2v29h-2zM582 438h2v29h-2zM588 438h2v29h-2zM608 438h2v29h-2zM628 438h2v29h-2zM638 438h2v29h-2zM660 438h2v29h-2zM664 438h1v29h-1zM248 467h2v29h-2zM278 467h2v29h-2zM418 467h2v29h-2zM430 467h2v29h-2zM432 467h2v29h-2zM444 467h2v29h-2zM448 467h2v29h-2zM450 467h2v29h-2zM460 467h2v29h-2zM464 467h2v29h-2zM478 467h2v29h-2zM484 467h2v29h-2zM488 467h2v29h-2zM504 467h2v29h-2zM506 467h2v29h-2zM508 467h2v29h-2zM548 467h2v29h-2zM568 467h2v29h-2zM572 467h2v29h-2zM578 467h2v29h-2zM588 467h2v29h-2zM604 467h2v29h-2zM606 467h2v29h-2zM608 467h2v29h-2zM610 467h2v29h-2zM616 467h2v29h-2zM644 467h2v29h-2zM648 467h2v29h-2zM300 496h2v29h-2zM426 496h2v29h-2zM484 496h2v29h-2zM494 496h2v29h-2zM500 496h2v29h-2zM508 496h2v29h-2zM520 496h2v29h-2zM528 496h2v29h-2zM546 496h2v29h-2zM550 496h2v29h-2zM552 496h2v29h-2zM556 496h2v29h-2zM570 496h2v29h-2zM596 496h2v29h-2zM602 496h2v29h-2zM620 496h2v29h-2zM624 496h2v29h-2zM638 496h2v29h-2zM656 496h2v29h-2zM658 496h2v29h-2zM126 525h2v29h-2zM134 525h2v29h-2zM154 525h2v29h-2zM182 525h2v29h-2zM188 525h2v29h-2zM200 525h2v29h-2zM210 525h2v29h-2zM220 525h2v29h-2zM226 525h2v29h-2zM246 525h2v29h-2zM250 525h2v29h-2zM252 525h2v29h-2zM272 525h2v29h-2zM280 525h2v29h-2zM284 525h2v29h-2zM428 525h2v29h-2zM434 525h2v29h-2zM436 525h2v29h-2zM460 525h2v29h-2zM462 525h2v29h-2zM464 525h2v29h-2zM468 525h2v29h-2zM472 525h2v29h-2zM482 525h2v29h-2zM486 525h2v29h-2zM490 525h2v29h-2zM492 525h2v29h-2zM512 525h2v29h-2zM518 525h2v29h-2zM556 525h2v29h-2zM564 525h2v29h-2zM580 525h2v29h-2zM166 554h2v29h-2zM190 554h2v29h-2zM198 554h2v29h-2zM212 554h2v29h-2zM232 554h2v29h-2zM240 554h2v29h-2zM246 554h2v29h-2zM252 554h2v29h-2zM264 554h2v29h-2zM278 554h2v29h-2zM288 554h2v29h-2zM422 554h2v29h-2zM432 554h2v29h-2zM442 554h2v29h-2zM444 554h2v29h-2zM448 554h2v29h-2zM458 554h2v29h-2zM462 554h2v29h-2zM466 554h2v29h-2zM482 554h2v29h-2zM532 554h2v29h-2zM534 554h2v29h-2zM130 583h2v29h-2zM138 583h2v29h-2zM152 583h2v29h-2zM176 583h2v29h-2zM178 583h2v29h-2zM182 583h2v29h-2zM186 583h2v29h-2zM188 583h2v29h-2zM206 583h2v29h-2zM214 583h2v29h-2zM218 583h2v29h-2zM228 583h2v29h-2zM230 583h2v29h-2zM236 583h2v29h-2zM266 583h2v29h-2zM286 583h2v29h-2zM418 583h2v29h-2zM440 583h2v29h-2zM446 583h2v29h-2zM448 583h2v29h-2zM450 583h2v29h-2zM454 583h2v29h-2zM456 583h2v29h-2zM458 583h2v29h-2zM462 583h2v29h-2zM466 583h2v29h-2zM488 583h2v29h-2zM508 583h2v29h-2zM518 583h2v29h-2zM522 583h2v29h-2zM526 583h2v29h-2zM528 583h2v29h-2zM530 583h2v29h-2zM532 583h2v29h-2zM538 583h2v29h-2zM542 583h2v29h-2zM548 583h2v29h-2zM550 583h2v29h-2zM554 583h2v29h-2zM558 583h2v29h-2zM568 583h2v29h-2zM570 583h2v29h-2zM580 583h2v29h-2zM650 583h2v29h-2zM130 612h2v29h-2zM132 612h2v29h-2zM140 612h2v29h-2zM144 612h2v29h-2zM152 612h2v29h-2zM160 612h2v29h-2zM170 612h2v29h-2zM178 612h2v29h-2zM188 612h2v29h-2zM196 612h2v29h-2zM200 612h2v29h-2zM212 612h2v29h-2zM214 612h2v29h-2zM224 612h2v29h-2zM238 612h2v29h-2zM242 612h2v29h-2zM252 612h2v29h-2zM254 612h2v29h-2zM270 612h2v29h-2zM272 612h2v29h-2zM278 612h2v29h-2zM284 612h2v29h-2zM344 612h2v29h-2zM416 612h2v29h-2zM444 612h2v29h-2zM446 612h2v29h-2zM448 612h2v29h-2zM450 612h2v29h-2zM464 612h2v29h-2zM486 612h2v29h-2zM494 612h2v29h-2zM520 612h2v29h-2zM530 612h2v29h-2zM532 612h2v29h-2zM560 612h2v29h-2zM128 641h2v29h-2zM140 641h2v29h-2zM144 641h2v29h-2zM146 641h2v29h-2zM162 641h2v29h-2zM164 641h2v29h-2zM170 641h2v29h-2zM176 641h2v29h-2zM178 641h2v29h-2zM180 641h2v29h-2zM184 641h2v29h-2zM194 641h2v29h-2zM202 641h2v29h-2zM260 641h2v29h-2zM262 641h2v29h-2zM266 641h2v29h-2zM300 641h2v29h-2zM302 641h2v29h-2zM314 641h2v29h-2zM318 641h2v29h-2zM336 641h2v29h-2zM340 641h2v29h-2zM350 641h2v29h-2zM354 641h2v29h-2zM370 641h2v29h-2zM372 641h2v29h-2zM380 641h2v29h-2zM386 641h2v29h-2zM392 641h2v29h-2zM400 641h2v29h-2zM404 641h2v29h-2zM476 641h2v29h-2zM662 641h2v29h-2zM664 641h1v29h-1zM136 670h2v29h-2zM150 670h2v29h-2zM158 670h2v29h-2zM162 670h2v29h-2zM168 670h2v29h-2zM184 670h2v29h-2zM186 670h2v29h-2zM196 670h2v29h-2zM214 670h2v29h-2zM220 670h2v29h-2zM234 670h2v29h-2zM238 670h2v29h-2zM258 670h2v29h-2zM272 670h2v29h-2zM282 670h2v29h-2zM294 670h2v29h-2zM310 670h2v29h-2zM318 670h2v29h-2zM322 670h2v29h-2zM328 670h2v29h-2zM330 670h2v29h-2zM340 670h2v29h-2zM346 670h2v29h-2zM354 670h2v29h-2zM358 670h2v29h-2zM362 670h2v29h-2zM364 670h2v29h-2zM374 670h2v29h-2zM376 670h2v29h-2zM388 670h2v29h-2zM390 670h2v29h-2zM402 670h2v29h-2zM408 670h2v29h-2zM412 670h2v29h-2zM660 670h2v29h-2zM664 670h1v29h-1zM132 699h2v29h-2zM160 699h2v29h-2zM164 699h2v29h-2zM178 699h2v29h-2zM184 699h2v29h-2zM186 699h2v29h-2zM194 699h2v29h-2zM196 699h2v29h-2zM202 699h2v29h-2zM218 699h2v29h-2zM224 699h2v29h-2zM226 699h2v29h-2zM228 699h2v29h-2zM272 699h2v29h-2zM284 699h2v29h-2zM298 699h2v29h-2zM300 699h2v29h-2zM322 699h2v29h-2zM330 699h2v29h-2zM414 699h2v29h-2zM654 699h2v29h-2zM656 699h2v29h-2zM658 699h2v29h-2zM132 728h2v29h-2zM146 728h2v29h-2zM148 728h2v29h-2zM150 728h2v29h-2zM152 728h2v29h-2zM176 728h2v29h-2zM190 728h2v29h-2zM194 728h2v29h-2zM202 728h2v29h-2zM204 728h2v29h-2zM214 728h2v29h-2zM216 728h2v29h-2zM222 728h2v29h-2zM242 728h2v29h-2zM248 728h2v29h-2zM270 728h2v29h-2zM272 728h2v29h-2zM282 728h2v29h-2zM292 728h2v29h-2zM300 728h2v29h-2zM308 728h2v29h-2zM314 728h2v29h-2zM316 728h2v29h-2zM326 728h2v29h-2zM328 728h2v29h-2zM336 728h2v29h-2zM340 728h2v29h-2zM346 728h2v29h-2zM360 728h2v29h-2zM362 728h2v29h-2zM368 728h2v29h-2zM388 728h2v29h-2zM396 728h2v29h-2zM398 728h2v29h-2zM400 728h2v29h-2zM402 728h2v29h-2zM412 728h2v29h-2zM658 728h2v29h-2zM136 757h2v29h-2zM142 757h2v29h-2zM144 757h2v29h-2zM148 757h2v29h-2zM168 757h2v29h-2zM176 757h2v29h-2zM190 757h2v29h-2zM194 757h2v29h-2zM222 757h2v29h-2zM238 757h2v29h-2zM256 757h2v29h-2zM262 757h2v29h-2zM264 757h2v29h-2zM266 757h2v29h-2zM298 757h2v29h-2zM300 757h2v29h-2zM304 757h2v29h-2zM314 757h2v29h-2zM316 757h2v29h-2zM320 757h2v29h-2zM324 757h2v29h-2zM344 757h2v29h-2zM346 757h2v29h-2zM348 757h2v29h-2zM362 757h2v29h-2zM364 757h2v29h-2zM368 757h2v29h-2zM384 757h2v29h-2zM386 757h2v29h-2zM388 757h2v29h-2zM130 786h2v29h-2zM132 786h2v29h-2zM146 786h2v29h-2zM150 786h2v29h-2zM168 786h2v29h-2zM178 786h2v29h-2zM180 786h2v29h-2zM188 786h2v29h-2zM190 786h2v29h-2zM206 786h2v29h-2zM228 786h2v29h-2zM230 786h2v29h-2zM234 786h2v29h-2zM236 786h2v29h-2zM240 786h2v29h-2zM246 786h2v29h-2zM248 786h2v29h-2zM250 786h2v29h-2zM256 786h2v29h-2zM260 786h2v29h-2zM266 786h2v29h-2zM270 786h2v29h-2zM276 786h2v29h-2zM288 786h2v29h-2zM292 786h2v29h-2zM308 786h2v29h-2zM314 786h2v29h-2zM318 786h2v29h-2zM324 786h2v29h-2zM328 786h2v29h-2zM330 786h2v29h-2zM338 786h2v29h-2zM340 786h2v29h-2zM342 786h2v29h-2zM344 786h2v29h-2zM346 786h2v29h-2zM352 786h2v29h-2zM360 786h2v29h-2zM382 786h2v29h-2zM386 786h2v29h-2zM404 786h2v29h-2zM408 786h2v29h-2zM144 815h2v29h-2zM158 815h2v29h-2zM190 815h2v29h-2zM200 815h2v29h-2zM204 815h2v29h-2zM206 815h2v29h-2zM210 815h2v29h-2zM216 815h2v29h-2zM218 815h2v29h-2zM224 815h2v29h-2zM228 815h2v29h-2zM238 815h2v29h-2zM244 815h2v29h-2zM248 815h2v29h-2zM258 815h2v29h-2zM260 815h2v29h-2zM274 815h2v29h-2zM288 815h2v29h-2zM312 815h2v29h-2zM326 815h2v29h-2zM328 815h2v29h-2zM346 815h2v29h-2zM358 815h2v29h-2zM374 815h2v29h-2zM386 815h2v29h-2zM410 815h2v29h-2zM412 815h2v29h-2zM134 844h2v29h-2zM174 844h2v29h-2zM180 844h2v29h-2zM194 844h2v29h-2zM196 844h2v29h-2zM198 844h2v29h-2zM228 844h2v29h-2zM230 844h2v29h-2zM232 844h2v29h-2zM236 844h2v29h-2zM248 844h2v29h-2zM258 844h2v29h-2zM268 844h2v29h-2zM280 844h2v29h-2zM284 844h2v29h-2zM302 844h2v29h-2zM308 844h2v29h-2zM310 844h2v29h-2zM322 844h2v29h-2zM326 844h2v29h-2zM330 844h2v29h-2zM342 844h2v29h-2zM348 844h2v29h-2zM354 844h2v29h-2zM358 844h2v29h-2zM366 844h2v29h-2zM374 844h2v29h-2zM378 844h2v29h-2zM380 844h2v29h-2zM382 844h2v29h-2zM408 844h2v29h-2zM412 844h2v29h-2zM414 844h2v29h-2zM126 873h2v29h-2zM128 873h2v29h-2zM130 873h2v29h-2zM142 873h2v29h-2zM148 873h2v29h-2zM176 873h2v29h-2zM194 873h2v29h-2zM214 873h2v29h-2zM222 873h2v29h-2zM244 873h2v29h-2zM252 873h2v29h-2zM254 873h2v29h-2zM260 873h2v29h-2zM272 873h2v29h-2zM278 873h2v29h-2zM288 873h2v29h-2zM294 873h2v29h-2zM306 873h2v29h-2zM310 873h2v29h-2zM314 873h2v29h-2zM344 873h2v29h-2zM354 873h2v29h-2zM360 873h2v29h-2zM378 873h2v29h-2zM388 873h2v29h-2zM394 873h2v29h-2zM400 873h2v29h-2zM402 873h2v29h-2zM410 873h2v29h-2zM500 873h2v29h-2zM554 873h2v29h-2zM660 873h2v29h-2zM662 873h2v29h-2zM126 902h2v29h-2zM130 902h2v29h-2zM132 902h2v29h-2zM142 902h2v29h-2zM148 902h2v29h-2zM152 902h2v29h-2zM160 902h2v29h-2zM162 902h2v29h-2zM164 902h2v29h-2zM172 902h2v29h-2zM178 902h2v29h-2zM180 902h2v29h-2zM184 902h2v29h-2zM194 902h2v29h-2zM202 902h2v29h-2zM214 902h2v29h-2zM224 902h2v29h-2zM226 902h2v29h-2zM252 902h2v29h-2zM256 902h2v29h-2zM274 902h2v29h-2zM276 902h2v29h-2zM292 902h2v29h-2zM302 902h2v29h-2zM310 902h2v29h-2zM314 902h2v29h-2zM322 902h2v29h-2zM340 902h2v29h-2zM368 902h2v29h-2zM378 902h2v29h-2zM400 902h2v29h-2zM408 902h2v29h-2zM430 902h2v29h-2zM656 902h2v29h-2z"/>
<path fill="#f8dccb" d="M474 90h2v29h-2zM514 90h2v29h-2zM540 90h2v29h-2zM128 119h2v29h-2zM192 119h2v29h-2zM220 119h2v29h-2zM230 119h2v29h-2zM260 119h2v29h-2zM278 119h2v29h-2zM186 148h2v29h-2zM192 293h2v29h-2zM390 293h2v29h-2zM332 322h2v29h-2zM230 351h2v29h-2zM654 351h2v29h-2zM296 409h2v29h-2zM132 438h2v29h-2zM392 467h2v29h-2zM654 467h2v29h-2zM206 496h2v29h-2zM292 525h2v29h-2zM302 525h2v29h-2zM346 525h2v29h-2zM640 525h2v29h-2zM598 554h2v29h-2zM604 554h2v29h-2zM632 554h2v29h-2zM602 583h2v29h-2zM628 612h2v29h-2zM438 641h2v29h-2zM470 641h2v29h-2zM490 641h2v29h-2zM478 670h2v29h-2zM562 670h2v29h-2zM580 670h2v29h-2zM466 699h2v29h-2zM478 699h2v29h-2zM482 699h2v29h-2zM490 699h2v29h-2zM506 699h2v29h-2zM522 699h2v29h-2zM532 699h2v29h-2zM546 699h2v29h-2zM548 699h2v29h-2zM600 699h2v29h-2zM426 728h2v29h-2zM434 728h2v29h-2zM448 728h2v29h-2zM472 728h2v29h-2zM508 728h2v29h-2zM526 728h2v29h-2zM556 728h2v29h-2zM602 728h2v29h-2zM610 728h2v29h-2zM636 728h2v29h-2zM508 757h2v29h-2zM532 757h2v29h-2zM608 757h2v29h-2zM638 757h2v29h-2zM420 786h2v29h-2zM434 786h2v29h-2zM578 786h2v29h-2zM444 844h2v29h-2zM472 844h2v29h-2zM478 844h2v29h-2zM578 844h2v29h-2zM592 844h2v29h-2zM586 873h2v29h-2zM444 902h2v29h-2zM478 902h2v29h-2zM488 902h2v29h-2zM582 902h2v29h-2zM604 902h2v29h-2zM606 902h2v29h-2zM644 902h2v29h-2z"/>
<path fill="#f9d9c6" d="M526 90h2v29h-2zM250 119h2v29h-2zM282 119h2v29h-2zM656 351h2v29h-2zM658 351h2v29h-2zM354 554h2v29h-2zM340 583h2v29h-2zM584 583h2v29h-2zM598 583h2v29h-2zM638 583h2v29h-2zM428 699h2v29h-2zM476 699h2v29h-2zM424 728h2v29h-2zM558 728h2v29h-2zM418 786h2v29h-2zM548 786h2v29h-2zM652 815h2v29h-2zM518 873h2v29h-2zM542 873h2v29h-2zM472 902h2v29h-2z"/>
<path fill="#ed9a7a" d="M654 90h2v29h-2zM656 148h2v29h-2zM658 148h2v29h-2z"/>
<path fill="#e38469" d="M656 90h2v29h-2z"/>
<path fill="#ea9374" d="M658 90h2v29h-2zM656 119h2v29h-2z"/>
<path fill="#eff1f3" d="M426 119h2v29h-2zM564 119h2v29h-2zM616 148h2v29h-2zM624 148h2v29h-2zM646 148h2v29h-2zM652 148h2v29h-2zM146 177h2v29h-2zM154 177h2v29h-2zM156 177h2v29h-2zM162 177h2v29h-2zM198 177h2v29h-2zM212 177h2v29h-2zM246 177h2v29h-2zM266 177h2v29h-2zM302 177h2v29h-2zM312 177h2v29h-2zM330 177h2v29h-2zM338 177h2v29h-2zM346 177h2v29h-2zM354 177h2v29h-2zM386 177h2v29h-2zM388 177h2v29h-2zM390 177h2v29h-2zM414 177h2v29h-2zM508 177h2v29h-2zM540 177h2v29h-2zM582 177h2v29h-2zM608 177h2v29h-2zM614 177h2v29h-2zM624 177h2v29h-2zM626 177h2v29h-2zM634 177h2v29h-2zM638 177h2v29h-2zM650 177h2v29h-2zM652 177h2v29h-2zM256 206h2v29h-2zM258 206h2v29h-2zM270 206h2v29h-2zM292 206h2v29h-2zM306 206h2v29h-2zM316 206h2v29h-2zM318 206h2v29h-2zM326 206h2v29h-2zM332 206h2v29h-2zM338 206h2v29h-2zM344 206h2v29h-2zM356 206h2v29h-2zM370 206h2v29h-2zM386 206h2v29h-2zM388 206h2v29h-2zM394 206h2v29h-2zM402 206h2v29h-2zM404 206h2v29h-2zM430 206h2v29h-2zM544 206h2v29h-2zM582 206h2v29h-2zM592 206h2v29h-2zM594 206h2v29h-2zM626 206h2v29h-2zM644 206h2v29h-2zM146 235h2v29h-2zM148 235h2v29h-2zM152 235h2v29h-2zM188 235h2v29h-2zM268 235h2v29h-2zM312 235h2v29h-2zM316 235h2v29h-2zM462 235h2v29h-2zM474 235h2v29h-2zM502 235h2v29h-2zM506 235h2v29h-2zM510 235h2v29h-2zM560 235h2v29h-2zM562 235h2v29h-2zM594 235h2v29h-2zM598 235h2v29h-2zM610 235h2v29h-2zM624 235h2v29h-2zM638 235h2v29h-2zM648 235h2v29h-2zM662 235h2v29h-2zM218 264h2v29h-2zM246 264h2v29h-2zM296 264h2v29h-2zM304 264h2v29h-2zM316 264h2v29h-2zM320 264h2v29h-2zM342 264h2v29h-2zM370 264h2v29h-2zM376 264h2v29h-2zM378 264h2v29h-2zM400 264h2v29h-2zM432 264h2v29h-2zM438 264h2v29h-2zM460 264h2v29h-2zM462 264h2v29h-2zM480 264h2v29h-2zM484 264h2v29h-2zM554 264h2v29h-2zM584 264h2v29h-2zM588 264h2v29h-2zM598 264h2v29h-2zM614 264h2v29h-2zM620 264h2v29h-2zM632 264h2v29h-2zM638 264h2v29h-2zM648 264h2v29h-2zM660 264h2v29h-2zM662 264h2v29h-2zM194 293h2v29h-2zM420 293h2v29h-2zM422 293h2v29h-2zM444 293h2v29h-2zM450 293h2v29h-2zM464 293h2v29h-2zM476 293h2v29h-2zM482 293h2v29h-2zM488 293h2v29h-2zM490 293h2v29h-2zM514 293h2v29h-2zM516 293h2v29h-2zM526 293h2v29h-2zM552 293h2v29h-2zM556 293h2v29h-2zM562 293h2v29h-2zM564 293h2v29h-2zM568 293h2v29h-2zM570 293h2v29h-2zM602 293h2v29h-2zM608 293h2v29h-2zM618 293h2v29h-2zM624 293h2v29h-2zM626 293h2v29h-2zM644 293h2v29h-2zM650 293h2v29h-2zM652 293h2v29h-2zM658 293h2v29h-2zM170 322h2v29h-2zM212 322h2v29h-2zM234 322h2v29h-2zM276 322h2v29h-2zM422 322h2v29h-2zM432 322h2v29h-2zM486 322h2v29h-2zM496 322h2v29h-2zM512 322h2v29h-2zM522 322h2v29h-2zM568 322h2v29h-2zM572 322h2v29h-2zM574 322h2v29h-2zM578 322h2v29h-2zM624 322h2v29h-2zM638 322h2v29h-2zM650 322h2v29h-2zM664 322h1v29h-1zM152 351h2v29h-2zM208 351h2v29h-2zM242 351h2v29h-2zM306 351h2v29h-2zM384 351h2v29h-2zM496 351h2v29h-2zM578 351h2v29h-2zM628 351h2v29h-2zM126 380h2v29h-2zM132 380h2v29h-2zM138 380h2v29h-2zM156 380h2v29h-2zM158 380h2v29h-2zM160 380h2v29h-2zM174 380h2v29h-2zM194 380h2v29h-2zM206 380h2v29h-2zM212 380h2v29h-2zM226 380h2v29h-2zM230 380h2v29h-2zM234 380h2v29h-2zM256 380h2v29h-2zM266 380h2v29h-2zM272 380h2v29h-2zM278 380h2v29h-2zM280 380h2v29h-2zM316 380h2v29h-2zM440 380h2v29h-2zM564 380h2v29h-2zM588 380h2v29h-2zM602 380h2v29h-2zM634 380h2v29h-2zM662 380h2v29h-2zM148 409h2v29h-2zM192 409h2v29h-2zM456 409h2v29h-2zM504 409h2v29h-2zM510 409h2v29h-2zM512 409h2v29h-2zM554 409h2v29h-2zM568 409h2v29h-2zM582 409h2v29h-2zM586 409h2v29h-2zM596 409h2v29h-2zM606 409h2v29h-2zM622 409h2v29h-2zM634 409h2v29h-2zM638 409h2v29h-2zM660 409h2v29h-2zM134 438h2v29h-2zM274 438h2v29h-2zM302 438h2v29h-2zM336 438h2v29h-2zM342 438h2v29h-2zM382 438h2v29h-2zM394 438h2v29h-2zM412 438h2v29h-2zM436 438h2v29h-2zM442 438h2v29h-2zM464 438h2v29h-2zM482 438h2v29h-2zM488 438h2v29h-2zM492 438h2v29h-2zM496 438h2v29h-2zM502 438h2v29h-2zM506 438h2v29h-2zM542 438h2v29h-2zM562 438h2v29h-2zM564 438h2v29h-2zM586 438h2v29h-2zM592 438h2v29h-2zM598 438h2v29h-2zM600 438h2v29h-2zM606 438h2v29h-2zM634 438h2v29h-2zM644 438h2v29h-2zM652 438h2v29h-2zM176 467h2v29h-2zM382 467h2v29h-2zM462 467h2v29h-2zM476 467h2v29h-2zM542 467h2v29h-2zM560 467h2v29h-2zM574 467h2v29h-2zM580 467h2v29h-2zM582 467h2v29h-2zM612 467h2v29h-2zM624 467h2v29h-2zM628 467h2v29h-2zM642 467h2v29h-2zM662 467h2v29h-2zM146 496h2v29h-2zM326 496h2v29h-2zM418 496h2v29h-2zM428 496h2v29h-2zM432 496h2v29h-2zM440 496h2v29h-2zM444 496h2v29h-2zM446 496h2v29h-2zM462 496h2v29h-2zM470 496h2v29h-2zM472 496h2v29h-2zM488 496h2v29h-2zM490 496h2v29h-2zM502 496h2v29h-2zM536 496h2v29h-2zM560 496h2v29h-2zM572 496h2v29h-2zM576 496h2v29h-2zM582 496h2v29h-2zM584 496h2v29h-2zM586 496h2v29h-2zM598 496h2v29h-2zM608 496h2v29h-2zM612 496h2v29h-2zM614 496h2v29h-2zM616 496h2v29h-2zM630 496h2v29h-2zM644 496h2v29h-2zM660 496h2v29h-2zM664 496h1v29h-1zM146 525h2v29h-2zM152 525h2v29h-2zM222 525h2v29h-2zM242 525h2v29h-2zM278 525h2v29h-2zM416 525h2v29h-2zM426 525h2v29h-2zM438 525h2v29h-2zM444 525h2v29h-2zM448 525h2v29h-2zM474 525h2v29h-2zM484 525h2v29h-2zM488 525h2v29h-2zM494 525h2v29h-2zM496 525h2v29h-2zM500 525h2v29h-2zM506 525h2v29h-2zM520 525h2v29h-2zM526 525h2v29h-2zM530 525h2v29h-2zM536 525h2v29h-2zM548 525h2v29h-2zM552 525h2v29h-2zM554 525h2v29h-2zM570 525h2v29h-2zM572 525h2v29h-2zM126 554h2v29h-2zM148 554h2v29h-2zM216 554h2v29h-2zM280 554h2v29h-2zM304 554h2v29h-2zM418 554h2v29h-2zM426 554h2v29h-2zM440 554h2v29h-2zM454 554h2v29h-2zM460 554h2v29h-2zM464 554h2v29h-2zM472 554h2v29h-2zM484 554h2v29h-2zM500 554h2v29h-2zM504 554h2v29h-2zM518 554h2v29h-2zM522 554h2v29h-2zM538 554h2v29h-2zM546 554h2v29h-2zM548 554h2v29h-2zM552 554h2v29h-2zM558 554h2v29h-2zM560 554h2v29h-2zM562 554h2v29h-2zM566 554h2v29h-2zM198 583h2v29h-2zM238 583h2v29h-2zM240 583h2v29h-2zM252 583h2v29h-2zM260 583h2v29h-2zM268 583h2v29h-2zM270 583h2v29h-2zM288 583h2v29h-2zM334 583h2v29h-2zM422 583h2v29h-2zM432 583h2v29h-2zM434 583h2v29h-2zM460 583h2v29h-2zM476 583h2v29h-2zM478 583h2v29h-2zM480 583h2v29h-2zM486 583h2v29h-2zM490 583h2v29h-2zM500 583h2v29h-2zM504 583h2v29h-2zM514 583h2v29h-2zM520 583h2v29h-2zM524 583h2v29h-2zM536 583h2v29h-2zM546 583h2v29h-2zM564 583h2v29h-2zM154 612h2v29h-2zM156 612h2v29h-2zM166 612h2v29h-2zM176 612h2v29h-2zM184 612h2v29h-2zM194 612h2v29h-2zM202 612h2v29h-2zM208 612h2v29h-2zM220 612h2v29h-2zM226 612h2v29h-2zM228 612h2v29h-2zM230 612h2v29h-2zM232 612h2v29h-2zM250 612h2v29h-2zM256 612h2v29h-2zM280 612h2v29h-2zM302 612h2v29h-2zM318 612h2v29h-2zM332 612h2v29h-2zM356 612h2v29h-2zM406 612h2v29h-2zM424 612h2v29h-2zM426 612h2v29h-2zM434 612h2v29h-2zM438 612h2v29h-2zM460 612h2v29h-2zM462 612h2v29h-2zM470 612h2v29h-2zM472 612h2v29h-2zM490 612h2v29h-2zM498 612h2v29h-2zM502 612h2v29h-2zM514 612h2v29h-2zM516 612h2v29h-2zM522 612h2v29h-2zM542 612h2v29h-2zM550 612h2v29h-2zM554 612h2v29h-2zM570 612h2v29h-2zM572 612h2v29h-2zM634 612h2v29h-2zM130 641h2v29h-2zM158 641h2v29h-2zM196 641h2v29h-2zM204 641h2v29h-2zM234 641h2v29h-2zM282 641h2v29h-2zM374 641h2v29h-2zM388 641h2v29h-2zM396 641h2v29h-2zM644 641h2v29h-2zM128 670h2v29h-2zM130 670h2v29h-2zM142 670h2v29h-2zM152 670h2v29h-2zM172 670h2v29h-2zM176 670h2v29h-2zM188 670h2v29h-2zM208 670h2v29h-2zM228 670h2v29h-2zM230 670h2v29h-2zM232 670h2v29h-2zM244 670h2v29h-2zM248 670h2v29h-2zM254 670h2v29h-2zM260 670h2v29h-2zM262 670h2v29h-2zM268 670h2v29h-2zM288 670h2v29h-2zM314 670h2v29h-2zM326 670h2v29h-2zM396 670h2v29h-2zM600 670h2v29h-2zM644 670h2v29h-2zM138 699h2v29h-2zM140 699h2v29h-2zM142 699h2v29h-2zM168 699h2v29h-2zM170 699h2v29h-2zM192 699h2v29h-2zM204 699h2v29h-2zM212 699h2v29h-2zM220 699h2v29h-2zM232 699h2v29h-2zM236 699h2v29h-2zM242 699h2v29h-2zM246 699h2v29h-2zM664 699h1v29h-1zM128 728h2v29h-2zM138 728h2v29h-2zM140 728h2v29h-2zM142 728h2v29h-2zM154 728h2v29h-2zM158 728h2v29h-2zM160 728h2v29h-2zM162 728h2v29h-2zM174 728h2v29h-2zM180 728h2v29h-2zM200 728h2v29h-2zM206 728h2v29h-2zM230 728h2v29h-2zM236 728h2v29h-2zM252 728h2v29h-2zM262 728h2v29h-2zM266 728h2v29h-2zM276 728h2v29h-2zM280 728h2v29h-2zM304 728h2v29h-2zM306 728h2v29h-2zM312 728h2v29h-2zM332 728h2v29h-2zM354 728h2v29h-2zM364 728h2v29h-2zM366 728h2v29h-2zM372 728h2v29h-2zM374 728h2v29h-2zM378 728h2v29h-2zM384 728h2v29h-2zM386 728h2v29h-2zM406 728h2v29h-2zM656 728h2v29h-2zM660 728h2v29h-2zM126 757h2v29h-2zM130 757h2v29h-2zM132 757h2v29h-2zM138 757h2v29h-2zM152 757h2v29h-2zM158 757h2v29h-2zM162 757h2v29h-2zM166 757h2v29h-2zM186 757h2v29h-2zM196 757h2v29h-2zM204 757h2v29h-2zM208 757h2v29h-2zM212 757h2v29h-2zM216 757h2v29h-2zM226 757h2v29h-2zM230 757h2v29h-2zM234 757h2v29h-2zM248 757h2v29h-2zM254 757h2v29h-2zM270 757h2v29h-2zM272 757h2v29h-2zM274 757h2v29h-2zM282 757h2v29h-2zM284 757h2v29h-2zM290 757h2v29h-2zM296 757h2v29h-2zM302 757h2v29h-2zM306 757h2v29h-2zM390 757h2v29h-2zM406 757h2v29h-2zM412 757h2v29h-2zM414 757h2v29h-2zM644 757h2v29h-2zM664 757h1v29h-1zM128 786h2v29h-2zM136 786h2v29h-2zM140 786h2v29h-2zM154 786h2v29h-2zM156 786h2v29h-2zM162 786h2v29h-2zM172 786h2v29h-2zM176 786h2v29h-2zM200 786h2v29h-2zM202 786h2v29h-2zM208 786h2v29h-2zM210 786h2v29h-2zM214 786h2v29h-2zM216 786h2v29h-2zM218 786h2v29h-2zM238 786h2v29h-2zM268 786h2v29h-2zM290 786h2v29h-2zM296 786h2v29h-2zM302 786h2v29h-2zM306 786h2v29h-2zM310 786h2v29h-2zM348 786h2v29h-2zM354 786h2v29h-2zM356 786h2v29h-2zM364 786h2v29h-2zM372 786h2v29h-2zM384 786h2v29h-2zM388 786h2v29h-2zM406 786h2v29h-2zM412 786h2v29h-2zM596 786h2v29h-2zM604 786h2v29h-2zM654 786h2v29h-2zM656 786h2v29h-2zM660 786h2v29h-2zM662 786h2v29h-2zM132 815h2v29h-2zM140 815h2v29h-2zM142 815h2v29h-2zM154 815h2v29h-2zM166 815h2v29h-2zM168 815h2v29h-2zM172 815h2v29h-2zM174 815h2v29h-2zM194 815h2v29h-2zM214 815h2v29h-2zM222 815h2v29h-2zM232 815h2v29h-2zM236 815h2v29h-2zM246 815h2v29h-2zM256 815h2v29h-2zM266 815h2v29h-2zM270 815h2v29h-2zM276 815h2v29h-2zM278 815h2v29h-2zM284 815h2v29h-2zM286 815h2v29h-2zM292 815h2v29h-2zM298 815h2v29h-2zM300 815h2v29h-2zM334 815h2v29h-2zM344 815h2v29h-2zM360 815h2v29h-2zM366 815h2v29h-2zM376 815h2v29h-2zM378 815h2v29h-2zM382 815h2v29h-2zM408 815h2v29h-2zM644 815h2v29h-2zM660 815h2v29h-2zM662 815h2v29h-2zM138 844h2v29h-2zM144 844h2v29h-2zM160 844h2v29h-2zM164 844h2v29h-2zM168 844h2v29h-2zM190 844h2v29h-2zM204 844h2v29h-2zM208 844h2v29h-2zM210 844h2v29h-2zM214 844h2v29h-2zM240 844h2v29h-2zM256 844h2v29h-2zM270 844h2v29h-2zM272 844h2v29h-2zM372 844h2v29h-2zM384 844h2v29h-2zM394 844h2v29h-2zM400 844h2v29h-2zM656 844h2v29h-2zM132 873h2v29h-2zM162 873h2v29h-2zM172 873h2v29h-2zM178 873h2v29h-2zM188 873h2v29h-2zM200 873h2v29h-2zM206 873h2v29h-2zM210 873h2v29h-2zM230 873h2v29h-2zM236 873h2v29h-2zM262 873h2v29h-2zM280 873h2v29h-2zM302 873h2v29h-2zM318 873h2v29h-2zM320 873h2v29h-2zM330 873h2v29h-2zM334 873h2v29h-2zM342 873h2v29h-2zM382 873h2v29h-2zM556 873h2v29h-2zM574 873h2v29h-2zM596 873h2v29h-2zM136 902h2v29h-2zM138 902h2v29h-2zM150 902h2v29h-2zM174 902h2v29h-2zM176 902h2v29h-2zM192 902h2v29h-2zM208 902h2v29h-2zM216 902h2v29h-2zM222 902h2v29h-2zM228 902h2v29h-2zM230 902h2v29h-2zM234 902h2v29h-2zM236 902h2v29h-2zM242 902h2v29h-2zM262 902h2v29h-2zM270 902h2v29h-2zM290 902h2v29h-2zM298 902h2v29h-2zM304 902h2v29h-2zM312 902h2v29h-2zM316 902h2v29h-2zM320 902h2v29h-2zM324 902h2v29h-2zM332 902h2v29h-2zM370 902h2v29h-2zM374 902h2v29h-2zM376 902h2v29h-2zM380 902h2v29h-2zM382 902h2v29h-2zM384 902h2v29h-2zM386 902h2v29h-2zM394 902h2v29h-2zM412 902h2v29h-2zM468 902h2v29h-2zM654 902h2v29h-2zM658 902h2v29h-2z"/>
<path fill="#e68c6e" d="M654 119h2v29h-2zM658 177h2v29h-2z"/>
<path fill="#e07d63" d="M658 119h2v29h-2zM654 177h2v29h-2zM662 177h2v29h-2zM664 177h1v29h-1z"/>
<path fill="#f9d4c0" d="M158 148h2v29h-2zM306 525h2v29h-2zM586 583h2v29h-2zM494 728h2v29h-2zM520 757h2v29h-2zM526 815h2v29h-2zM434 844h2v29h-2zM584 902h2v29h-2zM636 902h2v29h-2z"/>
<path fill="#c3dce9" d="M608 148h2v29h-2zM442 264h2v29h-2z"/>
<path fill="#f0a17f" d="M654 148h2v29h-2zM654 206h2v29h-2z"/>
<path fill="#da6f58" d="M656 177h2v29h-2z"/>
<path fill="#dd765e" d="M660 177h2v29h-2z"/>
<path fill="#f1a786" d="M656 206h2v29h-2z"/>
<path fill="#f3b394" d="M658 206h2v29h-2z"/>
<path fill="#f8cfb9" d="M196 264h2v29h-2zM414 322h2v29h-2zM584 554h2v29h-2zM632 583h2v29h-2zM656 612h2v29h-2zM658 612h2v29h-2zM452 699h2v29h-2zM472 757h2v29h-2z"/>
<path fill="#86bcd7" d="M654 380h2v29h-2zM658 380h2v29h-2zM654 873h2v29h-2z"/>
<path fill="#8ec1da" d="M656 380h2v29h-2zM656 670h2v29h-2zM658 873h2v29h-2z"/>
<path fill="#f6c3aa" d="M654 525h2v29h-2zM656 525h2v29h-2zM658 554h2v29h-2z"/>
<path fill="#f7c9b1" d="M658 525h2v29h-2zM654 554h2v29h-2zM654 583h2v29h-2zM658 583h2v29h-2zM654 612h2v29h-2z"/>
<path fill="#f5bea3" d="M656 554h2v29h-2zM656 583h2v29h-2z"/>
<path fill="#7eb7d5" d="M654 641h2v29h-2zM658 641h2v29h-2z"/>
<path fill="#76b1d2" d="M656 641h2v29h-2z"/>
<path fill="#9cc8de" d="M654 670h2v29h-2z"/>
<path fill="#a9cfe2" d="M658 670h2v29h-2zM654 815h2v29h-2zM656 815h2v29h-2z"/>
<path fill="#b6d6e6" d="M658 815h2v29h-2z"/>
<path fill="#95c5dc" d="M656 873h2v29h-2z"/>
<path d="M126 104.5H92.4V133.5H126M92.4 119H75.6V162.5H126M75.6 140.8H57.3V191.5H126M57.3 166.1H53.7V220.5H126M126 249.5H74.7V278.5H126M74.7 264H69.1V307.5H126M69.1 285.8H59.3V336.5H126M59.3 311.1H57.6V365.5H126M126 394.5H64V423.5H126M64 409H61.5V452.5H126M57.6 338.3H55.6V430.8H61.5M126 481.5H60.7V510.5H126M55.6 384.5H51.7V496H60.7M53.7 193.3H39.1V440.3H51.7M126 539.5H86.2V568.5H126M86.2 554H73.6V597.5H126M73.6 575.8H64.9V626.5H126M126 655.5H83.1V684.5H126M126 713.5H81.4V742.5H126M126 771.5H80V800.5H126M126 829.5H78.1V858.5H126M80 786H75.8V844H78.1M81.4 728H73.3V815H75.8M126 887.5H72.5V916.5H126M73.3 771.5H68.5V902H72.5M83.1 670H59.3V836.8H68.5M64.9 601.1H43.8V753.4H59.3M39.1 316.8H33.4V677.2H43.8" fill="none" stroke="#000" stroke-width="1.6"/>
<text x="671.3" y="110.6" font-size="17.3">AL590550.1</text>
<text x="671.3" y="139.6" font-size="17.3">MNS1</text>
<text x="671.3" y="168.6" font-size="17.3">FP236383.3</text>
<text x="671.3" y="197.6" font-size="17.3">ZNF292</text>
<text x="671.3" y="226.6" font-size="17.3">ANKRD11</text>
<text x="671.3" y="255.6" font-size="17.3">HILPDA</text>
<text x="671.3" y="284.6" font-size="17.3">ANKRD37</text>
<text x="671.3" y="313.6" font-size="17.3">ADM</text>
<text x="671.3" y="342.6" font-size="17.3">SYTL3</text>
<text x="671.3" y="371.6" font-size="17.3">MALAT1</text>
<text x="671.3" y="400.6" font-size="17.3">GAS5</text>
<text x="671.3" y="429.6" font-size="17.3">BTG1</text>
<text x="671.3" y="458.6" font-size="17.3">RGCC</text>
<text x="671.3" y="487.6" font-size="17.3">JAML</text>
<text x="671.3" y="516.6" font-size="17.3">LBH</text>
<text x="671.3" y="545.6" font-size="17.3">MT-CO1</text>
<text x="671.3" y="574.6" font-size="17.3">MT-CO2</text>
<text x="671.3" y="603.6" font-size="17.3">DHFR</text>
<text x="671.3" y="632.6" font-size="17.3">MT-ND1</text>
<text x="671.3" y="661.6" font-size="17.3">CFL1</text>
<text x="671.3" y="690.6" font-size="17.3">ACTB</text>
<text x="671.3" y="719.6" font-size="17.3">TUBA1B</text>
<text x="671.3" y="748.6" font-size="17.3">TUBB4B</text>
<text x="671.3" y="777.6" font-size="17.3">HMGB2</text>
<text x="671.3" y="806.6" font-size="17.3">MKI67</text>
<text x="671.3" y="835.6" font-size="17.3">TUBB</text>
<text x="671.3" y="864.6" font-size="17.3">RRM2</text>
<text x="671.3" y="893.6" font-size="17.3">H2AFZ</text>
<text x="671.3" y="922.6" font-size="17.3">STMN1</text>
<defs><linearGradient id="cb" x1="0" y1="0" x2="0" y2="1"><stop offset="0.00" stop-color="#67001f"/><stop offset="0.10" stop-color="#b2182b"/><stop offset="0.20" stop-color="#d6604d"/><stop offset="0.30" stop-color="#f4a582"/><stop offset="0.40" stop-color="#fddbc7"/><stop offset="0.50" stop-color="#f7f7f7"/><stop offset="0.60" stop-color="#d1e5f0"/><stop offset="0.70" stop-color="#92c5de"/><stop offset="0.80" stop-color="#4393c3"/><stop offset="0.90" stop-color="#2166ac"/><stop offset="1.00" stop-color="#053061"/></linearGradient></defs><rect x="779" y="65" width="18" height="263" fill="url(#cb)" /><text x="803.5" y="110.8" font-size="15.8">4</text><text x="803.5" y="156.9" font-size="15.8">2</text><text x="803.5" y="203.8" font-size="15.8">0</text><text x="803.5" y="250.3" font-size="15.8">-2</text><text x="803.5" y="296.8" font-size="15.8">-4</text>
<text x="829.9" y="77.9" font-size="17" font-weight="bold">cluster</text>
<rect x="829.5" y="84.2" width="25" height="25.1" fill="#52bc5e" />
<rect x="829.5" y="109.3" width="25" height="24.9" fill="#f18c86" />
<rect x="829.5" y="134.2" width="25" height="25.4" fill="#88b0d8" />
<text x="859.8" y="103.6" font-size="15.8">0</text>
<text x="859.8" y="128.3" font-size="15.8">1</text>
<text x="859.8" y="153.7" font-size="15.8">2</text>
<text x="919" y="37.6" font-size="43">b</text>
<path d="M1037.5 50.5L1037.5 248.4" stroke="#f0f0f0" stroke-width="1.0" />
<path d="M1104.7 50.5L1104.7 248.4" stroke="#f0f0f0" stroke-width="1.0" />
<path d="M1171.9 50.5L1171.9 248.4" stroke="#f0f0f0" stroke-width="1.0" />
<path d="M1239.1 50.5L1239.1 248.4" stroke="#f0f0f0" stroke-width="1.0" />
<path d="M1024.4 77.5L1253.1 77.5" stroke="#f0f0f0" stroke-width="1.0" />
<path d="M1024.4 129.6L1253.1 129.6" stroke="#f0f0f0" stroke-width="1.0" />
<path d="M1024.4 181.8L1253.1 181.8" stroke="#f0f0f0" stroke-width="1.0" />
<path d="M1024.4 233.9L1253.1 233.9" stroke="#f0f0f0" stroke-width="1.0" />
<path d="M1071.1 50.5L1071.1 248.4" stroke="#e6e6e6" stroke-width="2.0" />
<path d="M1138.3 50.5L1138.3 248.4" stroke="#e6e6e6" stroke-width="2.0" />
<path d="M1205.5 50.5L1205.5 248.4" stroke="#e6e6e6" stroke-width="2.0" />
<path d="M1024.4 51.4L1253.1 51.4" stroke="#e6e6e6" stroke-width="2.0" />
<path d="M1024.4 103.6L1253.1 103.6" stroke="#e6e6e6" stroke-width="2.0" />
<path d="M1024.4 155.7L1253.1 155.7" stroke="#e6e6e6" stroke-width="2.0" />
<path d="M1024.4 207.8L1253.1 207.8" stroke="#e6e6e6" stroke-width="2.0" />
<path d="M1183.8 140.1h0M1088.2 178.9h0M1058.2 112.7h0M1182 93.7h0M1102.5 172.5h0M1066.3 112.6h0M1190.4 158.5h0M1077.8 184.1h0M1154.5 168h0M1204.4 161.6h0M1066.6 111.5h0M1177.7 148.1h0M1193 128.9h0M1066.5 128.9h0M1092.7 199.9h0M1133.2 159.9h0M1092.7 161.9h0M1171.5 157.1h0M1205.3 136.6h0M1172.2 126.6h0M1073.6 122.8h0M1068.8 129.8h0M1053.9 121.1h0M1185.9 178.6h0M1172 194.6h0M1208 148.9h0M1069.1 134.3h0M1077.8 202.5h0M1136.8 175.1h0M1167.9 123.8h0M1182.4 142h0M1134.1 139h0M1062.5 127.6h0M1144.4 197.1h0M1184.4 89.8h0M1214 137.3h0M1208.8 129.2h0M1186.7 150h0M1177 131.3h0M1063.1 204.2h0M1234.3 136.5h0M1149.9 171.8h0M1225.4 107.3h0M1168.5 192.1h0M1052.1 113.2h0M1202 114.5h0M1092 176.8h0M1228.5 150.7h0M1043.5 116.9h0M1207.1 129.1h0M1204.6 135.2h0M1083.4 191h0M1096.7 158.7h0M1186.7 183.1h0M1201.4 207.2h0M1120.8 171.3h0M1142.3 189.4h0M1206.2 164.2h0M1192.1 130.3h0M1196.8 174.7h0M1214.2 150.3h0M1137.5 149h0M1073.7 123.2h0M1111.7 159h0M1085 192.4h0M1087.3 187h0M1074.4 211.8h0M1227.2 140.8h0M1177.7 139.6h0M1044.5 107.7h0M1092.1 164.7h0M1172.3 192.8h0M1060.2 208.2h0M1139.4 191.2h0M1087.2 179.5h0M1130.6 144.5h0M1200.1 145.1h0M1183.3 150.8h0M1046.6 180.9h0M1071.8 234.6h0M1043.6 117h0M1123.6 206.5h0M1202.6 172h0M1185.8 96.9h0M1106.6 152.2h0M1210.7 149.3h0M1175.9 186.1h0M1185.2 123.8h0M1094.6 131.2h0M1223 151.9h0M1226.5 107.7h0M1078.7 129.8h0M1093.6 167.3h0M1093.6 127.4h0M1191.6 134h0M1176.4 108.8h0M1184.2 94.7h0M1046.9 177.2h0M1156.1 167.3h0M1057 187.6h0M1089.8 161.9h0M1226.1 134.8h0M1090.2 156h0M1133.3 188.4h0M1200.6 143.2h0M1138 189.3h0M1087 177.3h0M1056.6 183.1h0M1068.3 228.9h0M1063.3 193.9h0M1049.5 117.5h0M1200.1 202.5h0M1179.7 173.3h0M1167.8 125.4h0M1143.1 175.9h0M1083.2 185.9h0M1190.6 128.1h0M1079.7 198.7h0M1133.9 195.7h0M1169.8 125.7h0M1220.4 152.8h0M1210.5 154.4h0M1136.4 176.5h0M1201.6 169h0M1183.1 161.8h0M1146 173.2h0M1178.2 138.5h0M1198.8 166.8h0M1197.7 135.2h0M1066.1 194h0M1068 207.4h0M1152.6 180.3h0M1156.5 184.4h0M1053.7 185.1h0M1047.2 121.6h0M1092.5 124.8h0M1172.3 154.1h0M1034.9 107.9h0M1191.8 147.7h0M1047.1 134.1h0M1184.4 177.7h0M1204.9 142.1h0M1181.3 121.6h0M1124.7 146.8h0M1047.7 117.6h0" stroke="#3a78b9" stroke-width="5.2" stroke-linecap="round"/>
<path d="M1033.3 126.2h0M1226.5 114.9h0M1066.4 213.1h0M1136.4 175.4h0M1056.3 182.6h0M1196.5 155.9h0M1091.1 175.4h0M1182.4 185.4h0M1181.1 166.3h0M1165.7 188.8h0M1186.2 88.1h0M1183.2 121.7h0M1057.2 106.3h0M1086.7 137.5h0M1187.6 170.2h0M1181.5 145.2h0M1138.7 145h0M1176.2 135.7h0M1201.4 156.6h0M1050.3 186.9h0M1172.2 131.4h0M1084 179.8h0M1151.8 170.6h0M1129.4 183.4h0M1225.7 151.9h0M1069.6 130.7h0M1045.9 115.4h0M1067.4 111.6h0M1201.2 144.8h0M1197.9 164.8h0M1153.2 166.9h0M1098.2 198.2h0M1182.2 146.9h0M1193 149.7h0M1224.1 118.3h0M1185.2 167.6h0M1146.9 172.6h0M1183.6 101.2h0M1183.2 129h0M1064.1 113h0M1124.9 204.4h0M1058.9 109.5h0M1184.2 124.1h0M1187.9 147.9h0M1177 137.7h0M1091.2 201.9h0M1164.2 161.4h0M1171.3 127.2h0M1200.6 136.5h0M1173.6 125.2h0M1068.4 123.4h0M1184.6 96.4h0M1223 130.1h0M1183.8 123.9h0M1061 114.9h0M1046.5 121.2h0M1161.2 194.3h0M1132.2 187.3h0M1154.9 164.9h0M1199.8 175.1h0M1072.4 204.7h0M1138.4 202.5h0M1154 165.8h0M1077.9 196.8h0M1178.7 145.9h0M1131.3 185.6h0M1193.2 148.8h0M1191.1 129.3h0M1154 183.4h0M1152.4 173.8h0M1224.1 107.7h0M1106.6 155.7h0M1102.2 135.6h0M1188.7 163h0M1217.8 155.5h0M1202.9 205.6h0M1207 150.9h0M1068.3 235.8h0M1082.7 193.2h0M1106.3 202.4h0M1197.7 177.6h0M1219.1 109.5h0M1101.9 152.9h0M1181.7 170.3h0M1066.7 208.8h0M1161.3 164.2h0M1125.3 151.6h0M1177.2 124.7h0M1062.3 205.2h0M1196.6 149.8h0M1155.3 167.9h0M1099 199.4h0M1100 124.4h0M1062.5 183.2h0M1195.9 161.8h0M1159.2 196h0M1135.7 200.9h0M1089.1 162h0M1109.1 174.4h0M1172.1 122.7h0M1060.3 194.2h0M1222.1 133.3h0M1043.9 109.3h0M1224.9 115.8h0M1195.1 157.4h0M1189.4 129.4h0M1166 196h0M1185.9 84.1h0M1119.3 106.3h0M1216.6 116.2h0M1114.2 159.7h0M1071.8 181.3h0M1049.4 180.7h0M1240.9 63.3h0M1189.6 157.3h0M1126.1 147.9h0M1192.4 176.3h0M1095.5 124.5h0M1051.3 132.4h0M1152.1 184.1h0M1060.4 109.7h0M1226.5 116.1h0M1067.3 190.5h0M1099.9 199.8h0M1187.9 143.1h0M1190.4 170.6h0M1072 127.8h0M1199.5 171.6h0M1137.6 148.2h0M1135.2 177.5h0M1053.3 128.6h0M1179.1 137.4h0M1172.5 124.6h0M1060.2 202.2h0M1142.3 200.9h0M1189.9 164.9h0M1127 147.8h0" stroke="#3d7cbe" stroke-width="5.2" stroke-linecap="round"/>
<path d="M1178.1 152.4h0M1069.7 128.7h0M1039.2 124.7h0M1198.1 141.1h0M1162.2 194.6h0M1208.1 150.8h0M1210.3 143.8h0M1081.2 127.5h0M1192.9 170.4h0M1154.7 185.7h0M1229.5 151.3h0M1215.2 125.6h0M1172.5 189.9h0M1068.8 225.4h0M1062.1 184.4h0M1123.4 193.8h0M1087 181.4h0M1217.2 134.7h0M1205.5 144.2h0M1239.9 69.4h0M1139.8 147.3h0M1175.3 154.2h0M1239 71.9h0M1163.2 190.3h0M1160.6 189.1h0M1146 182.1h0M1054.2 181.2h0M1087.9 178.8h0M1198.6 141.6h0M1187.7 152h0M1144.3 198h0M1095.1 157.7h0M1139.7 204.2h0M1172.8 123.7h0M1141 207.9h0M1132.7 202.6h0M1092 189.5h0M1088.2 162.2h0M1052.8 178.3h0M1061.1 126.3h0M1075.6 124.1h0M1074.2 127.6h0M1047.3 119.3h0M1066.4 190h0M1198 136.2h0M1138 183.6h0M1171.4 155.1h0M1081.2 188.5h0M1182.1 187.3h0M1154.9 168h0M1221.4 154.9h0M1069.8 233.9h0M1160.2 187.5h0M1183.2 93.5h0M1190.5 136.9h0M1091.4 182h0M1185.2 129.9h0M1048.3 181.6h0M1068 232.9h0M1197.9 120.7h0M1130.4 206.4h0M1070.1 236.3h0M1092.5 187.8h0M1172.5 128.8h0M1073.7 126.4h0M1202.5 112.6h0M1057.5 187h0M1215.3 133.8h0M1135.6 180.9h0M1053.8 204h0M1164.1 194.3h0M1043.7 130.4h0M1045.1 184.4h0M1083.5 131.5h0M1207.7 168.6h0M1205.1 136.3h0M1166.3 190.4h0M1186.2 167.9h0M1174.8 131.3h0M1147.9 187.9h0M1134.4 153.1h0M1163.5 190.8h0M1131.8 206.3h0M1134.3 195.3h0M1137.4 196.3h0M1204.4 135h0M1194.2 126.4h0M1186 133.7h0M1052.2 197h0M1118 206.7h0M1134 194.9h0M1202.5 124.1h0M1057.4 110.6h0M1183.9 100.6h0M1147.2 176.7h0M1148.7 151.8h0M1138.8 190.8h0M1073.5 121.9h0M1131.2 205.8h0M1100.3 135.8h0M1094.6 160.6h0M1061.5 114h0M1049.8 193.5h0M1049.5 191.6h0M1210.6 145.4h0M1154 191.9h0M1211.8 137.7h0M1223.4 108.7h0M1116.7 168.5h0M1082.2 188.6h0M1059 188.7h0M1224.6 150.5h0M1087.2 132.2h0M1165.7 194.6h0M1205.7 152h0M1185.1 173.6h0M1192.6 176.4h0M1151.4 169.2h0M1080.7 202.5h0M1136.4 202h0M1195.8 170.8h0M1078.2 128.7h0M1083.4 191.7h0M1203 145.5h0M1133.5 176.8h0M1195.5 133h0M1141 203.9h0M1136.4 200h0M1190.1 136.9h0M1129.5 203h0M1118.1 161.7h0M1209.1 137.4h0M1096.3 202.5h0M1166.1 117.4h0M1102 201.7h0M1198.3 137.1h0M1078.4 185.1h0M1148.7 149.6h0M1055.1 194.4h0M1065.1 117.6h0M1136.1 193.8h0M1223.7 144.6h0M1186.4 151.7h0" stroke="#356fae" stroke-width="5.2" stroke-linecap="round"/>
<path d="M1138.4 178.4h0M1193.6 155h0M1165.4 120.8h0M1193.3 135.9h0M1054.5 192.4h0M1195.2 167.4h0M1062.9 180.1h0M1182.3 183.2h0M1166 195.4h0M1189.4 167.5h0M1137.4 200.5h0M1091.7 157.6h0M1081.3 190.2h0M1199.2 146h0M1200.3 165.7h0M1193.9 165.4h0M1061.6 205h0M1176.4 150.9h0M1091.4 186.8h0M1185 95.6h0M1177.3 190.6h0M1165 194h0M1136.1 187h0M1210.2 139.3h0M1061.5 192.8h0M1131.6 204.6h0M1077.6 129.2h0M1182.2 169.5h0M1150.5 151.7h0M1130.2 137.4h0M1149.5 178h0M1218.4 135h0M1074 183.7h0M1178.1 175.9h0M1177.3 111.4h0M1179.9 175.9h0M1188 137.4h0M1137 201.7h0M1110.3 170h0M1176.2 128.5h0M1173.7 131.9h0M1035.1 119.6h0M1140.8 181.9h0M1075 124.5h0M1162.5 191.1h0M1056.2 191.9h0M1134.5 187.4h0M1217.6 143.5h0M1102.3 136h0M1206.5 134.8h0M1138.8 187h0M1084.1 204.1h0M1044.9 109h0M1048.8 106.1h0M1184.1 135.8h0M1213.5 156.6h0M1133.3 182.6h0M1168.9 126.2h0M1059.6 187.1h0M1204.1 160.7h0M1217.9 156.5h0M1084 197.4h0M1208 160h0M1078.9 186.5h0M1084.7 184.9h0M1047.8 177.2h0M1094.3 127.5h0M1068.5 207.1h0M1082.7 188.1h0M1137 183.5h0M1168.9 198.7h0M1174.5 127.8h0M1203.3 129.3h0M1178.9 173.9h0M1155.5 166.5h0M1089 183.8h0M1101.2 127h0M1228.1 111.3h0M1183.2 162.8h0M1163.9 117.8h0M1185 95.7h0M1036.2 106.1h0M1098.4 137h0M1139.4 178.1h0M1218.1 120.5h0M1182.7 168h0M1189.8 179.5h0M1134.1 149.3h0M1158 101.7h0M1068.2 235.8h0M1062.7 184.7h0M1104.2 156.8h0M1093.2 161.1h0M1185.4 127.2h0M1066.7 118.4h0M1055.4 190.9h0M1068.3 122.2h0M1095.8 165.7h0M1076.9 189.7h0M1135.4 145.1h0M1207.3 159.6h0M1044.1 109.5h0M1126.5 150.3h0M1048.5 116.7h0M1150.2 175.3h0M1162.4 193.5h0M1162.9 193.9h0M1190.1 136.4h0M1145.4 209.2h0M1180.8 127.4h0M1190.7 136.1h0M1210.8 127h0M1170.7 188.6h0M1197.3 169.3h0M1084.3 181.1h0M1049.2 130.8h0M1068.1 182.8h0M1100.1 169.8h0M1229.9 120.8h0M1060.2 213.2h0M1197 153.9h0M1111.5 171.9h0M1150.4 151h0M1069.3 180.5h0M1071.2 111.8h0M1197.1 174.2h0M1031.5 111.9h0M1184.9 149h0M1208.4 143.1h0M1039.5 108h0M1100.2 202.2h0M1110.8 156h0M1037.1 120.6h0M1140.7 203.7h0M1073 185.6h0M1058.7 184.3h0M1044.1 121.1h0M1194.2 175.7h0M1133.7 192.3h0M1071.3 229.5h0M1072.4 131.8h0M1055.6 131.6h0M1228.3 143.7h0M1123 150.2h0M1197 150.1h0M1136.7 198.2h0M1051.6 114.3h0M1176.2 134.9h0M1086.6 179.2h0" stroke="#3873b2" stroke-width="5.2" stroke-linecap="round"/>
<path d="M1209.4 141.9h0M1201.9 130h0M1220.2 122.7h0M1240 71.3h0M1233.5 131.4h0M1215.9 133.6h0M1217.5 148.2h0M1219.8 150.7h0M1241.4 68.4h0M1242 63.7h0M1221.8 116.8h0" stroke="#1f4a78" stroke-width="5.2" stroke-linecap="round"/>
<path d="M1224.3 114.9h0M1209.4 127.2h0M1216.6 134.3h0M1213.5 126.1h0M1226.4 121h0M1210 146.3h0M1211.7 131.2h0M1224 123.4h0M1215.9 118.4h0" stroke="#25578a" stroke-width="5.2" stroke-linecap="round"/>
<path d="M1212 126.4h0M1210.6 123.9h0M1225.3 105.6h0M1217.9 126.6h0M1223.7 117.1h0M1218.1 132.7h0M1222.3 150.5h0M1222.6 111h0M1218.4 117.9h0M1211.8 153.3h0M1219.8 141.2h0" stroke="#16365a" stroke-width="5.2" stroke-linecap="round"/>
<path d="M1157.1 99.9h0M1184.5 134.4h0M1189.7 152.5h0M1046.4 116.5h0M1092.2 173h0M1176.9 132.8h0M1165 191.9h0M1064.7 226.1h0M1190.2 161.5h0M1190.8 170.6h0M1190.1 175.8h0M1174.1 129.4h0M1135.2 155.4h0M1181.4 135.7h0M1045.6 121.3h0M1195.8 164.8h0M1058.8 134.5h0M1203.1 122.6h0M1131.4 206h0M1189.9 145.3h0M1091.9 164.9h0M1077.7 214.1h0M1065.9 229.5h0M1221.8 106.9h0M1148.6 178.5h0M1190.9 165h0M1136.3 176.7h0M1045.7 180.5h0M1084.2 183.6h0M1093.9 163.6h0M1182.9 123.9h0M1072.9 127.2h0M1049 185.6h0M1206.2 168.8h0M1198.1 176.1h0M1045.4 125.7h0M1079.8 129.6h0M1218 136.2h0M1150.3 186.4h0M1179.2 141.9h0M1077.4 201.1h0M1185.5 137.4h0M1106.1 172.3h0M1175.8 151.1h0M1198.8 134.9h0M1207.6 128.1h0M1198.2 136.9h0M1067.9 110.9h0M1187.4 148.5h0M1166 188.9h0M1190.4 135.1h0M1080.9 131h0M1120.6 147h0M1185.7 133.1h0M1178.8 129h0M1133.6 190.1h0M1140.6 181.9h0M1196.2 157.5h0M1063.7 223.3h0M1213.1 157.8h0M1098.8 124.5h0M1202.2 203.3h0M1203.6 120.4h0M1076.1 207.9h0M1126.7 206h0M1212.7 136.3h0M1154.7 183.7h0M1078.4 195.1h0M1074.6 182h0M1166.5 189.5h0M1066.4 206.9h0M1036.5 119.6h0M1073.8 114.8h0M1195.2 147.8h0M1110.9 157.4h0M1074 192.4h0M1202.9 115.3h0M1046.2 114h0M1143 195.4h0M1194.7 144.5h0M1189.6 145.4h0M1081 183.1h0M1224.3 144.3h0M1066 205.1h0M1067 111.6h0M1158.3 193h0M1049.6 116.5h0M1065 188.8h0M1092.7 164.9h0M1206.1 166.2h0M1146.5 145.7h0M1095.5 160.6h0M1152 149.6h0M1080.1 185.3h0M1122.2 205.3h0M1198.6 177.9h0M1077.2 184.9h0M1195.1 164.5h0M1116.4 167.2h0M1039.4 128.2h0M1064 112.2h0M1056.9 129.7h0M1134.3 165.6h0M1094.7 162.9h0M1209.5 131.2h0M1044.7 112.6h0M1203.9 176h0M1180.9 147.4h0M1195.4 129.1h0M1140.7 210.6h0M1092.9 165.5h0M1185.6 97.2h0M1167.5 124.9h0M1165.4 160.1h0M1050.3 130.6h0M1092.6 126h0M1133.1 195h0M1132.8 187.3h0M1140.7 143.9h0M1168.5 120.2h0M1180.2 163h0M1203.1 145.2h0M1042.6 110.5h0M1156.5 185h0M1066.6 223.5h0M1082.1 205h0M1098.1 169.9h0M1059.5 126.7h0M1092.2 183.7h0M1070.6 237.7h0M1075.6 196.7h0M1049 191.4h0M1038.9 106.2h0M1181.1 122.1h0M1121 103.4h0M1085.4 195.2h0M1044.7 185.2h0M1143.9 187.1h0M1084.4 177.7h0M1031.8 123.2h0M1164.3 120.8h0M1045.4 116.6h0M1152.9 168h0M1186.7 102.4h0M1092.3 156.2h0M1115.5 112.9h0M1143.1 144.8h0M1073.8 194.2h0" stroke="#3873b2" stroke-width="5.2" stroke-linecap="round"/>
<path d="M1208.3 129.5h0M1203.8 148.9h0M1210.4 167.4h0M1200.7 175.5h0M1204.4 116.5h0M1213.8 120.8h0M1204 161.2h0M1215.2 135.2h0M1226.1 107.3h0M1219.5 106h0" stroke="#16365a" stroke-width="5.2" stroke-linecap="round"/>
<path d="M1210.5 131.5h0M1187.7 127h0M1059.4 185.8h0M1061.5 132.9h0M1037.4 115.4h0M1056.6 196.8h0M1091.5 169.5h0M1068.3 132h0M1205.3 126.3h0M1149.6 147h0M1081.5 195.8h0M1091.4 167.2h0M1102.1 155.3h0M1139.8 203.2h0M1172.7 137.7h0M1182.7 185.6h0M1131.2 184.8h0M1199.2 121.5h0M1061.9 193.4h0M1133.6 147.7h0M1135.7 155.1h0M1057.4 204.5h0M1151.3 179.6h0M1055.5 196.2h0M1237.5 70.9h0M1144.8 201.8h0M1088 178.9h0M1074.5 185h0M1194.2 122.3h0M1050.6 195.1h0M1183.4 142.1h0M1162.6 160.4h0M1136.1 199.8h0M1137.6 201.6h0M1079.3 195.9h0M1152.2 172.5h0M1198 175.9h0M1050.2 132.8h0M1094.9 160.5h0M1068.3 221.6h0M1202.2 137.1h0M1123.4 191h0M1066.7 180.8h0M1216.7 133.9h0M1098.6 134.3h0M1096.1 165.1h0M1058.2 202.4h0M1216.1 130.7h0M1209.4 131.4h0M1142.4 177.1h0M1135 135.5h0M1176.2 108.4h0M1093.1 150.6h0M1205.5 137.7h0M1091.9 170.3h0M1167.5 193.7h0M1122.5 204.5h0M1093 125.9h0M1192.9 178.3h0M1203.4 114.8h0M1056.1 179.5h0M1083.1 200.5h0M1185.5 105.4h0M1050.7 177.2h0M1065.6 127.3h0M1195.7 171.3h0M1210.6 128.4h0M1201.9 163.3h0M1069.5 122.4h0M1209.5 137.5h0M1186.2 168.8h0M1097 149.1h0M1148.9 177.5h0M1125 150.8h0M1198.7 170.1h0M1188.3 178.2h0M1076.6 181.3h0M1189.5 135.3h0M1197.7 121.1h0M1186.5 145.6h0M1175.7 178.2h0M1072.8 125.1h0M1077.9 207.6h0M1185.4 187h0M1059.1 115.1h0M1151.6 171.8h0M1182.9 87.5h0M1191.2 122.1h0M1050 114.8h0M1158.9 191.4h0M1066.8 185.4h0M1128.4 148.7h0M1179.8 131.1h0M1064.6 211.6h0M1204.5 134.2h0M1092.4 187h0M1065.6 115.1h0M1072.3 183.1h0M1221.1 139.9h0M1188.8 122.6h0M1053.3 132.3h0M1215.4 155.4h0M1046.1 194.2h0M1040.6 112.9h0M1034.6 124.3h0M1194.3 169.1h0M1188.4 143.9h0M1125.9 147h0M1127.1 144.7h0M1075 212.9h0M1078.7 199.6h0M1192.9 133.5h0M1078.6 186.2h0M1092.4 190.3h0M1194.1 160.3h0M1199.2 176.5h0M1176.6 152.6h0M1063.8 118.6h0M1069.9 230.6h0M1053.2 207.5h0M1184.4 151.7h0M1133.4 154.5h0M1186.6 87.9h0M1098 126.6h0M1184.7 102.7h0M1222.8 146.3h0M1182 136.1h0M1136.4 160.7h0M1063.9 196.9h0M1150.4 170.8h0M1116 166.5h0" stroke="#3a78b9" stroke-width="5.2" stroke-linecap="round"/>
<path d="M1181.6 177.9h0M1191.9 162.1h0M1053.7 198.2h0M1120.7 205h0M1157.2 166.3h0M1178.6 113.6h0M1135.4 146.7h0M1054.2 181.7h0M1208.2 150.5h0M1126.8 191.2h0M1161.7 119.9h0M1161.6 195.8h0M1165.1 197.9h0M1176.1 130.6h0M1210 131.5h0M1053.2 111.6h0M1091.2 157.7h0M1209.6 141.5h0M1194.2 170.1h0M1065.2 211.5h0M1048.2 118.4h0M1096.4 149h0M1175.3 156.3h0M1056.2 207.6h0M1070.2 183.5h0M1141.3 143.7h0M1200.4 175.4h0M1081.6 189.1h0M1063.8 217.9h0M1155.5 168.9h0M1129.7 179.9h0M1117.8 148.3h0M1188.2 141.9h0M1046.3 126.8h0M1080.4 195.5h0M1131.9 179.4h0M1085.8 211.9h0M1183.5 89.7h0M1202.7 117.9h0M1085.2 130h0M1218.4 124.2h0M1200.1 147.5h0M1048.8 199.9h0M1144.1 174.8h0M1064.8 180.9h0M1079.4 127.7h0M1041 105.5h0M1177 107.2h0M1078.8 181h0M1132.5 139.3h0M1174.9 148.2h0M1204.6 136.5h0M1146.6 183.6h0M1050 200.1h0M1179.1 147.2h0M1064.9 109.2h0M1137.3 193.5h0M1052 196.5h0M1135.4 178.6h0M1041 126.3h0M1097.7 156.4h0M1048.1 184.9h0M1133.8 180.6h0M1064.5 210.7h0M1059.1 126.6h0M1108.8 152.8h0M1139.1 184.8h0M1224.6 115.3h0M1181.2 95.4h0M1061.5 132.9h0M1127.3 206h0M1137 156.1h0M1056 198.1h0M1184.9 130.6h0M1185.7 98.2h0M1193.2 175.7h0M1181.8 184.8h0M1117.3 169.6h0M1207.7 139h0M1060.6 127.2h0M1131.8 208.6h0M1096.3 151.7h0M1227.5 139.9h0M1093.5 126.8h0M1072.8 118.8h0M1068.8 213.9h0M1115.1 206.5h0M1081.9 181.2h0M1197.4 161.8h0M1088.1 176.2h0M1208.1 125.4h0M1170.8 124.9h0M1100.5 170.3h0M1161.7 189.7h0M1131.6 186.3h0M1035 123.7h0M1058.5 128.4h0M1124.3 205.5h0M1061.7 185h0M1079.3 182.9h0M1165 116.2h0M1134.8 204.1h0M1188.3 154.1h0M1189.1 144.1h0M1123.6 152.7h0M1186.4 144.3h0M1067.2 223.3h0M1124.8 190.4h0M1153.7 102.4h0M1143.9 199.9h0M1197.7 141.1h0M1132.5 207.9h0M1102.9 170.7h0M1191.6 143.4h0M1144.1 149.9h0M1053.6 128.4h0M1211 169.6h0M1196.5 178h0M1191.2 123.5h0M1057.1 187.4h0M1183.4 136.5h0M1101.2 133.1h0M1180.8 185.5h0M1111.1 158.7h0M1096.5 124.4h0M1101.3 202.1h0M1135.8 202.7h0M1099.2 200h0M1198.4 156.6h0M1054.7 195.3h0M1180.4 132.5h0M1121.3 107.3h0M1175.4 122.9h0M1086.8 133.4h0M1132 146.4h0M1177.5 151.5h0M1166.9 193.9h0M1200.4 157.6h0M1048.1 192.5h0M1187.7 123.2h0M1092.4 127.1h0M1181.8 185h0M1088 166.5h0M1167.1 193.9h0M1092.6 152.6h0M1206 157.8h0M1085.8 136.9h0M1170.2 128.7h0M1049.9 125.5h0M1174 154.4h0M1177.7 187.4h0M1183.7 133.2h0M1150.9 171.5h0" stroke="#356fae" stroke-width="5.2" stroke-linecap="round"/>
<path d="M1040 110.1h0M1054.6 127.7h0M1197.5 135.8h0M1074.3 184.2h0M1066.9 131.5h0M1154.9 100.1h0M1226.9 122.5h0M1191.8 142.9h0M1194.3 135.8h0M1110.3 170.1h0M1206.3 157.7h0M1163.8 196.3h0M1130.4 207.3h0M1086.7 189.3h0M1223.6 121.4h0M1187.1 130.7h0M1168.1 191.5h0M1052.4 129.5h0M1139.9 189.1h0M1140.4 206.2h0M1190.1 152.8h0M1139.5 178h0M1089.2 163.2h0M1177.4 123.7h0M1080.4 201.8h0M1204.5 128.9h0M1187.4 155.9h0M1179.3 133.5h0M1135.9 182.8h0M1198.7 144h0M1144.4 206h0M1107.2 169.8h0M1137.9 190h0M1191.3 143.8h0M1197.9 150.5h0M1098.6 136h0M1170.3 189.9h0M1130.3 205.9h0M1173.8 152.9h0M1061.8 108.2h0M1202.5 159.6h0M1121.2 206.2h0M1137.8 199.4h0M1131.5 179.5h0M1139.9 178.9h0M1047.5 194.8h0M1042.5 106.3h0M1065.8 129.8h0M1048.5 118.7h0M1040.9 130.2h0M1197 149h0M1074.3 113.7h0M1137.1 149.7h0M1068 126.8h0M1051.8 188.4h0M1094 162.4h0M1179.6 161.9h0M1098.4 199.7h0M1215.3 126.6h0M1176.4 129.8h0M1099.1 170.3h0M1060.7 211.7h0M1230.1 136.5h0M1091.8 156.5h0M1081.3 200.9h0M1106 173.7h0M1169.4 195.7h0M1065.2 207.1h0M1066.6 186.3h0M1032.6 115.3h0M1094.4 203.5h0M1071.6 230.4h0M1186 181.6h0M1136.1 184.1h0M1158 166.3h0M1162.8 119.4h0M1044.8 114.4h0M1097.9 167.6h0M1084.6 182.6h0M1053.4 207.2h0M1077.4 189.2h0M1177.2 125.9h0M1052 114.2h0M1061.2 127.3h0M1224.8 139.4h0M1189.4 143.4h0M1069.1 179.3h0M1070.4 189.6h0M1154.4 170.3h0M1187.2 129.6h0M1069.5 111.9h0M1228.1 147.9h0M1183.8 131.8h0M1098.3 168.9h0M1045.5 107.7h0M1215.5 124.6h0M1034 116h0M1148 176.6h0M1097.1 151.2h0M1199.7 152.1h0M1192.5 159.3h0M1136 204.8h0M1044.8 105.2h0M1201.5 120.6h0M1181.4 175.7h0M1220.1 157.3h0M1116.5 165h0M1159 167.3h0M1194.2 154.7h0M1075.5 208.1h0M1181.2 144.2h0M1159.5 187.4h0M1061.7 188.1h0M1041.4 111.1h0M1065.3 109.8h0M1146.8 176.8h0M1126.6 149.5h0M1198.3 155.4h0M1059.3 112.5h0M1153.5 168.6h0M1224.7 143.5h0M1066.6 214h0M1066.6 217.9h0M1192 173.7h0M1133.6 183.5h0M1218 131.3h0M1111.4 157.7h0M1161.4 117.3h0M1177.9 163.2h0M1186.1 157.4h0M1193.3 121.2h0M1110.5 155.7h0M1189.8 161h0M1195.4 138.9h0M1209.1 123.3h0M1209.8 167.6h0M1188.9 134.7h0M1056.3 179.2h0M1042.7 125.4h0M1223.5 110.6h0M1130.2 179.6h0M1095.3 202.3h0M1120.6 148.9h0M1066.3 221h0M1059.9 203.8h0M1158.1 195.7h0" stroke="#3d7cbe" stroke-width="5.2" stroke-linecap="round"/>
<path d="M1210.7 139.4h0M1224.6 132.2h0M1207 140.8h0M1201.6 122.8h0M1216.2 128.3h0M1209.7 137.3h0M1220 111.8h0M1229.4 140.2h0" stroke="#1f4a78" stroke-width="5.2" stroke-linecap="round"/>
<path d="M1222.9 107.4h0M1225.5 122.3h0M1209.1 124.7h0M1205.6 151.8h0M1221.1 109.9h0M1232.9 138.7h0M1204.2 160.1h0M1200.4 158.4h0M1209.5 155.6h0" stroke="#25578a" stroke-width="5.2" stroke-linecap="round"/>
<path d="M1201.5 136.4h0M1058.4 130.7h0M1102.4 129.1h0M1202.4 155.8h0M1061.9 206.8h0M1223.2 107.5h0M1122.5 148.9h0M1222.4 123.5h0M1077.8 187.4h0M1208 160.7h0M1200.2 157.1h0M1205.3 141.4h0M1068 133.9h0M1037.9 115.8h0M1056.7 131.8h0M1116.9 111.5h0M1073 180h0M1136.5 194h0M1178.9 173.9h0M1180.8 180.7h0M1172 136h0M1096.2 149.3h0M1091.5 150.3h0M1185.6 161.4h0M1054 126h0M1064.7 113.7h0M1069.5 119.7h0M1092.9 159.1h0M1182 89.6h0M1182.7 168.9h0M1057.1 112.5h0M1122.7 191.7h0M1066.9 228.4h0M1179 112.5h0M1117 111.7h0M1161 189.9h0M1093.6 152.5h0M1151.4 187.6h0M1227.7 131.3h0M1055.6 199.4h0M1191.3 161.7h0M1136.4 177.4h0M1128 206h0M1207.3 142.8h0M1152.7 184.6h0M1183.3 180.6h0M1193.9 121.8h0M1124.9 151.1h0M1093.1 128.4h0M1131.5 188.7h0M1176.1 111h0M1155.5 170.3h0M1108.6 153.2h0M1204.5 144.7h0M1203.6 146h0M1130.6 207.4h0M1075.1 125.1h0M1064.9 132.3h0M1072.2 189.3h0M1214.8 147.2h0M1202.8 137.3h0M1177.6 142.5h0M1200.2 162.6h0M1116 167.6h0M1092 123.6h0M1072.9 189.9h0M1068.6 209.3h0M1063.2 206.8h0M1057.7 108.5h0M1064.4 194.3h0M1045 114.7h0M1165.9 121.1h0M1056.8 127.7h0M1140.5 188.4h0M1038.7 113.9h0M1060.7 210.2h0M1070.4 128h0M1103.2 155.7h0M1070.2 185h0M1229.2 138.9h0M1095.7 126.1h0M1062.4 111.3h0M1196.4 136.9h0M1097.7 125.5h0M1146 147.6h0M1153 180.5h0M1053.3 187h0M1052.4 134.5h0M1047.6 181h0M1134.1 192.1h0M1183.6 138.2h0M1224.3 108.5h0M1113.4 166.8h0M1064 194.1h0M1076.8 205.5h0M1193.7 177.8h0M1097.2 153.6h0M1039.4 109h0M1130.3 203.2h0M1043.9 120.6h0M1098.4 152.8h0M1095.2 147.8h0M1219.9 147.6h0M1168.7 124.2h0M1065.5 116.2h0M1203.9 205.5h0M1062.8 210.6h0M1176.1 153.8h0M1138 150.2h0M1207.3 168.1h0M1197.8 147.5h0M1187.6 141.2h0M1135.7 135.8h0M1125.8 148.8h0M1225.7 109.5h0M1168 118.7h0M1131.5 137.2h0M1200.7 149.3h0M1113 166.6h0M1053.7 181.8h0M1078.8 182.6h0M1083.6 184.7h0M1204.1 139.1h0M1092.7 169.8h0M1205.8 128.3h0M1137.6 188h0M1053.3 192h0M1064.4 212.8h0M1112.4 173.4h0M1063.9 113h0M1197.8 161.7h0M1135.7 134.8h0M1094.4 127.3h0M1161.9 159.1h0M1227.5 119.2h0M1095 158.4h0M1078.1 192h0M1124.9 202.3h0M1177 141h0M1071.8 191.3h0M1037.7 118h0M1104.8 152.1h0M1225.6 118.6h0M1066.9 227.1h0" stroke="#356fae" stroke-width="5.2" stroke-linecap="round"/>
<path d="M1082.5 126.5h0M1219.8 129.1h0M1209.6 163.3h0M1143.2 191.3h0M1187.7 133.8h0M1070.8 236.7h0M1208.9 119.8h0M1062.5 184.5h0M1180.1 142.1h0M1126.3 203.6h0M1049.4 134h0M1174.4 129h0M1188.4 128.3h0M1188.7 147.7h0M1053 132.6h0M1135.5 157.3h0M1099.7 181h0M1043.7 126.1h0M1089.1 168.8h0M1191.7 131.7h0M1131.9 179.6h0M1174 115.6h0M1059.4 191.9h0M1117.1 151.4h0M1187.6 150.6h0M1122 205.4h0M1125.3 187.7h0M1073.8 117.8h0M1065.3 110.8h0M1209.4 137.6h0M1203.7 131.3h0M1186.6 181.9h0M1192.3 131h0M1068.4 118.1h0M1079.5 191.7h0M1070.1 229.4h0M1041.2 115.1h0M1061 115.2h0M1190.6 168.5h0M1113 205.8h0M1224.6 143.5h0M1212.4 150.3h0M1182 178.1h0M1189.5 148.2h0M1215.4 135.8h0M1133.8 174.4h0M1162.9 191.2h0M1043.5 114.4h0M1112.7 160.6h0M1207.2 122.6h0M1066.6 209.9h0M1051.9 178.4h0M1176.1 153.3h0M1094 125.4h0M1169.5 190.2h0M1049.8 112.6h0M1127 191.3h0M1188.5 140.4h0M1135.4 150.5h0M1201.3 143h0M1073.2 123.4h0M1106.1 198.2h0M1093.7 123.3h0M1186.8 125.6h0M1098.9 199.3h0M1088 171.5h0M1091.8 187h0M1083.8 182.4h0M1139.4 188.4h0M1052.9 181h0M1098.2 130.5h0M1183.6 162.3h0M1170.4 194.1h0M1226.9 140.1h0M1141.2 183.9h0M1078 127.6h0M1179.5 111.5h0M1070 207.9h0M1204.8 120.3h0M1192.8 139.6h0M1057.8 131.1h0M1066 134.7h0M1185.7 175.1h0M1132.1 204.4h0M1051.8 198.9h0M1143.9 193.8h0M1079.6 199h0M1172.7 124.2h0M1214.8 158h0M1084.5 187.5h0M1165.7 191.7h0M1218.8 129.8h0M1061.7 129h0M1062.3 114h0M1054.3 134.3h0M1143.4 205.8h0M1096.2 151.7h0M1070.1 122.5h0M1122.7 105.1h0M1217.1 121.4h0M1195.8 158.7h0M1223 134.2h0M1177.8 113.6h0M1093.3 188.8h0M1208.5 134.6h0M1065.1 227.2h0M1063.3 131.1h0M1040.8 126.7h0M1088.9 174.8h0M1208.3 135.3h0M1200.9 137.2h0M1193.7 148.3h0M1200.4 140.2h0M1129.9 201.6h0M1220.9 142.6h0M1179.2 138.4h0M1098.9 126.6h0M1206.2 163h0M1185.6 94.2h0M1097.5 130.3h0M1192.6 176.8h0M1140 143.6h0M1157.7 100.8h0M1185.1 104.6h0M1163 189.5h0M1137.2 179.5h0M1222.7 124.1h0" stroke="#3873b2" stroke-width="5.2" stroke-linecap="round"/>
<path d="M1181.8 151.4h0M1157.9 188.2h0M1143.4 196.3h0M1114.7 163.3h0M1214 126.8h0M1183.3 155.1h0M1152.7 101.2h0M1182.6 91.5h0M1201.9 133.6h0M1089.5 170.6h0M1167.6 193.2h0M1228.2 152.5h0M1097.5 129.3h0M1205.6 157.6h0M1054.5 189.3h0M1155.6 152.4h0M1063.2 216.8h0M1166 192.5h0M1098.6 201.2h0M1189 134h0M1081.3 196.5h0M1059 213.1h0M1064 114.5h0M1131.5 182.4h0M1054.5 192.8h0M1041.3 127.3h0M1158.6 166.4h0M1174 127.5h0M1135.6 166.7h0M1207 142.7h0M1197.6 161.2h0M1091 200.4h0M1033.2 109h0M1226.1 114.1h0M1055.3 202.2h0M1050.9 202.1h0M1139 192.7h0M1148.4 145h0M1225.1 120.2h0M1221.2 106h0M1054.7 205.2h0M1229.4 143.4h0M1147.8 182.5h0M1147 145.1h0M1201 120.4h0M1191.2 155.4h0M1190.5 170.1h0M1159.5 189.7h0M1183.5 130h0M1176 125.4h0M1068 123.3h0M1072.7 123.6h0M1181 189.2h0M1146 176h0M1060.7 111h0M1043.7 116.6h0M1065.4 134.7h0M1049.2 128.2h0M1149.6 186.3h0M1088.5 169.7h0M1037.4 120.2h0M1187.8 140.8h0M1077.5 178.8h0M1057.8 203.2h0M1126.9 188.1h0M1059.2 207.7h0M1187 173.1h0M1180.9 137.5h0M1136 163.8h0M1179.4 123h0M1126.4 202.5h0M1197.5 122.7h0M1078.6 130.1h0M1188.6 173.4h0M1094.2 150.7h0M1058.5 195.3h0M1104.5 171.2h0M1182.4 163.9h0M1051.5 127h0M1153.2 100.1h0M1099.9 200.4h0M1117.7 149.8h0M1185.5 153.6h0M1117.2 153.7h0M1057.1 111.8h0M1165.2 191.5h0M1077.4 202.3h0M1112.8 168.5h0M1078.6 128.4h0M1208.4 120.5h0M1085.1 130.8h0M1193.9 140.4h0M1164.1 191.6h0M1218.4 135.6h0M1110.7 173h0M1048.5 128.7h0M1207.9 139.5h0M1054.1 190.9h0M1100.3 127.2h0M1185.4 153.6h0M1151.7 148.9h0M1212.4 140.7h0M1070.8 205.4h0M1174.5 155.3h0M1194.1 129.5h0M1199.1 142.4h0M1208.6 156.4h0M1209.5 127.8h0M1068 122.8h0M1197 163.9h0M1056.2 197.2h0M1094.3 123.1h0M1103 151.4h0M1088.9 183.1h0M1078.6 190.8h0M1182.5 100.3h0M1224.1 139.2h0M1200 166.2h0M1188.2 132.1h0M1203.9 141.7h0M1203.8 207.7h0M1047 108.3h0M1212.1 124.8h0M1103.3 203.5h0M1188.1 185.7h0M1180.6 131.8h0M1056.3 191.9h0M1061.3 109.8h0M1065.2 190.3h0M1207.5 119.9h0M1196.5 134.3h0M1069.6 185.4h0M1188.7 148.1h0M1155.8 170.6h0M1176.4 176.2h0M1188.8 148.4h0M1082 197.5h0M1200.3 138.7h0M1143.4 143.9h0M1208.9 162.6h0M1083.5 197.6h0M1065.8 118.4h0M1190.5 128.8h0M1063.8 134.1h0M1119.2 203.7h0M1058.7 114.8h0M1131.2 204.3h0M1099.7 164.9h0M1079.8 179.4h0M1205.4 131.4h0" stroke="#3d7cbe" stroke-width="5.2" stroke-linecap="round"/>
<path d="M1068.6 189.5h0M1065 181.1h0M1161.5 196.9h0M1076.5 196.5h0M1065.4 223.4h0M1103.5 171.1h0M1182.9 181.7h0M1089.8 192h0M1211.3 148.1h0M1090.2 165.3h0M1062 190.7h0M1051.2 199.2h0M1097.6 133.9h0M1068.7 225.7h0M1058 192h0M1068 110.6h0M1132.3 180.9h0M1151.5 150.2h0M1224.1 123.6h0M1071.8 204.8h0M1179.2 135h0M1143.6 150.4h0M1156.2 187.9h0M1187.1 141.9h0M1102.6 168.1h0M1130.2 202.6h0M1154.7 166.9h0M1194.5 177.1h0M1079 199.1h0M1065.9 207.7h0M1062.1 117.9h0M1051.5 134.3h0M1192.4 150.6h0M1095.1 202.9h0M1198.1 129.7h0M1207.3 128.8h0M1087.4 183h0M1067.4 208.1h0M1169.2 124.2h0M1172.7 130.4h0M1062 133.3h0M1192.5 159.9h0M1195.1 156h0M1111.2 170.8h0M1203.7 137.6h0M1201.4 150.4h0M1055.9 202.9h0M1093.3 211.7h0M1165.4 192.2h0M1217.2 116.1h0M1069.4 184.9h0M1212 124.2h0M1039.5 124.7h0M1065.9 207.1h0M1093.2 123.1h0M1169.6 196h0M1204.6 114.8h0M1089.7 165.2h0M1085.7 185h0M1130 139.7h0M1086.6 188.6h0M1066.4 185.7h0M1163.7 189.7h0M1203.8 174.9h0M1040.3 121.4h0M1161.6 140.3h0M1222.7 107.2h0M1130.7 204.7h0M1115.8 166.3h0M1190.2 165.8h0M1067.1 123.8h0M1161.8 163.5h0M1136.5 196.2h0M1177.1 143.1h0M1181.5 139.4h0M1196.7 132.7h0M1036.1 111.9h0M1060.4 208.4h0M1078.8 180.3h0M1203.8 128.5h0M1083.8 129.4h0M1071.7 192.7h0M1066.4 205.5h0M1164.1 194.7h0M1176.7 108.2h0M1142.3 149.2h0M1061.3 206.3h0M1150.7 144.9h0M1196.3 153.7h0M1062.9 204.9h0M1198.4 168.9h0M1062 185.6h0M1144.7 149.6h0M1191.4 164.2h0M1044.3 118.5h0M1197.3 135.2h0M1140.1 185.9h0M1157.2 192.9h0M1061.1 180.4h0M1102.4 200.2h0M1205.2 161.4h0M1170.3 128.1h0M1039.6 131h0M1192.3 165.9h0M1194.5 155.1h0M1188.7 138h0M1150.8 184h0M1056.1 111.2h0M1040.5 131.8h0M1189.6 148.8h0M1135.7 143.6h0M1100.7 165.1h0M1133.7 137.5h0M1119.5 107.2h0M1132.3 148.8h0M1203.4 150.1h0M1070 230.6h0M1184 123.6h0M1204 206.1h0M1192.3 165.6h0M1069.2 113.3h0M1128.4 187.4h0M1154.2 98.4h0M1171.4 122.4h0M1145.7 149.1h0M1088.6 161.1h0M1201.2 132.3h0M1188.7 159.7h0M1180.4 138.6h0M1158.4 191.8h0M1183.7 167.5h0M1093.9 131.4h0M1111.1 174.2h0M1136.2 166.2h0M1135.3 166.7h0M1099.5 133.8h0M1118.5 148.2h0M1121 147.7h0M1117.3 208.2h0M1197.3 132.3h0M1076.7 186.3h0M1078 185.2h0M1133.7 145.2h0M1070.3 211.4h0M1187.2 160.1h0M1183.8 138.1h0M1124.7 190.5h0M1116.1 206.1h0M1216.9 155.2h0M1218.4 136.1h0M1201.9 154.5h0M1186.8 136.9h0" stroke="#3a78b9" stroke-width="5.2" stroke-linecap="round"/>
<path d="M1206.7 152.2h0M1200.8 148.8h0M1200.7 147.2h0M1213.8 133.8h0M1208.2 132.5h0M1204.8 118.3h0M1216.2 143.5h0M1212.1 143.1h0M1201.6 128.7h0M1211.4 153.7h0M1215.1 136h0M1242.6 62h0M1217.4 134.7h0M1242.1 60.2h0" stroke="#1f4a78" stroke-width="5.2" stroke-linecap="round"/>
<path d="M1219.1 153h0M1222.5 122.7h0M1201.9 151.6h0M1212.1 154.5h0M1209.5 139.1h0M1203.4 132.1h0M1229.6 119.4h0M1224.2 133.1h0M1213.4 123.7h0M1218.5 140.3h0" stroke="#25578a" stroke-width="5.2" stroke-linecap="round"/>
<path d="M1242.1 62.7h0M1219.2 118.5h0M1224.4 112.2h0M1223 145.3h0M1215.1 157.5h0M1215.4 150.9h0M1226.3 149.3h0M1225.5 143.3h0" stroke="#16365a" stroke-width="5.2" stroke-linecap="round"/>
<rect x="1024.4" y="50.5" width="228.7" height="197.9" fill="none" stroke="#333333" stroke-width="1.4" />
<path d="M1071.1 248.4L1071.1 255.7" stroke="#333" stroke-width="2.4" />
<text x="1071.1" y="278.5" font-size="21.5" text-anchor="middle" fill="#4d4d4d">-4</text>
<path d="M1138.3 248.4L1138.3 255.7" stroke="#333" stroke-width="2.4" />
<text x="1138.3" y="278.5" font-size="21.5" text-anchor="middle" fill="#4d4d4d">0</text>
<path d="M1205.5 248.4L1205.5 255.7" stroke="#333" stroke-width="2.4" />
<text x="1205.5" y="278.5" font-size="21.5" text-anchor="middle" fill="#4d4d4d">4</text>
<path d="M1017.1 51.4L1024.4 51.4" stroke="#333" stroke-width="2.4" />
<text x="1010.1" y="59.7" font-size="21.5" text-anchor="end" fill="#4d4d4d">5.0</text>
<path d="M1017.1 103.6L1024.4 103.6" stroke="#333" stroke-width="2.4" />
<text x="1010.1" y="111.9" font-size="21.5" text-anchor="end" fill="#4d4d4d">2.5</text>
<path d="M1017.1 155.7L1024.4 155.7" stroke="#333" stroke-width="2.4" />
<text x="1010.1" y="164" font-size="21.5" text-anchor="end" fill="#4d4d4d">0.0</text>
<path d="M1017.1 207.8L1024.4 207.8" stroke="#333" stroke-width="2.4" />
<text x="1010.1" y="216.1" font-size="21.5" text-anchor="end" fill="#4d4d4d">-2.5</text>
<text x="1129.7" y="305.2" font-size="21.3" text-anchor="middle">RNA UMAP 1</text>
<text x="944" y="129.5" font-size="21.3" text-anchor="middle" transform="rotate(-90 944 129.5)">RNA UMAP 2</text>
<text x="1294" y="111.8" font-size="22" font-style="italic">ACTB</text>
<defs><linearGradient id="gb" x1="0" y1="0" x2="0" y2="1"><stop offset="0" stop-color="#56a0dc"/><stop offset="0.5" stop-color="#336a9f"/><stop offset="1" stop-color="#132b43"/></linearGradient></defs>
<rect x="1295.8" y="129.5" width="16" height="80.4" fill="url(#gb)" />
<path d="M1295.8 142.3h3.2M1308.6 142.3h3.2M1295.8 156.4h3.2M1308.6 156.4h3.2M1295.8 170.1h3.2M1308.6 170.1h3.2M1295.8 183.7h3.2M1308.6 183.7h3.2M1295.8 197.3h3.2M1308.6 197.3h3.2" stroke="#fff" stroke-width="1" stroke-opacity="0.8"/>
<text x="1326.5" y="149.3" font-size="21">1</text>
<text x="1326.5" y="164.8" font-size="21">0</text>
<text x="1326.5" y="176.4" font-size="21">-1</text>
<text x="1326.5" y="190.5" font-size="21">-2</text>
<text x="1326.5" y="205" font-size="21">-3</text>
<text x="1357" y="37.6" font-size="43">c</text>
<path d="M1476.6 46.9L1476.6 253.1" stroke="#f0f0f0" stroke-width="1.0" />
<path d="M1546.4 46.9L1546.4 253.1" stroke="#f0f0f0" stroke-width="1.0" />
<path d="M1616.2 46.9L1616.2 253.1" stroke="#f0f0f0" stroke-width="1.0" />
<path d="M1686 46.9L1686 253.1" stroke="#f0f0f0" stroke-width="1.0" />
<path d="M1463.3 74.2L1701.3 74.2" stroke="#f0f0f0" stroke-width="1.0" />
<path d="M1463.3 128.5L1701.3 128.5" stroke="#f0f0f0" stroke-width="1.0" />
<path d="M1463.3 182.7L1701.3 182.7" stroke="#f0f0f0" stroke-width="1.0" />
<path d="M1463.3 237L1701.3 237" stroke="#f0f0f0" stroke-width="1.0" />
<path d="M1511.5 46.9L1511.5 253.1" stroke="#e6e6e6" stroke-width="2.0" />
<path d="M1581.3 46.9L1581.3 253.1" stroke="#e6e6e6" stroke-width="2.0" />
<path d="M1651.1 46.9L1651.1 253.1" stroke="#e6e6e6" stroke-width="2.0" />
<path d="M1463.3 47.1L1701.3 47.1" stroke="#e6e6e6" stroke-width="2.0" />
<path d="M1463.3 101.3L1701.3 101.3" stroke="#e6e6e6" stroke-width="2.0" />
<path d="M1463.3 155.6L1701.3 155.6" stroke="#e6e6e6" stroke-width="2.0" />
<path d="M1463.3 209.8L1701.3 209.8" stroke="#e6e6e6" stroke-width="2.0" />
<path d="M1628.6 139.4h0M1622.7 152.2h0M1626.7 91h0M1502.9 181h0M1532.3 176.1h0M1627 184.2h0M1634.4 167.9h0M1628 120.3h0M1663.3 133.7h0M1632.5 170.7h0M1644.6 145.5h0M1621.9 191.9h0M1533.9 201.6h0M1672.1 151.7h0M1685.9 68.4h0M1529 179.6h0M1592.9 178.8h0M1621.5 136.9h0M1646 135.6h0M1583.9 182.9h0M1515.6 123.1h0M1606.4 192.5h0M1671.7 105.2h0M1496.1 193.2h0M1647.4 112.7h0M1663.6 142.9h0M1581 184.7h0M1615.7 154.9h0M1628.6 122.5h0M1501 113.2h0M1662.7 133.3h0M1659.4 124.8h0M1649.6 160.8h0M1533.7 189h0M1672.8 119.5h0M1653.7 160h0M1646.8 209.2h0M1596 174.4h0M1487.3 178h0M1661.3 132.8h0M1651.8 164.5h0M1508.8 209.1h0M1637.1 129.2h0M1633.6 163.2h0M1548.1 204.2h0M1528.3 188.1h0M1673.7 140.1h0M1619.2 130.2h0M1500.2 210.2h0M1649.9 134.1h0M1627.9 163h0M1573.3 144h0M1666 150.4h0M1582.5 178.9h0M1576.9 148.9h0M1641.1 161.9h0M1534.5 161.2h0M1486.4 177.9h0M1537.2 166h0M1496.8 188.8h0M1483.3 107.3h0M1531.4 155.9h0M1653 159.6h0M1646 142.6h0M1634.3 128.3h0M1657.7 136.8h0M1593.7 176h0M1635.1 135.5h0M1688.3 64.7h0M1655.8 145.8h0M1500.4 107.7h0M1651.3 151.7h0M1672.9 114.4h0M1629.9 174.3h0M1576.8 197.2h0M1518.9 127.5h0M1666.5 152.6h0M1656.3 154.3h0M1579.3 177.3h0M1647 169.5h0M1629.7 148.6h0M1632.8 142.5h0M1644.2 167.1h0M1537.7 204.3h0M1600.2 185.4h0M1543.6 203.5h0M1664.5 116.2h0M1576.6 193.7h0M1616.6 154h0M1650.4 141.4h0M1634.9 165.2h0" stroke="#10263c" stroke-width="5.2" stroke-linecap="round"/>
<path d="M1529.3 179.8h0M1653.9 150.5h0M1638.4 135h0M1627.1 186.6h0M1522 191.5h0M1626.1 144.7h0M1670.7 113.2h0M1581.7 144.5h0M1620.7 134.7h0M1598.1 168.4h0M1622.2 147.7h0M1686.8 65.8h0M1616.6 130.3h0M1595.3 171.1h0M1629.8 93h0M1579 188.2h0M1616.5 125.3h0M1596.8 167.3h0M1589.3 183.1h0M1509.1 128.6h0M1643.9 141h0M1539.6 199.9h0M1670.4 116.6h0M1587.6 199.7h0M1630.8 179.5h0M1627.9 127.8h0M1572.9 136.6h0M1616.3 196.1h0M1584.1 209.9h0M1576.9 138.2h0M1666.4 121.3h0M1587.6 198.7h0M1575.4 204.4h0M1686.9 67.8h0M1631.5 149.7h0M1621.5 130.2h0M1681 135.6h0M1618.1 130.8h0M1652.2 133.8h0M1533.2 177.5h0M1627.9 90.8h0M1635.5 136h0M1598.5 165.1h0M1628.9 134.9h0M1482.9 115.2h0M1597.6 166.1h0M1510.5 239.5h0M1538.1 158.7h0M1524.9 199h0M1631.5 184.1h0M1623.3 145.4h0M1574 186.7h0M1585.4 190.7h0M1642 175.3h0M1608.1 195.8h0M1618.9 126.6h0M1553.7 159h0M1665.2 107.5h0M1610.4 191.8h0M1533.3 165h0M1574.6 208.2h0M1530 184.8h0M1674.6 109.4h0M1630.9 132.7h0M1657.8 125.1h0M1567.8 151.3h0M1629.8 93.1h0M1671.7 103.4h0M1482.9 115.3h0M1648 122.7h0M1566 208.5h0M1648.1 172.5h0M1628.7 98.3h0M1663.9 125.3h0M1514 120.4h0M1540.5 201.1h0M1620.3 187.3h0M1672.9 105.7h0M1502.8 185.8h0M1616.4 121.2h0M1599.8 167.7h0M1578.3 144.5h0M1671.2 114.1h0M1610 197.5h0M1669.7 106.7h0M1662.6 114.4h0M1606.3 194.9h0M1523 189.9h0M1670.9 150.2h0M1635.7 135.2h0M1609.8 196.1h0M1642.6 169.7h0M1657.5 130.1h0M1488.8 129.7h0M1637.7 177.1h0M1579.3 203.8h0M1641.1 171.4h0M1507.6 191.8h0M1614 124.3h0M1648.5 145h0M1589.3 173.8h0M1654.1 142.5h0M1541.7 203.9h0M1635.1 136.1h0M1644.9 172.1h0M1610.2 115.8h0M1674.8 143.2h0M1642.3 149.8h0M1616.8 123.2h0M1636.9 147.3h0" stroke="#132b43" stroke-width="5.2" stroke-linecap="round"/>
<path d="M1498.1 110.9h0M1522 126.2h0M1640.4 167.8h0M1506.6 110.7h0M1496.1 183.6h0M1638.1 149.4h0M1502.6 126.4h0M1532.4 203.7h0M1643.3 135.3h0M1491.8 111.3h0M1510.2 236.9h0M1488.3 104h0M1643.2 119.1h0M1563.1 171.9h0M1543.8 134.7h0M1580.5 148.6h0M1526 193.8h0M1524.4 130.5h0M1514.9 214h0M1506.9 210.9h0M1512.2 237.7h0M1497.3 108.7h0M1508.5 238.9h0M1530.2 162.2h0M1534.9 167.7h0M1500.3 195.6h0M1489.1 115.9h0M1536.8 123.1h0M1500.2 215.4h0M1524.3 193.1h0M1513.5 186.7h0M1512.9 130.7h0M1473.9 105.8h0M1494.9 195.9h0M1629.2 178.5h0" stroke="#3b78b5" stroke-width="5.2" stroke-linecap="round"/>
<path d="M1472.3 124.9h0M1494.2 193.8h0M1635.4 158.5h0M1647.4 128.8h0M1524.9 180.7h0M1506.8 127.7h0M1493.9 182.1h0M1518.2 128h0M1493.7 119.6h0M1536.4 157.7h0M1514.5 184.8h0M1612 122.4h0M1622.6 176.7h0M1503.2 206.1h0M1501.1 125h0M1516.2 122.7h0M1525 206h0M1485.9 119.7h0M1675 150.4h0M1487.8 182.6h0M1518.6 198.4h0M1514.2 125.1h0M1493.5 205.9h0M1643 178.4h0M1580.4 197.8h0M1542.7 125.7h0M1491.9 198.6h0M1548.4 151.9h0M1545.9 156.8h0M1519.4 128.6h0M1508.6 120.7h0M1501.5 112.2h0M1630.7 81.1h0M1558.8 168.9h0M1498.9 190h0M1503.4 195.3h0M1528.2 131.1h0M1642.2 153.8h0M1521.5 204.3h0M1511.6 109.9h0M1576.3 177.6h0M1584.1 205.8h0M1476.2 119h0M1498.6 185.4h0M1508.3 209.4h0M1493 127.4h0M1519.1 186.2h0M1487.2 115.9h0" stroke="#2c5f94" stroke-width="5.2" stroke-linecap="round"/>
<path d="M1510.1 127.4h0M1506.6 215.4h0M1509.1 228.1h0M1502.2 185.5h0M1565.9 195.2h0M1506.8 109.6h0M1509.9 129.5h0M1485.3 113.6h0M1507.7 109.7h0M1574.4 206.5h0M1492.5 179.1h0M1506.7 191.3h0M1630 128.8h0M1499.6 188.3h0M1524.3 192.3h0M1519.7 187.7h0M1497.4 188.2h0M1535.6 126.3h0M1523.6 194.6h0M1483 129.2h0M1484.5 185.5h0M1486.1 181.8h0M1475.2 104h0M1539.8 136.2h0M1541.8 134.8h0M1535.9 160.7h0M1530.9 162.1h0M1496.4 184.1h0M1508.6 231.8h0M1509.7 181.4h0M1512.4 126.6h0M1493.4 186.2h0M1491.3 112.5h0" stroke="#4a88c4" stroke-width="5.2" stroke-linecap="round"/>
<path d="M1581.4 179.2h0M1638.7 154.8h0M1638 170.9h0M1676 151h0M1661.2 124.3h0M1579.3 176.1h0M1616.8 191.2h0M1641.7 155.9h0M1610.1 196.9h0M1609.7 190.1h0M1518.5 185.2h0M1651.1 143.7h0M1501.6 206.9h0M1650 161.7h0M1638.1 127.8h0M1620.9 150.6h0M1572 184.5h0M1609.1 195.5h0M1619.7 154.1h0M1607.2 191.6h0M1615.8 157.1h0M1604.5 190.4h0M1646.7 144.3h0M1626.9 146.5h0M1632.6 151.7h0M1630 168h0M1590.2 173.1h0M1626.9 170h0M1628.4 98.9h0M1567.4 206.2h0M1582.8 206.1h0M1509.4 133.4h0M1655.2 125.9h0M1632.8 147.5h0M1659.9 136.4h0M1608.2 161.5h0M1579.9 203.5h0M1654.5 128h0M1620.6 127.3h0M1529.3 162.4h0M1474.1 118h0M1514.7 126.3h0M1629.4 93.9h0M1486.8 117.7h0M1612.6 193.4h0M1626.8 188.5h0M1669.3 129h0M1575 188.5h0M1645.2 175.8h0M1652.7 127.9h0M1613.1 124.9h0M1581.4 204.3h0M1573.1 208.4h0M1650.2 134.3h0M1664 156.4h0M1616.8 127.6h0M1638.4 148.4h0M1636.1 128.2h0M1670.4 105.6h0M1578.5 181.9h0M1663.9 155.4h0M1580 184.6h0M1648.4 207.6h0M1652.7 150.6h0M1660.1 150h0M1623.4 174.5h0M1631 168.3h0M1591.3 189.1h0M1626.4 170.8h0M1577.2 152.9h0M1616.6 194.2h0M1607.5 192.1h0M1607.9 116.1h0M1663.6 147.8h0M1664.2 119h0M1592.1 151.5h0M1656.5 148.9h0M1641.9 149.5h0M1581.9 192.1h0M1599 168.3h0M1634.8 180.3h0M1601.8 99.4h0M1574 207.8h0M1489.4 195h0M1672.5 133.8h0M1656.3 144.9h0M1597.7 193.3h0M1670 115.5h0M1581 190.6h0M1664.2 131.7h0M1561.6 104.1h0M1488 115h0M1556.3 159.8h0M1606.8 195.3h0M1634.6 157.3h0M1568.6 147.5h0M1645.5 204.3h0M1624.3 173.9h0M1611.9 124.1h0M1508.3 183.8h0M1595.7 185.2h0M1524 187.1h0M1520.5 200.3h0M1668.6 150.2h0M1627.9 162h0M1640.8 131.9h0M1689 59.8h0M1552.7 155.9h0M1572.2 204.8h0M1560.4 161.8h0M1643 134.3h0M1483.5 119.5h0M1668.8 109.1h0M1668 115.2h0M1639.4 176.4h0M1643.6 136.3h0M1533.8 123.4h0M1661.9 116.7h0M1565.4 149.9h0M1592.1 149.2h0M1623.7 136.6h0M1579.7 199.8h0M1670 144.1h0M1626 120.2h0M1567.2 146.3h0M1631.3 151.4h0M1527.6 180.1h0" stroke="#1b3857" stroke-width="5.2" stroke-linecap="round"/>
<path d="M1672.9 113.2h0M1609.5 119.3h0M1643.5 140.5h0M1606.1 196.1h0M1544.1 173.1h0M1656.1 143.2h0M1598.3 186.8h0M1655.1 141.2h0M1625.8 166.6h0M1580.4 202.2h0M1631.1 85.2h0M1532.9 157.6h0M1645.7 166h0M1639.1 165.7h0M1646.8 156.6h0M1489.9 188.1h0M1532.6 188h0M1582.9 146.8h0M1576 160h0M1533.9 162h0M1650.8 135.7h0M1656 138.5h0M1643.2 165h0M1501.6 194.2h0M1514.1 121.4h0M1628.9 122.7h0M1653.7 148.5h0M1617.1 122.2h0M1518.5 204.3h0M1664.5 134h0M1579.8 175.8h0M1621.8 109.5h0M1627.1 141.4h0M1629.2 87h0M1624.5 176.6h0M1632.9 136.5h0M1552.3 170.5h0M1615.5 126h0M1618 123.8h0M1680.1 130.3h0M1593.3 172.3h0M1577.3 188.6h0M1522 189.8h0M1581.8 188.2h0M1598.6 168.4h0M1667.6 154.7h0M1605.1 195.8h0M1604 188.7h0M1659.4 156.5h0M1576.2 183.5h0M1512.9 206.6h0M1597.6 184.4h0M1647.9 110.8h0M1548.4 155.6h0M1613.1 200.4h0M1648.9 128.1h0M1508.6 239h0M1653.3 169h0M1650.7 135.4h0M1599.2 166.8h0M1543.5 152.7h0M1622.3 138.9h0M1483.8 105.6h0M1577.1 196.8h0M1582.4 192.6h0M1639.3 125.1h0M1605.2 164.4h0M1656.4 122.5h0M1528.2 180.4h0M1661.9 132.6h0M1621.7 123.3h0M1645.5 144.6h0M1628 150.5h0M1560.2 208.7h0M1502.4 207.1h0M1576.8 196.4h0M1590.5 177.4h0M1630.7 94.4h0M1627.5 168.4h0M1669.3 151.6h0M1502.6 184.2h0M1603 197.6h0M1578.6 202.6h0M1550.9 175.1h0M1636.7 133h0M1620.9 106.8h0M1495.2 192.3h0M1628.9 92.1h0M1668.3 132.3h0M1489.1 192.9h0M1576.1 189.7h0M1640.3 157.4h0M1569 150h0M1528.1 178.1h0M1512.2 182.2h0M1588.7 211.3h0M1625.5 126.1h0M1637.5 177h0M1656.6 125.8h0M1614.9 189.9h0M1491 131.3h0M1525.2 182.1h0M1586.2 176.6h0M1541.6 170.2h0M1676.4 119.3h0M1594.9 169.6h0M1635.6 126.8h0M1553.4 172.4h0M1593.8 150.7h0M1642.3 174.8h0M1622.8 137.7h0M1478.7 106h0M1670.3 122h0M1635.4 171.1h0M1579.3 201.7h0M1583.8 205.5h0M1654.9 136.5h0M1506.3 195.5h0M1596.2 181.2h0M1580.5 147.8h0M1657.6 153.1h0M1578.1 178.3h0M1511.7 232.4h0M1579 195.3h0M1585.4 202.6h0M1666 140.5h0M1620.7 134h0M1569.6 147.4h0" stroke="#17314d" stroke-width="5.2" stroke-linecap="round"/>
<path d="M1478.4 123.4h0M1528 182.3h0M1497.1 104.2h0M1527.7 136.7h0M1593.9 151.4h0M1504.2 111.1h0M1498.9 107.5h0M1533.2 190.7h0M1508.7 121.9h0M1543.9 135.1h0M1484.3 107h0M1532.6 183h0M1508.2 235.9h0M1525.6 186h0M1523.6 189.4h0M1514.2 121.8h0M1541.6 123h0M1630 122.4h0M1535.9 130.1h0M1534.9 126.1h0M1630.2 126h0M1506.9 116.7h0M1517.6 191h0M1483.5 107.5h0M1489 181.7h0M1687.9 59.4h0M1470.3 110h0M1541.4 201.5h0M1486.7 120.1h0M1495.4 130.5h0M1500.2 204h0M1505.3 115.9h0M1486.6 133.1h0" stroke="#3570ab" stroke-width="5.2" stroke-linecap="round"/>
<path d="M1600.9 97.5h0M1563 206.9h0M1533.4 173.6h0M1598.5 97.7h0M1623.2 111.8h0M1673.3 121h0M1605.5 197.3h0M1655.8 130.4h0M1532.4 157.7h0M1639.3 170.6h0M1669.2 105.3h0M1573.1 209.4h0M1669.9 119.9h0M1583.5 208.2h0M1635.1 152.6h0M1582.5 178.8h0M1668 104.8h0M1560 147.9h0M1578.8 183.8h0M1594.8 180.5h0M1636 165.3h0M1639.3 120.8h0M1574.7 180.2h0M1618.1 152.7h0M1565.8 192.3h0M1518.1 202.9h0M1630.3 136.6h0M1547.8 172.9h0M1620.3 150.8h0M1574.3 180.4h0M1583 179.7h0M1667.3 108h0M1679.6 137.9h0M1643.5 136.1h0M1642.3 148.6h0M1632.3 148.1h0M1624.2 162.1h0M1676.7 135.7h0M1630.6 132.1h0M1585.6 177.8h0M1503.8 225.9h0M1659 157.8h0M1582.1 185.9h0M1613.6 197.2h0M1671 113.5h0M1625.9 92.9h0M1506.9 187.5h0M1539.3 167.9h0M1648.9 113h0M1653.4 138.2h0M1518 190.5h0M1634.6 144.9h0M1655.3 136.6h0M1521.8 184.1h0M1615 123.6h0M1644 170.6h0M1649.5 161.3h0M1634.5 134.4h0M1533.9 165.2h0M1628.6 130.7h0M1651.7 166.5h0M1620.1 179h0M1536.9 160.7h0M1498.4 127.2h0M1538.5 150.9h0M1645.1 151.8h0M1513.3 123.8h0M1484.2 103h0M1577.7 206h0M1643.9 178.7h0M1634.1 143.5h0M1640.3 164.8h0M1631.2 143.7h0M1567.3 191.8h0M1624.4 130h0M1577.1 165.9h0M1536 163.1h0M1575.3 210h0M1636.6 142.8h0M1625.9 143.6h0M1656.8 170.1h0M1649.5 176.7h0M1636.2 122.1h0M1505.8 113.4h0M1497 188.6h0M1640.6 127.9h0M1645.8 158.4h0M1628.1 135.6h0M1583.8 212.7h0M1661.4 155.3h0M1534.1 165.8h0M1671.1 142.9h0M1625.4 186.6h0M1611.6 123.6h0M1553.4 157.7h0M1563.7 105.2h0M1583.7 143.4h0M1631 157.4h0M1481.9 108.5h0M1645.8 157.6h0M1569.7 144.2h0M1487.6 193.9h0M1632.6 121.8h0M1654.8 121.9h0M1672.5 105.2h0M1644.6 177.2h0M1511 241h0M1482 124h0M1631.5 85h0M1625.8 120.6h0M1563.3 101.2h0M1525.3 178.5h0M1489.4 124.2h0M1596.4 168.5h0M1504.1 198.4h0M1557.6 111h0" stroke="#17314d" stroke-width="5.2" stroke-linecap="round"/>
<path d="M1654 128.3h0M1656.3 130.4h0M1494.4 126.5h0M1514.8 185.2h0M1578.3 146.2h0M1653.9 150.2h0M1617.1 136.9h0M1635.8 171.2h0M1635.1 176.5h0M1618.4 128.2h0M1574 185.9h0M1552.2 170.5h0M1651.9 157.6h0M1487.7 116.8h0M1626 134.8h0M1644.5 120h0M1501.9 194.9h0M1584.4 143.1h0M1632 129.5h0M1648.6 121.1h0M1533.1 165.1h0M1522.4 190.3h0M1646.1 176.2h0M1623.9 132.5h0M1495.3 197.8h0M1644 143.5h0M1654.9 123.3h0M1627.6 122.5h0M1588 203.6h0M1587.6 208h0M1515.1 186.1h0M1579 201.5h0M1643.3 176.6h0M1536.2 160.6h0M1636.4 143.2h0M1484.8 124.4h0M1664 135.3h0M1526.2 128.8h0M1487 196.3h0M1481.8 104.2h0M1506 128.7h0M1621.5 105.2h0M1662.1 129.6h0M1652.6 140.1h0M1655.2 130.3h0M1535.3 162.6h0M1610.1 190.2h0M1661.3 125.3h0M1589.9 184.6h0M1623.7 146.7h0M1580.3 194.9h0M1647.1 121.3h0M1576.5 191.4h0M1487.6 186h0M1499 125.4h0M1534.3 150.2h0M1651.1 136.9h0M1598.4 184.7h0M1515.1 183h0M1610.5 190.8h0M1579.1 185.1h0M1630.6 95.8h0M1626.5 185.9h0M1557.2 208.5h0M1648.4 113.6h0M1662.2 127.1h0M1641 171.8h0M1656.3 127.2h0M1642.7 161.9h0M1529.1 176.9h0M1653.8 124h0M1671.2 138.7h0M1670.6 143.7h0M1602.1 194.4h0M1643 119.6h0M1631.4 145h0M1595.5 149.2h0M1566.7 207.4h0M1646.9 119.1h0M1609.1 114.5h0M1595.1 172.4h0M1558.5 167.6h0M1566.1 152.5h0M1602.8 167.6h0M1571 148.4h0M1639.4 154.5h0M1643 140.4h0M1666.2 109.9h0M1641.8 178.9h0M1625.6 147h0M1633.8 121.2h0M1569.1 149.2h0M1643.6 155.3h0M1597.1 169h0M1553 158.8h0M1542.9 203.9h0M1578.7 204.5h0M1637.1 174.4h0M1576.4 184.6h0M1473.6 122.9h0M1494.5 196.8h0M1605.3 115.7h0M1622.4 163.4h0M1638.5 119.7h0M1624.8 163.2h0M1506.9 226.1h0M1640.6 138.1h0M1568.5 146.6h0M1519.3 187.3h0M1533.6 191.6h0M1639.3 160.3h0M1533.4 184.8h0M1510.3 233.6h0M1529.1 166.9h0M1576.3 154.3h0M1669.8 108.7h0M1629.5 100.4h0M1611.2 195.3h0M1626.7 135.2h0M1655.3 155.5h0M1562.9 148.5h0M1579.3 160.8h0M1514.3 195.7h0" stroke="#10263c" stroke-width="5.2" stroke-linecap="round"/>
<path d="M1626.3 178.7h0M1637 162.2h0M1629.3 133.5h0M1656.2 167.8h0M1496.5 198.3h0M1600.9 166.6h0M1650.9 125h0M1593.1 146.5h0M1609 193.3h0M1605.6 118.3h0M1582.8 205h0M1639.5 134.8h0M1609.1 199.5h0M1620.6 129.5h0M1627.4 186.7h0M1505.4 213.6h0M1578.1 155.3h0M1537.7 148.6h0M1496.1 209.6h0M1498.7 133.5h0M1576.4 147.2h0M1612.2 192.8h0M1634.9 144.8h0M1578.6 155h0M1599.2 169.3h0M1650.1 127.7h0M1632.4 155.8h0M1671.9 120.8h0M1633.2 141.2h0M1592 179.3h0M1535.2 163.8h0M1513.4 125.9h0M1628.2 141.5h0M1580.9 191.3h0M1643.4 176.8h0M1628.2 86.9h0M1648.2 116.3h0M1572.9 207.9h0M1593.8 187.6h0M1648 159.6h0M1580.8 201.1h0M1488 117h0M1520.1 126.4h0M1619.3 147.8h0M1649.9 114.8h0M1635.4 134.2h0M1650.2 135.6h0M1659.7 119.3h0M1623.4 127.8h0M1578.3 179.4h0M1480.3 125h0M1539.2 156.3h0M1547.8 174.3h0M1641.5 157.5h0M1577.9 134.6h0M1620.7 106.4h0M1516.7 209.9h0M1569.3 208h0M1611.6 195.1h0M1495.8 199.7h0M1649.8 160.2h0M1601.7 166.6h0M1606.7 117.8h0M1493.1 209.2h0M1559.5 170.1h0M1621.7 124.5h0M1514.6 193.8h0M1505.8 126h0M1631.1 169.2h0M1592.3 178.2h0M1598 170.8h0M1632.1 128.5h0M1509.9 110h0M1605.6 191h0M1655.5 136.4h0M1661.5 123.2h0M1630.2 188.2h0M1626.1 176.4h0M1636.2 120.7h0M1602.7 192.7h0M1597.3 100.1h0M1544.5 171.2h0M1587.3 149.5h0M1667.3 139.2h0M1590.2 177.6h0M1630.4 94.7h0M1506.8 216.3h0M1479.8 111.1h0M1639.5 169.6h0M1575.9 196.5h0M1664.1 130.3h0M1625.1 131.4h0M1575.6 188.5h0M1633.3 143.3h0M1622 151.2h0M1552.4 155.6h0M1611.1 195.4h0M1648.6 144.6h0M1600.2 186.1h0M1638.1 132.5h0M1539.6 170.4h0M1655.6 168h0M1626.5 186.1h0M1516.2 198.2h0M1676 139.4h0M1536.6 204.1h0M1587.1 188.3h0M1614.4 127.5h0M1499.9 205.7h0M1618.4 154.3h0M1631.6 100.2h0M1622.2 188.6h0M1628.5 132.2h0M1601.9 197.2h0M1586.3 144.2h0" stroke="#1b3857" stroke-width="5.2" stroke-linecap="round"/>
<path d="M1479.2 108.2h0M1499.3 187h0M1532.6 170h0M1485.8 114.8h0M1635.2 161.6h0M1497.3 206.3h0M1525.1 184.6h0M1651.8 169.2h0M1526.8 214.1h0M1520.5 128.4h0M1563.6 208.1h0M1662.7 133h0M1537.5 165.4h0M1498.1 204.2h0M1480.2 103.4h0M1519.5 181.9h0M1491.4 189.6h0M1522.1 202.6h0M1533.1 170.8h0M1638 179.1h0M1519.1 196.6h0M1522.7 182.1h0M1485.7 112.2h0M1509.8 121h0M1509.4 180.2h0M1505.2 190.1h0M1478.6 127h0M1643.7 156.6h0M1489.9 129.4h0M1496.1 180.1h0M1533.8 152.4h0M1526.4 196.7h0M1470.7 121.7h0M1558.1 166.9h0" stroke="#3b78b5" stroke-width="5.2" stroke-linecap="round"/>
<path d="M1649.4 148.5h0M1632.7 125.7h0M1634.7 152.2h0M1543.7 155.2h0M1636.8 142.3h0M1504.9 228.8h0M1655.3 140.8h0M1656.5 138.6h0M1641 165.1h0M1607.8 197.9h0M1619.7 156.3h0M1671 131.1h0M1574.1 207.9h0M1583 190.3h0M1572.4 180.8h0M1621.9 122.3h0M1684.4 67.3h0M1651.2 151.5h0M1580.6 203.4h0M1643.2 150.2h0M1508.6 224.2h0M1647.7 136.2h0M1614.5 191.2h0M1623.8 141.2h0M1644.2 134h0M1664.5 122.8h0M1645.5 147.1h0M1653.3 126.9h0M1587.3 175.5h0M1505 181.8h0M1539.8 201.4h0M1620.8 128.6h0M1540.6 170.8h0M1500.7 213.8h0M1533 156.4h0M1583.7 182.9h0M1576.6 181.5h0M1504.7 212.8h0M1647.7 205.2h0M1649.1 118.9h0M1550.6 152.6h0M1505.4 209.1h0M1569.9 208h0M1658.6 135.5h0M1579.9 156h0M1630.8 182.6h0M1638.3 176.4h0M1514.3 113.1h0M1640.4 147.4h0M1495.9 180.4h0M1574.6 210.7h0M1674 139.2h0M1630.4 103.2h0M1490.3 177.9h0M1552.9 157.3h0M1509.1 216.2h0M1647.4 163.5h0M1586.1 196.9h0M1639.9 143.9h0M1634.3 142.8h0M1567.4 150.5h0M1633.3 179h0M1574.4 187.4h0M1674.6 147.5h0M1589.8 145.1h0M1591.3 177.4h0M1520.9 186.4h0M1637.6 159.3h0M1578.9 206.7h0M1564.6 207.2h0M1633.3 154h0M1627.7 84.7h0M1666.2 157.3h0M1558.7 165.3h0M1507.1 186.5h0M1587.1 201.6h0M1516.1 210.2h0M1655.3 130.1h0M1504.8 213.8h0M1603.3 188.6h0M1505.5 107.8h0M1609.4 160.2h0M1619.8 121.5h0M1612.7 118.7h0M1574.8 145.9h0M1634.8 161.1h0M1523 207h0M1621.1 152.3h0M1503.9 116.9h0M1629.2 151.4h0M1539.4 125.3h0M1669.1 145.8h0M1651.7 157.8h0M1572.8 180.5h0M1665.7 103.9h0M1608.3 119.2h0M1533.6 156.1h0M1593.9 171.3h0M1594.3 172h0" stroke="#132b43" stroke-width="5.2" stroke-linecap="round"/>
<path d="M1501.5 131.8h0M1508.6 130.9h0M1493.9 182.6h0M1569.4 192.6h0M1492.9 109.7h0M1492.1 128.4h0M1503.9 220.4h0M1506.1 232.4h0M1579.2 177.4h0M1485.1 181.4h0M1521.2 197h0M1529 179.8h0M1490.2 196.6h0M1540 135.1h0M1488.4 201.6h0M1540.1 133.4h0M1508.3 125.6h0M1564.9 206.4h0M1501.6 131.9h0M1534.3 124.6h0M1523.9 202.3h0M1534.8 125.5h0M1513.3 117.2h0M1501.2 126.1h0M1506.2 207.1h0M1539.8 169.3h0M1484.9 105.6h0M1474.1 122.3h0M1473 114.3h0M1501.8 186.1h0M1499.1 113.4h0M1650.1 133.2h0M1501.7 189.3h0M1480.7 109.2h0M1493 131.2h0M1485.5 195.7h0M1540.7 201.7h0M1527.8 132.4h0M1499.4 125.4h0M1484 186.3h0" stroke="#2c5f94" stroke-width="5.2" stroke-linecap="round"/>
<path d="M1642.8 134.9h0M1493.5 199.9h0M1507.1 130.4h0M1621.4 131.8h0M1485 119.8h0M1510.5 184.5h0M1527.7 190.6h0M1645.8 176.1h0M1530.2 163.4h0M1521.2 203.6h0M1485.8 125.6h0M1488.5 186.8h0M1595.7 173.1h0M1489.8 131.7h0M1501.9 106.2h0M1506.9 181.7h0M1514.8 111.9h0M1562.9 146.5h0M1540.2 123.1h0M1535.7 205.3h0M1500.5 125.9h0M1538.4 148.7h0M1510.7 190.9h0M1489.1 114.8h0M1661.2 134.3h0M1517.2 182.2h0M1520 183.9h0M1489.6 113h0M1496.7 128.5h0M1484.1 110.7h0M1533.7 188.2h0M1512.7 184.2h0M1542.8 132.1h0M1537.9 123h0M1533.8 124.7h0M1519.4 201.2h0M1533.6 125.9h0M1488.5 192.8h0M1492.9 209.5h0M1484.8 114.9h0" stroke="#4a88c4" stroke-width="5.2" stroke-linecap="round"/>
<path d="M1476.5 113.7h0M1522.3 197.4h0M1532.6 167.6h0M1518.3 216.4h0M1549 170.2h0M1606.5 160.5h0M1520 197.4h0M1480.2 129h0M1580 149.3h0M1508.2 109h0M1575.3 138.6h0M1521.7 129.9h0M1489.6 201.8h0M1505.1 107.2h0M1491.7 198.1h0M1471.5 113.5h0M1512 233.4h0M1629.7 129.5h0M1506.6 208.9h0M1475.5 118.1h0M1484.1 112.6h0M1525.5 183.6h0M1537.7 151.5h0M1491.7 112.4h0M1507.2 109.7h0M1542 170.8h0M1518.5 209.6h0M1517.9 186h0M1504.1 110.3h0M1507.5 226h0M1493.3 127.2h0M1499.2 110.7h0M1506.8 220.4h0M1515.6 215.1h0M1633.8 133.7h0M1478 104.1h0M1526.8 136.1h0M1506.5 223.5h0" stroke="#3570ab" stroke-width="5.2" stroke-linecap="round"/>
<path d="M1646.9 135.5h0M1626.5 151.1h0M1586.6 197.8h0M1647.4 132.6h0M1632.6 132.8h0M1611.8 194.6h0M1674.7 152.2h0M1494.3 190.6h0M1599.2 152.2h0M1618.8 127.9h0M1665.2 152.8h0M1540 202.9h0M1633.4 127.1h0M1633.6 147.3h0M1574.2 183.4h0M1646.2 148.4h0M1646.1 146.8h0M1599.9 189.1h0M1578.4 157.3h0M1530.2 169.2h0M1630.4 161.5h0M1506.2 209.7h0M1618.3 113.9h0M1627.4 169.4h0M1564.4 207.3h0M1668.7 121.2h0M1637.4 150.2h0M1591.8 144.5h0M1647.4 151.3h0M1631.4 182.9h0M1594.9 188.8h0M1675.9 142.8h0M1590.3 144.6h0M1636.3 161.9h0M1534.6 213.9h0M1635.5 170.5h0M1620.5 124h0M1689.1 58.8h0M1513.2 122.2h0M1639 120.3h0M1567.3 150.8h0M1625.6 190.5h0M1655.3 138.3h0M1576.6 175.1h0M1650.4 116.6h0M1529.6 170.1h0M1620.6 153.1h0M1669 105.1h0M1648.9 131h0M1613.7 191.5h0M1558 166.6h0M1605.8 163.8h0M1579.4 197.7h0M1633.4 139.6h0M1497.7 205h0M1569.4 189.3h0M1625.5 136.7h0M1641.9 131.6h0M1540.3 201h0M1582.4 189.6h0M1504.5 195.8h0M1673.3 139.4h0M1546.2 171.7h0M1584.3 185h0M1670.6 132.1h0M1501.3 208.2h0M1650.4 118.8h0M1641.5 153.5h0M1643.7 169.3h0M1657.9 142.5h0M1637.9 138.9h0M1636.4 164.5h0M1600.9 194.3h0M1554.8 169h0M1650.8 161.5h0M1576.9 193.5h0M1664.5 134.7h0M1661 135.1h0M1633.6 137.2h0M1653.6 138.8h0M1634.6 148.5h0M1595.2 148.5h0M1573 205h0M1658.3 140h0M1617.1 122.8h0M1537.6 151.5h0M1510.4 233.6h0M1628.8 122.2h0M1649.5 208h0M1565.1 102.9h0M1649.4 207.4h0M1633.1 131h0M1664.6 139.6h0M1620.5 153.6h0M1649.4 141h0M1589 148.8h0M1622.3 111.8h0M1646.6 131.2h0M1633.6 159.8h0M1578.6 134.9h0M1657.9 123.4h0M1505.3 230h0M1625.2 130.7h0M1505.4 191.6h0M1633.7 147.7h0M1563.3 147.3h0M1638.8 147.9h0M1599.5 171.1h0M1654.6 162.8h0M1630.4 91.6h0M1504 111.2h0M1629.9 102.4h0M1689.2 56.2h0M1662.9 155.1h0M1673.9 117.6h0M1631.7 136h0" stroke="#17314d" stroke-width="5.2" stroke-linecap="round"/>
<path d="M1523.3 125.2h0M1556.8 163.5h0M1647.8 155.7h0M1586.4 192.7h0M1628.1 155h0M1627.3 88.7h0M1564.9 148.6h0M1654.6 118.3h0M1668.7 122.1h0M1651.3 157.6h0M1624.7 141.4h0M1568.9 205.4h0M1488.9 133h0M1531.4 165.6h0M1610.1 193.9h0M1480.5 126.1h0M1586.8 150.1h0M1492.7 131.6h0M1578.5 167h0M1579.4 195.4h0M1544.3 168.5h0M1623.4 174.5h0M1625.5 181.6h0M1537.5 148.9h0M1643.5 128.5h0M1653 127.6h0M1565.1 193.1h0M1671.5 118.7h0M1623.6 110.7h0M1613.4 122.8h0M1617 129.3h0M1640.3 156h0M1649.3 136.8h0M1480.4 113.3h0M1670.9 142.9h0M1652.9 142.2h0M1663.2 114.4h0M1628.3 128.9h0M1613.9 197.6h0M1661.3 134.9h0M1606.9 192.5h0M1589.3 176.7h0M1652.9 121.1h0M1574.3 189.9h0M1620.6 109.1h0M1649.3 175.6h0M1599.2 170.8h0M1550.4 153h0M1476.5 118.7h0M1632.7 140h0M1649.1 145.5h0M1662.2 142.9h0M1573.5 206.6h0M1621.6 142.5h0M1660.7 146.8h0M1547.9 199.8h0M1578.9 164h0M1624 121.5h0M1500.4 210.5h0M1631.7 124.3h0M1558.2 168h0M1519.5 181.2h0M1529.1 172h0M1627.1 164.1h0M1596.8 97.7h0M1585.5 148.9h0M1544.9 155.6h0M1675.7 138.1h0M1594.2 144.4h0M1647 127.5h0M1497 109.9h0M1657.2 153.5h0M1583.2 187h0M1639 139.7h0M1637.3 166.2h0M1608.1 192.9h0M1517.4 207.5h0M1618.9 155.1h0M1639.3 128.3h0M1664.9 128.7h0M1627.2 97.9h0M1663.5 133.8h0M1615.7 120.9h0M1669.3 133.2h0M1649.4 209.7h0M1653 168.5h0M1643.1 147.1h0M1602.2 193.2h0M1496.1 193.3h0M1578.1 167h0M1560.7 147.8h0M1645.8 139.5h0M1572.6 203.4h0M1633.7 148h0M1522.8 199.1h0M1651.4 127.1h0M1580.5 189.2h0M1586.5 143.4h0M1623.7 137.6h0M1637.7 177.5h0M1503.9 133.1h0M1643.1 161.8h0M1578.6 133.9h0M1580.2 180.3h0M1605.8 159.2h0M1647.4 154.4h0M1567.3 204.1h0M1476.8 116.4h0M1546.6 151.8h0" stroke="#10263c" stroke-width="5.2" stroke-linecap="round"/>
<path d="M1666 128h0M1517.1 198h0M1669.4 105.4h0M1596.2 98.9h0M1505.6 226.1h0M1653.6 160.8h0M1634 133h0M1575.1 181.8h0M1670.4 122.2h0M1602.4 166.8h0M1652.6 142.1h0M1572.9 204.4h0M1532.7 150h0M1598.3 167.2h0M1642.9 161.3h0M1532.2 202.2h0M1672.5 112.3h0M1574.7 180.5h0M1626.7 86.8h0M1502.2 116.2h0M1567.8 188.9h0M1505.4 108.8h0M1655.2 136.8h0M1667.4 103.9h0M1604.9 191.2h0M1637.4 129.9h0M1637.6 160h0M1674.2 130.2h0M1591.1 183.5h0M1653.9 131.5h0M1646.8 150.1h0M1609.5 193.6h0M1657.8 122.8h0M1650.1 113h0M1530.9 165.5h0M1572.7 139h0M1527.6 189.9h0M1554.7 160.7h0M1518.2 179.6h0M1573.3 209.5h0M1535.3 124.1h0M1489.3 110.7h0M1578.3 150.2h0M1626.1 138.7h0M1631.9 173.8h0M1622.2 141.9h0M1645.6 162.7h0M1569 204.3h0M1503.2 208.8h0M1524.7 183.4h0M1670.7 110.3h0M1633.6 174h0M1535.4 150.4h0M1614.7 195.5h0M1610 119.6h0M1583.6 189.6h0M1621.2 106.1h0M1541.4 202.1h0M1510.6 186.1h0M1624.1 109.6h0M1642.5 134.3h0M1609.2 192.8h0M1589.3 147.2h0M1518.1 204.1h0M1487.1 181.9h0M1669.2 144.7h0M1614.5 126.9h0M1628.3 137.4h0M1639.7 155h0M1638.8 178.6h0M1587.1 195.3h0M1630.2 153.5h0M1578.6 143h0M1511.2 207.3h0M1660.8 158h0M1576.6 136.6h0M1539.9 152.5h0M1654.3 156.3h0M1502.3 112.2h0M1655.3 126.6h0M1586.6 207.8h0M1536.6 147.4h0M1612.9 122.8h0M1571.1 188.6h0M1661.1 157.5h0M1670.4 138.5h0M1581 149.9h0M1641.1 158.7h0M1632.5 140.5h0M1654.2 133.6h0M1568.3 148.4h0M1641.7 133.3h0M1579.2 166.6h0M1574.3 136.4h0M1541 132.8h0M1530 175.5h0M1646.4 136.4h0M1671.9 142.7h0M1533.9 170.3h0M1645.7 137.9h0M1642.6 131.3h0M1651.8 163.2h0M1635.5 127.6h0M1632.1 160.2h0M1628.5 137.3h0M1561.4 205.5h0M1607 190.8h0M1558.2 208.1h0M1520.5 180.2h0M1536.4 158.4h0M1669 122.7h0M1672 117h0M1507.1 229.9h0" stroke="#1b3857" stroke-width="5.2" stroke-linecap="round"/>
<path d="M1508.9 190.8h0M1605.4 198.4h0M1659.9 125.5h0M1652.3 152h0M1545.1 171.6h0M1627.6 182.6h0M1530.9 193.3h0M1657.1 147.7h0M1539 132.9h0M1509 228.5h0M1650.9 140.7h0M1623.8 134h0M1618.4 126.3h0M1559.1 109.6h0M1632 141.3h0M1541.2 181.9h0M1616.3 135.1h0M1659.7 132.8h0M1639.7 177.9h0M1534.1 159.2h0M1636.7 130.6h0M1559.3 151.1h0M1632.5 150.2h0M1536.4 204.7h0M1496.9 110.6h0M1490.5 203.9h0M1582.1 194.1h0M1559.2 109.8h0M1649.3 130.2h0M1553.2 171.3h0M1635.7 169h0M1646.5 118.8h0M1579.3 178.2h0M1570.6 207.9h0M1636.2 155.3h0M1596.3 185.7h0M1603.3 190.9h0M1628 181.5h0M1506.1 209.1h0M1626.7 179h0M1534.5 121.7h0M1657.9 154.4h0M1607.7 191h0M1593 187.5h0M1650 144.2h0M1491.5 179.2h0M1635.2 166.1h0M1569.5 192.6h0M1646.8 142.4h0M1648.3 136.5h0M1533.2 122.2h0M1642.8 121.2h0M1649.3 127.3h0M1519.3 129h0M1508.9 211.4h0M1676.2 117.8h0M1500.7 212.3h0M1510.3 209.9h0M1641.7 136h0M1630.3 153.4h0M1587.9 149.3h0M1596.5 181.5h0M1506.2 133.7h0M1492.1 133.5h0M1544 201.9h0M1659.3 122.3h0M1478.8 129.9h0M1630.5 175.8h0M1594.3 185h0M1574.9 206.3h0M1493.9 192.2h0M1541.8 125.9h0M1542.2 165.4h0M1609.8 193.1h0M1644.4 141.7h0M1689.6 58.1h0M1561.8 105.1h0M1575.1 148.5h0M1648.9 149.8h0M1666 147.2h0M1637.4 165.9h0M1505.7 114.5h0M1544.6 151.1h0M1663.1 119.8h0M1519.3 192.1h0M1597.8 96h0M1661.4 150.6h0M1625 137.8h0M1534.5 190h0M1628.5 167.9h0M1672.7 149h0M1503.4 130h0M1653.2 118.3h0M1612.1 117.1h0M1646.1 148.9h0M1654 134.4h0M1559.5 210.2h0M1649.6 138.3h0M1518.7 186.3h0M1576.5 144.6h0M1510.7 213.6h0M1554.4 174h0M1583 143h0M1601.5 98.4h0M1574 206.2h0M1567.1 191.8h0M1651 130.4h0M1664.5 135.2h0M1621.5 140.3h0" stroke="#132b43" stroke-width="5.2" stroke-linecap="round"/>
<path d="M1655.4 163.5h0M1498.3 129.6h0M1544 127.9h0M1502 208.7h0M1502.5 185.6h0M1502.1 192h0M1522.1 198.1h0M1498.9 215.3h0M1508.3 132.9h0M1497.9 193.4h0M1494.2 194.2h0M1595 149.9h0M1512.3 206.7h0M1477 114.1h0M1483 124.8h0M1493.7 124.7h0M1491.1 133.3h0M1534.9 152.3h0M1501 113.4h0M1555 207.7h0M1526.7 186.1h0M1482.8 112.7h0M1506.6 186.8h0M1500.7 109.1h0M1505.6 133.7h0M1605.5 139.6h0M1515.6 123.8h0M1513.7 122h0M1499.1 209.7h0M1533 188.2h0M1524.7 128.3h0M1484.4 112.9h0M1539.7 129.4h0M1496.6 126.5h0M1512.2 194.1h0M1491.1 125.8h0M1510.8 126.8h0M1518.7 126.4h0M1537 124.8h0M1501.1 181.4h0M1493 188.1h0M1519.3 127.1h0M1552.7 173.6h0M1508.3 121.3h0M1510.5 121h0M1496 198.8h0M1535.6 121.7h0M1486.5 106.2h0M1535.1 130.3h0M1553.1 174.9h0M1480 125.4h0M1519.5 183.6h0M1620.9 176.9h0M1538.9 129.2h0M1541.2 165.2h0M1512.2 192.6h0" stroke="#3b78b5" stroke-width="5.2" stroke-linecap="round"/>
<path d="M1505.2 182h0M1601.7 189.4h0M1511.2 239.9h0M1518.4 188.6h0M1645.6 157.1h0M1513.5 180.9h0M1495.1 204h0M1520.2 193.1h0M1510.4 232.3h0M1495.4 201h0M1509.7 186h0M1479.5 119.9h0M1535 121.8h0M1513.3 191.2h0M1497.5 106.5h0M1502.5 109.4h0M1539.1 124.1h0M1502 186.8h0M1654.1 119h0M1526 129.7h0M1670.7 106.5h0M1504.1 195.6h0M1491.4 200.6h0M1520.3 200.7h0M1478.5 107h0M1494.1 133.3h0M1642.3 164.1h0M1633.1 186.9h0M1555 166.9h0M1493.4 182.8h0M1524.4 199.2h0M1517.3 187.5h0" stroke="#3570ab" stroke-width="5.2" stroke-linecap="round"/>
<path d="M1530.6 171.1h0M1490.9 200.9h0M1508.3 108.7h0M1519.7 200.7h0M1528.4 184h0M1507.7 210.2h0M1508.7 116.4h0M1495.7 204.7h0M1478.7 123.3h0M1508.3 121.9h0M1506.8 212h0M1507.4 122.4h0M1665.4 116.9h0M1492.6 182h0M1628.4 162.4h0M1506.6 207.4h0M1477.8 112.1h0M1503 206.8h0M1483.7 116.9h0M1488 127.5h0M1538.6 153.4h0M1483.2 119h0M1501.7 127.8h0M1502.8 212.7h0M1544.9 205.3h0M1493 193.4h0M1506 116.8h0M1504.5 215h0M1498.6 113h0" stroke="#2c5f94" stroke-width="5.2" stroke-linecap="round"/>
<path d="M1538.9 128.1h0M1503.2 219.2h0M1504.1 112.7h0M1496.5 130.7h0M1504.9 111.9h0M1509.8 118.1h0M1472.1 107h0M1499.4 193.3h0M1514.3 116.2h0M1507.2 231.2h0M1494.5 207.2h0M1502 132.3h0M1658.3 150h0M1634.5 147.8h0M1534.3 127.2h0M1483.1 114.9h0M1488.7 127h0M1505.1 131.3h0M1512.7 190.5h0M1475.2 110h0M1498.4 196.9h0M1608.1 196.2h0M1559.9 149.4h0M1559.4 153.6h0M1497.7 130h0M1555.5 167.2h0M1495.9 109.3h0M1479.7 130.7h0M1525.4 188.7h0M1509.5 111.5h0M1530 184.1h0M1645.4 166.5h0M1529.7 161.3h0M1672.1 107.5h0M1501.3 107.9h0M1510 186.5h0M1524.5 185.8h0M1667.1 142h0M1540.4 125.3h0M1535.7 126.1h0M1518.7 193.4h0" stroke="#4a88c4" stroke-width="5.2" stroke-linecap="round"/>
<rect x="1463.3" y="46.9" width="238" height="206.2" fill="none" stroke="#333333" stroke-width="1.4" />
<path d="M1511.5 253.1L1511.5 260.4" stroke="#333" stroke-width="2.4" />
<text x="1511.5" y="283.2" font-size="21.5" text-anchor="middle" fill="#4d4d4d">-4</text>
<path d="M1581.3 253.1L1581.3 260.4" stroke="#333" stroke-width="2.4" />
<text x="1581.3" y="283.2" font-size="21.5" text-anchor="middle" fill="#4d4d4d">0</text>
<path d="M1651.1 253.1L1651.1 260.4" stroke="#333" stroke-width="2.4" />
<text x="1651.1" y="283.2" font-size="21.5" text-anchor="middle" fill="#4d4d4d">4</text>
<path d="M1456 47.1L1463.3 47.1" stroke="#333" stroke-width="2.4" />
<text x="1449" y="55.4" font-size="21.5" text-anchor="end" fill="#4d4d4d">5.0</text>
<path d="M1456 101.3L1463.3 101.3" stroke="#333" stroke-width="2.4" />
<text x="1449" y="109.6" font-size="21.5" text-anchor="end" fill="#4d4d4d">2.5</text>
<path d="M1456 155.6L1463.3 155.6" stroke="#333" stroke-width="2.4" />
<text x="1449" y="163.9" font-size="21.5" text-anchor="end" fill="#4d4d4d">0.0</text>
<path d="M1456 209.8L1463.3 209.8" stroke="#333" stroke-width="2.4" />
<text x="1449" y="218.1" font-size="21.5" text-anchor="end" fill="#4d4d4d">-2.5</text>
<text x="1584.9" y="314.5" font-size="21.3" text-anchor="middle">RNA UMAP 1</text>
<text x="1395" y="134.4" font-size="21.3" text-anchor="middle" transform="rotate(-90 1395 134.4)">RNA UMAP 2</text>
<text x="1739" y="114.9" font-size="22" font-style="italic">MKI67</text>
<defs><linearGradient id="gc" x1="0" y1="0" x2="0" y2="1"><stop offset="0" stop-color="#56a0dc"/><stop offset="0.5" stop-color="#2a5583"/><stop offset="1" stop-color="#132b43"/></linearGradient></defs>
<rect x="1745.3" y="129" width="16.7" height="83.8" fill="url(#gc)" />
<path d="M1745.3 145.2h3.3M1758.7 145.2h3.3M1745.3 168.5h3.3M1758.7 168.5h3.3M1745.3 191.2h3.3M1758.7 191.2h3.3" stroke="#fff" stroke-width="1" stroke-opacity="0.8"/>
<text x="1776" y="154" font-size="22.5">2</text>
<text x="1776" y="176.8" font-size="22.5">1</text>
<text x="1776" y="199.6" font-size="22.5">0</text>
<text x="1824" y="30.6" font-size="43">d</text>
<path d="M1927 44.2L1927 253.7" stroke="#f0f0f0" stroke-width="1.0" />
<path d="M1978.6 44.2L1978.6 253.7" stroke="#f0f0f0" stroke-width="1.0" />
<path d="M2030.2 44.2L2030.2 253.7" stroke="#f0f0f0" stroke-width="1.0" />
<path d="M2081.8 44.2L2081.8 253.7" stroke="#f0f0f0" stroke-width="1.0" />
<path d="M1917 72.5L2093 72.5" stroke="#f0f0f0" stroke-width="1.0" />
<path d="M1917 127.5L2093 127.5" stroke="#f0f0f0" stroke-width="1.0" />
<path d="M1917 182.4L2093 182.4" stroke="#f0f0f0" stroke-width="1.0" />
<path d="M1917 237.2L2093 237.2" stroke="#f0f0f0" stroke-width="1.0" />
<path d="M1952.8 44.2L1952.8 253.7" stroke="#e6e6e6" stroke-width="2.0" />
<path d="M2004.4 44.2L2004.4 253.7" stroke="#e6e6e6" stroke-width="2.0" />
<path d="M2056 44.2L2056 253.7" stroke="#e6e6e6" stroke-width="2.0" />
<path d="M1917 45.1L2093 45.1" stroke="#e6e6e6" stroke-width="2.0" />
<path d="M1917 100L2093 100" stroke="#e6e6e6" stroke-width="2.0" />
<path d="M1917 154.9L2093 154.9" stroke="#e6e6e6" stroke-width="2.0" />
<path d="M1917 209.8L2093 209.8" stroke="#e6e6e6" stroke-width="2.0" />
<path d="M2039.3 138.5h0M2037.8 150.3h0M2072.1 112h0M2008.3 197.6h0M2046.6 134h0M2008.1 192.4h0M2074.4 150.3h0M2049.1 155.2h0M2072.4 119.9h0M2043.7 167.3h0M1940.1 190.3h0M1993 195h0M1937.5 200.7h0M2044.2 176h0M2042.3 170.2h0M2043.3 132h0M1999 185.6h0M1942.8 193.1h0M2048.6 164.5h0M2070.3 121.1h0M1997.6 184.1h0M2008.4 149.3h0M2054.1 120h0M2071.5 150.9h0M2052.1 175.6h0M1950 108.4h0M1972 148.2h0M2015.8 166.7h0M2055.3 126.7h0M1973.6 199.7h0M2009 199.5h0M1945.9 115h0M2058.8 122.2h0M1994.1 206.1h0M2030.9 121.1h0M2039 140.6h0M2071.1 117.5h0M2015.1 172.6h0M2009.1 198.5h0M2041.5 182.5h0M1973.9 134.1h0M1968.8 190.5h0M1945.8 131.3h0M1998.2 207.8h0M1929.8 112.1h0M1949.4 181.3h0M1999.2 180h0M2006.3 182.5h0M1935.7 201.4h0M2001.4 188.3h0M1935.4 115.9h0M2043.7 147h0M2034.1 103.9h0M1962.8 205.9h0M2061 153.7h0M1950.3 107.7h0M2010.3 176.3h0M2017.1 164.5h0M1936.6 201.7h0M1931.6 114h0M2074.9 134.7h0M1998.3 208.3h0M2042.4 139.2h0M2000.8 191.1h0M2065.5 155.7h0M2069.2 103.8h0M2001.9 133.6h0M2057.9 159.4h0M1987.2 166.1h0M1969.7 149.5h0M2042.9 138.7h0M2056.5 163.9h0M1954.4 120.9h0M1996 207.9h0M2049.2 130.7h0M2002.7 184.8h0M1979.9 204.1h0M1962.4 129.5h0M1941.3 180h0M1976.4 152h0M2001.4 152.2h0M2006.1 189.3h0M1986.6 208.4h0M1977.5 154.9h0M2043.8 144h0M1971.7 123.7h0M2061 141.7h0M2016.8 170.3h0M2053.7 121.6h0M2042.8 178.6h0M2018.9 194.1h0M1976.9 201.7h0M1975 121.9h0M2029 125.9h0M1946.4 185.4h0M1945.6 185.8h0M1938 200.4h0M2048 164.2h0M1936.5 194.7h0M1928.5 126h0M2070.9 112.9h0M2052.2 141.7h0M1932.1 106.2h0M1939.9 132.4h0M2067.1 146.4h0M2044.1 134.5h0M2027.7 121.7h0M2083.5 62.9h0M1958.6 191.8h0M1995.4 148.4h0M2045.9 176.6h0M1975.9 131.1h0M2027 123h0M2063.6 149.8h0M2002.5 204.4h0M2057.4 168h0M2058.3 132.6h0M1983.5 174.4h0M2036.6 162.6h0M1989.2 147h0M2042.3 120.7h0M1975.1 203.8h0M1962.4 185.4h0M1943.9 124.3h0M1939.1 209.5h0M2037.3 119.5h0M1969.3 122.3h0M2039.3 136.3h0M1940.9 129.5h0M2059.1 154.8h0M1987.4 208h0M1933 113.7h0M2039.8 178h0M2039.3 131.2h0M2067 139.7h0" stroke="#22b4bd" stroke-width="4.4" stroke-linecap="round"/>
<path d="M1928.9 106.9h0M2059.8 167.2h0M2018.9 166.1h0M2042.3 131.9h0M2055.9 123.9h0M1946.2 185.2h0M2047.4 133.9h0M2052.8 155.9h0M2033.7 149.8h0M2000.8 146.4h0M2057.1 141.2h0M2017.6 168.8h0M2050 160.7h0M2071.8 111h0M2012.3 178.9h0M1971.2 204.6h0M1935.8 186.4h0M1954.9 115h0M2027.1 121.3h0M2029.7 124.9h0M1950.7 120.8h0M1985 207.6h0M2057.4 141.3h0M2061 121.7h0M1960.6 189.5h0M1933.9 118.5h0M2044.4 133.2h0M2023.9 190.7h0M1936 125.9h0M1942.4 187.9h0M1995.5 207.9h0M1939.5 205.8h0M1970.7 205.2h0M2062.7 149.2h0M1995.3 204.2h0M1968.7 187.8h0M1954.9 111.9h0M1942.5 105.2h0M1970.5 149.6h0M2034.3 123.5h0M2005.2 192.3h0M2033.9 104.8h0M1938.2 111.2h0M2041 131.7h0M2065.2 147h0M2041.2 168.7h0M1946.1 207h0M1932.3 115.7h0M2011.2 177h0M2073.4 146.7h0M2038.5 167.9h0M2059.3 135.5h0M1943.2 126.1h0M2039.2 136.5h0M1969.8 160.6h0M1947.4 195.4h0M2001.7 205.9h0M1949.4 115.6h0M1928.4 105.7h0M2063.2 157.3h0M1994.1 191.5h0M2084.5 56.2h0M1956.2 210.1h0M2055.3 132.2h0M1965 177.6h0M2054.8 176.3h0M2048.3 126.9h0M2066 138.7h0M1944.6 106.4h0M2050.5 155.9h0M2046.1 176.7h0M1983.7 157h0M1959.4 200.1h0M2032.9 120.4h0M1952.9 108.6h0M1948.3 191.4h0M2038.8 161.4h0M1974.6 131.8h0M2052.1 156.9h0M2042.5 141.6h0M2050 133.3h0M2056.3 126.1h0M1952.4 241.3h0M1972.1 204.1h0M1948.7 115.6h0M2025.7 114.6h0M1973.1 128.2h0M1963.8 196.5h0M1943.3 111.8h0M2030.7 122.2h0M1958.2 193.1h0M1978.7 151.1h0" stroke="#e9625b" stroke-width="4.4" stroke-linecap="round"/>
<path d="M2018.9 96.1h0M1923.8 123.8h0M1940.2 125.4h0M2062.5 124.4h0M1939.5 199.7h0M2015.4 97.5h0M2026.9 194.4h0M2022.3 117.2h0M1951 228.3h0M1942.2 102.9h0M2066.5 152.1h0M2038.5 186.3h0M2037.5 143.9h0M1950.4 107.4h0M2024 197.7h0M1964.8 190.3h0M1969.4 201.5h0M2002.7 187.8h0M2006 208.1h0M2062.4 131.9h0M1997.8 180.4h0M2046.4 148.6h0M1999.5 180.1h0M1955.4 185.8h0M2012.1 143.6h0M1964.1 214.1h0M2034.3 108.3h0M2050.3 176.4h0M1940.2 207.1h0M2003.4 203.4h0M2035.8 140.4h0M2052.2 134.7h0M1991.3 208.1h0M2003 177.7h0M2023 192.2h0M2044.5 170h0M1938.2 110.1h0M1948.8 209h0M2004.8 187.9h0M2059.1 137.4h0M2000 137.7h0M2039.6 134h0M1948.4 132.8h0M1966.2 169.6h0M1944 188h0M1974.1 122h0M1948.1 130.3h0M2005 185.5h0M1992.3 206.3h0M1950.8 209h0M2003.4 155.3h0M2065.4 154.7h0M2051.9 162.1h0M2041 182.2h0M2040.8 94.4h0M1963.5 193.6h0M2070.5 109.1h0M2032.4 129.2h0M1943.1 196.6h0M1999.4 208.2h0M2006.6 184.6h0M2073.4 108.1h0M2008 196.7h0M2036.1 108.3h0M2070.8 137.8h0M2040.3 91.7h0M2043.6 142h0M1993.1 208.4h0M1957 181.9h0M1957.7 203.9h0M2001.2 148.2h0M2063.7 122.1h0M2047.1 138.8h0M1993.6 207.4h0M2063.3 134.2h0M2052.9 117.9h0M1941.3 108h0M1943.6 112.1h0M1950.7 119.6h0M2008.7 195h0M1971.8 165.4h0M1998.3 204.9h0M2000.9 135.7h0M2025.6 197.3h0M2050 139.5h0M2065.7 130.7h0M2008.3 207.7h0M1939.3 126.2h0M1941.7 183.7h0M1952.1 119.9h0M1948.6 112.1h0M2043.8 156.6h0M2063.6 154.6h0M2025.5 195.9h0M2065.1 132.8h0M2037 186.3h0M2034.7 110.6h0M2000.8 184.2h0M2036.8 130.5h0M2036.9 129.7h0M2049.5 174.3h0M2049.1 132.4h0M2071.3 141.8h0M2058.8 135.6h0M1956.3 198h0M1974.2 124.2h0M2000.7 153.6h0M1934.5 119h0M2044.4 126.6h0M1947.3 109.9h0M1992.7 149.1h0M2084.1 54.3h0M1937.8 111.3h0M2044 164.6h0M2014 171.5h0M1964.7 179.7h0" stroke="#22b4bd" stroke-width="4.4" stroke-linecap="round"/>
<path d="M2059.2 162.9h0M2046.8 154.1h0M1960.6 125.1h0M1969 173.1h0M1946.5 180.6h0M1968.4 167h0M2038.2 183.8h0M2038.6 182.2h0M1936.1 132h0M2044.2 161h0M1943.5 215.3h0M2056.6 157h0M2055.2 161.1h0M1962.7 180.3h0M1927.3 112.9h0M2002.3 166.5h0M2044 143.9h0M1977 167.9h0M2030.4 124.3h0M1954.7 120.3h0M1958.9 200.6h0M1988.7 147.1h0M2080.6 65.6h0M2039.2 97.5h0M1940.6 203.8h0M2038.6 121.4h0M2030.3 195.9h0M1942 109.4h0M2065.9 133h0M1988 108.6h0M2000.1 204.3h0M2053.5 135.3h0M1952 232.6h0M1945 112.2h0M1925.2 116.9h0M2051.9 146.3h0M1948.8 127.6h0M1929.6 128h0M1969.8 120.6h0M1958.7 181.5h0M1932.7 105.7h0M2021.2 188.4h0M2055.5 115.5h0M1960.3 128.9h0M1948.1 105.9h0M2027.9 123.8h0M1968.7 155.7h0M1938 178.8h0M1979.6 173.8h0M2072 118.3h0M2054.4 130.1h0M2044.9 127.1h0M1934.9 177.5h0M2034.2 141.7h0M2041.8 173.3h0M2003.8 147.8h0M2049.8 120.1h0M1946.7 208.7h0M1963.2 183.3h0M2055.7 134.5h0M1962 202.1h0M1970 124.4h0M2064.2 126h0M1952.3 125.7h0M2059.9 121.4h0M2049 135.1h0M1953.3 238h0M1988.2 152.8h0M1936.3 113.6h0M2049.7 133.4h0M1980 151.2h0M2039.4 129.7h0M1934.8 181.5h0M2069.5 150.9h0M1978.2 156.1h0M2030.4 120.1h0M2067.2 156.6h0M1949.5 186.2h0M2059.9 144h0M2036.3 129h0M1973.8 151.8h0M1943.5 189.7h0M1948.5 113.3h0M2052.1 157.8h0M2063.4 156.8h0M2008.1 176.2h0M1949.3 220.4h0M2072.1 113.2h0M2042.3 139.6h0M2044.5 125.8h0M2039.3 167.3h0M2013.7 149.9h0M2046.7 118.5h0M2054.1 143.8h0M1922.4 108.7h0M2052.3 148.2h0M1995.8 143.3h0M2050.9 166.6h0M1958.6 187h0M2044.1 135.1h0M2043.1 147.2h0M2051.2 176.8h0M2049.7 130.3h0M2068.5 114h0M2069.3 145h0M1939.2 126.3h0M1971.4 204h0M1990.8 147.7h0M2064.7 154.4h0M2031.8 153.5h0M1994.1 204h0" stroke="#e9625b" stroke-width="4.4" stroke-linecap="round"/>
<path d="M2052.9 134.6h0M1951.7 126.4h0M2019.5 189.1h0M2022.7 195.9h0M1968.4 169.4h0M2048.1 167.2h0M2030.7 190.9h0M1995.6 192.3h0M2025.7 196.7h0M1957.9 188.3h0M2030.8 136h0M1968.6 156.9h0M1945.8 191.7h0M2051.9 156.4h0M1950.4 131.9h0M1933.2 118.7h0M2082.4 64h0M1929.9 125h0M2032.8 153.3h0M2002.4 154.3h0M2047.6 177.4h0M1968.1 202h0M2040.4 167.5h0M2050.8 142.6h0M1954.2 124.8h0M1937.1 196.4h0M1955 184.4h0M2003.9 203.3h0M2021.8 190.9h0M1933.1 123.3h0M1968.2 203.6h0M1950.7 115.2h0M2053.8 115.1h0M2054.7 135.9h0M2052.8 149.3h0M2004 201h0M1934.7 196h0M1949.2 191h0M2020.7 190.7h0M2050.4 135.1h0M2004.2 184.3h0M2017.2 167.9h0M1994.1 150h0M2036.1 161.4h0M1968.4 182.7h0M1949.2 186.5h0M2033.6 127.6h0M2062.1 155.9h0M2033.5 107.9h0M1938.2 197.9h0M2001 181.1h0M1936.4 109.5h0M2053.5 205h0M2022.5 163.2h0M2034.6 141h0M1941.2 199.5h0M2054 207.5h0M2041.6 123.2h0M2023.2 116.6h0M2005.2 189.3h0M2025.9 191.5h0M1973.6 128.4h0M1949.2 207.3h0M2059.9 126.1h0M1974.9 202h0M1998.5 143.1h0M1951.9 209.8h0M1948.9 207h0M1988.8 208.6h0M1946.5 206.7h0M1951.6 108.8h0M1999.3 187.1h0M2004.8 191.8h0M2033.1 178.6h0M1999 207.7h0M2062 121.2h0M1924.3 113.1h0M1950.5 239.2h0M2040.8 175.3h0M1992 207.1h0M2057.9 137.9h0M1975.2 124.9h0M1931.9 106h0M2020.3 167.1h0M2057.4 159h0M2051.1 140.9h0M2047.3 153.8h0M2045.3 142h0M1935.4 113.8h0M1932.5 109.5h0M2045.9 165.3h0M2037.1 125.1h0M2064.9 118.7h0M2051.8 166h0M1943.7 109.4h0M2049.7 169.2h0M2029.8 119.8h0M1972.3 121.9h0M2043.1 159.1h0M1944.4 215.4h0M2000.4 196.3h0M1983.8 171.9h0M2072 148.2h0M2034.8 162.8h0M2068.9 149.4h0M1949.4 226.3h0M1974.9 201.4h0M1998 203.3h0M2006.2 205.4h0M1949 195.2h0M1928.1 102.8h0M2041.9 159.6h0M2064 115.6h0M2066.8 102.6h0M1993.9 191.5h0M2024.3 118.1h0M2065.9 134.3h0M1953.3 192.4h0M2008.1 143.4h0" stroke="#22b4bd" stroke-width="4.4" stroke-linecap="round"/>
<path d="M2037.7 178.3h0M2039.9 132.5h0M1945.8 208.7h0M2053.3 131.6h0M2035.4 110.6h0M2073.5 151.5h0M1939.1 108.4h0M2065 132.8h0M1948.3 213.6h0M2047.1 165.1h0M1941.4 209.5h0M1949.3 126.7h0M2020 166.2h0M2006.7 142.3h0M1954.3 180.5h0M2029.9 156.4h0M1931.7 123.8h0M2044.1 151.9h0M1945.5 194h0M2052.3 175.7h0M1951 127.6h0M2042.7 140.3h0M1988.1 150.4h0M1998.2 135.6h0M2069 120.1h0M2005.5 206h0M1937.3 203.8h0M2059 135.9h0M2067.3 120.2h0M2033.5 126.3h0M1945.7 104.9h0M1938.8 178.7h0M2040 92.4h0M1996.5 207.9h0M2033.3 122.9h0M1955.2 110.7h0M1950.4 124.5h0M1935.6 102.7h0M2023.3 192.3h0M2004.5 204.1h0M1926.9 117.5h0M2002.2 179h0M1962.3 192.1h0M2033.4 152.4h0M1999 186.4h0M1958.8 187.4h0M2056 135.9h0M2070.3 104.3h0M2037.5 137.8h0M1948.3 209.1h0M1961.7 189.1h0M1955.5 182.6h0M1950.7 239.3h0M1965.8 171.5h0M1932.8 185.2h0M1988.3 169.6h0M1972.1 150.7h0M1968.9 164.4h0M1941.8 125.5h0M1955.1 193.6h0M1944.4 210.1h0M2047.3 124.1h0M1965.8 176.5h0M1951.3 179.7h0M2067 149.6h0M2009.3 148.5h0M2065.7 117.9h0M2010.3 146.4h0M1939.1 187.8h0M1954.1 122.7h0M1958.6 127.6h0M1985.3 166.6h0M2045.4 132.1h0M2042.8 153.3h0M2068.7 131.3h0M1987.7 164.7h0M1975.5 164.8h0M2069.7 105.4h0M1946 111h0M1952 233.8h0M1953.3 181.8h0M1930 107.9h0M1948.3 106.6h0M1995 146.7h0M1950.5 183.5h0M1929.4 109.9h0M1969.8 189.7h0M2067.4 151.8h0M1929.5 124.3h0M2042.8 142.4h0M1951.7 186.1h0M1939.4 182.4h0M1958.7 201.1h0M2044.4 170.5h0M1969.1 191.4h0M1969.4 169.8h0M1969 184.4h0M2058.6 162.2h0M2047.4 176h0M2040.7 90.2h0M1973.5 124.3h0M2050.4 135.3h0M2056.4 157.1h0M2050.1 161.2h0M2035.7 135.7h0M2045.5 146.5h0M1947.3 198.2h0M1994 145.5h0" stroke="#e9625b" stroke-width="4.4" stroke-linecap="round"/>
<path d="M1965.9 179.4h0M2013.1 145.7h0M2059 140.3h0M1977.7 171.1h0M2024.9 193h0M2060.5 146.9h0M2022.3 197.1h0M2051.2 144.7h0M1950.9 228.7h0M2002 154.5h0M1999.2 183.1h0M1936.8 187.8h0M1952.1 184.2h0M2034.4 191.6h0M1999.1 207.8h0M2021.5 190.1h0M1966.6 168.7h0M1948.8 232.6h0M2010.3 182.7h0M2042.1 155.1h0M1962.9 184.3h0M2009.1 207.9h0M2013 178.3h0M2035 176.2h0M2068.1 102.6h0M2050.2 176.1h0M2039.8 85.4h0M2014.4 188.5h0M2042.5 135.6h0M2046 159.3h0M2031.6 152h0M2034.1 129.2h0M2011.1 143.7h0M2040.6 135.6h0M2078.1 134.7h0M2052.6 117.7h0M1955.8 122h0M2065 113.2h0M1976.8 134.2h0M2064.1 128.5h0M2062.2 123.7h0M1969.7 126.1h0M1929.2 118.7h0M1973.3 155.6h0M1972.4 158h0M1947.1 226.1h0M2046.6 147.6h0M2015.3 173.9h0M1970.6 125.2h0M2054 135.6h0M2061.5 134.5h0M2002.6 163.4h0M1949.2 208.8h0M1958.5 127.9h0M2048.1 146.6h0M1955.3 214h0M1947.6 195.5h0M2057.7 137.3h0M2029.1 195.3h0M2040.7 101.9h0M2030.5 194h0M1948.6 124.9h0M2053.3 162.9h0M2024.1 115h0M1946.1 108.1h0M1972.7 148h0M2001.1 196.2h0M2053 126.5h0M1942.6 129h0M2063.4 133.4h0M2017.5 167.7h0M1958.6 126.1h0M1933.1 104.3h0M1959.7 186.1h0M2020.4 197.4h0M2047.5 154.3h0M1970.1 125.1h0M2014 184.7h0M1929.3 129.7h0M1936.2 192.7h0M2014.7 147.7h0M1947.4 109.1h0M1996.8 147.6h0M2048 156.7h0M1999.8 147.7h0M2067.1 108.6h0M2009.9 211.2h0M1992.4 101.6h0M2070.7 149.4h0M1996.8 188.3h0M2006.3 212.7h0M2060.1 124.7h0M2010.1 148h0M2050.1 146.3h0M2014.5 169.1h0M1994.8 147.6h0M2001 197h0M1948.2 230.2h0M2027.6 117.5h0M2033.7 176.5h0M2059.3 167.4h0M1947.2 115.8h0M1965.8 166.3h0M1991.1 99.9h0M2030.5 153.3h0M2003.2 199.6h0M1974.8 164.6h0M2053.2 153.6h0M2019.6 197h0M2033.5 133h0M2071.4 115.8h0" stroke="#22b4bd" stroke-width="4.4" stroke-linecap="round"/>
<path d="M2067 126.9h0M2054.7 147.8h0M1928.3 122.3h0M1976.8 126.8h0M2049.8 133.9h0M1976.9 172.6h0M2069.6 104.1h0M1950.7 129.9h0M1949.1 109.5h0M1952.6 240.2h0M2003.7 202.1h0M1965 182h0M2025.7 193.6h0M2031.9 127.2h0M1945.5 206.8h0M1945.7 194.6h0M1953.4 206.6h0M1938.9 130.6h0M2081.7 66.7h0M1974.8 181.5h0M2005.6 190h0M1939.7 123.6h0M1939.6 118.5h0M1948.8 209.6h0M1933.8 124.5h0M2038.1 169.5h0M2038.5 168.8h0M1943.5 106.2h0M1994.4 188.6h0M1948.3 107.6h0M2023.1 159.9h0M1950.7 224.3h0M2050.9 133h0M1973.9 132.4h0M2050.3 134.3h0M1928.5 122.2h0M1942.9 204.1h0M1950.4 120.8h0M2068.2 154h0M2063.6 133.9h0M1970.4 162h0M1931.6 111.5h0M1973.7 201.3h0M2051.6 175.3h0M1974.3 170.3h0M2000.6 183.2h0M2017.6 170.3h0M2040.8 131.1h0M1952 239.8h0M1998.6 206.6h0M2044.3 165.6h0M2054.5 117.7h0M1942.6 204.9h0M2026.8 194.9h0M2043.1 162.6h0M1953.1 233.6h0M2027.9 200.2h0M1968.8 121.1h0M1984 158.4h0M2034.7 138h0M1953.3 193.9h0M1966.5 184.5h0M1927.9 110.9h0M1988.6 148.7h0M2058 123h0M2034.2 122.2h0M1975.3 170.3h0M1942.3 107.4h0M2040.9 92.9h0M1945.1 181h0M2050 118.5h0M2040.4 121.3h0M1928.6 128.9h0M1959.1 183.5h0M2050.7 178.2h0M2033.6 105.5h0M1987.6 167h0M1967.2 161.4h0M1963.1 188.4h0M1931.9 117.9h0M2059.1 129.1h0M2040.9 79.5h0M2013.6 175.5h0M2049.5 163.5h0M2037.1 146.1h0M1953.7 183.8h0M2033.4 152.9h0M2016.1 168.5h0M1937.6 130.3h0M2026.8 122.5h0M2056.1 151h0M1936.8 128.4h0M1940.2 196.6h0M1962.2 192.8h0M2057.5 117.2h0M1983 154.9h0M2000.7 177.2h0M2043.1 146.9h0M2048.3 137.2h0M2058.2 141.7h0M1991.1 146.5h0M1961.3 206.9h0M1983.2 155.2h0M1954.3 186.4h0M2052 137h0M1950.4 209.3h0M1957.1 187.2h0M1976.5 203.4h0M1947.6 215h0M2005.7 142.1h0M1932.5 186h0M2073.5 142.3h0M2023.4 190.5h0M1963 178h0M2015.6 167.9h0M2007.4 202.5h0" stroke="#e9625b" stroke-width="4.4" stroke-linecap="round"/>
<path d="M2058.2 127.3h0M2035 151.4h0M2025.2 118.1h0M2053.6 155h0M1940 193.6h0M2038.4 87.2h0M1949.6 129.4h0M2003 175.6h0M1939.8 182.2h0M1973.9 202.8h0M2070.5 112h0M1941.7 129.7h0M2005.6 146h0M1988 108.4h0M1968.7 164.5h0M1960.9 190h0M1968.5 149.2h0M1966.7 162.8h0M2002.6 183.5h0M2042.3 151h0M2044.8 164.7h0M2047.3 119.7h0M1949.6 231.4h0M1971.1 160h0M2062.5 135.5h0M2074.3 142h0M2039.1 85.4h0M1982.9 170h0M2073.1 129.2h0M1965.9 161.8h0M2045.1 161.2h0M1941.1 204.6h0M2057.6 125.9h0M2013.3 171.8h0M2015.5 185.4h0M2038 178.5h0M2038.9 89.3h0M1964.7 189.6h0M2040.4 127.8h0M1990.8 145.7h0M2050.2 118h0M1949.4 212h0M2035.5 126.7h0M2041.5 183.8h0M1970.4 123h0M1947.8 212.8h0M2016.4 184h0M2028.3 197h0M1991 171.3h0M2002.2 149.5h0M2037.4 91.4h0M1979.7 199.6h0M1923.2 112.3h0M1925.9 108.8h0M1958.4 196.4h0M2054.3 127.1h0M2046.5 175.9h0M1965.2 187.8h0M1962.6 183h0M1939.2 209.1h0M1932.3 104.3h0M1949.4 210.9h0M2048.5 171.3h0M2055.1 133.1h0M1958.1 125.3h0M1965.2 180h0M1945.2 208.2h0M1960.4 183.8h0M2038.9 149.7h0M1926 102.7h0M2046.3 138h0M2042 127.4h0M2060.5 152.8h0M1948.2 189.8h0M2060 148.1h0M1973.7 168.8h0M1974.2 200.9h0M2014.9 148.4h0M2072.1 104.4h0M2051.6 151.1h0M1983.2 173.1h0M1944.5 195.4h0M1957.2 207.4h0M2014.6 171.9h0M2039.6 90.7h0M2043.8 147.7h0M1993.1 151.7h0M1957.3 190.8h0M2061.3 139.1h0M2041.3 142.9h0M2032.2 154.4h0M2054.4 149h0M2060.2 169.6h0M2023.3 195.1h0M1941.3 198.7h0M2083.2 57.5h0M2059.5 145h0M2070.3 137.5h0M1966.2 160.6h0M2045.6 173.9h0M1958.3 126.5h0M1941.4 193h0M1964.8 131.4h0M2054.1 144.2h0M2002.8 166h0M1930.9 107.2h0M2040.1 147.8h0M2006.5 205.7h0M1958.7 183.2h0M1969.2 124.8h0M1926.7 117.9h0M2043.2 132.7h0M2008.3 142.5h0M2015.4 180.8h0M2069.9 107.4h0M2040.3 101.1h0M2012.4 148.4h0M1936.5 123.1h0M1948.2 114.7h0M2041.6 98.8h0M2070 143.2h0M2034.1 139.4h0M1987.3 166.3h0M1995.7 146.6h0" stroke="#e9625b" stroke-width="4.4" stroke-linecap="round"/>
<path d="M1943 128.6h0M1943.8 186.6h0M1941.7 198.1h0M1948.4 226.2h0M2038.2 186.2h0M2036.5 140.6h0M2005.5 204.9h0M1945.9 185.2h0M2032.1 126.8h0M2033.4 128.5h0M1960.6 191.3h0M2059.1 140h0M2055.9 139.9h0M1935.2 115.6h0M1949.4 108.3h0M1999.8 181.4h0M2069.4 104h0M2014.8 170.6h0M2070.7 130.1h0M1933.5 112.4h0M2035.5 174.1h0M2059.6 137.6h0M1957.8 126.9h0M1951.5 117h0M2031.8 112.7h0M2041 179.1h0M1937.8 132.3h0M2009.4 203.5h0M2039.6 121.6h0M2057.4 126.6h0M2059 124.9h0M2004.1 191.1h0M2038.3 140.5h0M2028.1 121.7h0M1992.9 192h0M2064.6 132h0M1956.3 121.6h0M2068 106.7h0M2053.3 111.5h0M1959.2 125.4h0M1968.9 177.1h0M2028.5 197.4h0M2059 129.3h0M1945 112h0M1967.1 164.9h0M2032.5 147h0M2063.5 124.3h0M2057.3 120h0M2054.9 160.2h0M1957.7 179.2h0M2006.2 182.5h0M1953.7 190.2h0M1976.7 133.7h0M2003.4 184.2h0M1974.1 200.9h0M2066.4 106.3h0M2043.1 173.5h0M1999.4 210.6h0M2072.4 138.5h0M1983.4 156.7h0M1937.7 124.7h0M2049.8 161.3h0M2048.9 152.8h0M2019.8 194.2h0M2053.8 172.1h0M1948.9 132.8h0M1963.5 128.6h0M2045.8 165.6h0M2002.4 202.5h0M1958 209.5h0M1967.5 155.2h0M2001.3 165.4h0M2070 114.3h0M1945.6 126.8h0M2000 209.9h0M1989.8 102.8h0M2020.7 188.3h0M1977.3 150.4h0M2043.2 120.1h0M1969.5 165.2h0M2029.3 189.6h0M2054.7 140.1h0M1933.6 195.4h0M2060.7 129.1h0M1962.1 186.7h0M2019.8 192.9h0M1924.8 121.8h0M1960.2 204.2h0M2071.5 106.2h0M1991.4 103.9h0M1985 166.4h0M1955.8 215.2h0M1961.1 198.9h0M1943.3 185h0M1951.9 233.8h0M2056.5 162.6h0M2065.9 115h0M1947.2 132.1h0M2026.5 195.1h0M1952.9 232.7h0M2008.7 188h0M1970.7 125h0M2055.9 129.3h0" stroke="#22b4bd" stroke-width="4.4" stroke-linecap="round"/>
<path d="M1961.5 124.1h0M2004.5 178.8h0M2022.2 198.3h0M2043.8 151.5h0M2058 149.7h0M1957 197.8h0M2002.2 145.4h0M1941.4 183.2h0M1967.1 193.1h0M1947.9 229h0M1957.9 184.8h0M2044.7 170.6h0M2042.9 126.1h0M2060 137.7h0M2051.1 118.9h0M2014.5 149.1h0M1943.4 132.6h0M2040.2 91.6h0M2031.8 125.2h0M2041.9 128.5h0M1969.4 161.4h0M1938.5 127.4h0M2055.8 134.8h0M2030.2 134.2h0M2005.3 178.4h0M1960 203.4h0M2050.7 140.1h0M1923.7 105.7h0M2014.4 180.1h0M2038 85.2h0M1947.4 109.9h0M2045.9 149.5h0M2056.5 168.7h0M1950 210.1h0M1946.2 125.3h0M2024.3 160.9h0M2065.6 134.4h0M2011.7 183.1h0M2053.7 159h0M1945.1 123.9h0M2044.6 168.4h0M1934.5 116.5h0M1941.4 193h0M2069.5 128h0M1938 189.4h0M1964 185.8h0M2055.1 113.6h0M2010.7 184.3h0M1950.4 236.2h0M2054.7 175.2h0M2055.2 143.3h0M1929.7 123.9h0M1969.2 188.7h0M2064.2 142.1h0M2048.9 156.8h0M1955.8 122.7h0M1943.6 124.3h0M2053.7 109.5h0M1968.8 170.3h0M1969.6 123.6h0M2002.3 181.5h0M2037.1 135.8h0M2017 184.4h0M2057.2 149.9h0M1987.3 167.4h0M1961.7 194.4h0M1932.6 111.4h0M2035.5 174h0M2039.2 161.8h0M1978.4 171.2h0M2003.7 197.6h0M1933.7 111h0M1951.5 119.9h0M2064 131.6h0M2055.5 117.7h0M1934 181.4h0M1973.7 135.3h0M1969.4 164.6h0M1954.7 119.3h0M2010.7 144.3h0M2055.8 160.9h0M2011.8 177h0M2048.6 161.3h0M1936.6 111.8h0M1941.9 127.5h0M2066.2 127.6h0M2008.7 201.4h0M2059.1 125.6h0M1969.2 187.9h0M1961.3 189.6h0M1970.6 120.6h0M1942.1 188.3h0M1946.8 195.1h0M1966.5 183.8h0M2036.2 173.4h0M2048.6 158.1h0M1976 203.8h0M2054.7 209.6h0M2025.2 159.5h0M2040.3 173.8h0M2002.4 134h0M2048.6 170.8h0M1951.4 181h0M1945.3 106.6h0M2002.1 166.4h0M2035.1 136.8h0M2046.4 131.5h0M1973.6 169.9h0M2067.8 141.1h0M1932.1 118.4h0M1962.3 199h0M2000.8 143.8h0M2040 99h0M1984.5 173.5h0M1998.2 180.1h0M2002.4 132.9h0M2028.9 126.5h0M1940.6 195.7h0M2022.5 158.5h0M1949.1 223.7h0M1971.2 157.7h0M1969.1 155.4h0M1934.8 114.7h0M1927.2 115.2h0" stroke="#e9625b" stroke-width="4.4" stroke-linecap="round"/>
<path d="M2045.6 161.6h0M1955.3 184.9h0M2017 186.5h0M1966.9 170.6h0M1973.1 127.1h0M2034 130.8h0M2025.4 189.8h0M1946.7 219.3h0M2056 142.8h0M2033.5 133.8h0M2043.1 146.5h0M2046.4 126.7h0M2041.9 140.4h0M1999.3 206.4h0M2040.7 160.9h0M2011 172.7h0M1933.3 181h0M2056.1 150.8h0M1951.2 132.4h0M1965.3 183.7h0M2003.3 175.4h0M1959.1 197.2h0M1970.1 151.5h0M2050.2 149.4h0M1959.3 192.8h0M2041.5 148.9h0M2033.2 150.1h0M2025.2 193.4h0M1930.9 102.9h0M2061.3 149.2h0M1972 164.8h0M2029.8 154.2h0M2084.1 56.9h0M1929.7 102h0M2037.2 190.2h0M2064.5 132.3h0M1999.7 188.2h0M1944.8 107.8h0M1944.8 213.8h0M2016.5 165.5h0M2030.6 126.5h0M2003 197.5h0M2007.5 190.4h0M2052.8 141.6h0M2026 190.5h0M2054.7 126.2h0M1962.5 127.3h0M2054.4 111.8h0M2017.6 166.2h0M2072.9 138.3h0M2037.7 170.3h0M1951 216.2h0M2024.2 196h0M2022.1 163.9h0M2007.5 148.1h0M2029.3 122.5h0M2050.5 168.8h0M1952.2 190.6h0M2045.2 163.9h0M2054.8 160.7h0M2065.5 124.3h0M2005.8 186.7h0M1938.4 132.6h0M2033.3 187h0M2065.9 133.7h0M2002.6 206.6h0M1970.1 167.1h0M2043.1 136.3h0M2040.6 187.8h0M1970.9 160.1h0M1972.8 152.6h0M2043.4 142.7h0M1934.2 177.5h0M2040.6 152.7h0M2002.2 143.7h0M2030.8 121.8h0M2000.6 189.4h0M2004.2 190.3h0M2008.8 148.8h0M1985.9 159.2h0M1971.3 146.6h0M2011 177.1h0M2044.7 134.3h0M2042.7 130h0M2040.7 93.3h0M2015 184.8h0M2065.6 129.2h0M1970.3 129.3h0M2006.2 142.5h0M2034.5 150.4h0M2053 169h0M2044 160.5h0M2052.5 135.5h0M2084 58h0M2017.8 170.5h0M1988.9 161.2h0M2033.8 151.6h0M1931 123h0M2018.3 185.1h0M2000.9 193.5h0M1953.8 129.7h0M1934.4 132.2h0M1954.9 195.5h0" stroke="#22b4bd" stroke-width="4.4" stroke-linecap="round"/>
<path d="M1942.9 109.6h0M1950.9 190.5h0M1949.2 215.4h0M1986.3 162.9h0M1926.9 112.5h0M2063.4 123.2h0M1968.2 175.6h0M1968.2 157h0M1960.6 197.9h0M1982.9 170h0M2030.5 129.3h0M2024.9 195.3h0M2018.2 188.8h0M2003 195.2h0M1942.3 206.2h0M2052.7 143.4h0M2068.5 103.5h0M1939.8 181.8h0M1947.9 110.6h0M2045.4 129.6h0M1940.8 197.6h0M1971.2 157h0M2050.4 127.5h0M1965.7 179.4h0M1958 204.2h0M2005 193.9h0M1936.7 130.8h0M2030.8 128.3h0M2082.5 66h0M2048 155.3h0M1946.7 206h0M1940.9 200.9h0M2031.6 129.8h0M2008.8 175h0M2038.9 181.1h0M2039.4 121.4h0M2042.1 147.3h0M1998 138.1h0M2055.3 134.7h0M2073.7 149.7h0M2053 120.2h0M2055.3 133.3h0M2022.3 138.7h0M1935.1 185.6h0M1962.7 198.8h0M1981.7 151.9h0M1963.2 185.7h0M1980.1 154.9h0M1943.7 209.7h0M1949.4 187.1h0M2019.5 166.1h0M1950.9 211.3h0M1973.4 167.4h0M1938.8 181.6h0M1944.7 124.8h0M1937.1 177.5h0M2038.3 163.5h0M1975.9 124.7h0M1944.8 212.3h0M1945.2 125h0M2061 124.1h0M1952.1 185.7h0M2013.9 143.5h0M1949.6 108.4h0M2071.2 102.1h0M1994.2 149.7h0M2012.4 150.8h0M2041.4 144.2h0M2043.9 179.9h0M1971.6 160.1h0M1970.8 129.1h0M2001.2 193.3h0M1975.2 133.9h0M2070.5 105.2h0M1932.6 101.7h0M1999.7 206.2h0M2037.5 175.9h0M1940.8 192h0M1939.8 191.9h0M2020.2 192.5h0M2016.3 98.7h0M2043.6 127.2h0M1950.4 120.2h0M2068 138.3h0M1936.2 114.7h0M1939.1 130.2h0M2051.8 204.2h0M2069.4 132.2h0M1949.3 216.3h0M1975 169.7h0M1969.3 123.6h0M2049.4 153h0M2022.1 114.5h0M1949.9 191.5h0M2041.1 156.7h0M2059.8 153.6h0M2027.2 116h0M1994.9 145.8h0M1928.6 104.7h0M2046.9 147.1h0M2058.8 120.7h0M2047.3 159.7h0M1953.5 125.5h0M2037.8 185.7h0M1939.4 185.8h0M2046.1 177.1h0M2074.4 138.6h0M2019.3 97h0M2037.9 134.3h0M1925 104.5h0M1944.2 205.6h0M2069.2 121.6h0M2013.7 170.8h0M2041.3 150.6h0M1949.6 230.1h0" stroke="#e9625b" stroke-width="4.4" stroke-linecap="round"/>
<path d="M2042.4 124.6h0M2059.7 142.3h0M2039 154.3h0M1933.8 113.6h0M2058.6 117.1h0M1960.8 197.2h0M2056.1 156.9h0M1976.6 154.5h0M2041.2 83.7h0M2017.7 151.4h0M2025 199.4h0M2038.9 119.1h0M1973.1 131.9h0M2052 165.4h0M2016.8 167.8h0M2052.4 147.6h0M1972.2 147.8h0M2035.8 133.1h0M1998.3 209.3h0M2027.3 192.6h0M1951.6 128.5h0M1998.2 204.3h0M2035.9 131.5h0M2038.1 145.7h0M2013.7 150.7h0M2042.3 149.5h0M1970.3 163.2h0M1999.5 179.8h0M2006.4 209.9h0M2035.6 109.4h0M2034.1 136h0M1959.5 127.4h0M2013.7 187.3h0M1979.7 172.4h0M2070.6 142h0M2065.9 121.7h0M2077.5 129.3h0M2045 154.6h0M2027.6 193.2h0M1948 181.4h0M2056.8 132.9h0M1954 121.1h0M2057.1 139.2h0M2055.3 111.8h0M2022 195.6h0M1931.8 113.7h0M2035.7 145.9h0M2057.2 126.9h0M2013.1 187.1h0M1998.5 209.4h0M2061.8 157.1h0M2052.8 209.1h0M1995.7 192.4h0M1995.6 189h0M2070.7 112.3h0M2049.3 174.9h0M2036 120.4h0M2040.2 128.5h0M2032.2 125.5h0M1954.1 190.9h0M1931.8 128.2h0M2057.7 168.4h0M2041.2 167.7h0M2025.6 118.5h0M2023.8 191.8h0M2054 112.4h0M2059.1 135.7h0M2051.8 143.8h0M1973.2 123h0M2005.3 178.5h0M1942.1 108.7h0M2022.4 190.7h0M2015.7 181.1h0M2058.2 117.8h0M1972.7 150.1h0M1982 174.6h0M2038.7 83.1h0M2018 167.2h0M2002.4 142.1h0M2071.8 132.9h0M2025.4 192.8h0M1990 103.8h0M1947.8 213.8h0M1995.3 149.2h0M2037.4 142.8h0M2022.9 194.7h0M2039.5 121.1h0M2045 121h0M1936.2 181.3h0M1951.3 110.3h0M2038.3 96.6h0M2016.6 94.6h0M2070.8 142.1h0M1962.9 181.7h0M2036.7 136.9h0M2061.1 122.4h0M2042.7 186.5h0M2026.4 195.1h0M2010.3 173.3h0M1966.4 175h0M2002.9 201.6h0M1988.3 210.2h0M2003.8 188.9h0M2069.1 107.8h0M2035.8 136.7h0M2039.8 150.7h0M2002 177.9h0M1999 206.1h0M1922.6 120.6h0M1944.5 203.9h0M1959.5 179.8h0M2055.5 140.6h0" stroke="#22b4bd" stroke-width="4.4" stroke-linecap="round"/>
<path d="M2059.8 129.4h0M1948.1 181.6h0M2050.3 139.6h0M2046.3 170.4h0M1992.2 147.8h0M1995.2 205.3h0M2053.2 127.8h0M2059.5 129.4h0M1964.8 135.7h0M1940 193.9h0M2032.8 155.6h0M2069.9 118.8h0M1957.8 216.4h0M2037 181.2h0M1947.2 220.4h0M1965.7 179.2h0M1969.5 158.5h0M1943.8 193.1h0M2038.9 126.8h0M1960 196.8h0M2057.9 147.7h0M1992.4 192.8h0M1980.5 169.7h0M2042.5 146.7h0M2002.7 201.3h0M2001.2 137.3h0M2054.6 129.2h0M2036.3 176.1h0M2045.8 128.9h0M2029 190.9h0M1957.7 202.8h0M1955.2 125.3h0M1969.9 213.9h0M2005.6 179.3h0M2077 137h0M2049.5 147.8h0M2003.5 148.5h0M1984.7 160h0M2062.4 118.2h0M1953.8 206.5h0M1981.6 152.3h0M2035.4 144.6h0M2033.5 105.1h0M1956.6 209.9h0M2045.7 128.2h0M2046.3 178.7h0M2024.2 195.6h0M1944.6 210.4h0M2055 159.5h0M1926.2 116.9h0M1961.1 181.7h0M2070.4 131.1h0M2047.7 143.1h0M2074.2 137.2h0M2070.4 142.9h0M1938.3 198.4h0M1945.8 186.4h0M2050.7 170.1h0M2039.4 96.9h0M2025 192.6h0M2043.7 133.5h0M2049.2 148.7h0M1984.8 168.4h0M2056.4 166h0M1946.2 183.8h0M2024.2 192.7h0M1966.6 161.6h0M1935.5 126.4h0M2040.6 124.9h0M1945.4 111h0M1959.3 200.5h0M2045 119.6h0M2016.5 193h0M2047.3 127.3h0M1970.9 162.5h0M2060.9 135.9h0M2064.5 113.2h0M1972.1 150.7h0M1987.8 168.4h0M2054.8 208h0M2039 134.7h0M1965.1 130.2h0M1946.4 212.7h0M2004.2 149.1h0M1936 128.7h0M2052.7 130.2h0M1934.3 104.9h0M2047.4 169h0M2002.9 203.7h0M2028.6 123.3h0M1946.8 129h0M1999.2 135.4h0M2070.2 120.9h0M1941.4 179.6h0M1939.1 193.1h0M1958.1 185.9h0M2041.5 83.5h0M1969.3 151.6h0M1958.4 185.9h0M1989.7 205.4h0M2049.5 149h0M2034.6 188.3h0" stroke="#e9625b" stroke-width="4.4" stroke-linecap="round"/>
<path d="M2038 89.6h0M1945.4 130.8h0M2056.9 151.2h0M1990.9 206.8h0M2017.1 96.3h0M2044.4 157.8h0M2069 121h0M2058.1 149.4h0M2037.3 166.1h0M2045.5 141.5h0M1967.5 165h0M2057.9 160.1h0M2047.3 170.1h0M2004.7 143.6h0M1947.3 111.5h0M2037.5 133.9h0M2034.6 146.9h0M1968.4 187.7h0M2052.3 146h0M2000.5 159.4h0M2002.3 156.6h0M2023.5 191.4h0M2050.2 164.4h0M2017 166.6h0M2034.4 121.2h0M2071.4 119.7h0M2070.3 115.5h0M2002.9 177h0M1991.9 207.2h0M2053.3 150.6h0M2045.1 142.4h0M2058.5 127h0M1983.6 170.8h0M2031.5 122.7h0M2058.1 130.5h0M1963.6 127.8h0M2071.2 103.9h0M1951.5 185.7h0M2065.3 142.1h0M2039.1 127.9h0M2038.1 188.2h0M2047.1 119.2h0M1951.8 237.2h0M2000.9 174.6h0M2025.7 189.9h0M2044.5 135.1h0M1935.3 182.2h0M1999.2 189.6h0M2003.6 194.7h0M1960.7 202.5h0M1958 198.2h0M2054.5 144.7h0M2007.5 177.4h0M2028.4 191.2h0M1954.8 124h0M1949.7 121.3h0M2063.6 131.8h0M2063.1 146h0M1945.5 130.9h0M1970.1 120.7h0M1954.8 120.6h0M1958.7 180.8h0M2050 178h0M2066.6 115.8h0M2037.8 185.5h0M2072.7 139.2h0M1932.7 111.7h0M1957.6 190.2h0M2011.8 188.8h0M2074.5 116.7h0M1954.1 116h0M2001.3 196.6h0M2015.9 96.4h0M2038.9 162.4h0M1994.4 150.6h0M2040.6 152.7h0M2012.5 177.8h0M1931.7 114.1h0M2019.6 98h0M2069.4 143.9h0M1925.1 121.2h0M2046 158.7h0M2024.9 113.3h0M2046.9 178.1h0M1957.5 185.7h0M1941.9 188.4h0M1952.6 207.3h0M1949.8 226.1h0M2058.4 155.6h0M1977.2 170.7h0M2049.1 178.4h0M1945.6 189.1h0M1950.6 232h0M2054.8 207.4h0M2050.5 154.6h0M1971.5 122h0M1983.5 158.1h0M1974.4 201.5h0M2074.7 118.2h0M1977.5 205.2h0M2000.2 188.2h0M1999.6 145.1h0M2003 176.8h0M2018.4 185.8h0M2048.4 130.9h0M2058.1 133.4h0M1935.1 193.7h0M2052 138.6h0M2071.8 103.9h0M1997.6 204.7h0M2054.9 137.4h0M2051.4 171.6h0M1935.8 192.5h0M2003.8 147h0M2060.8 152.4h0M1952.2 213.6h0M1964.1 135.1h0M2003.6 179.9h0M2002.9 160.2h0M2002.7 195.1h0M2072.9 116.5h0M2037.4 119h0M2041.6 135.1h0M1986.9 109.8h0" stroke="#22b4bd" stroke-width="4.4" stroke-linecap="round"/>
<rect x="1917" y="44.2" width="176" height="209.5" fill="none" stroke="#333333" stroke-width="1.4" />
<path d="M1952.8 253.7L1952.8 261" stroke="#333" stroke-width="2.4" />
<text x="1952.8" y="279.3" font-size="19.2" text-anchor="middle" fill="#4d4d4d">-4</text>
<path d="M2004.4 253.7L2004.4 261" stroke="#333" stroke-width="2.4" />
<text x="2004.4" y="279.3" font-size="19.2" text-anchor="middle" fill="#4d4d4d">0</text>
<path d="M2056 253.7L2056 261" stroke="#333" stroke-width="2.4" />
<text x="2056" y="279.3" font-size="19.2" text-anchor="middle" fill="#4d4d4d">4</text>
<path d="M1909.7 45.1L1917 45.1" stroke="#333" stroke-width="2.4" />
<text x="1902.7" y="52.5" font-size="19.2" text-anchor="end" fill="#4d4d4d">5.0</text>
<path d="M1909.7 100L1917 100" stroke="#333" stroke-width="2.4" />
<text x="1902.7" y="107.4" font-size="19.2" text-anchor="end" fill="#4d4d4d">2.5</text>
<path d="M1909.7 154.9L1917 154.9" stroke="#333" stroke-width="2.4" />
<text x="1902.7" y="162.3" font-size="19.2" text-anchor="end" fill="#4d4d4d">0.0</text>
<path d="M1909.7 209.8L1917 209.8" stroke="#333" stroke-width="2.4" />
<text x="1902.7" y="217.2" font-size="19.2" text-anchor="end" fill="#4d4d4d">-2.5</text>
<text x="2006" y="28.1" font-size="18" text-anchor="middle">Polarization</text>
<text x="2013.8" y="309" font-size="21.3" text-anchor="middle">RNA UMAP 1</text>
<text x="1863" y="140.6" font-size="21.3" text-anchor="middle" transform="rotate(-90 1863 140.6)">RNA UMAP 2</text>
<path d="M2111.9 55.8h0" stroke="#e9625b" stroke-width="5.4" stroke-linecap="round"/>
<path d="M2111.9 71.4h0" stroke="#22b4bd" stroke-width="5.4" stroke-linecap="round"/>
<text x="2130" y="61.8" font-size="16.2">Th1</text>
<text x="2130" y="77.4" font-size="16.2">Treg</text>
<text x="938" y="388.8" font-size="43">e</text>
<path d="M1064.3 581.6L1318.5 581.6" stroke="#ececec" stroke-width="1.1" />
<path d="M1064.3 532L1318.5 532" stroke="#ececec" stroke-width="1.1" />
<path d="M1064.3 482.2L1318.5 482.2" stroke="#ececec" stroke-width="1.1" />
<path d="M1064.3 432.5L1318.5 432.5" stroke="#ececec" stroke-width="1.1" />
<path d="M1111.5 398.6L1111.5 615.7" stroke="#e6e6e6" stroke-width="1.6" />
<path d="M1191.4 398.6L1191.4 615.7" stroke="#e6e6e6" stroke-width="1.6" />
<path d="M1271.1 398.6L1271.1 615.7" stroke="#e6e6e6" stroke-width="1.6" />
<path d="M1064.3 606.5L1318.5 606.5" stroke="#e3e3e3" stroke-width="2.0" />
<path d="M1064.3 556.8L1318.5 556.8" stroke="#e3e3e3" stroke-width="2.0" />
<path d="M1064.3 507.1L1318.5 507.1" stroke="#e3e3e3" stroke-width="2.0" />
<path d="M1064.3 457.4L1318.5 457.4" stroke="#e3e3e3" stroke-width="2.0" />
<path d="M1064.3 407.7L1318.5 407.7" stroke="#e3e3e3" stroke-width="2.0" />
<path d="M1111.7 496L1111.7 557.4" stroke="#e8615a" stroke-width="3.4" />
<path d="M1111.7 593.2L1111.7 605.5" stroke="#e8615a" stroke-width="3.4" />
<rect x="1081" y="557.4" width="61.4" height="35.8" fill="none" stroke="#e8615a" stroke-width="3.4" />
<path d="M1081 583.5L1142.4 583.5" stroke="#e8615a" stroke-width="7" />
<path d="M1111.7 503.1h0M1111.7 500.1h0M1111.7 497.2h0M1111.7 495.2h0M1111.7 492.2h0M1111.7 487.2h0M1111.7 485.2h0M1111.7 481.3h0M1111.7 477.3h0M1111.7 471.3h0M1111.7 469.3h0M1111.7 467.3h0M1111.7 465.4h0" stroke="#e8615a" stroke-width="4.6" stroke-linecap="round"/>
<path d="M1191.4 523.7L1191.4 562.1" stroke="#1fb34b" stroke-width="3.4" />
<path d="M1191.4 589.1L1191.4 605.5" stroke="#1fb34b" stroke-width="3.4" />
<rect x="1160.8" y="562.1" width="61.2" height="27" fill="none" stroke="#1fb34b" stroke-width="3.4" />
<path d="M1160.8 581.2L1222 581.2" stroke="#1fb34b" stroke-width="7" />
<path d="M1191.4 521h0M1191.4 518h0M1191.4 515.1h0M1191.4 512.1h0M1191.4 509.1h0M1191.4 507.1h0M1191.4 502.1h0M1191.4 489.2h0M1191.4 475.3h0" stroke="#1fb34b" stroke-width="4.6" stroke-linecap="round"/>
<path d="M1271.1 408.2L1271.1 478.8" stroke="#5b7fbf" stroke-width="3.4" />
<path d="M1271.1 559.5L1271.1 605.5" stroke="#5b7fbf" stroke-width="3.4" />
<rect x="1240.5" y="478.8" width="61.2" height="80.7" fill="none" stroke="#5b7fbf" stroke-width="3.4" />
<path d="M1240.5 526.8L1301.7 526.8" stroke="#5b7fbf" stroke-width="7" />
<path d="M1122.3 442.6L1237.8 442.6" stroke="#111" stroke-width="1.8" />
<text x="1176" y="441.5" font-size="23.5" text-anchor="middle" fill="#111" font-weight="bold">***</text>
<rect x="1064.3" y="398.6" width="254.2" height="217.1" fill="none" stroke="#333333" stroke-width="1.4" />
<path d="M1111.5 615.7L1111.5 622.2" stroke="#333" stroke-width="2.4" />
<path d="M1191.4 615.7L1191.4 622.2" stroke="#333" stroke-width="2.4" />
<path d="M1271.1 615.7L1271.1 622.2" stroke="#333" stroke-width="2.4" />
<path d="M1057.8 606.5L1064.3 606.5" stroke="#333" stroke-width="2.4" />
<text x="1053.3" y="613.9" font-size="19.2" text-anchor="end" fill="#4d4d4d">0.0</text>
<path d="M1057.8 556.8L1064.3 556.8" stroke="#333" stroke-width="2.4" />
<text x="1053.3" y="564.2" font-size="19.2" text-anchor="end" fill="#4d4d4d">2.5</text>
<path d="M1057.8 507.1L1064.3 507.1" stroke="#333" stroke-width="2.4" />
<text x="1053.3" y="514.5" font-size="19.2" text-anchor="end" fill="#4d4d4d">5.0</text>
<path d="M1057.8 457.4L1064.3 457.4" stroke="#333" stroke-width="2.4" />
<text x="1053.3" y="464.8" font-size="19.2" text-anchor="end" fill="#4d4d4d">7.5</text>
<path d="M1057.8 407.7L1064.3 407.7" stroke="#333" stroke-width="2.4" />
<text x="1053.3" y="415.1" font-size="19.2" text-anchor="end" fill="#4d4d4d">10.0</text>
<text x="1108" y="646.3" font-size="21.4" text-anchor="middle">0:Non</text>
<text x="1187.2" y="647.4" font-size="21.4" text-anchor="middle">1: Prolif</text>
<text x="1272" y="644.3" font-size="21.4" text-anchor="middle">2: Low</text>
<text x="1008" y="500" font-size="24.5" text-anchor="middle" transform="rotate(-90 1008 500)">%MT</text>
<text x="1352" y="388.8" font-size="43">f</text>
<path d="M1443.6 553.2L1711.3 553.2" stroke="#ececec" stroke-width="1.0" />
<path d="M1443.6 496.2L1711.3 496.2" stroke="#ececec" stroke-width="1.0" />
<path d="M1443.6 439.2L1711.3 439.2" stroke="#ececec" stroke-width="1.0" />
<path d="M1493.3 393.9L1493.3 612.6" stroke="#e6e6e6" stroke-width="1.2800000000000002" />
<path d="M1577.1 393.9L1577.1 612.6" stroke="#e6e6e6" stroke-width="1.2800000000000002" />
<path d="M1661.5 393.9L1661.5 612.6" stroke="#e6e6e6" stroke-width="1.2800000000000002" />
<path d="M1443.6 581.7L1711.3 581.7" stroke="#e3e3e3" stroke-width="1.6" />
<path d="M1443.6 524.7L1711.3 524.7" stroke="#e3e3e3" stroke-width="1.6" />
<path d="M1443.6 467.7L1711.3 467.7" stroke="#e3e3e3" stroke-width="1.6" />
<path d="M1443.6 410.7L1711.3 410.7" stroke="#e3e3e3" stroke-width="1.6" />
<path d="M1493.3 422.5L1493.3 475.3" stroke="#e8615a" stroke-width="3.4" />
<path d="M1493.3 513.5L1493.3 564.6" stroke="#e8615a" stroke-width="3.4" />
<rect x="1460.6" y="475.3" width="65.4" height="38.2" fill="none" stroke="#e8615a" stroke-width="3.4" />
<path d="M1460.6 494.3L1526 494.3" stroke="#e8615a" stroke-width="7" />
<path d="M1493.3 422.5h0M1493.3 420h0M1493.3 417.5h0M1493.3 415h0M1493.3 413h0M1493.3 406.2h0M1493.3 564.6h0M1493.3 567.2h0M1493.3 569.8h0M1493.3 572.4h0M1493.3 575h0M1493.3 577.6h0M1493.3 582h0M1493.3 585h0M1493.3 588h0M1493.3 590h0M1493.3 593.2h0" stroke="#e8615a" stroke-width="4.6" stroke-linecap="round"/>
<path d="M1577.6 405.2L1577.6 462" stroke="#1fb34b" stroke-width="3.4" />
<path d="M1577.6 499.2L1577.6 560.5" stroke="#1fb34b" stroke-width="3.4" />
<rect x="1545" y="462" width="65.2" height="37.2" fill="none" stroke="#1fb34b" stroke-width="3.4" />
<path d="M1545 479.2L1610.2 479.2" stroke="#1fb34b" stroke-width="7" />
<path d="M1577.6 405.2h0M1577.6 560.5h0M1577.6 563h0M1577.6 566h0M1577.6 571h0M1577.6 577.9h0" stroke="#1fb34b" stroke-width="4.6" stroke-linecap="round"/>
<path d="M1661.6 464.9L1661.6 527.4" stroke="#5b7fbf" stroke-width="3.4" />
<path d="M1661.6 586L1661.6 602.4" stroke="#5b7fbf" stroke-width="3.4" />
<rect x="1629.2" y="527.4" width="64.8" height="58.6" fill="none" stroke="#5b7fbf" stroke-width="3.4" />
<path d="M1629.2 551.3L1694 551.3" stroke="#5b7fbf" stroke-width="7" />
<path d="M1524.5 425.2L1639.6 425.2" stroke="#111" stroke-width="1.8" />
<text x="1578.2" y="424.5" font-size="23.5" text-anchor="middle" fill="#111" font-weight="bold">***</text>
<rect x="1443.6" y="393.9" width="267.7" height="218.7" fill="none" stroke="#555555" stroke-width="1.4" />
<path d="M1493.3 612.6L1493.3 618.1" stroke="#333" stroke-width="1.6" />
<path d="M1577.1 612.6L1577.1 618.1" stroke="#333" stroke-width="1.6" />
<path d="M1661.5 612.6L1661.5 618.1" stroke="#333" stroke-width="1.6" />
<path d="M1438.1 581.7L1443.6 581.7" stroke="#333" stroke-width="1.6" />
<text x="1434.1" y="588.1" font-size="16.6" text-anchor="end" fill="#4d4d4d">3.5</text>
<path d="M1438.1 524.7L1443.6 524.7" stroke="#333" stroke-width="1.6" />
<text x="1434.1" y="531.1" font-size="16.6" text-anchor="end" fill="#4d4d4d">4.0</text>
<path d="M1438.1 467.7L1443.6 467.7" stroke="#333" stroke-width="1.6" />
<text x="1434.1" y="474.1" font-size="16.6" text-anchor="end" fill="#4d4d4d">4.5</text>
<path d="M1438.1 410.7L1443.6 410.7" stroke="#333" stroke-width="1.6" />
<text x="1434.1" y="417.1" font-size="16.6" text-anchor="end" fill="#4d4d4d">5.0</text>
<text x="1493.3" y="645.3" font-size="21.4" text-anchor="middle">0:Non</text>
<text x="1572.5" y="646.3" font-size="21.4" text-anchor="middle">1: Prolif</text>
<text x="1656.8" y="643.7" font-size="21.4" text-anchor="middle">2: Low</text>
<text x="1392" y="503" font-size="24.5" text-anchor="middle" transform="rotate(-90 1392 503)">Log<tspan font-size="15" dy="5">10</tspan><tspan dy="-5"> nUMI</tspan></text>
<text x="1776" y="388.8" font-size="43">g</text>
<path d="M1868.3 602.1L2129.2 602.1" stroke="#ececec" stroke-width="1.0" />
<path d="M1868.3 538.5L2129.2 538.5" stroke="#ececec" stroke-width="1.0" />
<path d="M1868.3 474.9L2129.2 474.9" stroke="#ececec" stroke-width="1.0" />
<path d="M1868.3 411.3L2129.2 411.3" stroke="#ececec" stroke-width="1.0" />
<path d="M1916.7 393.5L1916.7 616.6" stroke="#e6e6e6" stroke-width="1.2800000000000002" />
<path d="M1998.4 393.5L1998.4 616.6" stroke="#e6e6e6" stroke-width="1.2800000000000002" />
<path d="M2080.1 393.5L2080.1 616.6" stroke="#e6e6e6" stroke-width="1.2800000000000002" />
<path d="M1868.3 570.3L2129.2 570.3" stroke="#e3e3e3" stroke-width="1.6" />
<path d="M1868.3 506.7L2129.2 506.7" stroke="#e3e3e3" stroke-width="1.6" />
<path d="M1868.3 443.1L2129.2 443.1" stroke="#e3e3e3" stroke-width="1.6" />
<path d="M1916.7 458.3L1916.7 515.5" stroke="#e8615a" stroke-width="3.4" />
<path d="M1916.7 554.3L1916.7 605" stroke="#e8615a" stroke-width="3.4" />
<rect x="1885.2" y="515.5" width="63" height="38.8" fill="none" stroke="#e8615a" stroke-width="3.4" />
<path d="M1885.2 536.3L1948.2 536.3" stroke="#e8615a" stroke-width="7" />
<path d="M1916.7 444.4h0M1916.7 448h0M1916.7 451h0M1916.7 453h0M1916.7 455h0M1916.7 456.5h0" stroke="#e8615a" stroke-width="4.6" stroke-linecap="round"/>
<path d="M1998.5 424.6L1998.5 486.9" stroke="#1fb34b" stroke-width="3.4" />
<path d="M1998.5 530.8L1998.5 587" stroke="#1fb34b" stroke-width="3.4" />
<rect x="1967" y="486.9" width="63" height="43.9" fill="none" stroke="#1fb34b" stroke-width="3.4" />
<path d="M1967 511L2030 511" stroke="#1fb34b" stroke-width="7" />
<path d="M1998.5 403.1h0" stroke="#1fb34b" stroke-width="4.6" stroke-linecap="round"/>
<path d="M2080.2 518.5L2080.2 562.5" stroke="#5b7fbf" stroke-width="3.4" />
<path d="M2080.2 597.2L2080.2 606.4" stroke="#5b7fbf" stroke-width="3.4" />
<rect x="2048.7" y="562.5" width="63" height="34.7" fill="none" stroke="#5b7fbf" stroke-width="3.4" />
<path d="M2048.7 585L2111.7 585" stroke="#5b7fbf" stroke-width="7" />
<path d="M1944.9 423.5L2059.9 423.5" stroke="#111" stroke-width="1.8" />
<text x="1998.5" y="423" font-size="23.5" text-anchor="middle" fill="#111" font-weight="bold">***</text>
<rect x="1868.3" y="393.5" width="260.9" height="223.1" fill="none" stroke="#555555" stroke-width="1.4" />
<path d="M1916.7 616.6L1916.7 622.1" stroke="#333" stroke-width="1.6" />
<path d="M1998.4 616.6L1998.4 622.1" stroke="#333" stroke-width="1.6" />
<path d="M2080.1 616.6L2080.1 622.1" stroke="#333" stroke-width="1.6" />
<path d="M1862.8 570.3L1868.3 570.3" stroke="#333" stroke-width="1.6" />
<text x="1858.8" y="576.7" font-size="16.6" text-anchor="end" fill="#4d4d4d">2000</text>
<path d="M1862.8 506.7L1868.3 506.7" stroke="#333" stroke-width="1.6" />
<text x="1858.8" y="513.1" font-size="16.6" text-anchor="end" fill="#4d4d4d">4000</text>
<path d="M1862.8 443.1L1868.3 443.1" stroke="#333" stroke-width="1.6" />
<text x="1858.8" y="449.5" font-size="16.6" text-anchor="end" fill="#4d4d4d">6000</text>
<text x="1920.7" y="646.6" font-size="21.4" text-anchor="middle">0:Non</text>
<text x="1999.5" y="648.3" font-size="21.4" text-anchor="middle">1: Prolif</text>
<text x="2084.8" y="645.2" font-size="21.4" text-anchor="middle">2: Low</text>
<text x="1807" y="503" font-size="24.5" text-anchor="middle" transform="rotate(-90 1807 503)">nGenes</text>
<text x="969" y="758" font-size="43">h</text>
<path d="M1083.7 816.9L1271.2 816.9" stroke="#ececec" stroke-width="1.1" />
<path d="M1083.7 861.3L1271.2 861.3" stroke="#ececec" stroke-width="1.1" />
<path d="M1083.7 905.7L1271.2 905.7" stroke="#ececec" stroke-width="1.1" />
<path d="M1083.7 950.1L1271.2 950.1" stroke="#ececec" stroke-width="1.1" />
<path d="M1083.7 994.5L1271.2 994.5" stroke="#ececec" stroke-width="1.1" />
<path d="M1118.1 760.2L1118.1 1016.8" stroke="#e6e6e6" stroke-width="1.6" />
<path d="M1177.3 760.2L1177.3 1016.8" stroke="#e6e6e6" stroke-width="1.6" />
<path d="M1236.1 760.2L1236.1 1016.8" stroke="#e6e6e6" stroke-width="1.6" />
<path d="M1083.7 794.7L1271.2 794.7" stroke="#e3e3e3" stroke-width="2.0" />
<path d="M1083.7 839.1L1271.2 839.1" stroke="#e3e3e3" stroke-width="2.0" />
<path d="M1083.7 883.5L1271.2 883.5" stroke="#e3e3e3" stroke-width="2.0" />
<path d="M1083.7 927.9L1271.2 927.9" stroke="#e3e3e3" stroke-width="2.0" />
<path d="M1083.7 972.3L1271.2 972.3" stroke="#e3e3e3" stroke-width="2.0" />
<path d="M1083.7 1016.7L1271.2 1016.7" stroke="#e3e3e3" stroke-width="2.0" />
<path d="M1093.7 992.5h0M1100.5 958.1h0M1097.8 995.5h0M1103.6 1004.3h0M1134.9 941.5h0M1129.6 1002h0M1125.4 934.1h0M1124.3 940.5h0M1097.9 972.9h0M1115.3 986.7h0M1109.9 930.4h0M1123.7 970.1h0M1131.5 988h0M1101.9 934.7h0M1134.1 983.3h0M1119.3 979.7h0M1130.3 966.1h0M1100.1 980.1h0M1129.9 988.9h0M1111.3 998.1h0M1111.5 981.8h0M1107 992.1h0M1112.1 975.4h0M1123.4 993.9h0M1120.2 992.5h0M1120.8 958.2h0M1127.3 982.6h0M1100.1 997.3h0M1094.3 1007.5h0M1129.5 963.1h0M1109.2 993.2h0M1115.6 995.5h0M1120.9 993h0M1112.2 975.3h0M1126.6 907.6h0M1098.5 992.9h0M1120.2 987.6h0M1135.4 989.4h0M1120.7 957.8h0M1135.9 950.1h0M1119.8 988.3h0M1137 991.8h0M1102.5 910h0M1136 1002.2h0M1133.7 950.3h0M1108 951h0M1100.3 990.6h0M1123.4 970.8h0M1093.8 975.1h0M1138.8 939.3h0M1125.4 982.5h0M1121.4 986h0M1097.1 951.7h0M1094.5 981.3h0M1115.7 980.6h0M1123.2 988.5h0M1113.1 989.8h0M1139.7 992.2h0M1105.8 975.3h0M1131.1 977.6h0M1097.4 994.1h0M1134 933.3h0M1104.3 927.1h0M1134.5 928.3h0M1123.2 947.1h0M1132.8 982.6h0M1138.6 910.9h0M1102.5 976.4h0M1128.7 975.3h0M1105.8 900.6h0M1095 895.8h0M1114.9 979.3h0M1096.7 976.5h0M1128.2 985.1h0M1123.7 968.7h0M1102.8 981.8h0M1120.4 893.4h0M1093.9 1003.3h0M1125.2 942.8h0M1115.1 976.7h0M1097 946.3h0M1098.4 988.1h0M1141.8 987h0M1116.8 995.7h0M1137.8 980.5h0M1131.1 943.1h0M1095.7 995h0M1130.3 988.6h0M1112.5 932.9h0M1100.8 994.5h0M1093.6 920.6h0M1095.5 984.7h0M1135.9 989.3h0M1122.2 964.8h0M1110.9 921.9h0M1133 981.8h0M1099.8 988.4h0M1134.4 983.4h0M1111.2 997.6h0M1138.6 968.7h0M1129.7 955.1h0M1120 925.9h0M1124.9 901.6h0M1113.4 990.2h0M1132.2 984.3h0M1142.6 988.2h0M1109.5 980.8h0M1143 878.9h0M1121.8 988.4h0M1109.4 1000h0M1100.6 910.1h0M1140.5 985.2h0M1099.1 955.3h0M1141.6 991.5h0M1113.6 978h0M1138 935.5h0M1138.6 976.4h0M1095.4 946.3h0M1125.1 946.4h0M1093.7 955.7h0M1113.7 993.9h0M1137.1 991.1h0M1139.5 903.4h0M1101.2 988.6h0M1138.5 966.5h0M1121.2 834.7h0" stroke="#ee6b64" stroke-width="4.3" stroke-linecap="round" stroke-opacity="0.3"/>
<path d="M1098.7 999.6h0M1130.1 917.1h0M1094.1 990.5h0M1103.9 985.4h0M1142.5 996.6h0M1102.8 971.2h0M1134.9 998.1h0M1120.4 988.1h0M1113.1 937.4h0M1132.5 979.1h0M1128.8 942.5h0M1124.9 994.4h0M1105.8 981.9h0M1095.4 948.7h0M1108 915.2h0M1129 921.9h0M1140.2 984.9h0M1112.1 985.6h0M1134.5 981.1h0M1113.2 991h0M1131.7 1000.9h0M1102.2 972.1h0M1131 978.3h0M1135.4 997h0M1140.2 984.7h0M1104.2 988.2h0M1109.3 977.8h0M1095.5 983h0M1133.2 934.5h0M1110 992.9h0M1112.6 972.3h0M1113.2 954.1h0M1132.3 981.1h0M1104.5 990.4h0M1110.2 960.4h0M1132.4 992.9h0M1117.4 979.8h0M1120.6 921.7h0M1122.7 982.5h0M1141.9 991.7h0M1134 968.1h0M1110.9 967.9h0M1099.9 920.4h0M1132.4 991h0M1135.5 990.1h0M1134.2 978.6h0M1141.8 988.4h0M1139.3 959.4h0M1121.1 982.8h0M1126.1 994.2h0M1126.2 1000.6h0M1142.2 963.2h0M1122.8 987.3h0M1105.1 924.7h0M1101 926.1h0M1106.8 921.1h0M1116.4 901.3h0M1101.6 975.6h0M1096.6 981.9h0M1112.2 994.9h0M1096.8 898.2h0M1142.9 1003.3h0M1116.6 989.5h0M1142.9 963.4h0M1136.7 908.2h0M1126.2 997.2h0M1133.9 995.1h0M1138.6 971.5h0M1103.6 994.9h0M1100.2 994.6h0M1108.1 981.5h0M1122.6 967h0M1134.6 983h0M1093.1 991.7h0M1130.2 989.7h0M1097.6 991.9h0M1105 992.4h0M1133.8 1001h0M1111.2 977.1h0M1129.7 936.6h0M1134.1 940.9h0M1099.5 904.7h0M1132.5 898.6h0M1139.5 925.1h0M1117.8 999.7h0M1123.2 991.9h0M1106.7 977h0M1098.6 989.8h0M1138.8 973.7h0M1141.9 903.5h0M1141.3 981.6h0M1116.4 968.3h0M1107.1 943.5h0M1095.7 972.5h0M1118.5 951.3h0M1095.3 975.5h0M1102.5 963.6h0M1120.2 966.2h0M1142 934h0M1136.1 929.9h0M1128.4 951.2h0M1110.6 916.6h0M1132.4 967.7h0M1123.4 986.1h0M1138.8 981.6h0M1141.8 986h0M1109.3 979.1h0M1142.9 993.3h0M1104.7 981.1h0M1115.8 977.6h0M1105.9 979.2h0M1118.4 943h0M1103.4 971.6h0M1093.8 996.6h0M1136.6 984h0M1118.3 992.4h0M1139.4 980.4h0M1127.9 983.8h0M1114.6 980.6h0M1116.5 948.2h0M1104.7 944.8h0M1118.3 954.5h0M1122.2 908.5h0M1131 981.9h0M1126.9 972.6h0M1130.9 830.2h0" stroke="#ee6b64" stroke-width="4.3" stroke-linecap="round" stroke-opacity="0.3"/>
<path d="M1112.7 983.6h0M1126.2 949.1h0M1140.1 970.5h0M1122.3 920.9h0M1094.6 966.7h0M1125.1 998.6h0M1141.2 986.1h0M1126.8 989.9h0M1138.6 945.2h0M1121.2 997.4h0M1135.8 988.9h0M1095 990.4h0M1131.4 1001.6h0M1099.3 997.5h0M1102.3 978.1h0M1116.2 931.7h0M1127.6 957.2h0M1108.5 945.3h0M1094.7 993.1h0M1134 949.3h0M1096.4 1001.2h0M1094.8 950.5h0M1108.1 985.6h0M1120.1 969.3h0M1126.8 953.4h0M1113.6 997.5h0M1142.3 954.4h0M1108.7 997.1h0M1115.1 990.1h0M1101.5 994.7h0M1114 914.2h0M1133.9 989.7h0M1115.8 923.9h0M1110.2 919.6h0M1102.4 988.9h0M1106.4 996h0M1110.7 992.7h0M1131.8 999.7h0M1131.5 988.6h0M1106 994.2h0M1136.6 928.5h0M1112.6 910.8h0M1136 998h0M1096.7 914.4h0M1110.5 975.9h0M1096.4 983.6h0M1136.2 979.6h0M1111.1 906.8h0M1139.3 979.4h0M1117.6 993.2h0M1140.8 935.5h0M1095.2 999.6h0M1122.5 998.8h0M1127.5 985h0M1123.2 939.1h0M1094.9 962.7h0M1120.9 993.5h0M1110.1 996.3h0M1126.6 970.6h0M1136.5 920h0M1099.8 983.3h0M1095.6 986.4h0M1127.4 988.9h0M1123.4 993.2h0M1127.6 978.2h0M1123.3 908.4h0M1105.6 975.5h0M1094 915.8h0M1109 989.6h0M1132.9 962.6h0M1110.9 993h0M1124.5 936.1h0M1108.5 993.8h0M1097.3 986.4h0M1134.9 979.5h0M1121.6 962.6h0M1138.6 984h0M1109.5 985.1h0M1103 958h0M1121.1 983.4h0M1127.7 1001.3h0M1094.4 994.5h0M1108.1 984.9h0M1130.9 984.2h0M1099.9 984.3h0M1107.3 990.9h0M1096.4 988.2h0M1128.8 984.6h0M1102 979.3h0M1131.2 999.1h0M1111.9 904.1h0M1138 980.5h0M1141.3 1005.2h0M1126.4 904.7h0M1102.2 932.3h0M1113.7 936.9h0M1108.4 925.3h0M1138.1 1003.1h0M1122.5 926.7h0M1112.5 975.9h0M1104.9 910.7h0M1099.1 901.8h0M1140.2 953.5h0M1141.4 984.9h0M1113.6 967.2h0M1135.7 960.4h0M1121.6 982.5h0M1128.8 987.3h0M1103.6 970.5h0M1142.6 937.2h0M1107.1 1006.2h0M1142.2 981.2h0M1098.4 977.4h0M1142.5 986.5h0M1093.3 909.9h0M1114.5 1000.5h0M1094.2 989.7h0M1105.1 978.7h0M1105.8 959.5h0M1098.1 998h0M1109.6 994.1h0M1103.1 995.9h0M1110.2 1003.9h0M1098.8 917.4h0M1093.9 871.5h0M1138.1 852.4h0" stroke="#ee6b64" stroke-width="4.3" stroke-linecap="round" stroke-opacity="0.3"/>
<path d="M1127.3 1003.4h0M1099.9 989.4h0M1113.2 983.7h0M1120.5 993.8h0M1129.9 983.9h0M1104.1 965.2h0M1141.9 990.1h0M1097.8 926.7h0M1125.6 920.6h0M1099 992.5h0M1116.9 987.4h0M1098.7 945.9h0M1142.4 902.2h0M1136.4 1000.3h0M1115.8 980.2h0M1129 956.9h0M1122.1 993.7h0M1114.4 945h0M1123.8 927.9h0M1112.3 942.4h0M1105.6 1001.2h0M1117.2 955h0M1138.7 933.2h0M1109.1 908.2h0M1119.1 984.3h0M1134.3 981.8h0M1132.9 974.7h0M1095.3 996.1h0M1117.1 910.4h0M1097.6 975h0M1140.3 996.3h0M1129.9 985.4h0M1100 991.3h0M1141.1 987.3h0M1104.4 959.4h0M1132.1 981.7h0M1127.7 983.9h0M1099.1 974.5h0M1106.3 946.7h0M1096.8 987.3h0M1100.2 995.9h0M1138 987.7h0M1101.2 889.2h0M1138 878.9h0M1102.1 992.1h0M1113.3 968.4h0M1128.4 990.7h0M1113.8 987.6h0M1121.5 974.4h0M1110.3 1000h0M1141.5 989.8h0M1116.2 969.4h0M1127.1 994.4h0M1142 997.5h0M1112.7 1003.2h0M1140.1 925.4h0M1115.4 933.7h0M1140.6 1004.7h0M1117.4 945.9h0M1095.3 992.3h0M1111.9 917.1h0M1101.4 994.4h0M1104.4 968h0M1105.6 918.9h0M1112.7 980.8h0M1112.9 973.4h0M1118 990.1h0M1137.1 920.3h0M1097.8 987.9h0M1137.4 984.3h0M1129.8 958.4h0M1134.2 983.2h0M1139.1 903.2h0M1122.3 988.4h0M1098.4 918.7h0M1142.9 996h0M1114 902.1h0M1129.5 999.7h0M1107.4 986.2h0M1135.7 996.4h0M1118.6 993.3h0M1102.6 992.1h0M1117.3 970.8h0M1125.9 975.8h0M1119.7 983.7h0M1138.4 991.7h0M1102.4 888.9h0M1093.6 992.7h0M1116 912.7h0M1123 974.5h0M1106.5 979.5h0M1140.1 985.3h0M1138.1 993.4h0M1133.2 991.6h0M1104.3 989.2h0M1119.7 970.6h0M1119 988h0M1119.1 935.9h0M1140.6 990.8h0M1096.8 980.2h0M1112.4 991.6h0M1115.2 903.3h0M1100 987.3h0M1094.2 983.1h0M1120.6 987.7h0M1114.8 951.5h0M1113.9 975.8h0M1129.6 994h0M1112.5 988.8h0M1139.4 975.3h0M1120.1 982.3h0M1108.5 984.7h0M1131.8 995.7h0M1117.3 984.6h0M1136.6 1005.3h0M1133.7 899.8h0M1111.4 975h0M1125.7 985.1h0M1096.3 978.8h0M1123.8 942.6h0M1102.6 998.6h0M1118.6 995.7h0M1094.8 972.5h0M1099.6 999.8h0M1126.3 923.5h0M1125 861.3h0" stroke="#ee6b64" stroke-width="4.3" stroke-linecap="round" stroke-opacity="0.3"/>
<path d="M1100 987.8h0M1119.9 971.5h0M1103 923.9h0M1140.8 968.9h0M1136.5 920h0M1095.2 948.5h0M1142.8 978.9h0M1102.7 1000.7h0M1142.7 997.3h0M1098 978.6h0M1118 961.3h0M1100 991.2h0M1110.5 986.3h0M1095.6 940.1h0M1127.8 957.7h0M1116.4 940.2h0M1101.4 992h0M1128.7 989.5h0M1137.9 997.6h0M1103 993.6h0M1124.3 988.8h0M1108 945.2h0M1122.1 894.4h0M1097.9 970.4h0M1136 989.6h0M1105.2 944h0M1096.2 942.4h0M1113.5 971.6h0M1117 974.5h0M1136.1 983h0M1127.3 903.6h0M1138.6 995.4h0M1122.4 998.3h0M1114.2 990.1h0M1106.1 967.2h0M1114.7 966.2h0M1117.2 970.4h0M1128.5 998.7h0M1120.3 920.9h0M1123.8 987.2h0M1115.8 906.9h0M1134.3 988.6h0M1128.5 976.1h0M1124.9 906h0M1096.8 947.9h0M1118.8 924.9h0M1138.1 988.4h0M1129 984.3h0M1100.5 994.1h0M1101.1 948h0M1116.4 992.9h0M1109.9 971.2h0M1131.9 979.9h0M1140.3 982.8h0M1127.4 989.7h0M1127.9 933.3h0M1140.8 986.9h0M1123.4 898.5h0M1108.3 930.9h0M1121.4 947.1h0M1134.6 979h0M1114.8 930.6h0M1119.2 975.5h0M1104.2 992.4h0M1122.4 975.7h0M1110.7 935.3h0M1130.3 973.4h0M1126.6 971.7h0M1124.5 988h0M1133.5 942.2h0M1109.9 906h0M1121.3 945.4h0M1111.7 1000.1h0M1108.5 958.5h0M1134.5 931.5h0M1117.4 967.6h0M1142.3 958.9h0M1135.2 1003.5h0M1094.1 937.1h0M1120.6 986.4h0M1138.8 912h0M1131.9 988.6h0M1111.5 867h0M1134.7 980.7h0M1117.9 944.7h0M1105.9 975.4h0M1110.9 971.3h0M1110.9 972.8h0M1106.2 965.5h0M1099.9 977.6h0M1124.9 932h0M1110.6 993.2h0M1141.6 925.8h0M1125.2 891h0M1142 926.2h0M1105 895.2h0M1105.8 960.3h0M1136.1 971.4h0M1097.8 909.9h0M1141.8 998.9h0M1112.3 1000.6h0M1122.9 993.9h0M1129.5 973.5h0M1120.6 982.8h0M1107.8 898.6h0M1140 967h0M1141 986.6h0M1112.1 988.7h0M1110.4 981.4h0M1123.9 990.1h0M1137.5 997.2h0M1120.7 977.3h0M1117.8 990.8h0M1099 958.4h0M1101 940.7h0M1114.7 999.1h0M1128 951.6h0M1102.6 964h0M1140.5 907.8h0M1108.5 890.3h0M1108.2 861.8h0M1100.6 996.7h0M1102.1 935.6h0M1102.9 978.8h0M1108.6 985.4h0M1115 770.3h0" stroke="#ee6b64" stroke-width="4.3" stroke-linecap="round" stroke-opacity="0.3"/>
<path d="M1098.7 987.1h0M1115.5 973.3h0M1109.6 870h0M1135 976.1h0M1125.7 994.1h0M1109.9 971.4h0M1132.6 997.8h0M1139.2 1002.9h0M1102.9 969.2h0M1142.2 984.4h0M1132.5 990.4h0M1129.4 976.9h0M1093.7 994.8h0M1123.8 998.1h0M1119.3 858.8h0M1099.8 936.3h0M1135.8 973.7h0M1120.2 998.6h0M1106 997.1h0M1103.8 974.9h0M1117.1 985.6h0M1116.8 979.8h0M1113.3 968.1h0M1121.8 916.1h0M1108.5 946.7h0M1128.4 978.4h0M1105.5 924.3h0M1120 943.2h0M1127.4 949.2h0M1095.9 978.4h0M1135 994.1h0M1130 982.4h0M1136.7 991.1h0M1108.8 938.4h0M1138.4 988.7h0M1097 979.7h0M1096.2 938.3h0M1123.6 937.4h0M1132.4 945.4h0M1100.5 987.6h0M1102.1 945.3h0M1109.9 991.3h0M1130 986h0M1107.6 993.3h0M1113.8 919.1h0M1101.2 992.3h0M1109.4 987.3h0M1137.2 999.4h0M1127.7 965.4h0M1116.5 987.2h0M1128.9 980h0M1133.3 992.5h0M1116.3 949.6h0M1107.2 915.6h0M1141 951h0M1124.4 918h0M1116.5 921.3h0M1111.7 993.3h0M1115.1 967.8h0M1100.8 964.7h0M1107.6 989.3h0M1142.7 960.8h0M1134.3 933h0M1095.9 930.5h0M1097.2 941.2h0M1112.3 989.9h0M1103.1 983.8h0M1113 984.2h0M1114.3 987.4h0M1121 991.5h0M1131.3 940.4h0M1103.7 954.7h0M1140.7 922.5h0M1113.4 957.2h0M1130.3 992.4h0M1106.9 919.3h0M1118.6 987.2h0M1113.2 990.8h0M1124.9 957.9h0M1126.7 909.7h0M1102.2 987.2h0M1117 997.8h0M1104.7 1005.9h0M1140.7 997h0M1142.9 954.7h0M1136 987h0M1121.8 994.3h0M1139.5 899.7h0M1107.9 919h0M1099.7 978.1h0M1138.8 979.6h0M1136.1 960.9h0M1113.5 917.6h0M1138.2 991.3h0M1115.2 989h0M1131.3 973.6h0M1118.8 937.3h0M1123.6 983.3h0M1120.1 926.6h0M1103.4 968.7h0M1128.3 960.3h0M1127.5 997.5h0M1115.5 967.1h0M1143.1 970.3h0M1143 988.2h0M1136 935.1h0M1093.1 933.8h0M1128 1000.4h0M1126.3 975.2h0M1141.3 983.6h0M1110.8 961.2h0M1124.6 932.5h0M1117.8 973.3h0M1094.6 970.3h0M1102.4 983.6h0M1108.7 958.4h0M1117.9 936h0M1100.1 986.4h0M1132.7 958.4h0M1132 917.7h0M1115.2 1001.1h0M1135.2 987.6h0M1135 992.3h0M1140.7 990.9h0M1104.2 986.4h0" stroke="#ee6b64" stroke-width="4.3" stroke-linecap="round" stroke-opacity="0.3"/>
<path d="M1104.7 896.9h0M1113.7 986h0M1111.3 940.4h0M1110.9 918h0M1104 992.2h0M1109.8 987.3h0M1108.4 890.9h0M1123.2 996.3h0M1115.8 992.8h0M1099.1 917.7h0M1107 995.1h0M1127.7 978.2h0M1111.9 982.1h0M1103.4 939.2h0M1136.1 993.9h0M1099.3 918.4h0M1099 937.1h0M1105.2 996.5h0M1103.2 981.4h0M1110.4 995.5h0M1118.1 987h0M1093.4 985.8h0M1132 1000.6h0M1102.5 947.2h0M1112.5 971.9h0M1095.5 988.9h0M1117.7 987.9h0M1115.1 996.4h0M1138.1 981.9h0M1121.6 996.7h0M1095 945.2h0M1138.6 986.1h0M1136.6 990.2h0M1106.7 999.4h0M1101.6 984.1h0M1097.8 986h0M1123.1 975.1h0M1135.6 986.3h0M1122.8 994.4h0M1141.6 952.5h0M1116.1 975.4h0M1118.1 982.8h0M1122.7 915.1h0M1101.5 1002.4h0M1108 986.4h0M1094.9 973.4h0M1105.6 979.7h0M1101.4 905.1h0M1125.6 991.3h0M1111.4 983.5h0M1111.9 923.1h0M1140.6 957.6h0M1120.6 993.4h0M1141.7 987.9h0M1099.5 946.6h0M1098.2 949.9h0M1127 1007.4h0M1137.2 984.6h0M1105.8 948.3h0M1099 956.8h0M1099.2 970.7h0M1120.1 982.3h0M1133.9 976.7h0M1139 983.2h0M1105.8 919.6h0M1095.6 967.1h0M1110.9 975.4h0M1107.5 988.3h0M1109 960.9h0M1129 953.5h0M1106 991.7h0M1115.1 940.5h0M1129.2 978.6h0M1128.4 986.4h0M1104.5 978.7h0M1101.6 969.4h0M1105.8 991.8h0M1118.6 928.2h0M1125.1 989.5h0M1123.1 941.4h0M1129.7 968.9h0M1095.5 988.8h0M1126 979.6h0M1106.6 974.5h0M1105.4 986.7h0M1137.5 945h0M1133.3 959.5h0M1136.8 995h0M1117.6 1002.6h0M1124.2 938.6h0M1110.6 911.7h0M1142.8 990.1h0M1127.4 980.9h0M1141.3 991.5h0M1116.5 932.4h0M1124.1 986.7h0M1110.4 970.2h0M1117.9 985.4h0M1108.9 983.3h0M1134.4 929.2h0M1127.1 962.5h0M1094.5 947.8h0M1122.6 979h0M1136.9 926.4h0M1102.3 932.5h0M1114.1 919.3h0M1123.3 985.4h0M1105.3 982.2h0M1116.3 994h0M1100.6 877.1h0M1109.3 997.5h0M1129.1 993.3h0M1094.9 961.7h0M1128.2 994.2h0M1109.9 912.4h0M1110.4 984.8h0M1129.9 944.3h0M1135.5 991.1h0M1130.8 985.6h0M1101.3 979.2h0M1112.7 956.1h0M1093.9 986h0M1096.9 940.5h0M1094 985.1h0M1099.8 974.4h0" stroke="#ee6b64" stroke-width="4.3" stroke-linecap="round" stroke-opacity="0.3"/>
<path d="M1131 981.2h0M1142.9 957h0M1140.9 981.4h0M1103.3 999.1h0M1132.9 981.8h0M1112.9 937.7h0M1101.9 965.3h0M1127.9 990.3h0M1133.1 986.2h0M1102.8 899.9h0M1111.7 994.8h0M1141.8 983.6h0M1107.2 994h0M1102.8 936h0M1113.2 991.2h0M1132.3 948.3h0M1114.3 983.8h0M1132 991.6h0M1133.8 907h0M1128 955.5h0M1139.9 953.1h0M1093.1 922.6h0M1104.8 896.1h0M1111.8 1006.2h0M1127 975.2h0M1140.8 976.9h0M1143 930.8h0M1100.2 925.8h0M1134.5 989.3h0M1138.6 969.3h0M1129.6 993.9h0M1114.5 931.7h0M1099.4 928.9h0M1115.1 878h0M1130.8 943.1h0M1133.1 995.4h0M1108.8 971h0M1137.3 941h0M1120.2 907.9h0M1116.8 995.3h0M1099.8 934.6h0M1126.3 926h0M1110.4 944.6h0M1098 884.4h0M1095.7 950.5h0M1096.8 983.4h0M1136.6 961.3h0M1106.3 979.9h0M1098.4 976h0M1104.7 902.8h0M1114.8 989.6h0M1116.7 991h0M1131.5 988.3h0M1107.1 979.5h0M1126 977.8h0M1138.1 912.7h0M1131.7 993.8h0M1099 980.8h0M1128.6 942.3h0M1121 911.3h0M1131.5 981.7h0M1137.3 916h0M1127.9 993.8h0M1121.7 994.5h0M1110.3 976.8h0M1111.1 987.7h0M1122.4 949.4h0M1136.5 928.9h0M1128.3 984.2h0M1136.3 927.3h0M1140.4 999.1h0M1121.2 970.2h0M1112.8 950.8h0M1116.8 894.6h0M1097.3 1001.8h0M1141.7 985h0M1102.4 940.6h0M1129.2 988.5h0M1131.8 980.3h0M1103.3 993.4h0M1118.3 943.6h0M1117.8 985.9h0M1094.3 970.8h0M1140.4 1001.7h0M1129 895.2h0M1119.7 978.1h0M1095.5 902.7h0M1095.7 999.7h0M1100 986.2h0M1123.8 987.9h0M1118.6 977.1h0M1108.3 912.5h0M1128.3 971.7h0M1125.1 990.9h0M1137.5 985.5h0M1135.5 989.3h0M1096.2 985h0M1140.1 993.1h0M1134 973h0M1122.7 898.8h0M1142.6 947.8h0M1103 944.5h0M1127.3 984.5h0M1105.6 1002.8h0M1128.2 977.6h0M1111.8 989.7h0M1114.6 903.1h0M1133.9 977.2h0M1094.8 983h0M1103.4 904.6h0M1116.7 910.3h0M1135 991.6h0M1133.1 1003.6h0M1133.1 952.1h0M1109.6 916h0M1122.2 985.1h0M1140 931.5h0M1125.9 989.5h0M1097 977.4h0M1118 983h0M1126.1 979.5h0M1107.2 971.7h0M1127.8 981.7h0M1117 902.1h0M1098.8 950.9h0" stroke="#ee6b64" stroke-width="4.3" stroke-linecap="round" stroke-opacity="0.3"/>
<path d="M1198 991h0M1186.3 925.5h0M1159 916.2h0M1194.9 921h0M1199.8 916.3h0M1177 890.5h0M1163.3 954.1h0M1169.2 941.1h0M1197.5 956.5h0M1156.4 905.2h0M1190.7 884h0M1153.5 900.5h0M1173.1 926.5h0M1188.4 871.7h0M1172.2 910.9h0M1173.5 999.2h0M1185 992.3h0M1156.7 843.4h0M1181.9 927.7h0M1201 942.9h0M1184.6 938.9h0M1162.5 986h0M1160.1 895.5h0M1171.5 906.6h0M1166.6 995.2h0M1169.3 933.2h0M1178.4 899.1h0M1167.4 908h0M1181.6 920.9h0M1188.8 898.4h0M1195.6 946.2h0M1182.9 906.3h0M1161.5 879.4h0M1158.6 921.1h0M1195.4 916.2h0M1159 926.5h0M1197.2 925.6h0M1196.6 932.4h0M1189.8 906h0M1190.9 871h0M1195.7 891.1h0M1169.7 993.9h0M1162.8 938.1h0M1159.3 910.9h0M1152.3 906h0M1169.8 931.1h0M1186 996.3h0M1165 875.1h0M1194.3 903.2h0M1183.6 987.5h0M1178.9 928.9h0M1191 876.4h0M1159.8 895.2h0M1165.9 964.3h0M1171.6 905.2h0M1164.1 904.9h0M1155.5 955.9h0M1158 930.4h0M1185.6 914.5h0M1187.2 897.5h0M1200.5 935.1h0M1182.4 908.1h0M1193.5 899.7h0M1199.6 887.8h0M1169.1 855.7h0M1186.4 919.5h0M1190.5 969.3h0M1196.7 911.3h0M1168.4 896.5h0M1159.9 939.9h0M1189.3 915.4h0M1191.6 856.1h0M1157.2 938.4h0M1160.3 978h0M1159.1 989h0M1190.5 903.9h0M1171.8 961.9h0M1168.9 990.7h0M1152.6 990.8h0M1192.1 992.2h0M1175 955.8h0M1192.9 996.7h0M1200.3 887.4h0M1157.8 889.2h0M1164.1 989.2h0M1183 860.6h0M1177.2 871.7h0M1182.1 995.4h0M1193.7 987.2h0M1181.5 888.7h0M1192.2 921.4h0M1195.6 907.5h0M1185.7 885.8h0M1174.3 936.9h0M1191.9 876h0M1166.7 926.5h0M1184.8 892.4h0M1202 914.6h0M1156.7 864.8h0M1182.4 906h0M1188.1 840.9h0M1188.9 913.2h0M1163.9 905.9h0M1197.4 918.3h0M1174.3 921.6h0M1176 935.3h0M1186.2 899.8h0M1177.7 904.3h0M1191.1 882.5h0M1159.6 936.3h0M1183.4 882.5h0M1188.1 985.7h0M1163.2 899.9h0M1191.4 901.3h0M1181.2 918.5h0M1154.5 939.9h0M1173.1 871.8h0M1188.6 889.1h0M1194.4 926.8h0M1153.3 885.3h0M1193.8 933.3h0M1180.4 877.4h0M1182 934.9h0M1175 926.2h0M1168 874.4h0M1196.4 816.9h0" stroke="#3cbf56" stroke-width="4.3" stroke-linecap="round" stroke-opacity="0.3"/>
<path d="M1160.8 985h0M1186.8 947.3h0M1186.9 916.1h0M1193.4 912.7h0M1202.2 1000.2h0M1173.5 905.5h0M1179 936.7h0M1159.7 899.1h0M1199.9 875.1h0M1158.1 878.5h0M1188.9 929.8h0M1153.9 983.8h0M1181.6 915.1h0M1199.7 899.3h0M1152.5 900.8h0M1179 930.3h0M1177.7 927.8h0M1173.6 987.5h0M1161.4 985.7h0M1181.1 913h0M1199.7 948.3h0M1169.2 883.8h0M1162.4 913.1h0M1197 999.8h0M1172 992.8h0M1187.9 873.8h0M1154.1 949.4h0M1192.6 902.9h0M1168.7 998.2h0M1185.2 939.6h0M1165.6 899.3h0M1179.5 873.1h0M1157.8 905.4h0M1174.6 888.9h0M1201.3 979.3h0M1195.3 948.7h0M1187.9 986.1h0M1198.8 882.6h0M1189.7 908h0M1159.1 855.9h0M1190.7 959.5h0M1156.8 881.2h0M1196.5 1005.4h0M1197.1 933.3h0M1201.7 932.6h0M1182.6 969.2h0M1182.7 900.3h0M1159.9 984.2h0M1201.1 991.7h0M1201 997.9h0M1192.7 927h0M1197.2 932.1h0M1160.6 944.2h0M1161.8 931.8h0M1183.8 883.9h0M1169.8 896.6h0M1161.9 937.6h0M1168.4 905.5h0M1172 918h0M1179.1 940.1h0M1158.7 908.5h0M1190.8 898.4h0M1167.7 900.9h0M1200.8 829h0M1198.7 917h0M1152.6 867.6h0M1152.4 936.8h0M1173.2 935h0M1169.9 879.7h0M1158.6 927.9h0M1186.5 915.9h0M1161.1 985.7h0M1164.6 911.5h0M1182.2 888.4h0M1159.3 953.2h0M1161.3 922.8h0M1190.3 885.6h0M1181.7 945.8h0M1196.4 950h0M1199.9 1005.4h0M1187.3 922.4h0M1165.3 842.7h0M1173 990.1h0M1193.6 914h0M1176.7 925.9h0M1180.1 988.6h0M1172.1 914.6h0M1182.1 860.8h0M1187.9 935.7h0M1187.1 920h0M1155.5 877.9h0M1166.5 921.4h0M1168.1 901.1h0M1154.8 934.1h0M1179.8 885.2h0M1155.4 878.8h0M1183.1 917.2h0M1188.2 849.2h0M1183.9 893.6h0M1200 902h0M1174.5 1000.5h0M1179.8 929.1h0M1172.6 930.4h0M1183.7 884.2h0M1158.6 893.8h0M1196 889.3h0M1166 909.1h0M1178.8 915.4h0M1189.4 895.2h0M1178.2 889.5h0M1185.3 890.7h0M1175.7 914.6h0M1175.3 903.4h0M1167.4 901.3h0M1191.7 943.4h0M1161 938.7h0M1168.1 866.5h0M1175.3 875.7h0M1154.5 973.2h0M1158.7 885.3h0M1175.4 893.6h0M1191.8 947.1h0M1197.6 936.3h0M1199.9 933h0M1177.7 883.9h0M1161.1 825.8h0" stroke="#3cbf56" stroke-width="4.3" stroke-linecap="round" stroke-opacity="0.3"/>
<path d="M1198.5 935h0M1186.2 1004.5h0M1175.9 931h0M1164.5 984.6h0M1191.1 910.2h0M1196.6 902.8h0M1180.3 884.4h0M1191.4 890h0M1188.2 933.4h0M1155.8 929.6h0M1184.3 911.2h0M1156 922h0M1169.2 924.2h0M1155.4 918.5h0M1162.4 984.4h0M1170.6 985.8h0M1179.2 866.7h0M1161.7 917.1h0M1161.8 984.3h0M1159.4 906.5h0M1194.8 911.4h0M1155.9 983.4h0M1190.9 932.4h0M1188.1 856.1h0M1166.6 919.4h0M1198 902h0M1155.8 884.5h0M1163.9 860.4h0M1200.4 938.6h0M1163.9 988.3h0M1188.3 929.4h0M1175.3 996.8h0M1197.2 948.3h0M1164.9 911.9h0M1179.4 952.3h0M1194.5 896.6h0M1165.3 906.6h0M1167.8 918h0M1176.5 941.9h0M1168.2 951h0M1191.9 902.9h0M1185.8 916.2h0M1199.7 886.1h0M1198.8 915.5h0M1164.6 940.8h0M1193.1 913.5h0M1165.9 880.7h0M1189.5 883.8h0M1172.2 933.1h0M1160.3 876.7h0M1196.8 915.3h0M1192.7 999.4h0M1172.9 916.2h0M1159.3 918.9h0M1177.7 990.8h0M1158.4 909.9h0M1191.8 997.3h0M1182.5 900.9h0M1154.9 887.8h0M1175.9 911.1h0M1163.7 987.8h0M1164.7 898.6h0M1153 965h0M1188.9 919.5h0M1167.5 901.6h0M1154.3 898.2h0M1177.1 901h0M1167.5 908.2h0M1164.5 937.6h0M1185.9 955.3h0M1157 884.2h0M1171 909.6h0M1200.8 975.3h0M1177.4 926.2h0M1199.7 900.5h0M1160.4 961.3h0M1172.2 1003.3h0M1177.6 915.9h0M1201.4 900.5h0M1183.8 993.1h0M1163.5 943.7h0M1158.5 918.9h0M1199.2 907.1h0M1172.7 883.3h0M1183.9 843.2h0M1167.3 926.3h0M1174.2 985.3h0M1190.6 893.8h0M1199.8 939.3h0M1172.8 997h0M1196.2 891.8h0M1188.9 905.5h0M1153.1 919.2h0M1196.7 915.6h0M1158 906.6h0M1197.4 940.3h0M1156.8 904.4h0M1191.1 926.1h0M1177.9 907.7h0M1158.8 984.6h0M1160.8 891h0M1174.3 979.8h0M1162.6 923.2h0M1189.9 941.7h0M1173.2 925.7h0M1165.6 945.4h0M1201.9 924.1h0M1191.2 916.6h0M1183.9 882h0M1195.7 940.5h0M1184.9 868.1h0M1182.8 904.1h0M1201 873.4h0M1170 995.7h0M1157.6 904.6h0M1175.7 932.1h0M1156 884.5h0M1176.7 875.6h0M1178.5 994.4h0M1176.5 951h0M1155.6 1001.2h0M1182.4 908.1h0M1156.8 961.2h0M1154.6 994.5h0M1181.5 905.5h0M1163.8 821.3h0" stroke="#3cbf56" stroke-width="4.3" stroke-linecap="round" stroke-opacity="0.3"/>
<path d="M1201.4 887.6h0M1176.5 936.8h0M1198.4 942.8h0M1173.4 937.2h0M1158.2 919.4h0M1194.7 888.6h0M1166.5 982h0M1192.4 922.9h0M1186.7 930.4h0M1187.6 933h0M1162.2 938.1h0M1168.1 936.8h0M1165.9 898.3h0M1158 916.8h0M1159.7 923.1h0M1175.5 882.3h0M1154.6 871.9h0M1173 938.5h0M1177 937.8h0M1180.9 930.4h0M1190.1 908.1h0M1200.2 917.4h0M1176.5 879.3h0M1175.2 889.7h0M1171.2 908.2h0M1197.4 912.6h0M1195.2 897.4h0M1181.5 953.7h0M1168.8 993.1h0M1175 991.7h0M1201.6 882.2h0M1181.7 1000.3h0M1193.7 900.2h0M1173.8 897.4h0M1189.9 892.5h0M1156.8 909.4h0M1176.9 915.4h0M1186.2 952.8h0M1179.4 928.9h0M1180.8 922.5h0M1199.8 856.6h0M1195.7 901.9h0M1184.9 927.6h0M1157.5 984.6h0M1179.9 924.4h0M1196.7 900.9h0M1165.8 868.4h0M1182.7 900h0M1192.1 916h0M1165.1 917.7h0M1182.2 897.6h0M1158.9 930.5h0M1184.5 918.5h0M1161.2 893.9h0M1158.9 887.3h0M1154.3 922.1h0M1185.5 963.9h0M1196.2 984.4h0M1197.9 892h0M1182.8 989.6h0M1193.8 889.5h0M1184.1 998h0M1187.2 996.6h0M1173.5 934.4h0M1188.2 885.4h0M1161.2 859.6h0M1163.7 932h0M1182.6 875.4h0M1157.4 895.9h0M1162.3 904.8h0M1169.8 954.9h0M1155.2 907.2h0M1173.9 962.1h0M1177.5 884.3h0M1163.5 902.4h0M1158.4 938.5h0M1168.4 917.3h0M1172.1 909.6h0M1161.2 926h0M1191.5 989.7h0M1197.3 944.6h0M1189.1 891h0M1188.9 891.4h0M1166.3 872.9h0M1190.3 999.1h0M1168 902.3h0M1185.3 871.8h0M1169 874.5h0M1188.4 922.2h0M1183.2 917h0M1186.6 895.9h0M1166.9 921.6h0M1177.3 946.5h0M1192.5 896.1h0M1196.7 971.2h0M1189.3 950.5h0M1183.3 997.1h0M1156 927.8h0M1181.4 985.8h0M1167.7 906.4h0M1182.6 910.8h0M1152.6 894.8h0M1177.3 894.1h0M1168.7 991.5h0M1158 927.1h0M1177.7 988.9h0M1156.2 952.8h0M1162.4 897.4h0M1165.6 880h0M1161.9 935.5h0M1184.1 953.7h0M1194 857.3h0M1190.4 853h0M1196.3 925.7h0M1195.8 956.4h0M1175.1 905.1h0M1182.3 961.8h0M1197.8 947.7h0M1191 912.2h0M1162.9 899.1h0M1202.3 931.3h0M1168.5 890.7h0M1187.3 926.4h0M1175.9 899.9h0M1186.3 916.2h0" stroke="#3cbf56" stroke-width="4.3" stroke-linecap="round" stroke-opacity="0.3"/>
<path d="M1179.3 916.9h0M1161.7 883.9h0M1173.4 873.6h0M1190.4 867.8h0M1193.2 894.8h0M1167.2 995h0M1189.5 901.7h0M1174.3 993h0M1172.5 916.7h0M1176.4 986.1h0M1179.5 902.9h0M1184.3 943.1h0M1160.9 948h0M1185 901.9h0M1159.5 947h0M1191.8 902.9h0M1166.6 888.7h0M1182.2 900.9h0M1155.9 953.4h0M1186.3 909h0M1166.9 900.3h0M1171.2 908.8h0M1180.2 919.1h0M1179.9 930.3h0M1193.5 909.3h0M1180.4 921.8h0M1186.3 892.6h0M1194.9 872h0M1195.4 885.8h0M1156.1 984.4h0M1186.6 949.9h0M1177.7 990.7h0M1192.4 904.3h0M1197.3 919.4h0M1158 913.3h0M1183.6 902h0M1180.5 882h0M1183.9 926.7h0M1153.1 856.8h0M1176 889.4h0M1162.5 923.2h0M1161.5 939.2h0M1199.2 921.5h0M1162.8 951.6h0M1188.2 905.6h0M1197.3 929.4h0M1199.5 880.5h0M1169.7 992.9h0M1172.2 903.3h0M1179.4 889.1h0M1177.4 900.3h0M1197.2 972.9h0M1157.4 901.4h0M1200.8 992h0M1179 911.2h0M1181.7 939h0M1180.1 939.3h0M1162.3 932.5h0M1163.2 901.2h0M1158.7 902.2h0M1153.9 897h0M1163.5 846.6h0M1158.6 946h0M1180.2 922.6h0M1197.4 961h0M1181 912.6h0M1168.4 936.1h0M1197.2 919.4h0M1166.2 897.9h0M1199.3 940.6h0M1186.1 918h0M1169.1 886.1h0M1177.7 885.8h0M1188.8 910.8h0M1168 882.1h0M1175.7 917.4h0M1181.1 879.9h0M1194.4 871.8h0M1196 912.4h0M1198.2 894.2h0M1192.4 885.5h0M1161 900.7h0M1179 906.2h0M1191.3 885.2h0M1157.6 880.5h0M1170.9 893.5h0M1183.5 917.2h0M1170.5 884.5h0M1191 984.1h0M1200.8 918.2h0M1177.8 992.8h0M1181.2 870.2h0M1185 995.1h0M1195.6 922.7h0M1155.8 917.2h0M1189.3 923.2h0M1170.4 953.4h0M1182.7 902.6h0M1177.7 918.9h0M1165.6 894.5h0M1160.7 987.3h0M1188.3 910.2h0M1189.8 891.8h0M1171.4 908.1h0M1167.2 917.2h0M1194.4 892.2h0M1162 867.7h0M1179.1 885.6h0M1168.3 959.1h0M1172.5 922.9h0M1199.2 939.9h0M1201.6 919.7h0M1192.9 907.5h0M1176.3 951.5h0M1197.7 878.1h0M1195.4 988.5h0M1165.2 920.3h0M1155.6 932.4h0M1163.4 883.5h0M1200.9 902.5h0M1200.9 903.8h0M1170.4 901.6h0M1170.5 892.9h0M1170.9 910.6h0M1196.6 892.5h0" stroke="#3cbf56" stroke-width="4.3" stroke-linecap="round" stroke-opacity="0.3"/>
<path d="M1189.6 883.9h0M1169 880.8h0M1189.7 936.2h0M1156.4 890.8h0M1160.3 965.4h0M1194.2 869.9h0M1158.2 915.2h0M1176.7 1001.5h0M1167.5 943.2h0M1156.1 937.2h0M1174.6 907.3h0M1190 864.1h0M1169.6 919.8h0M1201.1 997.1h0M1201 937.9h0M1186.3 866.9h0M1174.3 908h0M1189.1 989.7h0M1171.3 922.4h0M1163.2 998h0M1173.1 950.7h0M1176.4 929.7h0M1165.9 933.7h0M1187.5 925.9h0M1174.8 852.4h0M1153.1 939.4h0M1183.1 879.4h0M1157.1 911.1h0M1172.5 978h0M1163.4 913.9h0M1195.6 917.3h0M1180.2 888h0M1173.6 933.4h0M1199.5 900.4h0M1167.3 989.9h0M1167.1 913.4h0M1173 894.4h0M1197.8 922.4h0M1158.7 926.2h0M1193.9 904.6h0M1173.6 895h0M1164.3 942.3h0M1196.1 892.6h0M1157 906.7h0M1198.4 924.4h0M1186.8 964.8h0M1179.2 990.5h0M1167.5 906.6h0M1202.3 995.9h0M1193.3 904.7h0M1165.8 883.2h0M1153.7 896.6h0M1154.4 948.5h0M1182 993.5h0M1169.8 910.5h0M1198.4 946.4h0M1183 942.8h0M1178.4 885.1h0M1184.6 1001.3h0M1198.9 931.9h0M1193.6 951.3h0M1180.9 909.3h0M1189.3 953.2h0M1159.1 892.6h0M1191.2 931.3h0M1199.7 906.7h0M1173.2 895.6h0M1179.6 915.9h0M1189.9 927h0M1200.2 904h0M1200.1 908h0M1182.1 898h0M1196.9 918.2h0M1196.3 936.9h0M1182.1 909.4h0M1180.8 995.5h0M1178.9 924.4h0M1162.4 910h0M1200.5 934.7h0M1173.5 985h0M1193.8 909.8h0M1190 956.3h0M1170.2 913.4h0M1195.1 895.9h0M1201.8 833.3h0M1195.3 987.4h0M1182.7 915h0M1164.8 888.4h0M1178.9 932.4h0M1165.8 886h0M1168.4 891.7h0M1180.7 916.1h0M1202.1 879.7h0M1162.7 940.3h0M1155.4 950.2h0M1192 933.7h0M1193.4 995.3h0M1167.8 927.1h0M1177.1 875.2h0M1187.3 898.3h0M1152.9 901.6h0M1183 925.7h0M1168.4 888.8h0M1180.6 889.8h0M1164.5 864h0M1170.2 893.2h0M1157.6 987.4h0M1157 865.2h0M1174.3 932.3h0M1194.5 951.2h0M1180.4 904.8h0M1167.7 906.6h0M1198.3 909.2h0M1166.4 902.4h0M1177.5 920.5h0M1202 891.1h0M1169.7 929h0M1182.7 905h0M1190.2 913.6h0M1183.6 893.6h0M1167.2 907.6h0M1199.7 886.7h0M1191 927h0M1187.5 961.5h0M1164.1 983.2h0" stroke="#3cbf56" stroke-width="4.3" stroke-linecap="round" stroke-opacity="0.3"/>
<path d="M1183.2 856.3h0M1168.6 928.3h0M1159.5 905.1h0M1186.4 967.2h0M1166.2 915.5h0M1201.9 895.5h0M1160.8 992.1h0M1152.8 990.1h0M1188.7 900h0M1177.4 910.5h0M1199.2 881h0M1192.7 884.9h0M1157.2 913.6h0M1172.4 900.9h0M1184.9 914h0M1160 909.2h0M1197.4 911.7h0M1181.6 942.5h0M1183.5 868.2h0M1193.7 881.7h0M1196.9 885.9h0M1155.3 907.6h0M1156 903.1h0M1189.6 900.7h0M1154.6 1004.9h0M1197.7 874.5h0M1161.5 912.8h0M1172.5 882.5h0M1177.2 890.3h0M1175.5 917h0M1174.8 968.6h0M1154.5 900.8h0M1159.9 931.6h0M1160 964.6h0M1188.8 897h0M1193.4 910.5h0M1194.2 942.3h0M1160.9 902.4h0M1186.3 929.9h0M1186.2 907.8h0M1197.7 921.1h0M1160.1 959.3h0M1177.3 895.9h0M1187.3 929.6h0M1152.8 856.8h0M1164.2 922.8h0M1177 990.3h0M1180.7 907.6h0M1167.4 867.9h0M1185.9 889.5h0M1180.1 903.1h0M1195.1 896.9h0M1168.6 892.4h0M1155.2 903.7h0M1198.4 985.4h0M1187.3 949.9h0M1169.4 951.7h0M1176.9 887.8h0M1193.5 893.5h0M1156.9 992h0M1175.8 996.8h0M1154.9 931.1h0M1164.4 937.3h0M1167.8 933.9h0M1195.1 992.4h0M1182.4 991.4h0M1168 923.6h0M1173 895.8h0M1180.2 941.3h0M1153.6 992.9h0M1188.2 989.7h0M1187.2 944.8h0M1182.8 933.7h0M1158.7 910.2h0M1156 997.4h0M1177.8 895.6h0M1194.8 953.8h0M1166.6 913.6h0M1180.1 990.4h0M1199.9 888.1h0M1170.6 988.3h0M1169.1 980h0M1160.8 952.4h0M1190.1 962.2h0M1193.7 930.8h0M1171.6 935.1h0M1165.2 932h0M1155.4 921.6h0M1158.1 1000.5h0M1169 855.4h0M1155.2 908.8h0M1152.4 971.5h0M1167.8 910.2h0M1174 891.1h0M1166.4 905.6h0M1166.2 916.1h0M1174.9 927.9h0M1196.1 996.8h0M1201.9 872.4h0M1174.3 891.3h0M1169 930.1h0M1154.3 902.9h0M1164.7 916.3h0M1159.3 905.1h0M1198.2 924h0M1198.2 989.6h0M1190.3 931.1h0M1155.9 929.6h0M1189.2 924.9h0M1180.3 942.8h0M1182.1 920.9h0M1157.8 850.9h0M1197.5 951.7h0M1187.9 954.8h0M1197.1 938.8h0M1171.5 929.8h0M1195.6 884.9h0M1168.6 988.7h0M1188.7 899.6h0M1193.8 990.1h0M1201.8 993.3h0M1191.7 924.9h0M1155.5 980.5h0M1154 903.2h0M1155.9 903.1h0" stroke="#3cbf56" stroke-width="4.3" stroke-linecap="round" stroke-opacity="0.3"/>
<path d="M1187.2 938.9h0M1186.7 886.2h0M1159.5 932.7h0M1187.1 959.5h0M1193.1 917.7h0M1186.5 860.4h0M1199.8 889.2h0M1153.1 911.4h0M1191.8 917.6h0M1199.2 913.3h0M1153.5 878.1h0M1156.4 899.7h0M1202.2 991h0M1168 912h0M1193.9 908.6h0M1165.6 916.3h0M1201 921.5h0M1183.4 963h0M1196 992.9h0M1161.9 922.7h0M1176.8 922h0M1183.5 883.1h0M1169 915.2h0M1190.2 1000.5h0M1189.2 896.6h0M1154.8 934h0M1164.6 932.3h0M1164.7 901.7h0M1189.7 939.5h0M1196.8 929.4h0M1192.5 937.9h0M1188.2 873.1h0M1171.1 892.1h0M1182.2 917.6h0M1196.2 927h0M1171.4 993.3h0M1158.9 981.5h0M1195.1 906.5h0M1197.2 918h0M1197 934.3h0M1168.9 921.7h0M1194.1 989.6h0M1181.6 893.5h0M1164.4 934.4h0M1157.8 931.7h0M1196.2 952.3h0M1164.5 985.8h0M1169.1 922.5h0M1188.8 881.1h0M1163.5 882.6h0M1169.9 883.1h0M1165 893.5h0M1181.1 914.8h0M1193.1 985.2h0M1171.9 933.3h0M1169.4 928.7h0M1174.7 907.9h0M1195.1 912.7h0M1200.7 912.1h0M1198.4 902.2h0M1193.1 991.4h0M1196.8 985.2h0M1190.7 916.7h0M1178.3 909.7h0M1192.8 895.5h0M1169.1 897.4h0M1160.4 937.3h0M1200.3 929.5h0M1197.1 988.7h0M1173.7 868.1h0M1178.7 907.1h0M1184 924.7h0M1197.3 1002.1h0M1165.2 945.2h0M1201.3 921.3h0M1199.1 1004.2h0M1169.7 913.2h0M1158.7 926.6h0M1160.2 895.5h0M1190 872.2h0M1154.9 942.4h0M1161.8 891.4h0M1189.6 933h0M1153 987.4h0M1182.3 924.5h0M1170.5 918.9h0M1172.4 1000.1h0M1171 895.9h0M1196.2 887.1h0M1185.7 987.1h0M1164.3 925.4h0M1181.4 912.2h0M1158.1 900.3h0M1197.9 941.6h0M1170.3 907.4h0M1183.4 951.3h0M1155.8 906.7h0M1178.1 909.4h0M1178.1 942.8h0M1177.4 913.7h0M1182.2 953.1h0M1159.7 930.8h0M1168.9 902.9h0M1154.4 881.8h0M1158.8 909.8h0M1174.9 959.2h0M1176 904.4h0M1172.5 941.7h0M1164.7 912h0M1193.2 899.8h0M1181.5 927h0M1190.7 896.6h0M1176.7 943h0M1166.9 934.9h0M1183.6 991.5h0M1180.8 896.3h0M1168.8 874.3h0M1167.9 912.5h0M1199.8 916.9h0M1183.3 988.4h0M1160.8 878.7h0M1173.5 873.7h0M1175 1004.3h0M1194.4 921h0M1194.1 871.3h0" stroke="#3cbf56" stroke-width="4.3" stroke-linecap="round" stroke-opacity="0.3"/>
<path d="M1236 959.1h0M1230.1 962h0M1249.7 966h0M1251 968.4h0M1260.1 852.6h0M1249.7 959.4h0M1233.2 956.5h0M1249.2 973.5h0M1255.5 894.2h0M1257.3 975.6h0M1251.7 967.9h0M1241.9 964.8h0M1236.1 960.2h0M1248.4 979.3h0M1212.8 974h0M1212.4 958.5h0M1230.3 962.6h0M1217.3 964.4h0M1228.6 922.8h0M1258.2 882.4h0M1225.3 876.3h0M1215.9 987.2h0M1236 975.6h0M1231.7 954.3h0M1234.5 933.1h0M1259.4 918.1h0M1224.6 898.9h0M1224 904.1h0M1224.7 991.3h0M1222.9 969.1h0M1214.6 960.3h0M1236 954h0M1255.9 980.4h0M1257.9 961h0M1230.5 954.9h0M1229.1 980.4h0M1214.6 977.9h0M1258.7 903.6h0M1241.2 986.9h0M1228.7 961.5h0M1232 904.1h0M1260.9 976.1h0M1235.5 901.5h0M1256.4 957.1h0M1236.2 977.4h0M1213.7 830.2h0M1230.2 994.5h0" stroke="#8ea6dc" stroke-width="4.3" stroke-linecap="round" stroke-opacity="0.32"/>
<path d="M1121.6 1007.5L1125.8 1003.5L1131.6 999.6L1137.9 995.6L1142.6 991.7L1144.1 987.7L1142.3 983.8L1138.4 979.8L1134.2 975.9L1130.4 971.9L1127.3 967.9L1125.1 964L1124.2 960L1124 956.1L1124.2 952.1L1124.7 948.2L1124.9 944.2L1124.6 940.3L1124.2 936.3L1123.7 932.4L1123.4 928.4L1123.2 924.5L1123.1 920.5L1122.8 916.6L1122.4 912.6L1122.2 908.6L1121.9 904.7L1121.3 900.7L1120.5 896.8L1119.7 892.8L1119.1 888.9L1118.7 884.9L1118.6 881L1118.6 877L1118.5 873.1L1118.5 869.1L1118.5 865.2L1118.4 861.2L1118.4 857.3L1118.3 853.3L1118.2 849.3L1118.2 845.4L1118.2 841.4L1118.2 837.5L1118.2 833.5L1118.2 829.6L1118.2 825.6L1118.1 821.7L1118.1 817.7L1118.1 813.8L1118.1 809.8L1118.1 805.9L1118.1 801.9L1118.1 798L1118.1 794L1118.1 790L1118.1 786.1L1118.1 782.1L1118.1 778.2L1118.2 774.2L1118.2 770.3L1118 770.3L1118 774.2L1118.1 778.2L1118.1 782.1L1118.1 786.1L1118.1 790L1118.1 794L1118.1 798L1118.1 801.9L1118.1 805.9L1118.1 809.8L1118.1 813.8L1118.1 817.7L1118.1 821.7L1118 825.6L1118 829.6L1118 833.5L1118 837.5L1118 841.4L1118 845.4L1118 849.3L1117.9 853.3L1117.8 857.3L1117.8 861.2L1117.7 865.2L1117.7 869.1L1117.7 873.1L1117.6 877L1117.6 881L1117.5 884.9L1117.1 888.9L1116.5 892.8L1115.7 896.8L1114.9 900.7L1114.3 904.7L1114 908.6L1113.8 912.6L1113.4 916.6L1113.1 920.5L1113 924.5L1112.8 928.4L1112.5 932.4L1112 936.3L1111.6 940.3L1111.3 944.2L1111.5 948.2L1112 952.1L1112.2 956.1L1112 960L1111.1 964L1108.9 967.9L1105.8 971.9L1102 975.9L1097.8 979.8L1093.9 983.8L1092.1 987.7L1093.6 991.7L1098.3 995.6L1104.6 999.6L1110.4 1003.5L1114.6 1007.5Z" fill="none" stroke="#e8615a" stroke-width="1.3"/>
<path d="M1179.7 1005.4L1180.8 1002.3L1181.9 999.1L1182.8 996L1183.4 992.8L1183.4 989.7L1182.9 986.5L1182.1 983.4L1181.1 980.3L1180.2 977.1L1179.6 974L1179.3 970.8L1179.4 967.7L1179.7 964.6L1180.1 961.4L1180.7 958.3L1181.3 955.1L1182 952L1182.8 948.8L1183.7 945.7L1184.7 942.6L1185.7 939.4L1186.7 936.3L1187.5 933.1L1188.2 930L1188.8 926.9L1189.4 923.7L1189.9 920.6L1190.5 917.4L1190.9 914.3L1191.2 911.1L1191.3 908L1191.1 904.9L1190.7 901.7L1190 898.6L1189.1 895.4L1188.2 892.3L1187.3 889.2L1186.3 886L1185.3 882.9L1184.2 879.7L1183.2 876.6L1182.2 873.4L1181.3 870.3L1180.6 867.2L1180 864L1179.5 860.9L1179.1 857.7L1178.8 854.6L1178.5 851.5L1178.2 848.3L1178 845.2L1177.9 842L1177.7 838.9L1177.7 835.7L1177.6 832.6L1177.6 829.5L1177.5 826.3L1177.5 823.2L1177.5 820L1177.5 816.9L1177.1 816.9L1177.1 820L1177.1 823.2L1177.1 826.3L1177 829.5L1177 832.6L1176.9 835.7L1176.9 838.9L1176.7 842L1176.6 845.2L1176.4 848.3L1176.1 851.5L1175.8 854.6L1175.5 857.7L1175.1 860.9L1174.6 864L1174 867.2L1173.3 870.3L1172.4 873.4L1171.4 876.6L1170.4 879.7L1169.3 882.9L1168.3 886L1167.3 889.2L1166.4 892.3L1165.5 895.4L1164.6 898.6L1163.9 901.7L1163.5 904.9L1163.3 908L1163.4 911.1L1163.7 914.3L1164.1 917.4L1164.7 920.6L1165.2 923.7L1165.8 926.9L1166.4 930L1167.1 933.1L1167.9 936.3L1168.9 939.4L1169.9 942.6L1170.9 945.7L1171.8 948.8L1172.6 952L1173.3 955.1L1173.9 958.3L1174.5 961.4L1174.9 964.6L1175.2 967.7L1175.3 970.8L1175 974L1174.4 977.1L1173.5 980.3L1172.5 983.4L1171.7 986.5L1171.2 989.7L1171.2 992.8L1171.8 996L1172.7 999.1L1173.8 1002.3L1174.9 1005.4Z" fill="none" stroke="#2db84d" stroke-width="1.3"/>
<path d="M1240.6 994.5L1241.5 991.8L1242.4 989L1243.2 986.3L1244.1 983.5L1244.9 980.8L1245.7 978.1L1246.3 975.3L1246.7 972.6L1247 969.9L1247.1 967.1L1247 964.4L1246.6 961.6L1246.1 958.9L1245.4 956.2L1244.6 953.4L1243.7 950.7L1242.8 948L1242 945.2L1241.1 942.5L1240.4 939.7L1239.8 937L1239.3 934.3L1239 931.5L1238.8 928.8L1238.7 926L1238.6 923.3L1238.7 920.6L1238.7 917.8L1238.8 915.1L1239 912.4L1239.1 909.6L1239.1 906.9L1239.2 904.1L1239.2 901.4L1239.1 898.7L1239 895.9L1238.9 893.2L1238.7 890.5L1238.5 887.7L1238.3 885L1238.1 882.2L1237.9 879.5L1237.7 876.8L1237.6 874L1237.4 871.3L1237.3 868.6L1237.2 865.8L1237.1 863.1L1237 860.3L1236.9 857.6L1236.9 854.9L1236.8 852.1L1236.8 849.4L1236.8 846.6L1236.8 843.9L1236.8 841.2L1236.7 838.4L1236.7 835.7L1236.7 833L1236.6 830.2L1235.6 830.2L1235.5 833L1235.5 835.7L1235.5 838.4L1235.4 841.2L1235.4 843.9L1235.4 846.6L1235.4 849.4L1235.4 852.1L1235.3 854.9L1235.3 857.6L1235.2 860.3L1235.1 863.1L1235 865.8L1234.9 868.6L1234.8 871.3L1234.6 874L1234.5 876.8L1234.3 879.5L1234.1 882.2L1233.9 885L1233.7 887.7L1233.5 890.5L1233.3 893.2L1233.2 895.9L1233.1 898.7L1233 901.4L1233 904.1L1233.1 906.9L1233.1 909.6L1233.2 912.4L1233.4 915.1L1233.5 917.8L1233.5 920.6L1233.6 923.3L1233.5 926L1233.4 928.8L1233.2 931.5L1232.9 934.3L1232.4 937L1231.8 939.7L1231.1 942.5L1230.2 945.2L1229.4 948L1228.5 950.7L1227.6 953.4L1226.8 956.2L1226.1 958.9L1225.6 961.6L1225.2 964.4L1225.1 967.1L1225.2 969.9L1225.5 972.6L1225.9 975.3L1226.5 978.1L1227.3 980.8L1228.1 983.5L1229 986.3L1229.8 989L1230.7 991.8L1231.6 994.5Z" fill="none" stroke="#6f8fce" stroke-width="1.3"/>
<path d="M1098.6 792L1213.3 792" stroke="#111" stroke-width="1.8" />
<text x="1152.8" y="792.2" font-size="23.5" text-anchor="middle" fill="#111" font-weight="bold">***</text>
<rect x="1083.7" y="760.2" width="187.5" height="256.6" fill="none" stroke="#333333" stroke-width="1.4" />
<path d="M1118.1 1016.8L1118.1 1024.1" stroke="#333" stroke-width="2.6" />
<text x="1118.1" y="1048.5" font-size="22.8" text-anchor="middle" fill="#4d4d4d">0</text>
<path d="M1177.3 1016.8L1177.3 1024.1" stroke="#333" stroke-width="2.6" />
<text x="1177.3" y="1048.5" font-size="22.8" text-anchor="middle" fill="#4d4d4d">1</text>
<path d="M1236.1 1016.8L1236.1 1024.1" stroke="#333" stroke-width="2.6" />
<text x="1236.1" y="1048.5" font-size="22.8" text-anchor="middle" fill="#4d4d4d">2</text>
<path d="M1076.4 794.7L1083.7 794.7" stroke="#333" stroke-width="2.6" />
<text x="1067.9" y="803.5" font-size="22.8" text-anchor="end" fill="#4d4d4d">3</text>
<path d="M1076.4 839.1L1083.7 839.1" stroke="#333" stroke-width="2.6" />
<text x="1067.9" y="847.9" font-size="22.8" text-anchor="end" fill="#4d4d4d">2</text>
<path d="M1076.4 883.5L1083.7 883.5" stroke="#333" stroke-width="2.6" />
<text x="1067.9" y="892.3" font-size="22.8" text-anchor="end" fill="#4d4d4d">1</text>
<path d="M1076.4 927.9L1083.7 927.9" stroke="#333" stroke-width="2.6" />
<text x="1067.9" y="936.7" font-size="22.8" text-anchor="end" fill="#4d4d4d">0</text>
<path d="M1076.4 972.3L1083.7 972.3" stroke="#333" stroke-width="2.6" />
<text x="1067.9" y="981.1" font-size="22.8" text-anchor="end" fill="#4d4d4d">-1</text>
<path d="M1076.4 1016.7L1083.7 1016.7" stroke="#333" stroke-width="2.6" />
<text x="1067.9" y="1025.5" font-size="22.8" text-anchor="end" fill="#4d4d4d">-2</text>
<text x="1038" y="883.2" font-size="21.8" text-anchor="middle" transform="rotate(-90 1038 883.2)">MKI67 (Regressed)</text>
<text x="1351" y="755.8" font-size="43">i</text>
<path d="M1463.6 835.9L1651.1 835.9" stroke="#ececec" stroke-width="1.1" />
<path d="M1463.6 889.3L1651.1 889.3" stroke="#ececec" stroke-width="1.1" />
<path d="M1463.6 942.7L1651.1 942.7" stroke="#ececec" stroke-width="1.1" />
<path d="M1463.6 996.1L1651.1 996.1" stroke="#ececec" stroke-width="1.1" />
<path d="M1498.2 760.2L1498.2 1018" stroke="#e6e6e6" stroke-width="1.6" />
<path d="M1557.3 760.2L1557.3 1018" stroke="#e6e6e6" stroke-width="1.6" />
<path d="M1616.5 760.2L1616.5 1018" stroke="#e6e6e6" stroke-width="1.6" />
<path d="M1463.6 809.2L1651.1 809.2" stroke="#e3e3e3" stroke-width="2.0" />
<path d="M1463.6 862.6L1651.1 862.6" stroke="#e3e3e3" stroke-width="2.0" />
<path d="M1463.6 916L1651.1 916" stroke="#e3e3e3" stroke-width="2.0" />
<path d="M1463.6 969.4L1651.1 969.4" stroke="#e3e3e3" stroke-width="2.0" />
<path d="M1477.1 915h0M1515.4 866.1h0M1473.7 905.8h0M1522.1 927.8h0M1488.7 945.6h0M1502.6 892.7h0M1497 903.1h0M1488.3 920.3h0M1497.8 944.8h0M1509.3 888.9h0M1485.6 929.2h0M1521.6 908.7h0M1508.9 945.3h0M1514.3 920.2h0M1511.5 895.6h0M1495.7 915.8h0M1517.4 944.3h0M1498.4 943.4h0M1498.6 909.5h0M1482.1 914.8h0M1479.6 889.9h0M1489.3 930.1h0M1479.4 909.7h0M1507.6 926.5h0M1513.2 916h0M1496.8 867.8h0M1518.6 900.4h0M1503.2 924.1h0M1515.2 917.5h0M1504.1 917.1h0M1515.8 896.1h0M1481.6 961h0M1501.1 920.4h0M1515.9 949.7h0M1480.3 927.9h0M1510 927.1h0M1474.7 890.4h0M1521 938h0M1520.4 961.1h0M1477.3 918.7h0M1484.1 905.8h0M1477 922.3h0M1483.6 903.7h0M1482.9 959.9h0M1503.9 893.3h0M1480.6 938.1h0M1478.3 918h0M1473.6 949.5h0M1501.3 969h0M1488.6 952h0M1476.7 910.2h0M1503.8 927.7h0M1505.7 939.5h0M1480.4 910.7h0M1507.7 900h0M1492.2 931.7h0M1518.3 929.3h0M1489.9 929.3h0M1483.6 976.1h0M1521 896.3h0M1495.1 942.6h0M1505 914.4h0M1484.1 877.9h0M1519.8 929h0M1511.2 903h0M1521.6 909.4h0M1507 895.8h0M1503 881.5h0M1494.7 928.4h0M1520.5 908.9h0M1505.1 900.8h0M1484.3 868.7h0M1516.3 948.3h0M1483.2 918.2h0M1488.9 897.8h0M1482.2 899.6h0M1485.1 871.9h0M1503.5 946.4h0M1476.6 922.7h0M1475.7 890.4h0M1487.4 957.1h0M1507.2 951.5h0M1503.7 934.4h0M1499.3 904.3h0M1505.6 924.5h0M1504.6 899.5h0M1512.8 870.6h0M1492.6 874.5h0M1474.5 905.5h0M1483.4 892.6h0M1492.1 888.6h0M1513.9 911.7h0M1511.6 861.3h0M1516.1 939h0M1503.2 920.3h0M1498.1 913.4h0M1496.7 942.1h0M1504.3 899.5h0M1521.5 894.7h0M1493 912.1h0M1491.9 931.4h0M1508.8 944.1h0M1511 891h0M1521.5 906.8h0M1500.8 910.3h0M1522.8 933.6h0M1520.2 918.3h0M1489.6 912.3h0M1493.5 874.3h0M1498.9 884.6h0M1513.5 964.9h0M1479.3 881h0M1497 915.3h0M1493 948.8h0M1480 933.2h0M1489.1 896.1h0M1474.6 890.9h0M1510.6 921.1h0M1503.4 945.3h0M1484.6 914.4h0M1501.6 973.7h0M1521.4 902.4h0M1479.1 900.2h0M1500.7 890.7h0M1516.6 875.1h0M1492.7 913.7h0M1493.4 900.2h0M1500.5 926h0M1488.3 891.3h0M1496 918.8h0M1503.3 965.8h0M1498.9 914.5h0" stroke="#ee6b64" stroke-width="4.3" stroke-linecap="round" stroke-opacity="0.3"/>
<path d="M1483.9 914.2h0M1499.3 902.1h0M1509.7 983.8h0M1478.8 894.5h0M1519.6 920.7h0M1484.7 909.8h0M1513.8 951.8h0M1492.4 865.1h0M1520.9 917h0M1483 910.6h0M1473.3 931.5h0M1519.3 893.3h0M1522.2 937.6h0M1474.9 942.6h0M1492.1 901.2h0M1518.4 905h0M1498.3 933.4h0M1476.5 947h0M1482.5 937.3h0M1477.6 891.3h0M1486.9 917.1h0M1521.4 951.8h0M1499.8 944.5h0M1473.3 911.8h0M1503.6 914.1h0M1474.1 892.9h0M1490.7 901.9h0M1506.5 899.9h0M1487.3 910.2h0M1490.6 895.2h0M1508.6 915.2h0M1479.7 948.8h0M1520.3 963.8h0M1490.5 915.4h0M1484.3 984.5h0M1484.9 916.9h0M1487 903.8h0M1508.3 928.8h0M1511.3 961.9h0M1475.2 931.6h0M1475.4 939h0M1486.7 935.2h0M1473.8 890.9h0M1495.2 887.1h0M1475.3 963h0M1511.9 943.8h0M1504.8 975.5h0M1504.1 924.3h0M1511.8 908.4h0M1493.1 959.6h0M1501.1 907.2h0M1485.4 900.9h0M1518.1 917.4h0M1485.7 966.4h0M1474.8 926.1h0M1497.6 923.5h0M1505.7 930.2h0M1476.2 918.6h0M1522.1 899.8h0M1496.1 906.6h0M1500.3 949.5h0M1489.4 941.5h0M1482.2 945.9h0M1520.2 899.6h0M1522.5 894.6h0M1499.8 908.4h0M1508.7 940.2h0M1477.1 961.5h0M1476.1 933.3h0M1513 926.8h0M1494.4 886.5h0M1518.9 942.8h0M1509.8 899.1h0M1505.8 921.7h0M1498.6 977h0M1479.4 962.8h0M1477.3 954.6h0M1489.3 890.9h0M1503.6 932.6h0M1503.6 918.6h0M1485.8 961.9h0M1480.1 964.2h0M1478.7 904.4h0M1518.5 939.2h0M1520.6 924.4h0M1479 872.8h0M1505.4 945.6h0M1516.4 887h0M1473.7 920.5h0M1516.8 915.7h0M1485 907.7h0M1502.6 954.1h0M1515 897.1h0M1483.8 937.5h0M1516.1 969.1h0M1489.2 947.7h0M1474.2 911.3h0M1473.3 952.2h0M1510.5 967.1h0M1496.6 902.6h0M1523 936h0M1495.1 907.3h0M1513.8 912.3h0M1507.7 900.4h0M1485.4 883h0M1479.1 875.2h0M1509.4 902.5h0M1502.9 907.7h0M1473.9 918h0M1493.9 905.7h0M1480.4 930.6h0M1485.9 877.6h0M1486.3 912.2h0M1483.9 900.6h0M1522.6 945.5h0M1498.5 913h0M1520.1 873.7h0M1516.1 910.4h0M1479.4 892.6h0M1490.7 938.7h0M1490.5 935.9h0M1481.3 892.4h0M1501.8 906.1h0M1478.1 868.5h0M1494.1 898.7h0M1515.7 928.5h0M1475.5 936.2h0M1494.6 920.9h0M1500.2 900.2h0M1489.3 904.8h0M1514.7 963.2h0M1515.6 926.7h0" stroke="#ee6b64" stroke-width="4.3" stroke-linecap="round" stroke-opacity="0.3"/>
<path d="M1488.4 890.5h0M1520.4 899.6h0M1515.3 900.6h0M1481.2 946.2h0M1481.6 902.7h0M1489.7 968.8h0M1495.5 956.6h0M1482.9 894h0M1516.3 938.4h0M1515.7 880.9h0M1474.6 942.7h0M1496 948.2h0M1483.7 880.1h0M1521.5 927h0M1478.9 946h0M1473.5 913.2h0M1521.8 937.6h0M1482.4 938.2h0M1522.4 913.6h0M1509.4 883.8h0M1483.5 889h0M1513.8 913.2h0M1511.2 932.6h0M1495.6 935.6h0M1501.6 916.4h0M1517.9 919h0M1478.4 935.2h0M1501.9 924.4h0M1506.7 897.4h0M1494 887.3h0M1493.4 896.5h0M1495.5 921.3h0M1479.1 872.2h0M1480.1 908h0M1511.1 922.1h0M1501.3 911.6h0M1493.6 903h0M1495.7 907.5h0M1489.4 945.4h0M1486.2 936.7h0M1475.6 936.4h0M1477.6 912h0M1516.5 923.6h0M1494.1 882.6h0M1480.5 926.7h0M1473.7 922.6h0M1509.2 942.8h0M1500 917.9h0M1512.8 892h0M1495.9 879h0M1518.5 913.7h0M1486.9 910.9h0M1510.1 922.9h0M1481.9 920.7h0M1517.7 911.3h0M1503.5 919.7h0M1498.3 883.1h0M1485.9 880.8h0M1515.8 893.3h0M1511.5 947h0M1484.5 963.9h0M1494.2 907.4h0M1488.3 929.7h0M1497 944.1h0M1513.8 873h0M1492.7 887.7h0M1503.8 961.9h0M1484.8 923.7h0M1499.4 901.1h0M1483.6 911.8h0M1500.2 888.9h0M1504.3 935.7h0M1484.3 958.8h0M1512 950h0M1492 895.2h0M1509 922.7h0M1497.8 944.5h0M1507.7 935.2h0M1512 939.3h0M1480.1 923.1h0M1510.7 924.7h0M1475 981.6h0M1516.1 879.8h0M1481.2 910.3h0M1479.9 904.2h0M1488.7 891.3h0M1513.9 890.7h0M1507.5 913.2h0M1509.9 921.3h0M1513.5 927.5h0M1490.8 934.5h0M1483.2 929.9h0M1500.2 918.2h0M1509.5 902.6h0M1503.7 974.1h0M1513.4 966.5h0M1498.5 907.4h0M1519.1 904.9h0M1512 902.7h0M1506.9 906.1h0M1496 906h0M1509.4 883.1h0M1473.3 892.2h0M1517.3 886h0M1523 896.5h0M1483.7 927h0M1518.7 929.1h0M1517.7 912.8h0M1510.3 910.4h0M1487.8 911.6h0M1473.3 910.7h0M1506.2 923.5h0M1476.8 913.4h0M1504.4 939.4h0M1515.9 960.5h0M1485.7 930.2h0M1505.7 911.7h0M1511.4 993.9h0M1499.2 917h0M1508.4 894h0M1491.8 946.2h0M1500.6 912.7h0M1518.5 915h0M1502.1 895.3h0M1502.5 931.4h0M1513.6 926.3h0M1497.8 893.4h0M1476.7 911.5h0M1489 933.6h0M1477.5 869.6h0M1474.4 925.8h0M1504.7 769.1h0" stroke="#ee6b64" stroke-width="4.3" stroke-linecap="round" stroke-opacity="0.3"/>
<path d="M1518.2 892h0M1517.3 870.3h0M1515 953.9h0M1474.2 937.6h0M1513.9 889.1h0M1485.4 906h0M1508.3 918.7h0M1475 901.4h0M1504.1 914.2h0M1498.7 917.7h0M1520.8 926.7h0M1477.4 893.2h0M1512.2 931.6h0M1482.3 975.5h0M1489.1 914.6h0M1514.7 912.2h0M1516.4 963.3h0M1522.6 930.3h0M1504.2 886.3h0M1519.2 908.3h0M1483.1 930.2h0M1486.7 925.3h0M1495.5 924.2h0M1480.7 904.5h0M1476.9 966.1h0M1497.8 922.6h0M1490.6 896.5h0M1474 939.3h0M1504.5 900.7h0M1506.9 907.3h0M1511.5 901.7h0M1500.5 893.4h0M1515 919h0M1501 950.5h0M1479.3 914.9h0M1477.4 887h0M1478.2 936.8h0M1514.8 950.7h0M1479.9 900.2h0M1515.6 925.8h0M1490.4 937.7h0M1481.4 959.7h0M1515.9 940.6h0M1520.1 911.6h0M1499.1 887.6h0M1518.8 865h0M1473.7 950.1h0M1494.3 934.8h0M1474.3 879.4h0M1478.5 943.7h0M1510.1 917h0M1511.6 906.9h0M1487.4 914.9h0M1514 876.8h0M1508.4 907.4h0M1486.9 922.1h0M1500.9 888h0M1505.3 918.6h0M1518.4 884.8h0M1504.5 924.8h0M1508.5 931.2h0M1507.7 888.5h0M1480.3 947.2h0M1487.2 889h0M1511.5 947.5h0M1503.9 915h0M1488.9 883.8h0M1512.2 949.1h0M1514.1 947.9h0M1503.8 900.1h0M1503.1 912.5h0M1514.9 881.1h0M1511.4 928h0M1501.5 943.7h0M1514.7 916.5h0M1491.3 952.6h0M1513.1 930.7h0M1511.1 904.4h0M1479 910.7h0M1480.8 935.6h0M1496.4 894.5h0M1504.8 940h0M1474.1 910h0M1478.6 916.3h0M1510.7 904.3h0M1518.6 897.9h0M1483.6 961h0M1482.4 940.6h0M1495.1 892.5h0M1498.4 828.2h0M1477.2 892.3h0M1475.8 928.9h0M1521.7 976.6h0M1490.4 917.9h0M1485 915.6h0M1495.8 899.7h0M1484.1 947.3h0M1483.2 912.8h0M1478.3 922.3h0M1507.2 900.6h0M1477.6 949.6h0M1512.8 907.3h0M1515.1 927.4h0M1504.1 939.3h0M1520 961.6h0M1496.9 939.3h0M1487.6 986.9h0M1496.3 936.6h0M1492.4 884.2h0M1490.7 893h0M1519.4 934.8h0M1481.7 905.1h0M1522.2 905.5h0M1498.7 901.2h0M1494.9 929.8h0M1484.8 944.5h0M1475.8 967.2h0M1474.2 944.7h0M1513.9 931.5h0M1486.3 918.4h0M1507.3 894.2h0M1491.9 895.3h0M1514.2 938.8h0M1496.7 913.1h0M1482.7 943.2h0M1522.1 888.1h0M1482.6 948.9h0M1489.9 891.3h0M1509.5 870.5h0M1503.6 897.1h0M1495.1 940.8h0M1497 822.5h0" stroke="#ee6b64" stroke-width="4.3" stroke-linecap="round" stroke-opacity="0.3"/>
<path d="M1498 910.9h0M1491.7 908.5h0M1520.9 925.4h0M1475.7 930h0M1510.1 929.5h0M1493.2 989.6h0M1477.7 928.8h0M1473.5 924.4h0M1499.5 882.4h0M1503.4 915.2h0M1502.8 910.5h0M1489.1 893.9h0M1502.4 910.6h0M1473.4 928.1h0M1520.9 930.3h0M1485.9 895.5h0M1510.8 919.5h0M1522 896.6h0M1491.5 934.5h0M1492 890.5h0M1477.6 939.6h0M1480.9 903.3h0M1486 976.4h0M1512.5 908.2h0M1522.3 941h0M1492.9 973.4h0M1503.3 915.9h0M1500.5 964.4h0M1507.3 926.6h0M1481.9 938.1h0M1477.2 894.7h0M1522.7 911h0M1509.8 896.8h0M1506.7 882.8h0M1483.1 926.2h0M1499.1 881.5h0M1494.5 867.7h0M1520.4 935.7h0M1497.6 893.3h0M1476.2 938h0M1473.5 961.4h0M1482.9 911h0M1520.6 965.7h0M1483.2 909.5h0M1503.4 976.3h0M1477.5 937h0M1496.6 904.9h0M1503 920.8h0M1512.4 906.5h0M1487.9 868.9h0M1501.1 898.3h0M1498.7 861.6h0M1508.3 907.5h0M1507.9 958.8h0M1517.9 936.2h0M1487.6 949.8h0M1514.3 921.4h0M1491.1 961.6h0M1513.5 907.3h0M1511.7 977.6h0M1489.6 939.3h0M1515.7 885.2h0M1475 921.6h0M1504.1 882.1h0M1523 938.1h0M1482.7 939.8h0M1499.2 928h0M1508.5 929.8h0M1502.9 972.2h0M1513.5 941.4h0M1508.1 918.7h0M1493.4 901.5h0M1517.7 857h0M1519 918.7h0M1504.5 902.5h0M1514.4 896h0M1517.3 955.3h0M1514.7 861.8h0M1486.5 950.1h0M1486.4 978.7h0M1512.5 888.1h0M1499.7 873.2h0M1493.4 931.4h0M1488.6 878.9h0M1494.6 954.3h0M1505.3 898.7h0M1497.5 957.4h0M1490.2 905h0M1473.8 912.2h0M1506.7 922.2h0M1513 941.7h0M1493.1 926.4h0M1484.9 892.1h0M1513.5 942.5h0M1491.5 914.7h0M1496.6 909.5h0M1492.8 937.6h0M1488.8 940.2h0M1487.1 919h0M1498 949.3h0M1492.2 892.1h0M1484.5 924.7h0M1484.3 909.3h0M1521.3 907h0M1518.4 970h0M1479.4 923.3h0M1485.7 899.5h0M1503 917.8h0M1511.9 957.8h0M1489.8 925.7h0M1485.4 913.2h0M1490.8 942.1h0M1490.8 950.1h0M1521.3 943.4h0M1509.9 897.7h0M1508.7 956.3h0M1475.1 926.1h0M1509.1 909.4h0M1510.3 917h0M1479.3 908.3h0M1514.1 935.3h0M1512.3 883.8h0M1516.5 897.2h0M1518.8 907.1h0M1514.7 944.7h0M1487.1 918.6h0M1514.5 841h0M1477.8 862.5h0M1517.5 912.3h0M1520.6 904.8h0M1502.3 895.8h0M1504.5 827.9h0" stroke="#ee6b64" stroke-width="4.3" stroke-linecap="round" stroke-opacity="0.3"/>
<path d="M1509.2 851.5h0M1473.2 986h0M1483.3 920h0M1475.1 920.7h0M1501.6 905.1h0M1522.6 960.3h0M1476.3 945.3h0M1520.8 979.2h0M1498.6 902.9h0M1514.3 885.8h0M1521.6 898.7h0M1481.5 910.5h0M1497.3 912.9h0M1517.3 899.1h0M1522.3 887.4h0M1500.7 898.7h0M1476.9 915h0M1485.6 928.6h0M1474.3 930.5h0M1496.8 889.8h0M1492.8 896.6h0M1501.8 948.2h0M1519.3 922.8h0M1494.2 899.6h0M1488.3 955.9h0M1516.2 927.5h0M1512.5 862.6h0M1487 882.1h0M1516.8 958.5h0M1504.6 919.1h0M1481.2 898.4h0M1482.5 992.5h0M1486.6 904.9h0M1491.1 921.8h0M1496.4 963.1h0M1508.1 896.3h0M1498.6 976.5h0M1520.7 897.8h0M1508.3 901.9h0M1480.7 865.2h0M1506.7 937.9h0M1484.9 889.1h0M1508.7 928.2h0M1508.2 911.7h0M1521.3 910.7h0M1503.1 930.4h0M1512.9 919.4h0M1502.4 893h0M1485.4 918.6h0M1496 941.9h0M1513.5 940.4h0M1481.9 924.5h0M1517.3 905.5h0M1501.1 903.6h0M1520.6 886h0M1498.8 920h0M1494.7 922.6h0M1518.7 873.1h0M1499.1 972.6h0M1518.6 942.4h0M1477.6 952.5h0M1478.6 912.2h0M1494.5 933.3h0M1495.4 917.8h0M1510 945.7h0M1512.6 903.3h0M1473.8 893.7h0M1484.3 931h0M1487.7 888.6h0M1483.4 967.1h0M1478.1 919.5h0M1484 914.3h0M1488.6 918.4h0M1498.2 922.8h0M1513.2 888.4h0M1517.8 968.7h0M1477.1 896.8h0M1519.6 917.7h0M1507.4 935.6h0M1500 891.8h0M1519.8 911.4h0M1481.4 917.1h0M1503.7 976.8h0M1521.4 879.9h0M1517.9 952.3h0M1486.1 884.1h0M1516.7 895.9h0M1485.5 910.9h0M1496 876.5h0M1506.8 957.6h0M1488.1 953.7h0M1501.1 901.6h0M1485.3 948.5h0M1488 945.3h0M1486.8 909.1h0M1495.5 888.4h0M1478.7 922h0M1485.9 923h0M1518.1 991.7h0M1484.8 935.8h0M1499.4 907.8h0M1523 932.6h0M1486.3 932.8h0M1505.1 935.7h0M1511.8 929.4h0M1475.5 908.8h0M1496.9 925.3h0M1482.6 921h0M1484.1 942.3h0M1500.9 933.3h0M1511.2 942.7h0M1493.9 871.7h0M1479.1 920.5h0M1520.4 908.5h0M1483.8 873h0M1484.6 934.9h0M1484.9 917.9h0M1507.8 949.2h0M1515 903.8h0M1504.6 899.4h0M1491.1 924.1h0M1493.3 898.7h0M1506.8 880.9h0M1520.2 943.7h0M1505.2 916.4h0M1496.7 892.1h0M1510.8 958.5h0M1522.4 870.5h0M1490.7 906.3h0M1510 928.1h0M1483.1 897.5h0M1489.7 1007.3h0" stroke="#ee6b64" stroke-width="4.3" stroke-linecap="round" stroke-opacity="0.3"/>
<path d="M1478.2 881.7h0M1511 934.4h0M1477.3 945.9h0M1490.9 943.3h0M1502 907.7h0M1494.5 924.1h0M1506.3 894.3h0M1507.6 956h0M1484.5 924.2h0M1505.5 886.4h0M1512.2 959.8h0M1491.5 903.6h0M1518.6 864.5h0M1509.3 898.6h0M1484.7 924.1h0M1479.7 896.6h0M1502.7 963h0M1489.1 906.3h0M1498.7 911h0M1505 901.1h0M1484.2 939.1h0M1496.9 933.2h0M1488 882.7h0M1477.5 909.2h0M1499.4 937.2h0M1516.2 905.1h0M1509.9 916.2h0M1476.8 907.3h0M1508 950.1h0M1520.1 936.9h0M1523.1 918.1h0M1505 923.3h0M1479.2 964.5h0M1493.7 958.3h0M1483.7 923.6h0M1495.6 932.7h0M1476.4 952h0M1520.8 915.5h0M1486.7 936.1h0M1493.2 902.7h0M1476.3 920.4h0M1504.9 896.6h0M1494.8 903.1h0M1509.7 943.6h0M1512.5 950.4h0M1515.5 883.8h0M1512 920.9h0M1497.3 890.9h0M1494.3 900.5h0M1492.5 922.1h0M1492.2 915.7h0M1484.1 889.9h0M1517.3 909.7h0M1483 916.4h0M1499 967.9h0M1510.2 927.7h0M1489.5 895.8h0M1496.7 930.5h0M1480.9 902.5h0M1505.7 953.8h0M1491.1 919.4h0M1483 898.1h0M1495.1 901.7h0M1502.8 923.9h0M1510.6 884.1h0M1499.3 909h0M1493.6 920.9h0M1474.7 896.3h0M1498.9 888.9h0M1480.3 932.4h0M1490.1 923h0M1477.4 924h0M1498 916.4h0M1481.3 914.7h0M1503.2 918.3h0M1515.8 948.1h0M1475.8 960.4h0M1481.8 910.3h0M1494.5 876.2h0M1477.2 938.7h0M1520.5 912.6h0M1487.9 890.2h0M1485.2 935.1h0M1475.4 875.9h0M1519.8 877.5h0M1482.8 890.1h0M1509.4 903.3h0M1490.8 972.4h0M1505.4 869.9h0M1501.8 901.8h0M1474.3 922.8h0M1503.4 896.6h0M1483.4 903.3h0M1504.1 916.7h0M1499 908.6h0M1498.3 931h0M1477.3 955.7h0M1520.6 939.4h0M1495.3 885.9h0M1502.4 922.8h0M1490.2 909.2h0M1473.5 911.2h0M1517.5 920h0M1492.1 900.6h0M1516.1 915.6h0M1506.3 911.2h0M1473.4 883.9h0M1519.6 930.2h0M1517 878.8h0M1477.7 916.4h0M1488.9 881.3h0M1514 909.1h0M1494.3 908.1h0M1488.7 871.8h0M1473.7 917.5h0M1488.1 933.8h0M1480.2 938.2h0M1503 960.3h0M1519.3 962.3h0M1512.6 943.4h0M1482.7 915.2h0M1511.8 914.8h0M1499.9 913.7h0M1495.3 969.4h0M1496.2 908.6h0M1483.3 885.6h0M1475.5 869h0M1479.5 897.9h0M1486.6 880.2h0M1484.8 931.8h0M1481.7 882.8h0" stroke="#ee6b64" stroke-width="4.3" stroke-linecap="round" stroke-opacity="0.3"/>
<path d="M1498.6 935.5h0M1479.5 932.1h0M1479.2 921.6h0M1481.4 907.4h0M1511.7 955.6h0M1476.7 956.6h0M1475.6 923.8h0M1520.8 882.6h0M1492 925.9h0M1480.1 955.9h0M1489 921.2h0M1477.3 921.6h0M1492.1 940.8h0M1506.9 928.8h0M1495.3 913.2h0M1477.4 908.4h0M1522.8 905.3h0M1508.9 894.4h0M1510.8 943.3h0M1499.2 899.9h0M1515.6 918.8h0M1500 894.3h0M1523 863.4h0M1520.8 939.9h0M1497.7 915h0M1509.1 900h0M1504.7 943.1h0M1503.8 901.7h0M1477.2 911.4h0M1477 955.3h0M1504.3 873h0M1495.2 988h0M1510.5 925.7h0M1478.3 896.6h0M1485.2 892.6h0M1482.7 920h0M1506.4 922h0M1511.5 896.6h0M1491.2 912.5h0M1521.6 950.2h0M1482.7 942.5h0M1491.7 901.2h0M1489.6 892.3h0M1506.1 907.9h0M1484 954h0M1477.4 956.3h0M1492.9 906.6h0M1500.7 893.4h0M1484.1 910.5h0M1499.7 919.4h0M1482 936.2h0M1509.9 921.1h0M1518.9 918.3h0M1493.8 942.3h0M1488.2 929.5h0M1473.9 889.7h0M1477.7 922.1h0M1515 886.6h0M1515.4 977.6h0M1480.4 953.7h0M1509.9 922.4h0M1493.9 892h0M1504.1 961.6h0M1519.6 973.4h0M1506.8 928.4h0M1491.1 892.1h0M1474.4 896h0M1521.1 913.6h0M1491.5 949.8h0M1501.7 912.3h0M1480.6 917.6h0M1511.9 935.4h0M1522.4 948.3h0M1491.3 882.1h0M1476.8 929.2h0M1506.2 947.9h0M1494 976h0M1520.3 912.7h0M1478.6 974h0M1489.7 925h0M1485.1 907.1h0M1509 940.6h0M1481.1 955.1h0M1502.9 846.5h0M1504 945.8h0M1514 884h0M1492.5 916.2h0M1495.9 946.2h0M1490.3 891.9h0M1489.9 934h0M1483.4 880.2h0M1479.6 895.1h0M1517.6 892.3h0M1503.9 925.7h0M1494.5 974.5h0M1490.9 930.2h0M1491.4 853.4h0M1516.2 953.8h0M1481.1 914.6h0M1506.6 927.4h0M1512.1 939.2h0M1521 893.8h0M1497.6 948.8h0M1487.8 953.6h0M1504.3 891.8h0M1511.5 901.7h0M1477.3 869.5h0M1509.6 890.9h0M1503.5 933.7h0M1479.9 930.7h0M1521.2 949h0M1505.7 937.2h0M1479.4 938.2h0M1502.8 905.4h0M1474.4 917.7h0M1490.1 928.3h0M1485.9 900.1h0M1482.7 917.3h0M1488.3 905.1h0M1474.5 919.3h0M1484.1 889.1h0M1522.5 966.2h0M1487.3 860.8h0M1492.1 854h0M1473.3 859.5h0M1510.4 946.6h0M1500.2 942.6h0M1476.1 953.2h0M1477.7 941.3h0M1510.6 933.4h0M1485 934h0" stroke="#ee6b64" stroke-width="4.3" stroke-linecap="round" stroke-opacity="0.3"/>
<path d="M1547.5 941.1h0M1576.4 919.4h0M1543.7 902.6h0M1547.4 940.1h0M1561.6 992.8h0M1551.1 876.7h0M1568.6 910.8h0M1539.5 942h0M1545.7 936.9h0M1539.7 977.7h0M1540.4 899.7h0M1563.9 934.2h0M1557.3 954.4h0M1581.7 937.7h0M1568.1 937h0M1566.4 922.2h0M1545.2 962.2h0M1543.2 890.3h0M1563.7 927.2h0M1541 899h0M1540.1 890.5h0M1534.7 923.9h0M1556.9 917.9h0M1574.6 916.5h0M1562.9 930.3h0M1570.9 975.7h0M1570.1 927.6h0M1545.7 897h0M1539.4 932.8h0M1538.3 891.1h0M1563.7 913.3h0M1545.5 946.9h0M1576.9 914.4h0M1549 952.9h0M1579.1 932h0M1554.7 922.8h0M1553.5 913.8h0M1559.9 941.2h0M1550.8 908.5h0M1576.8 910.4h0M1532.5 930.3h0M1564.7 934.1h0M1563.4 946.3h0M1564.6 945.2h0M1553.8 909h0M1549.7 920.7h0M1558.7 943.8h0M1558 952.4h0M1547.6 894.7h0M1556.2 948.1h0M1537.2 874.3h0M1581.1 933.4h0M1565.4 914h0M1557 932.2h0M1575.4 912.1h0M1544.7 911.2h0M1543.8 942.8h0M1547.1 939.5h0M1549.9 933.9h0M1555.3 908.7h0M1573.5 922.2h0M1550.1 922.1h0M1572.3 902.2h0M1537.9 935.8h0M1563.5 953.3h0M1581.9 955.8h0M1536.1 898.6h0M1571 923.7h0M1534.8 922.7h0M1573.1 934.1h0M1575.1 946.4h0M1539.2 919.1h0M1568.3 924.6h0M1542.9 941.9h0M1544.8 918.9h0M1552.8 911.1h0M1541.2 908.3h0M1571.2 901.5h0M1558.5 916h0M1560.2 935.1h0M1581.7 897.3h0M1557.3 928.6h0M1545.5 888.7h0M1557.3 899.7h0M1572.2 910.2h0M1573.6 931.2h0M1550 948.8h0M1578.4 916.5h0M1575.5 934.7h0M1581.3 904.6h0M1579.3 928.9h0M1575.2 917.9h0M1574.7 930.5h0M1557.7 898h0M1566.6 918.1h0M1571.8 909.1h0M1563.2 907.8h0M1538.3 947.9h0M1543.4 885.8h0M1568.9 925.2h0M1538.2 938.7h0M1570.6 928.7h0M1569.8 932.4h0M1571.1 921h0M1534.5 929h0M1547 911.7h0M1561.7 925.2h0M1579.8 951.1h0M1552.4 941.4h0M1558.7 925.6h0M1536.4 939.4h0M1545.2 928.7h0M1542.2 938.6h0M1559 947.3h0M1543.7 933.6h0M1538 903.3h0M1544.3 925.2h0M1533.5 944.8h0M1560.5 911.6h0M1550.1 956h0M1550.6 923.5h0M1547 893.8h0M1571.6 922h0M1578.5 913.6h0M1567.6 881.9h0M1546.4 927.4h0M1552.8 909.5h0M1563.8 926.8h0M1541.3 964.7h0M1537.1 935.5h0M1547.5 940.2h0M1550.8 928.3h0" stroke="#3cbf56" stroke-width="4.3" stroke-linecap="round" stroke-opacity="0.3"/>
<path d="M1563.6 920h0M1577.3 943.4h0M1570.3 922.7h0M1561.4 921.6h0M1552.8 890.3h0M1558.4 921.6h0M1562.7 925.7h0M1572.6 909h0M1559.6 908.3h0M1567 909.4h0M1537.3 914.9h0M1543.8 921.4h0M1578.7 933h0M1534.9 931.7h0M1574.2 953.1h0M1569.9 918.6h0M1553.2 924.8h0M1532.6 934.7h0M1567.7 892.5h0M1567 937.6h0M1576.4 991.9h0M1540.9 913.6h0M1540.2 916.2h0M1567.8 935.4h0M1541.5 969.5h0M1579.9 956.4h0M1554.3 919h0M1561 914.9h0M1578.6 914.1h0M1567.4 887h0M1581 928.5h0M1581.5 920.5h0M1562.9 947.6h0M1544.5 918h0M1565.2 967.4h0M1576.7 931.2h0M1553.3 956.1h0M1560.5 962.1h0M1550.5 909h0M1541.4 939.1h0M1581.4 927.5h0M1547.3 927.9h0M1543.9 893.1h0M1532.4 931h0M1568.9 926h0M1547.1 937.1h0M1553.6 883.7h0M1537.4 916.3h0M1538.7 950.2h0M1579.7 937.4h0M1548.1 917.4h0M1581.2 920.3h0M1541.9 934.4h0M1544.7 908.5h0M1582 961.6h0M1563.7 934.8h0M1564.7 967.1h0M1551.5 910.8h0M1579.8 927.5h0M1572.1 955.6h0M1549.7 946.1h0M1558.1 929.8h0M1561.4 953.6h0M1562.7 935.9h0M1556.9 928.1h0M1570.2 922.5h0M1553.4 933.3h0M1546.6 903.5h0M1534 908.2h0M1572.3 933.2h0M1554.4 930h0M1569.8 901.6h0M1553.3 938.9h0M1578.7 926.9h0M1550.3 899.1h0M1557.1 879h0M1538.4 938.5h0M1575.6 946.5h0M1550 921.1h0M1546.6 954.3h0M1573.3 980.7h0M1579.8 969.1h0M1536.5 951.7h0M1578.2 924.1h0M1560.4 911.2h0M1556.6 923.1h0M1576 921.5h0M1561.7 958.2h0M1556.6 986.8h0M1560.9 914.2h0M1556.5 968.4h0M1552.8 962.4h0M1537.3 938.6h0M1573.5 950.2h0M1545.5 913.2h0M1582.2 912.6h0M1568.9 961.1h0M1575.2 907.4h0M1561.9 963.8h0M1552.8 910h0M1547.6 922.4h0M1543.2 953.8h0M1542.5 969.1h0M1549.5 923.8h0M1559.1 909.6h0M1535.6 966h0M1572.4 932.3h0M1541.4 933.1h0M1532.5 927h0M1553.7 909.1h0M1581.9 909.8h0M1580.1 932.2h0M1567.7 919.2h0M1557.1 946.2h0M1556.5 916.4h0M1575.5 887h0M1553.5 939.3h0M1560.5 924.1h0M1577.6 908.1h0M1546.6 917.8h0M1555.5 899.1h0M1573.6 931h0M1575.5 970.6h0M1548.4 922.5h0M1575.5 926.9h0M1544.7 944.7h0M1541.5 972h0M1576.8 968.5h0M1547.1 937.1h0M1563.1 953.3h0M1538.5 931.9h0M1568.9 906.5h0" stroke="#3cbf56" stroke-width="4.3" stroke-linecap="round" stroke-opacity="0.3"/>
<path d="M1558.9 904.8h0M1564.4 947.3h0M1535.7 938.1h0M1568 943.4h0M1564.9 954.7h0M1580.3 921.6h0M1566.2 929h0M1559.7 884.8h0M1578 892.8h0M1556.4 931.7h0M1581.6 944.7h0M1567.6 920.7h0M1551.5 943.3h0M1572.7 895.6h0M1537.8 936.3h0M1532.4 956.9h0M1566.2 884.7h0M1557.5 921.7h0M1569.4 954.2h0M1552.1 930.2h0M1548.7 929.8h0M1572.7 912h0M1576.4 958h0M1552.8 940.6h0M1547.6 900.3h0M1572.4 895h0M1535.3 911.1h0M1577.2 929.9h0M1533.4 963.1h0M1560.7 948.8h0M1557.5 940.3h0M1557 930.7h0M1547.8 902.7h0M1551 932.6h0M1537.6 920h0M1571.1 940.3h0M1542.9 900.2h0M1554.3 941.8h0M1539.1 945.2h0M1567.3 909.4h0M1561.8 932.5h0M1574.4 939h0M1564.5 904.7h0M1582.2 946.3h0M1576.6 917.6h0M1559 938.2h0M1547.5 938.5h0M1569.6 928.6h0M1575.4 950.8h0M1573.9 944.7h0M1546.8 970.6h0M1561.4 941.1h0M1555.8 921.5h0M1546.3 922.9h0M1570.6 937.7h0M1557.5 928.6h0M1579.5 935h0M1581.7 932.5h0M1570.9 893.4h0M1540.6 884.8h0M1532.9 973.8h0M1553.2 942.9h0M1579.7 920.2h0M1537 932.2h0M1552.5 941.8h0M1572.6 908.1h0M1535.9 918.6h0M1556 922h0M1576.5 920.5h0M1545.1 967.3h0M1578.5 944.5h0M1567.4 900.2h0M1535.1 917.8h0M1535.6 965h0M1555.1 934.9h0M1543.1 928.8h0M1571.1 932.4h0M1559.7 905.5h0M1546.5 933.4h0M1569.4 956.5h0M1545 932.4h0M1569.3 921.8h0M1537.4 923.6h0M1551.1 969h0M1570 963.8h0M1578.9 916.3h0M1555.5 922.6h0M1568.3 905.8h0M1535.8 928h0M1536.6 953.2h0M1573.3 947h0M1555.4 943.1h0M1557.8 902h0M1557.7 915.1h0M1567.8 912.7h0M1566 928.2h0M1556.7 941.4h0M1541.2 968.4h0M1553.9 914h0M1573.2 951.4h0M1549.6 921.1h0M1572.9 939.7h0M1541.8 902.8h0M1541.6 942.8h0M1539.2 906.1h0M1569.5 940.4h0M1545.1 987.9h0M1553.6 920.1h0M1539.2 973.9h0M1560.4 902.1h0M1532.7 941.2h0M1576.6 918h0M1572.4 917.2h0M1557 911.8h0M1539.7 929.8h0M1568.6 909.7h0M1539 942.9h0M1547.8 900.6h0M1562.6 899.4h0M1545.3 937.2h0M1543.5 935.6h0M1574.9 944.8h0M1572.1 949h0M1567.6 900.8h0M1551.8 899.2h0M1538.5 948.1h0M1553.8 911.5h0M1553.5 926.6h0M1542.2 928.8h0M1546.3 900.5h0M1536 938.6h0M1533.6 838.6h0" stroke="#3cbf56" stroke-width="4.3" stroke-linecap="round" stroke-opacity="0.3"/>
<path d="M1537.7 907.7h0M1533.1 915.9h0M1575.1 911.8h0M1577.6 960.4h0M1539.5 895.3h0M1563.4 912.9h0M1566.7 935.6h0M1580.7 939.7h0M1547.6 902.9h0M1574.5 919.6h0M1537 908.3h0M1550.4 900.5h0M1556.9 919.2h0M1547.5 934.3h0M1574.2 903.8h0M1538.6 890.5h0M1543 896.8h0M1579.2 961.1h0M1541.4 919.5h0M1539.6 943.6h0M1548.9 914.5h0M1572.4 931.6h0M1564.1 918.6h0M1572.5 935.5h0M1563.6 892.8h0M1563.6 902.2h0M1572.6 927.3h0M1556.3 929.1h0M1576.1 934.7h0M1577.5 940.4h0M1549.6 903.8h0M1558.6 937.4h0M1551.6 918.7h0M1539.5 956.6h0M1535.5 941.9h0M1559.9 899h0M1542.3 898h0M1548.4 913.6h0M1532.9 860h0M1546.1 950.7h0M1540.3 948.2h0M1543.8 914h0M1568 948.5h0M1540.8 924.4h0M1556.6 931.3h0M1542.2 947.9h0M1549.4 960h0M1552.3 905h0M1558.1 923h0M1546.5 949.5h0M1543.5 933.5h0M1565.9 928.2h0M1575 927.2h0M1561.6 923.3h0M1535.5 904.8h0M1571.2 936.3h0M1567.3 934.3h0M1557.8 961.8h0M1569.3 962.2h0M1559.3 915.1h0M1572.1 928.2h0M1552.7 925.3h0M1542.5 944.5h0M1542 970.4h0M1581.8 918.3h0M1535 927.6h0M1535.9 922.9h0M1579.7 918.2h0M1562.2 914.6h0M1579.5 909.5h0M1534.9 910.9h0M1564.9 976.9h0M1542.9 942.1h0M1551.1 932.9h0M1548.4 942.8h0M1559.7 954.5h0M1536.5 920h0M1539.7 938.6h0M1549.4 953h0M1556.7 908.9h0M1536.8 957.8h0M1570.2 942.7h0M1544.2 956.4h0M1579.1 949h0M1532.9 914.2h0M1559.5 933.5h0M1543.8 941.3h0M1536.7 907.2h0M1568.3 918.4h0M1582.1 952h0M1535.7 927.1h0M1578.1 898.3h0M1558.4 952.7h0M1546.9 912.6h0M1546.5 909h0M1546.1 931.1h0M1551.1 892.7h0M1540.6 925.1h0M1555.2 914.3h0M1580.8 914.9h0M1535.6 968.4h0M1580.4 955.7h0M1573.8 900.8h0M1562.7 957.8h0M1544.1 947.6h0M1545.4 898.7h0M1532.9 955.9h0M1532.5 927.2h0M1551.5 976.1h0M1537.7 930.3h0M1567.4 941.2h0M1538.3 885.3h0M1575 884.8h0M1556.9 925.6h0M1543.4 944.6h0M1572.2 936.4h0M1547.2 905.3h0M1580.2 926.2h0M1534.4 915.4h0M1575.9 905.7h0M1542.4 917.2h0M1559.6 925.7h0M1537.6 923.7h0M1556.2 918.9h0M1580.2 940.5h0M1546.7 898.1h0M1539.7 907.6h0M1557 913.9h0M1532.8 900.6h0M1580 927.9h0M1577 883.8h0M1569.9 841.2h0" stroke="#3cbf56" stroke-width="4.3" stroke-linecap="round" stroke-opacity="0.3"/>
<path d="M1578.8 899.9h0M1545.6 915h0M1540.6 959h0M1557.2 942.7h0M1537.5 929.1h0M1536 895.9h0M1548.4 944.4h0M1537.4 918.6h0M1570.4 934.8h0M1581.2 966.9h0M1558.1 941.6h0M1543.7 943.8h0M1579.1 935.4h0M1573.7 894h0M1541.9 934.9h0M1552.7 958.2h0M1532.8 963.4h0M1579.2 925.4h0M1564.3 955.1h0M1573.6 887.7h0M1565.3 962.2h0M1532.3 890.9h0M1533.5 931.8h0M1561.8 912.2h0M1541.9 957.5h0M1553.7 971.9h0M1547.3 941.8h0M1575.4 933.3h0M1545.5 942.8h0M1563.4 948.4h0M1578.2 926.6h0M1549.8 934.4h0M1563.8 922.9h0M1577.7 940.4h0M1579.5 929.3h0M1553.7 907.7h0M1577.8 887.4h0M1534.8 929.8h0M1578.9 934h0M1550.1 940.4h0M1578.9 942.2h0M1560.2 940.7h0M1570 990.6h0M1557.7 921h0M1542 925.8h0M1546.4 927.9h0M1575.3 955.1h0M1567 942.9h0M1581.5 965.4h0M1567.5 911h0M1545.2 907.7h0M1558.8 920.6h0M1549 922.9h0M1547.3 953.4h0M1559.5 950.2h0M1546.6 917.1h0M1576.7 926h0M1562.7 924.4h0M1546.6 900.2h0M1565 876.3h0M1533.8 904.9h0M1578.5 892.1h0M1539.6 953.7h0M1557.3 880.2h0M1571.8 926.8h0M1571.8 921.8h0M1556.9 932.2h0M1559.3 923.6h0M1553.3 976h0M1568.7 929.3h0M1540.3 929h0M1578.2 967.4h0M1557.5 957h0M1564.8 888.1h0M1553.4 904.9h0M1553.9 914.3h0M1573.6 947.1h0M1569.1 963.4h0M1566.3 868.1h0M1553.3 904.8h0M1577.5 938.1h0M1572.3 924.8h0M1543.6 880h0M1539.2 915.4h0M1540.1 901.4h0M1574.8 932.5h0M1538 945.8h0M1553.4 939.9h0M1548.1 951.7h0M1557.6 949.3h0M1569.2 935.4h0M1564.5 902.4h0M1546 964.1h0M1562.3 954.7h0M1569.2 926.3h0M1533.6 928.5h0M1570 955.6h0M1560.7 900.3h0M1545 938.5h0M1559.7 943.7h0M1553.6 936.9h0M1573 933.6h0M1540.4 941.5h0M1566.4 885h0M1542.9 917.9h0M1567.8 949.4h0M1568.2 934.8h0M1574.9 902.5h0M1569 910.8h0M1536.1 920.2h0M1574.1 891.1h0M1581.4 917.2h0M1535.4 934.8h0M1569.3 950h0M1571.9 915.3h0M1557.1 929.5h0M1539.2 951.2h0M1538 933.5h0M1543.7 906.2h0M1559 896.8h0M1535 886.6h0M1560.3 907.3h0M1538 926h0M1575.7 902.9h0M1546.7 907.1h0M1553.8 941.7h0M1551.7 920.9h0M1544.1 969.5h0M1578.6 935.9h0M1554.9 954.9h0M1578.3 921.8h0M1574.9 998.8h0" stroke="#3cbf56" stroke-width="4.3" stroke-linecap="round" stroke-opacity="0.3"/>
<path d="M1547 923.6h0M1534.7 908.5h0M1580.6 895.2h0M1537.7 938.7h0M1548 965.9h0M1578.9 896.3h0M1567.8 949.4h0M1533.4 924.7h0M1549.1 904.7h0M1539.6 938.8h0M1565.2 921.1h0M1535 949h0M1557.2 929.5h0M1558.7 906.5h0M1549 945.4h0M1573 936.2h0M1537.5 949.5h0M1533.2 930.1h0M1567.7 966.6h0M1547.6 920.4h0M1540.3 925h0M1568.6 952.5h0M1547 950h0M1581.7 932h0M1566.3 906.6h0M1557.5 896.5h0M1580.2 927.1h0M1569.6 936.4h0M1565.7 942.5h0M1563.6 932h0M1569.3 909.4h0M1545.9 928.6h0M1580.4 895.3h0M1537.9 929.6h0M1561.5 921.3h0M1573.6 930.9h0M1574.4 936h0M1572.3 945.5h0M1565.8 915.6h0M1532.5 908.1h0M1571 906.4h0M1571.2 901h0M1575.5 936.9h0M1551.9 923.4h0M1540.7 945.2h0M1564.2 914.5h0M1535.3 893h0M1543.9 954.9h0M1564.8 925.8h0M1564.4 938.9h0M1580.6 921.8h0M1580.1 957.7h0M1544.8 943.4h0M1537.9 949h0M1558 883.7h0M1575.9 970.5h0M1575 934.1h0M1552 935.9h0M1564.5 957.5h0M1566.3 949.6h0M1574.1 960.9h0M1580.8 931h0M1551.8 925.9h0M1533 922.3h0M1537.6 909.4h0M1545.3 895.5h0M1571.9 922.9h0M1576.6 891.5h0M1547.3 942.3h0M1566.2 922h0M1560.8 955.8h0M1573.9 916.8h0M1561.2 903.7h0M1537 950.5h0M1569.1 905h0M1560.7 916.4h0M1561.5 913h0M1543.7 915.9h0M1580.6 927.3h0M1538.9 923.9h0M1558 908h0M1538.3 905.8h0M1547.5 900.7h0M1534.3 912.7h0M1533.2 899.4h0M1544.4 956.6h0M1553.5 933.1h0M1542 908.3h0M1554 873.3h0M1568.7 918.9h0M1559.6 898h0M1555.4 952.6h0M1550.6 897.4h0M1544.3 940.3h0M1580.8 947.2h0M1578.9 892.2h0M1577.3 928.9h0M1536.7 919.8h0M1561.3 930.8h0M1557.2 947.1h0M1555.9 935.5h0M1565.6 951h0M1567.3 917.7h0M1544.8 935.9h0M1569.7 931.7h0M1578.8 933.1h0M1542.7 955.7h0M1558.5 975.9h0M1541.6 901.8h0M1565.9 978.6h0M1550.5 905.6h0M1534.5 930.3h0M1572.4 970.2h0M1557 935.7h0M1540.3 938.3h0M1564 920.6h0M1573.9 949.6h0M1548.7 942.4h0M1580.6 845.3h0M1576.7 942.1h0M1541.8 928.4h0M1577.9 977.5h0M1544.2 932h0M1550.2 934.4h0M1536.6 936.8h0M1577.8 919h0M1545.5 940h0M1535.5 880.3h0M1543.7 900.4h0M1550 947.7h0M1568.9 931.3h0" stroke="#3cbf56" stroke-width="4.3" stroke-linecap="round" stroke-opacity="0.3"/>
<path d="M1545.2 935.6h0M1558.7 915.9h0M1565.9 901.1h0M1581.7 964.3h0M1541.2 952.7h0M1581.9 916.8h0M1573.3 941.7h0M1565.1 949.2h0M1569.9 899.3h0M1553.6 964.5h0M1564.5 960.2h0M1542.6 966.2h0M1546.1 962.1h0M1545.5 919.4h0M1534.9 900.6h0M1544.8 929.9h0M1576.5 948.9h0M1541.4 921.7h0M1574.8 946.1h0M1546.3 966.5h0M1580.9 916.3h0M1554.9 944.2h0M1576 940.8h0M1546.9 964.2h0M1550.7 900.5h0M1569.7 899.7h0M1566.3 947.7h0M1567 900.5h0M1572.4 928.6h0M1547.8 946.2h0M1572.1 904.1h0M1569.8 932.1h0M1538.9 924h0M1576.1 941.1h0M1577.3 893.1h0M1564.6 950.1h0M1540.6 887.2h0M1537.6 953.9h0M1573.2 924.7h0M1544.7 893.5h0M1560.7 896.8h0M1539.1 986.2h0M1536.6 929.5h0M1576.3 930.5h0M1570.4 933.6h0M1558 901h0M1568.3 939.5h0M1572.9 958.1h0M1580.7 927.4h0M1566.4 899.7h0M1532.5 924.4h0M1573.8 931.9h0M1570.2 921.9h0M1562.4 909.2h0M1565.3 943.6h0M1573.8 962.5h0M1549.4 925.9h0M1581.4 946.6h0M1535.9 890.7h0M1548 929.1h0M1548.4 935.4h0M1542.3 982.4h0M1540.6 919h0M1557.2 901.2h0M1573.5 923.4h0M1539 950.6h0M1575.7 922.7h0M1571 975.9h0M1556.6 956.4h0M1571.5 896.3h0M1560.6 957.8h0M1535.2 912.9h0M1567.7 939.3h0M1534 927.4h0M1565.9 949.6h0M1574.5 917.1h0M1535.8 931.4h0M1532.5 938.8h0M1558.6 942.9h0M1567.6 896.1h0M1563.7 898h0M1547.9 987.4h0M1566.3 944.7h0M1556.6 926.2h0M1538.3 938.8h0M1581.3 903h0M1551.9 916.4h0M1562.5 957.6h0M1565.3 946.2h0M1568.8 932.8h0M1564 911.6h0M1569.1 921.1h0M1562 920.1h0M1536.5 940.9h0M1541.9 923.5h0M1555.9 963.8h0M1555 882.4h0M1560.6 936.7h0M1561.8 938.8h0M1563 885.3h0M1538.9 924.1h0M1555.7 934h0M1545.3 928h0M1573.1 911h0M1550.6 936.9h0M1539.3 934.2h0M1582.1 898h0M1576.8 924.2h0M1555.2 961h0M1546 926.7h0M1562.3 933h0M1535.5 942.8h0M1550.8 977.7h0M1546 929.4h0M1541.8 903.1h0M1560.6 918.7h0M1571.8 982.7h0M1551.9 963.7h0M1548.9 915.8h0M1570.3 899.4h0M1547.5 889.8h0M1558.1 931.6h0M1564.9 905.1h0M1562.6 914.6h0M1538.7 921.2h0M1562.5 875.8h0M1546.6 924.2h0M1559.7 927.3h0M1536.4 913.5h0M1557.9 934.1h0M1579.7 936.6h0" stroke="#3cbf56" stroke-width="4.3" stroke-linecap="round" stroke-opacity="0.3"/>
<path d="M1546 963.3h0M1542.6 917.2h0M1574.2 946h0M1538.9 956.1h0M1540.6 954.5h0M1536.2 892.4h0M1549.3 911.9h0M1555.9 873.5h0M1557 951.9h0M1572.2 899.8h0M1555.6 942.4h0M1575.7 949.8h0M1540.5 910.1h0M1579.6 976.7h0M1559.6 939.6h0M1577.4 905.6h0M1576.1 929.3h0M1569.1 903h0M1578 943.5h0M1565.3 953.2h0M1569.9 965.5h0M1565.4 948.4h0M1577.3 910.2h0M1577.2 910.2h0M1540 909.5h0M1577.7 891.6h0M1555.4 911h0M1565.2 927.8h0M1539.1 925.6h0M1541.7 918.8h0M1568.6 903.4h0M1566.3 969.4h0M1536.4 918h0M1567.1 949.2h0M1561.3 916.1h0M1552.6 903.4h0M1539.8 919.3h0M1553.6 929.2h0M1576.2 912.9h0M1567.8 937.2h0M1551.9 944.5h0M1537.9 931.3h0M1560.3 931h0M1572.5 913.1h0M1534.3 931h0M1571.3 944.9h0M1558.5 949.4h0M1534.7 872.8h0M1552.1 924.4h0M1573.6 904.4h0M1551 895.4h0M1568.2 961.7h0M1576.5 937.5h0M1564.9 908.1h0M1558.8 940.2h0M1563.3 913.4h0M1554.6 934.9h0M1533.9 926h0M1569 866.7h0M1560.5 940.4h0M1535.1 967.5h0M1547.6 939.4h0M1545.2 913.7h0M1540.4 907.1h0M1562.3 952.9h0M1567.9 881.5h0M1560.4 882.1h0M1545.6 953h0M1570.6 979.4h0M1557.9 932.2h0M1576.7 947.2h0M1575 934.1h0M1537.2 958.4h0M1565.7 915.3h0M1537.8 914.6h0M1579.5 927.3h0M1543.4 913.3h0M1578.6 905.8h0M1534.6 948.3h0M1568.5 912.2h0M1554.3 855.2h0M1539.5 940.7h0M1544.3 933.1h0M1532.7 921.3h0M1543.8 963.2h0M1539.7 955.5h0M1558.2 916.6h0M1580.2 917.6h0M1579 906.9h0M1557.5 898.4h0M1539.4 925.9h0M1571.8 891.2h0M1570.3 949h0M1570.4 907.2h0M1540.6 925.4h0M1580.7 934.9h0M1580.8 942.1h0M1562.1 955.3h0M1540 939.2h0M1567.7 970.5h0M1575.5 886.4h0M1536.7 950.1h0M1540.7 978.4h0M1568.8 931.3h0M1546 914.3h0M1572.4 915.7h0M1577.5 907h0M1580.2 912h0M1581.5 965.3h0M1537.4 915.9h0M1567.6 918.8h0M1571.2 922h0M1552.2 958.4h0M1549.9 918.2h0M1548.9 882.3h0M1578.8 896.7h0M1551.4 886.9h0M1539.2 936.5h0M1576.8 920.7h0M1573.7 936.6h0M1550.9 891.5h0M1537.4 929.9h0M1576.3 945.1h0M1574.9 927.4h0M1567.3 913.9h0M1536.5 911.3h0M1575.5 967.2h0M1563.1 954h0M1548.7 954.7h0M1551.5 902.5h0M1552.2 935.8h0" stroke="#3cbf56" stroke-width="4.3" stroke-linecap="round" stroke-opacity="0.3"/>
<path d="M1606.2 975.6h0M1616.4 941.5h0M1613.8 949.1h0M1609.1 956.7h0M1612.5 957.3h0M1630.5 975.5h0M1637.2 927.4h0M1637.6 926.6h0M1624.9 977.9h0M1616.3 932.4h0M1636.4 946.2h0M1611.7 958.3h0M1612.9 979h0M1629.8 952.9h0M1613.8 881.4h0M1604.5 961.7h0M1594.8 945.7h0M1604.4 894.8h0M1614.4 924.7h0M1615.6 947.5h0M1637.8 926h0M1597.8 940.2h0M1618.2 941.5h0M1628.4 960.4h0M1618.4 948.2h0M1632.4 944.8h0M1615.8 929.7h0M1624.2 944.4h0M1607.2 946.4h0M1626.8 906.4h0M1607 944.5h0M1624.2 955.2h0M1593 953h0M1611.1 914.2h0M1609.6 952.2h0M1640.5 959.2h0M1638.1 873.3h0M1622.9 951.5h0M1602.8 892h0M1594.9 952.3h0M1596.1 903h0M1597.7 881.8h0M1640.3 878.3h0M1615.4 925.2h0M1630.8 960.2h0M1607.6 856.2h0M1595.5 987h0M1607 985.4h0" stroke="#8ea6dc" stroke-width="4.3" stroke-linecap="round" stroke-opacity="0.32"/>
<path d="M1498.3 1007.3L1498.4 1003.3L1498.6 999.4L1498.8 995.4L1499.2 991.4L1499.6 987.5L1500.2 983.5L1500.9 979.5L1501.8 975.6L1502.7 971.6L1503.8 967.6L1505 963.7L1506.3 959.7L1507.9 955.7L1509.6 951.7L1511.5 947.8L1513.2 943.8L1514.8 939.8L1516.1 935.9L1517.4 931.9L1518.7 927.9L1520.2 924L1521.4 920L1522.2 916L1522.2 912L1521.6 908.1L1520.4 904.1L1519 900.1L1517.2 896.2L1515 892.2L1512.4 888.2L1509.7 884.3L1507.2 880.3L1505.2 876.3L1503.6 872.4L1502.4 868.4L1501.3 864.4L1500.5 860.4L1499.7 856.5L1499.2 852.5L1498.8 848.5L1498.6 844.6L1498.5 840.6L1498.4 836.6L1498.4 832.7L1498.4 828.7L1498.4 824.7L1498.4 820.8L1498.3 816.8L1498.3 812.8L1498.2 808.8L1498.2 804.9L1498.2 800.9L1498.2 796.9L1498.2 793L1498.2 789L1498.2 785L1498.2 781.1L1498.2 777.1L1498.3 773.1L1498.3 769.1L1498.1 769.1L1498.1 773.1L1498.2 777.1L1498.2 781.1L1498.2 785L1498.2 789L1498.2 793L1498.2 796.9L1498.2 800.9L1498.2 804.9L1498.2 808.8L1498.1 812.8L1498.1 816.8L1498 820.8L1498 824.7L1498 828.7L1498 832.7L1498 836.6L1497.9 840.6L1497.8 844.6L1497.6 848.5L1497.2 852.5L1496.7 856.5L1495.9 860.4L1495.1 864.4L1494 868.4L1492.8 872.4L1491.2 876.3L1489.2 880.3L1486.7 884.3L1484 888.2L1481.4 892.2L1479.2 896.2L1477.4 900.1L1476 904.1L1474.8 908.1L1474.2 912L1474.2 916L1475 920L1476.2 924L1477.7 927.9L1479 931.9L1480.3 935.9L1481.6 939.8L1483.2 943.8L1484.9 947.8L1486.8 951.7L1488.5 955.7L1490.1 959.7L1491.4 963.7L1492.6 967.6L1493.7 971.6L1494.6 975.6L1495.5 979.5L1496.2 983.5L1496.8 987.5L1497.2 991.4L1497.6 995.4L1497.8 999.4L1498 1003.3L1498.1 1007.3Z" fill="none" stroke="#e8615a" stroke-width="1.3"/>
<path d="M1557.6 998.8L1557.7 996.1L1557.9 993.4L1558.1 990.8L1558.3 988.1L1558.6 985.4L1559 982.8L1559.4 980.1L1560 977.4L1560.7 974.7L1561.4 972.1L1562.3 969.4L1563.2 966.7L1564.2 964.1L1565.3 961.4L1566.4 958.7L1567.7 956L1569 953.4L1570.3 950.7L1571.7 948L1573.1 945.4L1574.4 942.7L1575.7 940L1576.7 937.4L1577.6 934.7L1578.1 932L1578.3 929.4L1578.2 926.7L1577.8 924L1577.1 921.3L1576.3 918.7L1575.3 916L1574.3 913.3L1573.2 910.7L1572.1 908L1570.9 905.3L1569.7 902.6L1568.4 900L1567 897.3L1565.7 894.6L1564.4 892L1563.2 889.3L1562.1 886.6L1561.2 884L1560.4 881.3L1559.7 878.6L1559.1 876L1558.7 873.3L1558.3 870.6L1558 867.9L1557.8 865.3L1557.7 862.6L1557.6 859.9L1557.6 857.3L1557.5 854.6L1557.5 851.9L1557.5 849.2L1557.5 846.6L1557.5 843.9L1557.5 841.2L1557.5 838.6L1557.1 838.6L1557.1 841.2L1557.1 843.9L1557.1 846.6L1557.1 849.2L1557.1 851.9L1557.1 854.6L1557 857.3L1557 859.9L1556.9 862.6L1556.8 865.3L1556.6 867.9L1556.3 870.6L1555.9 873.3L1555.5 876L1554.9 878.6L1554.2 881.3L1553.4 884L1552.5 886.6L1551.4 889.3L1550.2 892L1548.9 894.6L1547.6 897.3L1546.2 900L1544.9 902.6L1543.7 905.3L1542.5 908L1541.4 910.7L1540.3 913.3L1539.3 916L1538.3 918.7L1537.5 921.3L1536.8 924L1536.4 926.7L1536.3 929.4L1536.5 932L1537 934.7L1537.9 937.4L1538.9 940L1540.2 942.7L1541.5 945.4L1542.9 948L1544.3 950.7L1545.6 953.4L1546.9 956L1548.2 958.7L1549.3 961.4L1550.4 964.1L1551.4 966.7L1552.3 969.4L1553.2 972.1L1553.9 974.7L1554.6 977.4L1555.2 980.1L1555.6 982.8L1556 985.4L1556.3 988.1L1556.5 990.8L1556.7 993.4L1556.9 996.1L1557 998.8Z" fill="none" stroke="#2db84d" stroke-width="1.3"/>
<path d="M1621.5 987L1622.1 984.8L1622.8 982.7L1623.6 980.5L1624.4 978.3L1625.2 976.1L1626.2 973.9L1627.2 971.8L1628.3 969.6L1629.5 967.4L1630.7 965.2L1631.9 963L1633.1 960.9L1634.1 958.7L1635.1 956.5L1635.8 954.3L1636.3 952.1L1636.5 950L1636.5 947.8L1636.1 945.6L1635.6 943.4L1634.9 941.2L1634 939.1L1633 936.9L1631.9 934.7L1630.8 932.5L1629.7 930.3L1628.6 928.1L1627.6 926L1626.7 923.8L1625.8 921.6L1625 919.4L1624.3 917.2L1623.7 915.1L1623.1 912.9L1622.7 910.7L1622.3 908.5L1622.1 906.3L1621.9 904.2L1621.7 902L1621.6 899.8L1621.6 897.6L1621.5 895.4L1621.5 893.3L1621.5 891.1L1621.5 888.9L1621.5 886.7L1621.4 884.5L1621.3 882.4L1621.1 880.2L1620.9 878L1620.7 875.8L1620.4 873.6L1620.1 871.5L1619.8 869.3L1619.5 867.1L1619.2 864.9L1618.9 862.7L1618.7 860.6L1618.4 858.4L1618.2 856.2L1614.8 856.2L1614.6 858.4L1614.3 860.6L1614.1 862.7L1613.8 864.9L1613.5 867.1L1613.2 869.3L1612.9 871.5L1612.6 873.6L1612.3 875.8L1612.1 878L1611.9 880.2L1611.7 882.4L1611.6 884.5L1611.5 886.7L1611.5 888.9L1611.5 891.1L1611.5 893.3L1611.5 895.4L1611.4 897.6L1611.4 899.8L1611.3 902L1611.1 904.2L1610.9 906.3L1610.7 908.5L1610.3 910.7L1609.9 912.9L1609.3 915.1L1608.7 917.2L1608 919.4L1607.2 921.6L1606.3 923.8L1605.4 926L1604.4 928.1L1603.3 930.3L1602.2 932.5L1601.1 934.7L1600 936.9L1599 939.1L1598.1 941.2L1597.4 943.4L1596.9 945.6L1596.5 947.8L1596.5 950L1596.7 952.1L1597.2 954.3L1597.9 956.5L1598.9 958.7L1599.9 960.9L1601.1 963L1602.3 965.2L1603.5 967.4L1604.7 969.6L1605.8 971.8L1606.8 973.9L1607.8 976.1L1608.6 978.3L1609.4 980.5L1610.2 982.7L1610.9 984.8L1611.5 987Z" fill="none" stroke="#6f8fce" stroke-width="1.3"/>
<path d="M1480.1 784.1L1595.2 784.1" stroke="#111" stroke-width="1.8" />
<text x="1533.8" y="783.3" font-size="23.5" text-anchor="middle" fill="#111" font-weight="bold">***</text>
<rect x="1463.6" y="760.2" width="187.5" height="257.8" fill="none" stroke="#333333" stroke-width="1.4" />
<path d="M1498.2 1018L1498.2 1025.3" stroke="#333" stroke-width="2.6" />
<text x="1498.2" y="1049.7" font-size="22.8" text-anchor="middle" fill="#4d4d4d">0</text>
<path d="M1557.3 1018L1557.3 1025.3" stroke="#333" stroke-width="2.6" />
<text x="1557.3" y="1049.7" font-size="22.8" text-anchor="middle" fill="#4d4d4d">1</text>
<path d="M1616.5 1018L1616.5 1025.3" stroke="#333" stroke-width="2.6" />
<text x="1616.5" y="1049.7" font-size="22.8" text-anchor="middle" fill="#4d4d4d">2</text>
<path d="M1456.3 809.2L1463.6 809.2" stroke="#333" stroke-width="2.6" />
<text x="1447.8" y="818" font-size="22.8" text-anchor="end" fill="#4d4d4d">4</text>
<path d="M1456.3 862.6L1463.6 862.6" stroke="#333" stroke-width="2.6" />
<text x="1447.8" y="871.4" font-size="22.8" text-anchor="end" fill="#4d4d4d">2</text>
<path d="M1456.3 916L1463.6 916" stroke="#333" stroke-width="2.6" />
<text x="1447.8" y="924.8" font-size="22.8" text-anchor="end" fill="#4d4d4d">0</text>
<path d="M1456.3 969.4L1463.6 969.4" stroke="#333" stroke-width="2.6" />
<text x="1447.8" y="978.2" font-size="22.8" text-anchor="end" fill="#4d4d4d">-2</text>
<text x="1412" y="883" font-size="21.8" text-anchor="middle" transform="rotate(-90 1412 883)">IL2RA (Regressed)</text>
<text x="1783" y="753" font-size="43">j</text>
<path d="M1882.5 786.2L2075.2 786.2" stroke="#ececec" stroke-width="1.1" />
<path d="M1882.5 857.6L2075.2 857.6" stroke="#ececec" stroke-width="1.1" />
<path d="M1882.5 928.9L2075.2 928.9" stroke="#ececec" stroke-width="1.1" />
<path d="M1882.5 1000.2L2075.2 1000.2" stroke="#ececec" stroke-width="1.1" />
<path d="M1918.2 756.4L1918.2 1021.1" stroke="#e6e6e6" stroke-width="1.6" />
<path d="M1978.6 756.4L1978.6 1021.1" stroke="#e6e6e6" stroke-width="1.6" />
<path d="M2039 756.4L2039 1021.1" stroke="#e6e6e6" stroke-width="1.6" />
<path d="M1882.5 821.9L2075.2 821.9" stroke="#e3e3e3" stroke-width="2.0" />
<path d="M1882.5 893.2L2075.2 893.2" stroke="#e3e3e3" stroke-width="2.0" />
<path d="M1882.5 964.5L2075.2 964.5" stroke="#e3e3e3" stroke-width="2.0" />
<path d="M1921.7 828.9h0M1925.8 903.7h0M1908.3 909.9h0M1939.6 920.4h0M1938 888.4h0M1908.4 864.9h0M1899.4 849.4h0M1925.9 922.1h0M1917.3 896h0M1909 888.1h0M1923.3 883.8h0M1917.3 904.4h0M1924.3 830.5h0M1939.5 938.4h0M1904.6 872.8h0M1896.8 871.4h0M1913.9 944.2h0M1904.6 914.3h0M1935 934.8h0M1910.2 869.1h0M1913.9 906.8h0M1897.1 835.4h0M1912.3 924.8h0M1899.1 946.9h0M1932.9 839.7h0M1903.2 947.3h0M1904.9 917.7h0M1901.1 954.5h0M1931.1 897.3h0M1936.9 966.5h0M1917.9 924.1h0M1905 915.8h0M1933.4 863.6h0M1910.7 915.5h0M1924.3 976.4h0M1938.2 886.9h0M1918.7 895.2h0M1926.7 899.6h0M1929 869.6h0M1922.6 897.4h0M1939.6 874.4h0M1903.2 901.4h0M1941.5 942.7h0M1921.2 971.6h0M1923.8 900.1h0M1933.3 879.2h0M1907.6 862.7h0M1900.2 898.3h0M1920.5 899.7h0M1903.2 886.1h0M1932.4 888.5h0M1906 872.9h0M1938.8 868.3h0M1913.1 963.6h0M1942.6 922.4h0M1912.1 906.2h0M1908.7 959.3h0M1901.4 883.1h0M1904.5 926.2h0M1902.5 946.8h0M1937.1 922.9h0M1894.1 951h0M1899.8 951.2h0M1932.2 872.7h0M1930.4 913.9h0M1916.2 913.7h0M1938.1 901.4h0M1915.3 889.1h0M1916.3 864.6h0M1921.3 838.2h0M1910.2 908.4h0M1936.1 878.9h0M1909.3 877.5h0M1942.8 907.5h0M1924.6 886.7h0M1932.5 917.5h0M1940.9 874.3h0M1907.1 913.9h0M1916.5 967.1h0M1903.2 926.6h0M1908.7 838.2h0M1933.5 952.7h0M1937.9 879.1h0M1916.5 867.9h0M1927.1 849.5h0M1934.4 874.4h0M1902.8 917.4h0M1929.7 948.3h0M1931.8 911.8h0M1904 879.2h0M1921.9 890.5h0M1896 920.2h0M1913.6 853.1h0M1924.5 891.2h0M1898.6 830.3h0M1920.4 902.9h0M1906 890.5h0M1938.1 851.8h0M1896.5 858.1h0M1934.6 898h0M1910.2 936.9h0M1926.7 902.9h0M1902.8 859.1h0M1910.5 865.4h0M1917 895h0M1922.1 940.3h0M1895.9 857.3h0M1918.5 914.2h0M1930.7 925.8h0M1929.4 919.6h0M1918.2 907h0M1900.8 865.5h0M1910.4 917.2h0M1894.9 910.5h0M1903 903.8h0M1910.8 906.4h0M1927.2 913h0M1902.8 1001.2h0M1928.6 902.2h0M1927.8 878h0M1936.1 889.6h0M1894.7 905.4h0M1917.9 909.7h0M1928.2 869.6h0M1915.7 902.8h0M1918.9 883.2h0M1941.2 942.1h0M1894.4 884.5h0M1920.1 912.7h0M1907.8 884.4h0M1913.8 907.1h0M1916.2 912.4h0" stroke="#ee6b64" stroke-width="4.3" stroke-linecap="round" stroke-opacity="0.3"/>
<path d="M1924.8 924.2h0M1924.1 933.8h0M1908.7 947h0M1921 878.8h0M1930.7 902.2h0M1912.9 882h0M1900.6 941.3h0M1916.1 923.9h0M1912.2 919.6h0M1937.6 909.3h0M1929.7 937.5h0M1894.2 830.9h0M1907.5 862.9h0M1936.6 929.1h0M1897.8 914.2h0M1939.5 889.2h0M1939 878.9h0M1898.8 925.1h0M1894 927.6h0M1918 855.6h0M1899.7 854.3h0M1910.1 900.3h0M1907.3 853.2h0M1941.7 911.3h0M1919 906.6h0M1937.4 919.5h0M1926.6 930.3h0M1904.1 960.7h0M1898 896h0M1942.8 866.6h0M1918.5 862.6h0M1905.9 928.4h0M1902.9 955.8h0M1899.2 908.3h0M1934.5 849.7h0M1894.8 845h0M1911 886.3h0M1906.2 901.4h0M1899.8 946.4h0M1908.8 884.9h0M1926.1 848.8h0M1925.2 908.2h0M1908.9 886.6h0M1930.4 881.1h0M1928.9 868.3h0M1911.5 855.8h0M1925.2 895.4h0M1898.8 882.7h0M1931.1 892.9h0M1910.7 903.3h0M1928.9 855h0M1911.4 856.6h0M1920.6 890.1h0M1932.3 828.5h0M1912.2 894.6h0M1924.1 890h0M1896.1 795.3h0M1925.3 892.8h0M1901.3 901h0M1914.5 891.5h0M1935 917.7h0M1917.5 900.5h0M1914.7 910.1h0M1899.8 890.3h0M1897.2 884.1h0M1942.7 876.4h0M1938.7 961.1h0M1913.9 948.9h0M1922.2 899.3h0M1911.3 870.4h0M1906.4 904.4h0M1940 896h0M1908.7 944.7h0M1939 915h0M1931.2 942.5h0M1940.1 902.5h0M1911.9 911.7h0M1911.4 937.8h0M1938.7 969.8h0M1924.8 868.4h0M1908.3 917.3h0M1901.9 855.9h0M1912.3 892h0M1915.7 915.5h0M1939.7 915.1h0M1931.5 916.5h0M1916.4 875.2h0M1939.6 865.6h0M1908.9 892.6h0M1894.2 895.7h0M1922.7 941.8h0M1937 872.7h0M1938 896.5h0M1911.2 881.8h0M1925.4 899.9h0M1893.5 857.2h0M1939.4 865.1h0M1901.8 906h0M1913.4 947.1h0M1933.1 870.6h0M1911.9 905.7h0M1933.8 915.2h0M1907 951.8h0M1910.4 887.3h0M1937.5 931.5h0M1903.1 976.2h0M1942.8 968.6h0M1910.5 910.9h0M1915.9 919h0M1900.9 957.4h0M1924.6 904.9h0M1942.2 843.2h0M1912.9 893.9h0M1902.3 901.7h0M1896.7 920.1h0M1936.2 913.9h0M1899.5 934.7h0M1922.6 911.9h0M1930.9 932.7h0M1934.7 916.8h0M1895.4 862.6h0M1939.8 918.8h0M1940.8 913.1h0M1915 869.8h0M1933 921.4h0M1925.5 885.9h0M1909.6 834.8h0M1900.8 970h0M1933.3 971.3h0M1942.5 925.3h0M1933.8 886.8h0M1912.4 945.4h0" stroke="#ee6b64" stroke-width="4.3" stroke-linecap="round" stroke-opacity="0.3"/>
<path d="M1934.1 939.2h0M1918.4 944.6h0M1918 891.1h0M1927.3 926.6h0M1899.4 880.5h0M1902.5 876.7h0M1899.2 947.1h0M1916.9 899.4h0M1932.2 909.5h0M1928.3 962.1h0M1916.3 903h0M1913.1 907.3h0M1924.4 822.6h0M1930.7 841.6h0M1906.7 881.7h0M1931.8 931.6h0M1933.9 920.4h0M1911.5 856.6h0M1893.5 872.4h0M1915.7 839.2h0M1933.2 883.6h0M1911.3 957.7h0M1929.4 883.5h0M1925.5 885.4h0M1932.7 951h0M1914.7 823.2h0M1940.7 837.8h0M1894.9 942.9h0M1900 864.5h0M1938.2 938.6h0M1908.7 867.5h0M1908.4 956.1h0M1915.7 861.2h0M1894.8 896.8h0M1909.6 887.8h0M1929 901h0M1905.9 840.7h0M1942.6 908.4h0M1902.1 922.4h0M1922.8 915.6h0M1913.8 875.2h0M1931.2 897.7h0M1930.9 954.4h0M1938.9 895.4h0M1930.5 882.4h0M1934.6 930.4h0M1937.8 960.2h0M1920.8 904.5h0M1917.9 938.7h0M1926 914.1h0M1934 957.7h0M1937.5 967.8h0M1894.5 892.5h0M1917.8 894.8h0M1928.3 905.1h0M1899.2 896h0M1933.1 933.6h0M1921.1 970.4h0M1936 957.5h0M1939.1 916.6h0M1896.7 937.5h0M1937.3 933h0M1942.8 898.9h0M1942.7 828.8h0M1917.2 905h0M1939.9 922.8h0M1939.9 923.3h0M1929.9 853.2h0M1927.5 877.9h0M1925.8 938.1h0M1935.1 903.5h0M1898.9 940.7h0M1926.4 929.9h0M1899.8 841.8h0M1931 891.5h0M1914.8 921.4h0M1938.7 881.1h0M1912.7 856.9h0M1907 966.3h0M1905.1 906h0M1922.3 868.7h0M1930.8 874.4h0M1895.3 839.8h0M1934.5 874.4h0M1927.2 863.8h0M1929.6 908h0M1915 893.8h0M1929.1 875.8h0M1906.5 874.7h0M1930 920.1h0M1901.8 923.9h0M1919.4 934.4h0M1940.8 881.3h0M1933.6 959.5h0M1913.3 940.9h0M1908.4 964.5h0M1925.7 921.4h0M1908 875.7h0M1932.8 874.2h0M1920 865.3h0M1920.5 892.2h0M1921.4 953.6h0M1934.5 842.5h0M1907.2 892.2h0M1927.3 912h0M1921.5 867.1h0M1932.5 931.2h0M1916.7 934.4h0M1922.2 933h0M1900.3 890h0M1909.2 904.7h0M1906.2 967.4h0M1913.6 915.5h0M1919.1 827.4h0M1894.6 868.9h0M1898.3 850.2h0M1936.3 909.1h0M1928.1 873.9h0M1916.5 962.2h0M1904.7 874.6h0M1907.8 833.5h0M1894.5 853.4h0M1898 882.9h0M1940 962.5h0M1933 964h0M1897.8 900.1h0M1912.8 894.7h0M1937 907.5h0M1929.3 883.4h0M1923.1 923.5h0M1909.1 818.7h0M1913.3 768.4h0" stroke="#ee6b64" stroke-width="4.3" stroke-linecap="round" stroke-opacity="0.3"/>
<path d="M1907.1 880.1h0M1941.5 928.1h0M1895.8 880h0M1899.1 908.7h0M1909.3 950.9h0M1898.7 907.9h0M1909 871.7h0M1911.1 812.6h0M1898.7 920.3h0M1901.4 899.5h0M1914.3 885.2h0M1933.4 908.2h0M1931.2 912h0M1922.5 861.7h0M1922.4 902.4h0M1921.9 920h0M1900.1 932.4h0M1933.2 881.9h0M1936.3 904.2h0M1903.3 848.2h0M1920.4 917h0M1905.8 928.2h0M1904.4 838.2h0M1941 924.1h0M1912.5 846.2h0M1933.8 873.5h0M1933.3 959h0M1901.4 908.4h0M1919.3 880.3h0M1919.7 939.5h0M1920.2 889.3h0M1936.1 884.5h0M1934.4 889.3h0M1909 964.8h0M1925.7 922.5h0M1896.3 908.5h0M1905.4 864.3h0M1897.1 904.8h0M1933.7 921.8h0M1896.4 892.4h0M1901.5 911.7h0M1893.8 875.5h0M1910.5 968.8h0M1931.5 892h0M1940.1 875.6h0M1937.2 921h0M1911.1 850.4h0M1934.8 894.8h0M1927.6 855.2h0M1903 930.7h0M1921.1 788.8h0M1904.3 876.3h0M1919.8 875.6h0M1897.2 908.7h0M1934.1 885.8h0M1908.6 848.2h0M1940.5 832.5h0M1934.3 867.8h0M1934.2 904h0M1937.6 857.6h0M1903.5 925.9h0M1928.2 907.8h0M1901.2 882.6h0M1937.3 914.6h0M1933.6 905.9h0M1893.3 906h0M1901.6 951.2h0M1911.6 880.9h0M1938.3 864.5h0M1894.4 911.6h0M1912 964.7h0M1896.6 898.7h0M1942.7 903.2h0M1930.1 895.2h0M1930 808.3h0M1910 901h0M1900.2 958.5h0M1913.9 985.6h0M1902.3 860.1h0M1934.6 888.6h0M1919.5 908.2h0M1916 929.8h0M1936.1 904.7h0M1907.6 831.9h0M1935.9 926.9h0M1923.5 921.5h0M1900.7 869h0M1939.8 923.5h0M1909.7 873.6h0M1934.5 944.7h0M1938.3 893.5h0M1908.4 858.9h0M1932.9 904.4h0M1916.4 932.8h0M1901.7 903.7h0M1925.8 977.7h0M1894.6 875.5h0M1919 873h0M1933.7 899.3h0M1899.6 921.9h0M1915.5 921.2h0M1920.2 886.7h0M1915.9 905.2h0M1929.3 910.6h0M1935.8 905.2h0M1940.1 821.6h0M1921.1 886.9h0M1896.1 932.3h0M1918.8 913h0M1910.8 941.9h0M1913.2 829.1h0M1939.5 962.1h0M1898.8 950.3h0M1924.4 856.4h0M1920.3 842h0M1915.2 918.3h0M1927.1 879.5h0M1923.4 917.6h0M1929.7 860h0M1939.4 879.7h0M1935.2 937.5h0M1939.6 877.3h0M1917.1 904.7h0M1895.2 927.1h0M1924.3 928.1h0M1939.7 907.6h0M1931.7 901h0M1903 906.6h0M1904.6 899h0M1914.2 949h0M1935.2 851.6h0M1941.8 1010.8h0" stroke="#ee6b64" stroke-width="4.3" stroke-linecap="round" stroke-opacity="0.3"/>
<path d="M1925.8 924h0M1919.6 939.5h0M1923.6 894.4h0M1896 918.1h0M1905.3 858.3h0M1894.8 878.7h0M1896.1 898.2h0M1920.2 925.5h0M1936.8 852.2h0M1917.9 908.4h0M1918.5 875.1h0M1909.4 913.3h0M1941.5 915.3h0M1918.8 920.5h0M1921.8 895.4h0M1943 918.8h0M1895.2 927.5h0M1930.2 890.7h0M1924.1 960.8h0M1897.3 893.6h0M1916.2 840.7h0M1908.5 890.7h0M1895.3 870.2h0M1909.8 917.8h0M1937 925.9h0M1907.4 960.7h0M1915.4 890.7h0M1912.4 936.3h0M1938.4 890.3h0M1912.3 846.7h0M1920.4 890.9h0M1908.4 894.4h0M1905.5 878.1h0M1920.6 877.3h0M1910.7 906.9h0M1914.1 950.3h0M1896.3 965.3h0M1914.8 950.7h0M1911.8 895.8h0M1920 873.7h0M1924.5 860.8h0M1924.8 859.4h0M1940.2 897.5h0M1920.7 918.1h0M1924.2 966.2h0M1938 882.1h0M1903.7 919.8h0M1905.6 823.3h0M1911.2 880.8h0M1905.4 905h0M1923.9 882.6h0M1898.9 936.5h0M1901.9 903.2h0M1913.2 959.7h0M1939.4 861.8h0M1911.7 927.5h0M1904.4 877h0M1926.2 915.6h0M1925.5 895h0M1893.5 875.2h0M1931.9 873.4h0M1937.6 837h0M1931.9 896.7h0M1917.2 914.4h0M1929.6 880.9h0M1924.1 895.6h0M1896.4 934h0M1918 862.7h0M1911.8 912.2h0M1938.1 913h0M1939 872.5h0M1927.9 943.3h0M1901.7 901.3h0M1931.9 875.1h0M1895.4 988.7h0M1923.3 918.6h0M1922.9 876.4h0M1905.4 872.4h0M1931.9 949.6h0M1911.7 871h0M1928.9 857h0M1940.9 925.1h0M1904.9 944.9h0M1938.8 927.2h0M1897.6 903.8h0M1942.6 824h0M1935.8 895.8h0M1941.2 898.3h0M1908.6 957.6h0M1909.8 887.3h0M1933.4 901.4h0M1906.2 948.1h0M1898.6 909.7h0M1922.7 939.9h0M1918 870.3h0M1918.2 918h0M1935 890.5h0M1927.3 873h0M1941 947.1h0M1928.2 860.5h0M1918.8 865.5h0M1935 853.5h0M1900.8 875.6h0M1904.6 909.6h0M1909.9 848.6h0M1930.7 960.3h0M1919.1 877.4h0M1923.8 920.3h0M1922.6 941h0M1932.9 882.3h0M1942.4 905h0M1904 888.6h0M1924.6 902.1h0M1940.1 899h0M1941 908.1h0M1936.9 934.8h0M1911.5 903.5h0M1933 908.9h0M1927 892h0M1903 875.5h0M1926 891.4h0M1928 947.6h0M1923.5 920.1h0M1930.6 865.7h0M1911.7 896.9h0M1899.7 940.2h0M1897.3 952h0M1928.5 956.1h0M1896.9 849.7h0M1901.7 916.3h0M1941.7 917.5h0" stroke="#ee6b64" stroke-width="4.3" stroke-linecap="round" stroke-opacity="0.3"/>
<path d="M1937.7 891.7h0M1915.5 854.6h0M1930 883.8h0M1942.2 964.9h0M1906.8 914.3h0M1936.8 861.2h0M1907 870.6h0M1932.5 907.1h0M1893.9 873.1h0M1923.8 870.1h0M1906.2 934.1h0M1898.5 885h0M1934.8 912.9h0M1935.7 855.1h0M1903.1 909.2h0M1927.2 934.3h0M1894.2 878.3h0M1936.6 891.1h0M1909.5 918.3h0M1903.4 913.1h0M1925.2 871.9h0M1934.9 932.2h0M1901.2 864h0M1933.7 986.4h0M1897.1 908.7h0M1929.7 886.5h0M1913.2 954.3h0M1917 934.6h0M1939.1 952.1h0M1922.5 909.5h0M1907.4 891.8h0M1934.5 976.8h0M1923.3 931.6h0M1907.2 857h0M1907.7 877.3h0M1909 895.3h0M1893.9 903.7h0M1909.9 916.2h0M1908.3 823.1h0M1922.4 891.4h0M1907.7 948.2h0M1902.8 923.5h0M1901.9 970.5h0M1913.2 882.2h0M1937 895.2h0M1938.7 898.7h0M1931.1 871.3h0M1932.8 859.2h0M1912.1 883.1h0M1942.7 928h0M1898 929.9h0M1909.9 900.6h0M1917.4 859h0M1933.7 852h0M1936.7 889.3h0M1903.5 907h0M1927.4 873.3h0M1931 872.9h0M1940.8 904.8h0M1893.6 922.5h0M1915.2 844.1h0M1906.8 883.9h0M1930.6 905.2h0M1894.7 920.1h0M1901.9 926.4h0M1900.1 880.1h0M1931.9 870.8h0M1913.1 918.4h0M1941.3 875.2h0M1911.2 918.8h0M1907.1 845.4h0M1910.1 920.2h0M1932.9 976.8h0M1912.2 931.1h0M1940.3 869.4h0M1932.2 878.5h0M1934.9 975.1h0M1923 890h0M1922.4 928.7h0M1924.7 882.4h0M1896.6 904h0M1925.1 903h0M1925.9 905.3h0M1901.2 846.1h0M1941.5 851.8h0M1904.4 908.8h0M1936 929.3h0M1928.4 947.1h0M1895.1 815.6h0M1928.9 873.9h0M1920 863.3h0M1920.3 882.6h0M1905.4 889.8h0M1916 915h0M1906.5 904.4h0M1926.3 912h0M1901.6 905.2h0M1916.4 878.7h0M1910 885.3h0M1906 891.6h0M1924.9 921.5h0M1926.2 909.5h0M1938.1 886.8h0M1897.4 835.9h0M1908.4 848.8h0M1893.4 872.5h0M1925 915.2h0M1905 951h0M1911.2 959.7h0M1908.7 814.9h0M1931.1 895.5h0M1904.4 950.9h0M1927.8 875.3h0M1934.2 869h0M1942.1 963.9h0M1932.3 876.1h0M1909.9 908.3h0M1906.9 931.1h0M1894 908.8h0M1914.7 870.2h0M1899.3 897.7h0M1926 876.8h0M1941.8 945.8h0M1893.9 796.6h0M1907.8 937.1h0M1936.9 910.6h0M1923.6 942.2h0M1925.2 926.4h0M1922.6 897.8h0M1902.4 878.6h0M1926.7 886.4h0" stroke="#ee6b64" stroke-width="4.3" stroke-linecap="round" stroke-opacity="0.3"/>
<path d="M1938.6 852.2h0M1940.4 916.8h0M1914.5 907.8h0M1907.4 858.6h0M1893.5 955.2h0M1930.6 967.9h0M1903.3 942.5h0M1908.6 954.3h0M1920.3 944.4h0M1894.9 868.8h0M1937 866.9h0M1902.5 903h0M1914.9 912.1h0M1924.5 931.4h0M1902.6 898h0M1893.5 983.3h0M1932.2 975h0M1941.6 919.7h0M1899.6 837.9h0M1899.6 917.1h0M1904.9 851.6h0M1893.6 870h0M1942.1 938.5h0M1895.3 933.8h0M1924.4 838.8h0M1938.6 937h0M1898.1 893.5h0M1902 903.5h0M1921.7 863.9h0M1932.7 865.9h0M1916.1 965.9h0M1939.6 961.6h0M1936.7 913.1h0M1934.4 882.3h0M1898.9 872.5h0M1938.3 908h0M1920.7 902.5h0M1902.2 882.9h0M1908 937.3h0M1909.2 874.1h0M1901.4 906.4h0M1910 876.1h0M1926.4 935.1h0M1924.7 932.6h0M1930.2 942.6h0M1927.8 901.7h0M1938.7 907.5h0M1895.5 881.2h0M1919.2 906.3h0M1925.7 877.4h0M1914.6 927.5h0M1901.7 912.8h0M1940.4 861.6h0M1932.1 927h0M1936.8 928.9h0M1902.5 875.6h0M1897.4 887.6h0M1936.9 871.9h0M1933.7 847.1h0M1915.5 903.9h0M1909.2 944.6h0M1921.2 923.9h0M1906.1 904.4h0M1932.4 932.1h0M1909.7 929.5h0M1936.4 950.4h0M1916.5 957.7h0M1926.9 911h0M1928.3 898.7h0M1893.8 897.6h0M1910.4 883.2h0M1898.4 944h0M1922.9 877.7h0M1894.8 900.8h0M1941 921.6h0M1913.8 930.5h0M1913.5 896.6h0M1904.3 902.9h0M1899.2 947.2h0M1933 853.9h0M1896.4 905.5h0M1935.5 854.2h0M1894.1 845.9h0M1941.6 911.8h0M1895.2 901.8h0M1938.7 882.2h0M1930.7 873.8h0M1930.3 875.8h0M1900.7 873.1h0M1936.6 895.1h0M1920 848.9h0M1898.2 927.1h0M1924.7 880h0M1940.8 916.5h0M1940.7 923.7h0M1921.9 953.7h0M1914 896.7h0M1928.5 948.5h0M1905.6 968.2h0M1894.5 944.3h0M1902.3 923.6h0M1906.5 883.2h0M1923 945.3h0M1936.2 908.9h0M1909.8 878.4h0M1917 940.6h0M1913 901.3h0M1906.5 930.6h0M1906.2 907.8h0M1904.5 914.8h0M1904.2 952.1h0M1910.3 917.9h0M1904.4 922.2h0M1901.1 944h0M1894.4 930h0M1902.2 889.3h0M1897.7 921.3h0M1926.6 881.5h0M1903.8 921h0M1935.7 893.4h0M1917.7 965.1h0M1911.7 842h0M1928.4 902h0M1897.7 888.6h0M1915.9 900.4h0M1894 892.9h0M1936.6 908.3h0M1931.9 859h0M1921.9 839.9h0M1906.8 894.5h0M1933 871.2h0" stroke="#ee6b64" stroke-width="4.3" stroke-linecap="round" stroke-opacity="0.3"/>
<path d="M1902.5 871.5h0M1925 926.5h0M1935.5 854.4h0M1903.9 923.7h0M1919.4 820.9h0M1921.2 864.1h0M1902.8 916.1h0M1896.7 882.7h0M1915.4 911.4h0M1897.6 908.5h0M1941.3 868.6h0M1928.8 936h0M1933.7 945.1h0M1929.3 887.1h0M1940.7 944.4h0M1940.2 943h0M1932.8 838.9h0M1930.9 924.1h0M1909.8 891.6h0M1898.2 988.2h0M1894.4 880.6h0M1915.7 921.2h0M1910.5 881.8h0M1905.1 902.1h0M1902.6 903.9h0M1924.5 882.5h0M1931.6 949.9h0M1914.4 948.5h0M1897.8 867.7h0M1942.9 854h0M1939 872h0M1937 902.1h0M1939.9 919.7h0M1925.7 884.2h0M1932.6 826.8h0M1914.8 839.5h0M1930.1 904h0M1941.3 937.7h0M1909.5 872.3h0M1936.6 972.5h0M1919.8 989.6h0M1929.4 840.8h0M1897.3 836.7h0M1925.6 905.8h0M1912.2 881.1h0M1918.1 915.6h0M1903.5 919.4h0M1903.7 952.5h0M1893.3 971.8h0M1913.7 936.4h0M1912.8 873.3h0M1894.4 895.2h0M1942.1 897h0M1929.4 925.6h0M1910.2 893.7h0M1925.8 893.1h0M1904.2 914.7h0M1922.4 896.7h0M1913.3 947.9h0M1938.7 920.7h0M1941.2 800.6h0M1942.1 893.2h0M1942.7 969.5h0M1922.4 909.5h0M1915.9 940.5h0M1919.6 911.3h0M1932.1 843.7h0M1896.8 852h0M1912.4 873.9h0M1897.5 917.1h0M1940.8 960.6h0M1897.8 892.7h0M1936.5 913.9h0M1931.2 893.3h0M1910.8 904.2h0M1928.1 927.2h0M1907.4 881.9h0M1906.3 918.8h0M1941.8 883.9h0M1928.4 928.8h0M1893.3 915.3h0M1898.2 894.9h0M1915.2 895.9h0M1907.5 872.5h0M1927 908.5h0M1933.5 908.2h0M1894.9 895.7h0M1908.3 887.4h0M1907 946.2h0M1894.7 961.4h0M1934.8 926h0M1934.5 904.7h0M1940.3 907.7h0M1923.8 913h0M1904.2 937.2h0M1923.9 915.5h0M1925.6 847.7h0M1942.7 891.9h0M1926.5 905.2h0M1893.3 871.3h0M1933.2 838.3h0M1936.5 932.5h0M1894.1 940.3h0M1922 907.3h0M1916.7 863.8h0M1924.7 874.5h0M1922 972.6h0M1900.8 911h0M1931.6 908.7h0M1914.7 936.7h0M1918.6 920h0M1909.5 882h0M1899.9 945.9h0M1906.1 871.4h0M1905.7 958.3h0M1919.1 919.1h0M1938.3 907h0M1903.8 925.6h0M1903.7 932.8h0M1907.3 867.7h0M1919.6 955.9h0M1905.5 860h0M1940.6 913.9h0M1895.7 920h0M1909.7 882h0M1893.4 910.3h0M1917.4 916.6h0M1925.5 884.5h0M1926.4 916.1h0M1927.4 970.5h0M1907.8 888.7h0" stroke="#ee6b64" stroke-width="4.3" stroke-linecap="round" stroke-opacity="0.3"/>
<path d="M1970.2 879.6h0M1985.4 907.9h0M1955.3 900.1h0M1954.8 870.8h0M1997.2 918.9h0M1978.8 854.5h0M1994.9 927.2h0M2000.2 924.5h0M1976.2 908.2h0M1965.2 950h0M1972 883.9h0M1954.7 908.6h0M1954.5 929.3h0M1979.5 836.9h0M1998.4 960.3h0M1977.1 907.5h0M1992.4 922.1h0M1970.5 918.2h0M1983.8 888.6h0M1968 874.7h0M1967.2 926.9h0M1978 905.8h0M1995.1 920.5h0M1999.5 849.4h0M1981.7 914.7h0M1984.7 893.3h0M1956.3 929.9h0M1962.7 906.4h0M1966.3 844.9h0M1994.5 943.9h0M1969.8 904h0M2002.5 890.6h0M1955.5 906.1h0M1982.3 880.4h0M1996.1 912.9h0M2001.6 866.2h0M1997.2 898.8h0M1999.3 907.3h0M1986.9 898.2h0M1954.7 917.1h0M1965.8 854.2h0M1986.2 931.7h0M1960.2 936.9h0M1953.9 910.1h0M1985.2 941h0M1954.4 943.4h0M1985.1 878.2h0M1991.4 906h0M1955.3 970.6h0M1998.2 875.3h0M1983 922.7h0M1999.2 871.3h0M1979.6 899.7h0M1971.9 888.1h0M1986.4 920.3h0M1998.6 882.1h0M1975.6 907h0M1982.4 946h0M1986.7 907.2h0M1963.5 979.5h0M1967.4 950.3h0M1963.3 880.6h0M1998.9 890.9h0M1991.1 865.5h0M1992.6 889.6h0M1964.9 895.9h0M1984 965.9h0M1989.3 926.5h0M1965.5 922.7h0M1957.1 934.7h0M1982.3 904.5h0M1957.6 943.4h0M1967.4 927.9h0M1959.1 869.3h0M1981.1 918.6h0M1978.7 905.3h0M1965.2 863.6h0M1984.9 902.8h0M1956.3 878.7h0M1983.1 906.3h0M1966.1 856.4h0M1971.3 900.5h0M1986.3 931.5h0M1993.3 876.7h0M1990.2 906.1h0M1971.9 849.2h0M1994.9 866.9h0M1984.2 924.4h0M1971.4 946h0M1975.4 945.3h0M1964.8 873.3h0M1986.6 902.5h0M1978.2 904.8h0M1998.4 837h0M1976.7 890.4h0M1968.7 932.3h0M1987.4 914.2h0M1987.6 933.8h0M1983.3 897.4h0M1962.3 864.5h0M2000.5 928.1h0M1972.4 858.3h0M1978.1 921h0M2003.6 882.2h0M1976.6 952.2h0M1967.5 935.4h0M1973.3 928.8h0M1968.8 893.9h0M1958.4 908h0M1969.9 931.3h0M1959.5 920.6h0M1987.2 931h0M1998.6 894.4h0M1995.2 897.3h0M1989.5 867.2h0M2002 945.2h0M1955.4 939.8h0M1990.3 926.7h0M1990.2 929.7h0M2001.5 911.3h0M1997.5 873.2h0M1956.6 906.4h0M2000.6 951.5h0M1970.5 899.6h0M2003.3 959.5h0M1993.8 895.2h0M2003.4 910.6h0M1965.2 859h0M1995.7 927.6h0M1986.6 898.3h0M1955.4 865.8h0M2001 924.9h0" stroke="#3cbf56" stroke-width="4.3" stroke-linecap="round" stroke-opacity="0.3"/>
<path d="M2001.9 884.6h0M1978.4 932.4h0M1985.5 865.5h0M1996.4 908.3h0M2003.2 970h0M1996.6 833.5h0M1988.8 927.4h0M1990.8 931.7h0M1990.5 855.3h0M1978.1 906h0M1966.6 920.4h0M1972.5 922.6h0M1991.2 885.1h0M1976.2 904.7h0M1981.8 917.6h0M1973 897.2h0M1957.9 842.5h0M1953.6 954.5h0M1961.4 858.8h0M1980.4 903.9h0M2003.1 864.5h0M1961.7 940.7h0M1975.1 893.8h0M1992.9 936.4h0M1994.1 881.7h0M1981.3 849h0M1970.2 922.6h0M1959.6 865.2h0M1998.7 907.8h0M1976.2 921h0M1955.8 904.9h0M1983.9 856.8h0M1971.5 934.3h0M2001.4 976h0M1976.3 896.3h0M2000.7 921.7h0M1998.3 923.3h0M2003.1 944.2h0M1989.4 920.5h0M1981.2 941.5h0M1963.5 909.4h0M1959.8 926.6h0M1962.6 957.5h0M1992.8 916.8h0M1995.1 911h0M1992.1 896.2h0M1971.3 973.9h0M1997.6 917.2h0M1964.4 929.6h0M1966.9 858.7h0M1971.9 890h0M1989.4 896.4h0M1992 867.5h0M1975.4 907.8h0M1971.9 927.2h0M2000 846.7h0M1960.4 902.2h0M1966.6 922.8h0M2001.8 881h0M1957.9 881.9h0M1963.6 933.9h0M1979.2 926.6h0M1983.5 894.8h0M1997.8 984.9h0M1995.3 954.2h0M1966.4 914.4h0M2001.7 889.8h0M1999.5 904.8h0M1985.5 904.5h0M1994.9 840.1h0M1958.6 879.7h0M1961.2 872h0M1971.3 885.5h0M1987.5 922.9h0M1988.5 908.9h0M1968 914.2h0M1955.2 943.7h0M1966.7 897.1h0M1976.6 887h0M1995 925.9h0M1964.2 936.6h0M1969.6 943.7h0M1954.9 917.1h0M1965 891.8h0M1999 899.6h0M1967.5 911.4h0M1979.1 864.7h0M1954.5 903.3h0M1959.6 880.4h0M1986.9 879.7h0M1989.1 916.5h0M1954.4 952.2h0M1974.3 833.1h0M2001.7 921.9h0M1996.4 922.3h0M1965.8 897.7h0M1967.9 890.8h0M1997.2 911.2h0M1989.9 928.5h0M1970.3 907.4h0M1961.3 887.5h0M1986.8 884h0M1964.9 904.2h0M1980 892.7h0M1967 904.5h0M1978.7 921.5h0M1982.8 976h0M1987 936.8h0M1966.1 958.5h0M1963.1 890.3h0M1992.4 863.2h0M1982.6 897.7h0M1959.7 954.1h0M1961 927.7h0M1988.2 928.5h0M1994.7 872.9h0M1965.9 977.7h0M1962.6 878.2h0M1967.2 931.5h0M1993.4 838.6h0M1993.3 909h0M1978.1 869.8h0M1999.7 890.6h0M1961.9 926.3h0M1958.5 914.5h0M1966.2 874.4h0M1985.1 858.5h0M1977.3 888.9h0M1964.8 859.8h0M1988.3 888.6h0M1958.3 904.1h0M1953.9 889.6h0" stroke="#3cbf56" stroke-width="4.3" stroke-linecap="round" stroke-opacity="0.3"/>
<path d="M1990.2 945.2h0M1982.8 852.3h0M1991.9 894.4h0M1975.8 901.7h0M1981.9 921h0M1960.8 927.8h0M1997.2 935.1h0M1963.1 857.3h0M1971.1 906.7h0M1992.6 947.9h0M1973.4 877.9h0M1986.2 852.2h0M1975.3 928.9h0M1997.2 922.1h0M1971.2 962.3h0M1978.5 861.4h0M1983.9 928.4h0M1999.3 877.6h0M1991.5 895.9h0M1958.1 919.8h0M1970.8 861h0M1964.6 881.1h0M1986.6 931.4h0M1969.5 930.4h0M1979.8 919.9h0M1961.9 917.5h0M1978.6 950.1h0M1993 850.1h0M1991.7 898.1h0M1983.7 849.3h0M1957.1 931.2h0M1965.5 855.8h0M1990.9 866.8h0M1959.7 902.1h0M1959.8 922.6h0M1960.9 867.6h0M1997.1 908.8h0M1972.3 899.7h0M1968.3 889.9h0M2002.3 919.6h0M1977.8 824.3h0M1976.6 888.5h0M1997 907.2h0M1963.5 975.5h0M1994.4 913h0M1971.2 889.8h0M1967.3 880.5h0M1982.1 947h0M1973.6 885.3h0M1970.3 917.1h0M1981.8 949h0M1992 879.8h0M1975.3 882.3h0M1972.8 887.2h0M1993.1 907h0M1959.4 905.8h0M1997.3 942.7h0M1989.9 903.8h0M1980.3 872.7h0M1975.6 935h0M1982.1 874.7h0M1989.6 914.8h0M1977.7 924.9h0M1995.9 907.6h0M1961.6 878h0M1995.3 952.6h0M1991.8 888.1h0M1955 920.6h0M1956.2 851.2h0M1959.8 846.2h0M1970.6 953.9h0M1993 944.7h0M1973.6 944.7h0M1975.9 886.8h0M1965.1 913h0M1992.8 913.8h0M1997.2 889.5h0M1971.3 895h0M1991.7 869.7h0M1999.4 909.6h0M2002.4 936.7h0M1974.4 915.8h0M1966.3 952.3h0M2002.2 984.1h0M1977.2 887.5h0M1960.4 936.3h0M1954.5 850.9h0M1987.2 911.2h0M1972.5 889.1h0M1976.4 893.6h0M1994.3 863.1h0M1982.8 853.1h0M1984.9 856.6h0M1976.3 896.5h0M1969.2 945.9h0M1991.7 907.8h0M1967 887.8h0M1966.8 901.7h0M1962.5 890.9h0M1966.2 884.4h0M1977.5 872.8h0M1968.3 885.6h0M1985.9 971.8h0M1956.9 938.3h0M1956.1 918h0M1988.9 943.7h0M1958.7 830h0M1999.2 887.1h0M1998 920.8h0M1954.7 929.5h0M1976.5 891.6h0M1962.8 837.2h0M1999.5 946.9h0M1994.5 895.8h0M2002.4 889.3h0M2002.1 837.3h0M1962.8 899.5h0M1977.1 918.8h0M1991.4 895.3h0M1992.4 891.3h0M1975.4 919.8h0M1986.3 879.4h0M1974.6 881.6h0M1974.3 881.2h0M1964.1 889.6h0M1994.8 930.8h0M1965.3 902.8h0M1954.4 896h0M1997.3 920.2h0M1955.4 949.6h0M1958.2 923.9h0M1987.9 800.5h0" stroke="#3cbf56" stroke-width="4.3" stroke-linecap="round" stroke-opacity="0.3"/>
<path d="M1967 906.1h0M1970.7 874.3h0M1985.2 934.6h0M1986.7 941.5h0M1976.9 882.9h0M1970.9 852.6h0M1960.4 883.1h0M1988.3 898.2h0M1969.1 913.8h0M1997.1 898.8h0M1963.9 927.6h0M1985.9 902.8h0M1963.3 923.7h0M1974.9 913.1h0M1964.2 956.3h0M1968.5 856.8h0M2000 942.1h0M1976 943.6h0M1992.9 920.6h0M2001.6 909.2h0M2003.6 885.9h0M1960.8 932.4h0M1954.3 953.2h0M1959.4 919.9h0M2000.5 908.2h0M1997.6 895h0M1966 961.2h0M1997.7 835.3h0M1967.1 939.6h0M1999.4 925.3h0M1972.6 847.3h0M1969.9 873.6h0M1998.7 892.3h0M1992.3 910.9h0M1987.8 940.6h0M1965.3 946.7h0M1972.8 932.8h0M1964.9 912.4h0M1970.2 900.7h0M2000.8 900.6h0M1981.4 923.5h0M1963.2 888.9h0M1981.7 970.3h0M1971.2 833.9h0M1976.4 935.5h0M1959.6 886.8h0M1964.1 923.5h0M1990.8 881.2h0M1975.8 921.3h0M2002.7 896.3h0M1985.8 964.1h0M1996.5 946.7h0M1988.5 914.9h0M1970 928.5h0M1967.9 913.5h0M1993.7 948.4h0M1998.1 922.6h0M1983.3 879.7h0M1984.1 882.5h0M1994.4 851.9h0M1977.5 933.9h0M1964.5 808h0M1967.1 951.3h0M1969.6 936.1h0M1995.3 902.7h0M1998.5 854.7h0M1985.2 908.8h0M1965.2 936.6h0M1965.9 899.1h0M1979.3 948.2h0M1988.6 953.3h0M1986.5 890.5h0M1958.4 839.9h0M1980 910.9h0M1979.9 882.4h0M1984.1 898.1h0M1997 937.8h0M1969.8 942.1h0M1993.2 961.3h0M1991.3 920.1h0M1984.4 887.4h0M1996 938.8h0M1987.2 916.6h0M1955.3 878.6h0M1997.4 875.9h0M1994.2 902.2h0M1993.7 970.5h0M1965.1 978.2h0M1956.8 861h0M1956.6 833.8h0M1983.8 874.8h0M1997.3 818.6h0M1973.6 901.6h0M1969.6 886.6h0M1979 954.7h0M1978.1 864.9h0M1969.3 916.8h0M2002.8 918.1h0M1981.5 887.2h0M1954.5 861.6h0M1957.9 916.3h0M1967.3 918.2h0M2002.7 925.6h0M1985.2 924.5h0M1973.4 898.7h0M1980.3 963.1h0M1970.3 909.5h0M1965.8 881.4h0M1992.7 894.1h0M1980.2 950.2h0M1984.3 890.3h0M1987.9 908.3h0M1998.8 902.4h0M1992.8 879.5h0M1962.9 940h0M1994.3 907.4h0M1991.4 914.3h0M1955.7 911.8h0M1980 904.8h0M1994.6 866.7h0M1992.8 918.9h0M1987.1 893.8h0M1979.5 921.6h0M1976.7 886.3h0M1993.9 950.9h0M1999.8 918.4h0M1994.6 884.9h0M1968 908.1h0M1992.9 876.9h0M1988.7 898.5h0M1957.1 886.3h0M1971.9 1005.1h0" stroke="#3cbf56" stroke-width="4.3" stroke-linecap="round" stroke-opacity="0.3"/>
<path d="M1975.3 911.8h0M1960.1 946.2h0M2001.4 912.3h0M1978.7 917.6h0M1982 891.7h0M1985 814.1h0M1974.3 928.7h0M1986.2 878h0M1965.8 930.2h0M1982.6 884.2h0M1984.9 892.7h0M1984.6 912.2h0M1960.6 903.1h0M1961.8 875h0M1960.8 934.3h0M1978.7 851.5h0M1983 890.2h0M1969.6 888.1h0M1958.2 881.6h0M1961 901h0M1972.3 943.9h0M1969.8 902.2h0M1979.9 932.3h0M1972.7 893.2h0M1985.4 937.9h0M1987.2 883.3h0M1989.8 897.9h0M1988.1 868h0M1980.3 879.8h0M1967.9 968.9h0M1998 888.8h0M1980.2 913.5h0M1997.3 874.4h0M1990 939.1h0M1961.9 949.2h0M1991.7 946.2h0M1965.5 944.4h0M1984.2 909.2h0M1977.4 883.1h0M1960.9 880.3h0M1964.1 908.4h0M1960.8 879.1h0M1967.4 937.2h0M2001.9 854.1h0M1992.5 875.8h0M1960.8 930.1h0M1957.3 964.9h0M1984.8 900.4h0M1957.1 895.7h0M1966.2 906.3h0M1981.4 905.4h0M1996.1 878.2h0M1972.2 886.6h0M1972.6 867.3h0M1976.6 955.7h0M1985.1 913.6h0M2002.4 954.2h0M1989.8 900.5h0M1978.3 874.5h0M1995.3 882.7h0M1964.4 865h0M1964.2 865.8h0M1965.3 928.2h0M1962.7 907.9h0M1969.4 885.4h0M1976.1 867.4h0M1984.1 897.4h0M1986.6 885.2h0M1994.5 888.2h0M1983.1 868.8h0M1983.5 910.8h0M1968.4 877.5h0M1993.1 867.4h0M1971.5 906.2h0M1989.6 867.4h0M1974.2 960.4h0M1993.7 920.7h0M1969.8 877.5h0M1955.3 914.9h0M1961.3 922.5h0M1997.4 953.9h0M1968.6 918.4h0M1987.5 949h0M1990.7 910.1h0M1970.1 923.5h0M1994.7 944.3h0M1966.1 942.7h0M1992.1 890.8h0M1994.7 962h0M1953.7 882.9h0M1963.9 849.6h0M1996.8 878.9h0M1999.8 992.5h0M1954.1 871.1h0M2000.9 925.5h0M1965.7 927.5h0M1994.2 922.7h0M1987.6 931.3h0M1993.8 926.5h0M1975.3 911.3h0M1976.5 926.4h0M1959.3 897.4h0M1979 940.8h0M1983.5 938.5h0M1985 898.1h0M1971.6 949.9h0M1994.3 944.8h0M1961.7 893.8h0M1994 881.3h0M1973.2 896.8h0M1985 920.7h0M1981 912.6h0M1955.7 913.7h0M1956.8 854.6h0M1963.3 913.4h0M1979.5 868.6h0M1954.3 967.1h0M1977.2 936.2h0M1987 881.6h0M1963.1 919.2h0M1988 913.4h0M1973.4 949.7h0M1961.3 878.5h0M1957.5 949.5h0M1996.3 847h0M1966.4 918.6h0M1987.3 851.6h0M1988.3 958.3h0M1962.9 858.1h0M1965.4 886.3h0M1954.3 916.1h0" stroke="#3cbf56" stroke-width="4.3" stroke-linecap="round" stroke-opacity="0.3"/>
<path d="M1975.1 915.3h0M1973 892.9h0M1968.9 877.6h0M1979.9 954.6h0M2001.5 964.5h0M1985.1 909.1h0M1974.1 935.5h0M1966.1 901.9h0M2002.3 903.4h0M2000.1 912.9h0M1961.7 899.5h0M1954.3 889.7h0M1972.6 870.6h0M1983.2 913.9h0M1974.3 909.1h0M1973.1 890.1h0M1976.4 876.7h0M1953.9 917.6h0M1984.4 986.5h0M2003 879.1h0M1959.3 887.2h0M2003.2 867.9h0M1995.3 881.5h0M1977.6 938.8h0M1978.6 913.6h0M2002.8 818.9h0M1963.1 917.2h0M1965.6 874.2h0M1954 890.6h0M1960.6 872.3h0M1964.9 911.4h0M1973.7 956.1h0M1972.6 907.5h0M2003.3 961.9h0M1961.9 908.2h0M1962.4 859.6h0M1980.2 889.5h0M1999 892.8h0M1977 907.2h0M2003.5 910.6h0M1978.5 844.5h0M1982.2 869.2h0M1972.9 898.4h0M1956.6 914h0M1965.5 917.5h0M1967 858h0M1976.5 909.9h0M1986.2 875.1h0M1986.5 916h0M1963.6 891.1h0M2003.4 893.3h0M1965.5 887.6h0M1970.5 860.5h0M1981.8 956.7h0M1976.3 956.3h0M1978.6 920.3h0M1957.4 931.1h0M1997.6 915.3h0M1954.7 914.5h0M1994.1 885.1h0M2001.2 868.6h0M1989.5 879.6h0M1972.2 868.2h0M1954.7 986.3h0M1979.4 914.1h0M1959.3 847.6h0M1979.4 912.9h0M1995.7 869.3h0M1980.1 859.3h0M1974.3 936.4h0M1967.2 868.4h0M1973.8 960.5h0M1975.9 931h0M1996.5 914.5h0M1959.3 911.9h0M1970.6 888.6h0M2003.1 920.6h0M1967.2 941.1h0M1994.5 910.6h0M1968.4 877.5h0M2001.5 897.6h0M1979.1 875h0M2002.1 918.7h0M1974 878.5h0M1996.6 880.3h0M1964.7 862.8h0M1979.1 964.5h0M1966.5 960.5h0M1968.9 940.7h0M2002.3 939.1h0M1968.9 883.9h0M1995.6 862.1h0M2002.3 914.5h0M1955.9 886.2h0M1976.4 895.6h0M1968.7 959.2h0M1962.7 885h0M1977 887h0M1968.5 903.5h0M1973.8 942.1h0M1971.3 888.3h0M1973.8 887.6h0M1976.5 909h0M1974.6 894.5h0M1954.9 888h0M1996 962.9h0M1999.7 939.2h0M1968.6 898.7h0M1982.1 860.5h0M1972.4 973.1h0M1992.8 937.4h0M1991.7 931.8h0M1968.8 878.6h0M1999 900.7h0M1966.6 896.4h0M1991 862h0M1980.5 889.5h0M1955.7 870.3h0M1989.6 873.9h0M1973.1 943.1h0M1982.2 891.2h0M1967 956.1h0M1965.3 849.4h0M2002.3 829.7h0M1986.9 935.3h0M1989.4 877.3h0M1992.6 891.6h0M1969.6 950.3h0M1979 881.5h0M1980.4 929.2h0M2001.1 916.3h0" stroke="#3cbf56" stroke-width="4.3" stroke-linecap="round" stroke-opacity="0.3"/>
<path d="M1976.6 899.3h0M1994 892.8h0M1961.9 844.6h0M1972.4 954.8h0M1970.2 964.7h0M1970.2 828.4h0M1968.1 929.7h0M1970.8 955.5h0M1966.1 929.1h0M1968 888h0M1989.1 954.9h0M1990.9 850.5h0M1986.6 907.4h0M1958.1 859.2h0M1974.6 923.8h0M1963.7 915.9h0M1997 974.8h0M1964.5 885.4h0M1970.3 984.4h0M1954.9 884h0M1972.5 888h0M1980.4 871.8h0M1971.5 910.5h0M1966.7 914.4h0M1977.9 928.1h0M1973.9 941.6h0M1999.5 910.4h0M1995.5 907.7h0M1959.1 931.1h0M1966.8 925.9h0M1992.5 920h0M1976.2 934.5h0M1971.6 897.5h0M1966.1 928.7h0M2003.3 894.4h0M1958.7 873h0M1955.2 923.8h0M1982 890.3h0M2003.1 939.8h0M1999 962.5h0M1980 897.1h0M1994 875.8h0M1960.8 959.5h0M1970.7 872.7h0M1993 895.3h0M1994.2 885.3h0M1986 924.4h0M1992.3 900.2h0M1985 900.2h0M1956.4 896.9h0M1991 927.7h0M1973.7 836.4h0M1985.4 899.8h0M1960.6 904.6h0M1970.2 888.3h0M1963.9 910.1h0M1961.7 899.7h0M1965.5 930.9h0M1998.3 863.5h0M2001.6 916.3h0M1956.9 917.2h0M1998.8 901.3h0M1999.4 844.3h0M1986.9 856.5h0M1996 961.8h0M1994.9 931.9h0M1980.4 855.4h0M1982.1 934.8h0M1983.7 955.7h0M1970.4 910.6h0M1980 880h0M1964.5 883.8h0M1954.3 887.2h0M1968.4 922.2h0M1995.9 904.2h0M1992.3 886.2h0M1975.1 949.5h0M1970.8 944.1h0M1969.4 918.2h0M1968 922.3h0M1996.6 994.9h0M1992.9 887.1h0M1986.4 908.7h0M1965.4 952.1h0M2000.6 925.6h0M1960.9 881.4h0M1962.9 904.8h0M1980.5 890.2h0M1954 853.8h0M1983 862.4h0M1996.3 905.8h0M1972.4 898.6h0M1975.6 894.7h0M1978.3 915.4h0M1994 895.9h0M1986.3 846.3h0M1961.6 878.7h0M1976.2 915.4h0M1968.3 871.7h0M1984.5 848.3h0M1975.9 845.6h0M1964.5 906.3h0M1984.1 893.3h0M1985.8 949.4h0M2000.2 927h0M1990.6 879.7h0M1996.7 862.5h0M1970.5 890h0M1980.5 982.6h0M2000.4 926.7h0M1996.7 874.2h0M1959.6 925h0M1979.6 900h0M1969.9 903h0M1999.6 896.8h0M1977.6 980.6h0M2000.4 905.3h0M1970 864.5h0M2003.3 850.5h0M1977.9 886.7h0M1965 897.7h0M1970 895.1h0M1958 924.6h0M1960 910.8h0M1993.7 924.7h0M1958.6 888.2h0M1992.3 883.1h0M1970.4 909.6h0M1977.1 906.8h0M1957.1 932.7h0M1977.2 945.1h0" stroke="#3cbf56" stroke-width="4.3" stroke-linecap="round" stroke-opacity="0.3"/>
<path d="M2000.9 904.7h0M1993.3 923.4h0M1973.7 929.4h0M1992.8 952.1h0M1954.4 913.1h0M1991.4 935.2h0M1974.9 932.4h0M1960.1 948.2h0M1975.7 902.5h0M1988 891.4h0M1990.3 905.1h0M1960.5 911.6h0M1955.3 882.2h0M1958.4 942.4h0M2000.8 888.6h0M1972.2 929.7h0M1989.9 896.6h0M1990.3 945.8h0M1972.6 904h0M1974.1 935.3h0M1956.8 924.1h0M1985.2 960.2h0M1959.6 915.1h0M1996.3 896.3h0M1996.4 936.7h0M1963.8 938.3h0M1961.2 888.8h0M1988.5 920.7h0M1957.6 900.2h0M2000.4 992.3h0M1971.7 911.1h0M2001.4 855.8h0M1998.1 908.7h0M1983.6 903.9h0M1976.9 881.2h0M1958.3 891.8h0M1964.1 944.9h0M1980.2 879.3h0M1963.2 919.2h0M1966.8 897.8h0M1961.3 889.4h0M1979.8 856.2h0M1982.6 876.2h0M1985 934.7h0M1995.2 879.9h0M1996.6 888.8h0M1994 938h0M1958.5 872h0M1970.9 931.3h0M1972.2 858.6h0M1957.4 948.6h0M1986.4 924.3h0M1976 965.6h0M1972.3 943.9h0M1978.6 914.2h0M1967 937.5h0M2001.9 904.7h0M1967.8 931.3h0M1980.2 921.3h0M1986.7 902.9h0M1963.2 896.2h0M1977.8 904.9h0M1986.8 878.5h0M1961.5 919.8h0M1955.5 982.9h0M1968.5 904.2h0M1975.8 902.8h0M1974.7 943.2h0M1962.3 901.8h0M1982.2 840.7h0M1975.2 879.1h0M1956.3 838.3h0M1986.3 892.8h0M1959.5 907.8h0M1970.3 957.6h0M1969.4 927.1h0M1998.7 943.8h0M2000.4 939h0M1985.6 906.4h0M1958.3 883h0M1990.3 881.3h0M1957.9 881.8h0M1997.7 935.7h0M1969.9 910h0M1988.2 908h0M1999.1 909.9h0M1996.2 951.4h0M1986 915.6h0M1977.3 963.2h0M1973 877.4h0M1973.4 929.3h0M1970.4 844.3h0M1987.6 921.3h0M1960.1 900.7h0M2001.4 892.3h0M1971.4 947.8h0M1958.2 926.1h0M1995.9 901.4h0M1966.9 852.7h0M1967.3 947.8h0M1964.5 913.5h0M1987.5 884.8h0M1981.9 944.6h0M1993.8 965.9h0M1983 890.5h0M2003.3 916.2h0M1963.2 882.1h0M1963.8 942.7h0M1974.5 887.1h0M1955 929.6h0M1994.2 889.5h0M1999.9 965.3h0M1995.8 855.9h0M1959.2 883.6h0M1994.2 901.3h0M1994 865.8h0M1988.4 929.2h0M1979 892.6h0M1994.3 876.6h0M2001.7 944.4h0M1997.4 894.9h0M1991.9 929.6h0M1984.1 938.7h0M1982.8 867.3h0M1986.9 906h0M1973.7 901.1h0M1962.6 866.3h0M1970.3 918.7h0M1984.6 869.8h0M2000.7 901.5h0M1978.9 916.4h0" stroke="#3cbf56" stroke-width="4.3" stroke-linecap="round" stroke-opacity="0.3"/>
<path d="M2049.4 835.5h0M2040.6 907h0M2056.6 905h0M2052.5 895.6h0M2062.7 895.9h0M2027.9 805.8h0M2061.7 857.7h0M2045 853h0M2017.2 903.9h0M2063.8 949.6h0M2031.5 967.3h0M2029.3 883.2h0M2034.8 915.2h0M2051 879.7h0M2038.7 840.6h0M2035.4 948h0M2059.4 850.7h0M2033.7 868.2h0M2029.7 925.3h0M2049.1 870.9h0M2056.2 902.7h0M2026.7 846.4h0M2058 852.9h0M2018.8 830.5h0M2055.6 849.2h0M2045.2 940.4h0M2042.5 885.8h0M2047.2 873.8h0M2041 835.4h0M2024.9 884.1h0M2031.2 883h0M2018.4 858.1h0M2032.7 888.3h0M2057.7 966.2h0M2026.2 784.4h0M2063 863.3h0M2045.9 913.1h0M2036.9 840.5h0M2047.4 897.3h0M2040.6 842.7h0M2062 818h0M2025.2 867.7h0M2060.6 900.7h0M2043.8 843.9h0M2045.7 784.9h0M2056.4 767.7h0M2014.3 982.3h0" stroke="#8ea6dc" stroke-width="4.3" stroke-linecap="round" stroke-opacity="0.32"/>
<path d="M1918.4 1010.8L1918.4 1006.8L1918.5 1002.8L1918.7 998.7L1918.9 994.7L1919.2 990.6L1919.7 986.6L1920.3 982.6L1921.1 978.5L1922 974.5L1923.1 970.4L1924.1 966.4L1925.2 962.4L1926.2 958.3L1927.2 954.3L1928.1 950.2L1929.1 946.2L1930.1 942.2L1931.2 938.1L1932.6 934.1L1934.2 930L1936 926L1937.9 922L1939.6 917.9L1941 913.9L1941.9 909.8L1942.2 905.8L1941.9 901.8L1941.3 897.7L1940.4 893.7L1939.6 889.6L1938.9 885.6L1938 881.6L1937.1 877.5L1935.7 873.5L1934.1 869.4L1932.3 865.4L1930.5 861.4L1928.8 857.3L1927.3 853.3L1926.1 849.2L1925 845.2L1924 841.2L1923.1 837.1L1922.3 833.1L1921.5 829L1920.9 825L1920.3 820.9L1919.8 816.9L1919.4 812.9L1919.1 808.8L1918.9 804.8L1918.7 800.7L1918.6 796.7L1918.6 792.7L1918.5 788.6L1918.4 784.6L1918.4 780.5L1918.3 776.5L1918.3 772.5L1918.3 768.4L1918.1 768.4L1918.1 772.5L1918.1 776.5L1918 780.5L1918 784.6L1917.9 788.6L1917.8 792.7L1917.8 796.7L1917.7 800.7L1917.5 804.8L1917.3 808.8L1917 812.9L1916.6 816.9L1916.1 820.9L1915.5 825L1914.9 829L1914.1 833.1L1913.3 837.1L1912.4 841.2L1911.4 845.2L1910.3 849.2L1909.1 853.3L1907.6 857.3L1905.9 861.4L1904.1 865.4L1902.3 869.4L1900.7 873.5L1899.3 877.5L1898.4 881.6L1897.5 885.6L1896.8 889.6L1896 893.7L1895.1 897.7L1894.5 901.8L1894.2 905.8L1894.5 909.8L1895.4 913.9L1896.8 917.9L1898.5 922L1900.4 926L1902.2 930L1903.8 934.1L1905.2 938.1L1906.3 942.2L1907.3 946.2L1908.3 950.2L1909.2 954.3L1910.2 958.3L1911.2 962.4L1912.3 966.4L1913.3 970.4L1914.4 974.5L1915.3 978.5L1916.1 982.6L1916.7 986.6L1917.2 990.6L1917.5 994.7L1917.7 998.7L1917.9 1002.8L1918 1006.8L1918 1010.8Z" fill="none" stroke="#e8615a" stroke-width="1.3"/>
<path d="M1978.9 1005.1L1979 1001.7L1979.2 998.3L1979.4 994.9L1979.6 991.5L1979.9 988.1L1980.2 984.7L1980.6 981.3L1981 977.9L1981.6 974.4L1982.2 971L1983 967.6L1984 964.2L1985 960.8L1986.1 957.4L1987.3 954L1988.5 950.6L1989.6 947.2L1990.8 943.8L1992 940.3L1993.1 936.9L1994.3 933.5L1995.5 930.1L1996.6 926.7L1997.7 923.3L1998.6 919.9L1999.4 916.5L2000 913.1L2000.4 909.6L2000.6 906.2L2000.6 902.8L2000.4 899.4L2000.1 896L1999.6 892.6L1998.8 889.2L1997.8 885.8L1996.6 882.4L1995.1 879L1993.5 875.5L1991.9 872.1L1990.4 868.7L1989.1 865.3L1987.9 861.9L1986.8 858.5L1985.8 855.1L1984.9 851.7L1984 848.3L1983.2 844.8L1982.4 841.4L1981.7 838L1981.1 834.6L1980.6 831.2L1980.1 827.8L1979.8 824.4L1979.5 821L1979.3 817.6L1979.1 814.2L1979 810.7L1978.9 807.3L1978.9 803.9L1978.8 800.5L1978.4 800.5L1978.3 803.9L1978.3 807.3L1978.2 810.7L1978.1 814.2L1977.9 817.6L1977.7 821L1977.4 824.4L1977.1 827.8L1976.6 831.2L1976.1 834.6L1975.5 838L1974.8 841.4L1974 844.8L1973.2 848.3L1972.3 851.7L1971.4 855.1L1970.4 858.5L1969.3 861.9L1968.1 865.3L1966.8 868.7L1965.3 872.1L1963.7 875.5L1962.1 879L1960.6 882.4L1959.4 885.8L1958.4 889.2L1957.6 892.6L1957.1 896L1956.8 899.4L1956.6 902.8L1956.6 906.2L1956.8 909.6L1957.2 913.1L1957.8 916.5L1958.6 919.9L1959.5 923.3L1960.6 926.7L1961.7 930.1L1962.9 933.5L1964.1 936.9L1965.2 940.3L1966.4 943.8L1967.6 947.2L1968.7 950.6L1969.9 954L1971.1 957.4L1972.2 960.8L1973.2 964.2L1974.2 967.6L1975 971L1975.6 974.4L1976.2 977.9L1976.6 981.3L1977 984.7L1977.3 988.1L1977.6 991.5L1977.8 994.9L1978 998.3L1978.2 1001.7L1978.3 1005.1Z" fill="none" stroke="#2db84d" stroke-width="1.3"/>
<path d="M2041.7 982.3L2042 978.7L2042.3 975.2L2042.6 971.6L2042.9 968L2043.2 964.4L2043.5 960.9L2043.8 957.3L2044.2 953.7L2044.5 950.1L2044.9 946.6L2045.3 943L2045.8 939.4L2046.3 935.8L2046.8 932.2L2047.4 928.7L2048 925.1L2048.7 921.5L2049.3 917.9L2050 914.4L2050.7 910.8L2051.3 907.2L2052 903.6L2052.6 900.1L2053.1 896.5L2053.6 892.9L2054 889.3L2054.4 885.7L2054.6 882.2L2054.8 878.6L2055 875L2055 871.4L2055 867.9L2054.8 864.3L2054.6 860.7L2054.4 857.1L2054 853.6L2053.5 850L2053 846.4L2052.4 842.8L2051.7 839.2L2051 835.7L2050.2 832.1L2049.5 828.5L2048.7 824.9L2047.9 821.4L2047.1 817.8L2046.4 814.2L2045.8 810.6L2045.2 807.1L2044.6 803.5L2044.1 799.9L2043.7 796.3L2043.3 792.8L2042.9 789.2L2042.6 785.6L2042.3 782L2042 778.4L2041.8 774.9L2041.5 771.3L2041.3 767.7L2036.7 767.7L2036.5 771.3L2036.2 774.9L2036 778.4L2035.7 782L2035.4 785.6L2035.1 789.2L2034.7 792.8L2034.3 796.3L2033.9 799.9L2033.4 803.5L2032.8 807.1L2032.2 810.6L2031.6 814.2L2030.9 817.8L2030.1 821.4L2029.3 824.9L2028.5 828.5L2027.8 832.1L2027 835.7L2026.3 839.2L2025.6 842.8L2025 846.4L2024.5 850L2024 853.6L2023.6 857.1L2023.4 860.7L2023.2 864.3L2023 867.9L2023 871.4L2023 875L2023.2 878.6L2023.4 882.2L2023.6 885.7L2024 889.3L2024.4 892.9L2024.9 896.5L2025.4 900.1L2026 903.6L2026.7 907.2L2027.3 910.8L2028 914.4L2028.7 917.9L2029.3 921.5L2030 925.1L2030.6 928.7L2031.2 932.2L2031.7 935.8L2032.2 939.4L2032.7 943L2033.1 946.6L2033.5 950.1L2033.8 953.7L2034.2 957.3L2034.5 960.9L2034.8 964.4L2035.1 968L2035.4 971.6L2035.7 975.2L2036 978.7L2036.3 982.3Z" fill="none" stroke="#6f8fce" stroke-width="1.3"/>
<path d="M1912 785.5L2027.1 785.5" stroke="#111" stroke-width="1.8" />
<text x="1966.1" y="784.4" font-size="23.5" text-anchor="middle" fill="#111" font-weight="bold">***</text>
<rect x="1882.5" y="756.4" width="192.7" height="264.7" fill="none" stroke="#333333" stroke-width="1.4" />
<path d="M1918.2 1021.1L1918.2 1028.4" stroke="#333" stroke-width="2.6" />
<text x="1918.2" y="1052.8" font-size="22.8" text-anchor="middle" fill="#4d4d4d">0</text>
<path d="M1978.6 1021.1L1978.6 1028.4" stroke="#333" stroke-width="2.6" />
<text x="1978.6" y="1052.8" font-size="22.8" text-anchor="middle" fill="#4d4d4d">1</text>
<path d="M2039 1021.1L2039 1028.4" stroke="#333" stroke-width="2.6" />
<text x="2039" y="1052.8" font-size="22.8" text-anchor="middle" fill="#4d4d4d">2</text>
<path d="M1875.2 821.9L1882.5 821.9" stroke="#333" stroke-width="2.6" />
<text x="1866.7" y="830.7" font-size="22.8" text-anchor="end" fill="#4d4d4d">2</text>
<path d="M1875.2 893.2L1882.5 893.2" stroke="#333" stroke-width="2.6" />
<text x="1866.7" y="902" font-size="22.8" text-anchor="end" fill="#4d4d4d">0</text>
<path d="M1875.2 964.5L1882.5 964.5" stroke="#333" stroke-width="2.6" />
<text x="1866.7" y="973.3" font-size="22.8" text-anchor="end" fill="#4d4d4d">-2</text>
<text x="1840" y="887.6" font-size="21.8" text-anchor="middle" transform="rotate(-90 1840 887.6)">CD25 (Regressed)</text>
<text x="44" y="1156.6" font-size="43">k</text>
<path d="M282.1 1468.7L274.5 1465.7L265.2 1459.3L256.5 1450.6L249.5 1441.3L244.6 1431.7L239.6 1420.9L235.5 1409.9L234.4 1401.1L236.1 1395.3L241.1 1392.4L248.9 1391.2L257.1 1394.7L262.9 1398.8L268.7 1404.6L274 1411L277.5 1419.2L279.2 1430.2L280.4 1444.8L282.1 1453.5L283.9 1444.8L285 1430.2L286.8 1415.7L289.7 1402.6L292.9 1395.3L300.7 1392.4L312.4 1391.2L322.9 1392.4L329.3 1398.8L330.4 1407.5L327.5 1418.6L321.1 1429.7L313.6 1440.7L305.4 1450.6L296.7 1459.3L289.1 1465.2L282.1 1468.7Z" fill="#000"/>
<path d="M164.3 1175.3h0M189.8 1175.3h0M192.9 1175.3h0M197 1175.3h0M202.1 1175.3h0M224.6 1175.3h0M248.1 1175.3h0M308.4 1175.3h0M313.5 1175.3h0M339 1175.3h0M342.1 1175.3h0M364.5 1175.3h0M371.7 1175.3h0M375.8 1175.3h0M380.9 1175.3h0M406.4 1175.3h0M424.8 1175.3h0M453.4 1175.3h0M182.7 1184.1h0M201.1 1197.8h0M225.6 1193.3h0M350.2 1189.2h0M400.3 1186.2h0M403.4 1201.3h0M318.6 1212.5h0M351.9 1219.9h0M211.3 1219.7h0M213.3 1228.9h0M300.2 1225.4h0M339.6 1228.9h0M301.2 1236.6h0M323.7 1234.6h0M322.7 1239.7h0M306.3 1245.8h0M311.4 1243.8h0M337 1243.8h0M342.1 1243.8h0M347.2 1250.9h0M382.9 1251.5h0M190.9 1253.6h0M217.4 1260.1h0M233.8 1260.5h0M350.2 1260.7h0M302.2 1259.1h0M303.2 1261.1h0M309.4 1267.3h0M311.4 1270.3h0M202.1 1271.4h0M229.7 1272.8h0M237.9 1271.8h0M299.2 1272.4h0M300.2 1278.5h0M297.1 1282.6h0M331.9 1277.5h0M334.9 1275.4h0M372.3 1278.5h0M199 1283.2h0M215 1286.1h0M250.1 1287.3h0M312 1282.2h0M296.1 1287.7h0M299.2 1290.8h0M223.6 1297.9h0M228.7 1296.5h0M234.8 1297.3h0M240.9 1306.1h0M302.2 1301h0M308.4 1298.9h0M311.4 1306.7h0M301.2 1309.6h0M316.5 1312.8h0M325.7 1315.7h0M330.8 1312.2h0M338 1310.2h0M330.8 1322.4h0M370.7 1317.9h0M415.6 1326.5h0M217.4 1325.1h0M198 1332.3h0M212.3 1332h0M219.5 1338.8h0M197 1341.4h0M192.9 1349h0M205.2 1345.9h0M211.3 1346.4h0M215.4 1343.9h0M232.8 1336.7h0M232.8 1341.9h0M231.7 1348h0M235.8 1350h0M260.3 1336.1h0M296.1 1324.5h0M297.1 1329.6h0M311.4 1328.6h0M317.6 1334.7h0M321.6 1339.8h0M313.5 1342.3h0M300.2 1335.7h0M347.2 1324.5h0M346.2 1329.6h0M351.3 1336.7h0M356.4 1339.8h0M367.6 1332.7h0M335.9 1347h0M348.2 1352.1h0M331.9 1354.1h0M315.5 1356.8h0M295.1 1348h0M301.2 1350h0M293 1359.2h0M211.3 1361.3h0M217.4 1359.2h0M221.5 1354.1h0M225.6 1356.2h0M232.8 1363.3h0M248.1 1356.2h0M252.2 1358.2h0M263.4 1358.2h0M256.3 1364.3h0M262.4 1369.4h0M264.4 1376.6h0M212.9 1372.5h0M216.4 1379.7h0M223.6 1375.6h0M228.7 1370.5h0M234.8 1369.4h0M239.9 1376.6h0M246 1380.7h0M256.3 1379.7h0M261.4 1382.7h0M333.9 1361.3h0M340 1362.3h0M345.1 1366.4h0M351.3 1365.4h0M360.5 1363.3h0M325.7 1368.4h0M329.8 1370.5h0M333.9 1372.5h0M321.6 1374.5h0M295.1 1368.4h0M301.2 1372.5h0M307.3 1373.5h0M311.4 1377.6h0M294.1 1380.7h0M297.1 1384.8h0M303.2 1385.8h0M331.9 1379.7h0M335.9 1386.8h0M343.1 1383.7h0M341.1 1397h0M350.2 1403.2h0M291 1391.9h0M313.5 1382.7h0M319.6 1380.7h0M223.6 1395h0M227.6 1399.1h0M279.3 1468.3h0M273.6 1465.1h0M276.5 1468.4h0M278.1 1465.3h0M275.1 1466.5h0M273 1464.1h0M268.1 1461.3h0M269.6 1461.2h0M267.1 1462.3h0M269 1462.3h0M265.7 1457.3h0M257.7 1451.1h0M259.2 1453.5h0M258.1 1450.8h0M263.3 1457h0M250.7 1444.5h0M257.2 1451.4h0M249.6 1444.7h0M254 1444.4h0M254.5 1448h0M250.9 1439.1h0M247.2 1435.2h0M250.2 1438.9h0M244.8 1433.3h0M246.2 1432.9h0M242.2 1425.2h0M239.5 1428.2h0M243.6 1430.5h0M244 1428.1h0M238.2 1423.4h0M236.5 1411.8h0M239.7 1419.2h0M237.7 1413.9h0M237.9 1415.5h0M238.4 1417.9h0M232.8 1400h0M231.7 1405.1h0M234.6 1401.8h0M236.4 1404.1h0M234.5 1404.8h0M235.7 1396.4h0M234.3 1397.5h0M237.9 1395.9h0M236.3 1401.2h0M236.6 1395.4h0M236.6 1394h0M239.7 1392.1h0M237.9 1393.4h0M236.6 1394.8h0M240.7 1393h0M242.4 1390.6h0M248.6 1391.9h0M242.9 1391.2h0M245.1 1394.1h0M243.8 1391.1h0M249.3 1390.5h0M249.6 1390.5h0M249.3 1389.4h0M252.6 1393.9h0M253.2 1392h0M260.2 1396.3h0M256.1 1395.6h0M262.5 1397h0M262.2 1398.4h0M260 1390.8h0M266.8 1401.5h0M268.5 1404h0M265.4 1400.3h0M265.8 1400.9h0M265.6 1400h0M274 1412.4h0M275.2 1409.6h0M276.1 1408.8h0M271.4 1404.7h0M271.8 1409.1h0M273.2 1414.4h0M275.6 1416.8h0M275.6 1417.2h0M277.2 1420.6h0M275.8 1417.1h0M278.4 1427.4h0M278.9 1429.1h0M280 1428.5h0M276.2 1423.1h0M277 1418.6h0M277.8 1445.2h0M279.5 1436.5h0M279.1 1434.3h0M278.9 1433h0M282.2 1437.9h0M283.4 1450h0M281 1450.5h0M283.6 1451.3h0M282.7 1448h0M282.1 1453.1h0M282.6 1444.7h0M282.8 1450.1h0M282.8 1447.8h0M285.7 1444.1h0M282 1449.7h0M286.9 1438.7h0M283.5 1431.5h0M284.5 1435.5h0M284.9 1431.4h0M285.7 1438.4h0M285.5 1427.5h0M286.2 1420.7h0M287.1 1418.4h0M287.4 1416.8h0M284.5 1430.1h0M290.3 1407.5h0M291.6 1409.1h0M288.5 1410.7h0M289.5 1411.1h0M285.9 1413.6h0M290.6 1401.2h0M290.3 1399.4h0M290.5 1400.1h0M292.4 1397.4h0M290.8 1400.6h0M301.7 1392.1h0M300.3 1393.7h0M293.5 1395.9h0M293.3 1397.1h0M298.1 1392.9h0M308.7 1390.1h0M310.3 1390.5h0M304.4 1392.9h0M307.5 1394.1h0M300.1 1392.7h0M318.3 1389.1h0M316 1389.2h0M314.4 1392.3h0M320.3 1394.6h0M313.6 1389.9h0M322 1394.6h0M326.7 1395.4h0M325.1 1396.1h0M328.3 1397.3h0M325.8 1394.4h0M329.9 1402.5h0M331.1 1400.6h0M329.3 1404.4h0M328.4 1400.1h0M329.7 1402.9h0M331.2 1410.7h0M329.3 1408.3h0M327.7 1415.2h0M330 1405.7h0M330 1414.5h0M324.4 1422.8h0M324.7 1426.8h0M323.3 1424.7h0M326.2 1425.2h0M323.8 1428.8h0M320.1 1431.6h0M320.6 1430.1h0M314.8 1439.8h0M313.2 1441.1h0M321.4 1430.6h0M311.6 1443.1h0M311.7 1441.3h0M304.4 1450.4h0M314.1 1443.7h0M307.7 1449.6h0M298.5 1455.6h0M299.6 1457.3h0M302.1 1452.8h0M295.7 1458.9h0M305.7 1451.6h0M292 1465.2h0M291.5 1464.5h0M292 1464.5h0M292 1463.5h0M292.2 1462.1h0M283.7 1464.9h0M287.3 1467.5h0M286.1 1466.5h0M286.7 1465.2h0M284.8 1467.5h0" stroke="#000" stroke-width="6.4" stroke-linecap="round"/>
<path d="M151.4 1427.9H466.7" stroke="#8a8a8a" stroke-width="1.6" stroke-dasharray="6.5 5"/>
<path d="M327.5 1199L322.6 1235.2" stroke="#6f8fc4" stroke-width="1.4" />
<path d="M369.2 1354.5L359 1363.3" stroke="#6f8fc4" stroke-width="1.4" />
<path d="M204.7 1427.3L222.7 1396.8" stroke="#6f8fc4" stroke-width="1.4" />
<text x="331" y="1206" font-size="27" fill="#6f8fc4">IL2RA</text>
<text x="360.4" y="1351.6" font-size="27" fill="#6f8fc4">FOXP3</text>
<text x="164.5" y="1449.2" font-size="27" fill="#6f8fc4">STAT4</text>
<rect x="151.4" y="1161.8" width="315.3" height="319.4" fill="none" stroke="#808080" stroke-width="1.6" />
<path d="M142.9 1467.2L151.4 1467.2" stroke="#333" stroke-width="3" />
<text x="133.4" y="1477.2" font-size="27.5" text-anchor="end" fill="#808080">0</text>
<path d="M142.9 1375.5L151.4 1375.5" stroke="#333" stroke-width="3" />
<text x="133.4" y="1385.5" font-size="27.5" text-anchor="end" fill="#808080">5</text>
<path d="M142.9 1283.9L151.4 1283.9" stroke="#333" stroke-width="3" />
<text x="133.4" y="1293.9" font-size="27.5" text-anchor="end" fill="#808080">10</text>
<path d="M142.9 1192.2L151.4 1192.2" stroke="#333" stroke-width="3" />
<text x="133.4" y="1202.2" font-size="27.5" text-anchor="end" fill="#808080">15</text>
<path d="M208.3 1481.2L208.3 1489.7" stroke="#333" stroke-width="3" />
<text x="208.3" y="1516.1" font-size="27.5" text-anchor="middle" fill="#808080">−0.5</text>
<path d="M282.1 1481.2L282.1 1489.7" stroke="#333" stroke-width="3" />
<text x="282.1" y="1516.1" font-size="27.5" text-anchor="middle" fill="#808080">0.0</text>
<path d="M355.9 1481.2L355.9 1489.7" stroke="#333" stroke-width="3" />
<text x="355.9" y="1516.1" font-size="27.5" text-anchor="middle" fill="#808080">0.5</text>
<path d="M429.7 1481.2L429.7 1489.7" stroke="#333" stroke-width="3" />
<text x="429.7" y="1516.1" font-size="27.5" text-anchor="middle" fill="#808080">1.0</text>
<text x="309.5" y="1556.9" font-size="34.5" text-anchor="middle">Beta (Treg vs Th1)</text>
<text x="88" y="1322.5" font-size="34.5" text-anchor="middle" transform="rotate(-90 88 1322.5)">−Log10 P−value</text>
<text x="544" y="1157" font-size="43">l</text>
<text x="688" y="1203" font-size="40">Treg</text>
<text x="688" y="1247.2" font-size="40">P=8.39e−08</text>
<path d="M710.8 1268L710.8 1490" stroke="#ebebeb" stroke-width="2" />
<path d="M825 1268L825 1490" stroke="#ebebeb" stroke-width="2" />
<path d="M939.3 1268L939.3 1490" stroke="#ebebeb" stroke-width="2" />
<path d="M1053.5 1268L1053.5 1490" stroke="#ebebeb" stroke-width="2" />
<path d="M1167.8 1268L1167.8 1490" stroke="#ebebeb" stroke-width="2" />
<path d="M688.4 1469L1191.9 1469" stroke="#ebebeb" stroke-width="2" />
<path d="M688.4 1413.5L1191.9 1413.5" stroke="#ebebeb" stroke-width="2" />
<path d="M688.4 1358L1191.9 1358" stroke="#ebebeb" stroke-width="2" />
<path d="M688.4 1302.5L1191.9 1302.5" stroke="#ebebeb" stroke-width="2" />
<path d="M682.4 1469L1191.9 1469" stroke="#000" stroke-width="2.2" />
<path d="M688.4 1277.9H1185.9" stroke="#000" stroke-width="2.2" stroke-dasharray="9 6.5"/>
<path d="M710.9 1458.3V1481.5M711 1458.3V1481.5M711.1 1458.3V1481.5M711.3 1458.3V1481.5M711.5 1458.3V1481.5M713.4 1458.3V1481.5M715.7 1458.3V1481.5M717.9 1458.3V1481.5M718.8 1458.3V1481.5M720.5 1458.3V1481.5M723.1 1458.3V1481.5M725.1 1458.3V1481.5M727.3 1458.3V1481.5M729.2 1458.3V1481.5M734.1 1458.3V1481.5M736 1458.3V1481.5M738 1458.3V1481.5M739.9 1458.3V1481.5M742.1 1458.3V1481.5M745.6 1458.3V1481.5M753.8 1458.3V1481.5M758 1458.3V1481.5M769.6 1458.3V1481.5M790.9 1458.3V1481.5M804.5 1458.3V1481.5M806.1 1458.3V1481.5M814.2 1458.3V1481.5M818.3 1458.3V1481.5M844.8 1458.3V1481.5M848 1458.3V1481.5M860 1458.3V1481.5M887.4 1458.3V1481.5M944.3 1458.3V1481.5M959.4 1458.3V1481.5M974 1458.3V1481.5M993.3 1458.3V1481.5M1071.8 1458.3V1481.5M1074.1 1458.3V1481.5" stroke="#000" stroke-width="1.3"/>
<path d="M710.8 1469L710.9 1469.1L710.9 1444.6L711 1444.6L711 1420.2L711.1 1420.2L711.1 1395.7L711.3 1395.8L711.3 1371.3L711.5 1371.4L711.5 1346.9L713.4 1347.9L713.4 1329.1L715.7 1330.3L715.7 1322.5L717.9 1323.5L717.9 1302.5L718.8 1302.9L718.8 1298.1L720.5 1298.9L720.5 1295.8L723.1 1297.1L723.1 1294.5L725.1 1295.5L725.1 1292.5L727.3 1293.6L727.3 1291.4L729.2 1292.4L729.2 1289.8L734.1 1292.3L734.1 1287L736 1287.9L736 1284.7L738 1285.7L738 1282.5L739.9 1283.5L739.9 1280.3L742.1 1281.4L742.1 1278.1L745.6 1279.8L745.6 1277L753.8 1280.9L753.8 1279.2L758 1281.3L758 1279.2L769.6 1284.9L769.6 1284L790.9 1294.4L790.9 1293.5L804.5 1300.2L804.5 1299.3L806.1 1300.1L806.1 1299.2L814.2 1303.2L814.2 1302.3L818.3 1304.3L818.3 1303.4L844.8 1316.4L844.8 1315.5L848 1317.1L848 1316.2L860 1322L860 1321.2L887.4 1334.6L887.4 1333.7L944.3 1361.6L944.3 1360.7L959.4 1368.1L959.4 1367.2L974 1374.3L974 1373.4L993.3 1382.9L993.3 1382L1071.8 1420.4L1071.8 1419.5L1074.1 1420.7L1074.1 1419.8L1167.8 1469" fill="none" stroke="#6abf47" stroke-width="4.6" stroke-linejoin="round"/>
<path d="M710.9 1469.1h0M710.9 1444.6h0M711 1444.6h0M711 1420.2h0M711.1 1420.2h0M711.1 1395.7h0M711.3 1395.8h0M711.3 1371.3h0M711.5 1371.4h0M711.5 1346.9h0M713.4 1347.9h0M713.4 1329.1h0M715.7 1330.3h0M715.7 1322.5h0M717.9 1323.5h0M717.9 1302.5h0M718.8 1302.9h0M718.8 1298.1h0M720.5 1298.9h0M720.5 1295.8h0M723.1 1297.1h0M723.1 1294.5h0M725.1 1295.5h0M725.1 1292.5h0M727.3 1293.6h0M727.3 1291.4h0M729.2 1292.4h0M729.2 1289.8h0M734.1 1292.3h0M734.1 1287h0M736 1287.9h0M736 1284.7h0M738 1285.7h0M738 1282.5h0M739.9 1283.5h0M739.9 1280.3h0M742.1 1281.4h0M742.1 1278.1h0M745.6 1279.8h0M745.6 1277h0M753.8 1280.9h0M753.8 1279.2h0M758 1281.3h0M758 1279.2h0M769.6 1284.9h0M769.6 1284h0M790.9 1294.4h0M790.9 1293.5h0M804.5 1300.2h0M804.5 1299.3h0M806.1 1300.1h0M806.1 1299.2h0M814.2 1303.2h0M814.2 1302.3h0M818.3 1304.3h0M818.3 1303.4h0M844.8 1316.4h0M844.8 1315.5h0M848 1317.1h0M848 1316.2h0M860 1322h0M860 1321.2h0M887.4 1334.6h0M887.4 1333.7h0M944.3 1361.6h0M944.3 1360.7h0M959.4 1368.1h0M959.4 1367.2h0M974 1374.3h0M974 1373.4h0M993.3 1382.9h0M993.3 1382h0M1071.8 1420.4h0M1071.8 1419.5h0M1074.1 1420.7h0M1074.1 1419.8h0" stroke="#6abf47" stroke-width="8" stroke-linecap="round"/>
<path d="M682.4 1469L688 1469" stroke="#333" stroke-width="1.6" />
<text x="676.9" y="1481" font-size="34" text-anchor="end" fill="#4d4d4d">0.00</text>
<path d="M682.4 1413.5L688 1413.5" stroke="#333" stroke-width="1.6" />
<text x="676.9" y="1425.5" font-size="34" text-anchor="end" fill="#4d4d4d">0.25</text>
<path d="M682.4 1358L688 1358" stroke="#333" stroke-width="1.6" />
<text x="676.9" y="1370" font-size="34" text-anchor="end" fill="#4d4d4d">0.50</text>
<path d="M682.4 1302.5L688 1302.5" stroke="#333" stroke-width="1.6" />
<text x="676.9" y="1314.5" font-size="34" text-anchor="end" fill="#4d4d4d">0.75</text>
<path d="M710.8 1490.7L710.8 1498" stroke="#333" stroke-width="1.6" />
<text x="710.8" y="1526.5" font-size="34" text-anchor="middle" fill="#4d4d4d">0</text>
<path d="M825 1490.7L825 1498" stroke="#333" stroke-width="1.6" />
<text x="825" y="1526.5" font-size="34" text-anchor="middle" fill="#4d4d4d">1000</text>
<path d="M939.3 1490.7L939.3 1498" stroke="#333" stroke-width="1.6" />
<text x="939.3" y="1526.5" font-size="34" text-anchor="middle" fill="#4d4d4d">2000</text>
<path d="M1053.5 1490.7L1053.5 1498" stroke="#333" stroke-width="1.6" />
<text x="1053.5" y="1526.5" font-size="34" text-anchor="middle" fill="#4d4d4d">3000</text>
<path d="M1167.8 1490.7L1167.8 1498" stroke="#333" stroke-width="1.6" />
<text x="1167.8" y="1526.5" font-size="34" text-anchor="middle" fill="#4d4d4d">4000</text>
<text x="939.3" y="1563.5" font-size="34" text-anchor="middle">Rank</text>
<text x="596" y="1378" font-size="34" text-anchor="middle" transform="rotate(-90 596 1378)">Enrichment Score (ES)</text>
<text x="1264" y="1157" font-size="43">m</text>
<text x="1439" y="1203" font-size="40">Th1</text>
<text x="1439" y="1247.2" font-size="40">P=3.51e−05</text>
<path d="M1461.8 1268L1461.8 1498" stroke="#ebebeb" stroke-width="2" />
<path d="M1575.6 1268L1575.6 1498" stroke="#ebebeb" stroke-width="2" />
<path d="M1689.5 1268L1689.5 1498" stroke="#ebebeb" stroke-width="2" />
<path d="M1803.3 1268L1803.3 1498" stroke="#ebebeb" stroke-width="2" />
<path d="M1917.1 1268L1917.1 1498" stroke="#ebebeb" stroke-width="2" />
<path d="M1440.4 1289.9L1941.3 1289.9" stroke="#ebebeb" stroke-width="2" />
<path d="M1440.4 1339.8L1941.3 1339.8" stroke="#ebebeb" stroke-width="2" />
<path d="M1440.4 1389.7L1941.3 1389.7" stroke="#ebebeb" stroke-width="2" />
<path d="M1440.4 1439.6L1941.3 1439.6" stroke="#ebebeb" stroke-width="2" />
<path d="M1440.4 1489.5L1941.3 1489.5" stroke="#ebebeb" stroke-width="2" />
<path d="M1434.4 1289.9L1941.3 1289.9" stroke="#000" stroke-width="2.2" />
<path d="M1440.4 1284.9H1935.3" stroke="#000" stroke-width="2.2" stroke-dasharray="9 6.5"/>
<path d="M1440.4 1482.3H1935.3" stroke="#000" stroke-width="2.2" stroke-dasharray="9 6.5"/>
<path d="M1473.1 1277.9V1302.1M1545.8 1277.9V1302.1M1561.9 1277.9V1302.1M1607.7 1277.9V1302.1M1635.2 1277.9V1302.1M1649.1 1277.9V1302.1M1651.3 1277.9V1302.1M1695.9 1277.9V1302.1M1721.1 1277.9V1302.1M1750.1 1277.9V1302.1M1774.4 1277.9V1302.1M1776.7 1277.9V1302.1M1779.2 1277.9V1302.1M1792.1 1277.9V1302.1M1818 1277.9V1302.1M1821.2 1277.9V1302.1M1830.8 1277.9V1302.1M1861.2 1277.9V1302.1M1863.2 1277.9V1302.1M1865.4 1277.9V1302.1M1869.7 1277.9V1302.1M1877.4 1277.9V1302.1M1879.3 1277.9V1302.1M1881.6 1277.9V1302.1M1895.5 1277.9V1302.1M1897.8 1277.9V1302.1M1899.9 1277.9V1302.1M1902.5 1277.9V1302.1M1904.8 1277.9V1302.1M1907.4 1277.9V1302.1M1909.6 1277.9V1302.1M1912.2 1277.9V1302.1M1914.5 1277.9V1302.1M1916 1277.9V1302.1M1916.3 1277.9V1302.1M1916.7 1277.9V1302.1M1917 1277.9V1302.1" stroke="#000" stroke-width="1.3"/>
<path d="M1461.8 1289.9L1473.1 1296.1L1473.1 1284.9L1545.8 1325.1L1545.8 1324.1L1561.9 1333L1561.9 1332L1607.7 1357.3L1607.7 1356.3L1635.2 1371.4L1635.2 1370.5L1649.1 1378.1L1649.1 1377.1L1651.3 1378.4L1651.3 1377.4L1695.9 1402L1695.9 1401L1721.1 1414.9L1721.1 1413.9L1750.1 1430L1750.1 1429L1774.4 1442.4L1774.4 1441.4L1776.7 1442.6L1776.7 1441.6L1779.2 1443L1779.2 1442L1792.1 1449.2L1792.1 1448.2L1818 1462.4L1818 1461.4L1821.2 1463.2L1821.2 1462.2L1830.8 1467.6L1830.8 1466.6L1861.2 1483.3L1861.2 1478.3L1863.2 1479.3L1863.2 1475.8L1865.4 1477L1865.4 1473.3L1869.7 1475.6L1869.7 1473.3L1877.4 1477.6L1877.4 1474.5L1879.3 1475.6L1879.3 1470.8L1881.6 1472L1881.6 1467L1895.5 1474.7L1895.5 1469.5L1897.8 1470.8L1897.8 1464.6L1899.9 1465.7L1899.9 1459.6L1902.5 1461L1902.5 1453.3L1904.8 1454.6L1904.8 1445.8L1907.4 1447.3L1907.4 1437.1L1909.6 1438.3L1909.6 1427.1L1912.2 1428.6L1912.2 1417.1L1914.5 1418.4L1914.5 1413.4L1916 1414.2L1916 1390.9L1916.3 1391.1L1916.3 1362.3L1916.7 1362.4L1916.7 1324.8L1917 1325L1917 1289.9L1917.1 1289.9" fill="none" stroke="#6abf47" stroke-width="4.6" stroke-linejoin="round"/>
<path d="M1473.1 1296.1h0M1473.1 1284.9h0M1545.8 1325.1h0M1545.8 1324.1h0M1561.9 1333h0M1561.9 1332h0M1607.7 1357.3h0M1607.7 1356.3h0M1635.2 1371.4h0M1635.2 1370.5h0M1649.1 1378.1h0M1649.1 1377.1h0M1651.3 1378.4h0M1651.3 1377.4h0M1695.9 1402h0M1695.9 1401h0M1721.1 1414.9h0M1721.1 1413.9h0M1750.1 1430h0M1750.1 1429h0M1774.4 1442.4h0M1774.4 1441.4h0M1776.7 1442.6h0M1776.7 1441.6h0M1779.2 1443h0M1779.2 1442h0M1792.1 1449.2h0M1792.1 1448.2h0M1818 1462.4h0M1818 1461.4h0M1821.2 1463.2h0M1821.2 1462.2h0M1830.8 1467.6h0M1830.8 1466.6h0M1861.2 1483.3h0M1861.2 1478.3h0M1863.2 1479.3h0M1863.2 1475.8h0M1865.4 1477h0M1865.4 1473.3h0M1869.7 1475.6h0M1869.7 1473.3h0M1877.4 1477.6h0M1877.4 1474.5h0M1879.3 1475.6h0M1879.3 1470.8h0M1881.6 1472h0M1881.6 1467h0M1895.5 1474.7h0M1895.5 1469.5h0M1897.8 1470.8h0M1897.8 1464.6h0M1899.9 1465.7h0M1899.9 1459.6h0M1902.5 1461h0M1902.5 1453.3h0M1904.8 1454.6h0M1904.8 1445.8h0M1907.4 1447.3h0M1907.4 1437.1h0M1909.6 1438.3h0M1909.6 1427.1h0M1912.2 1428.6h0M1912.2 1417.1h0M1914.5 1418.4h0M1914.5 1413.4h0M1916 1414.2h0M1916 1390.9h0M1916.3 1391.1h0M1916.3 1362.3h0M1916.7 1362.4h0M1916.7 1324.8h0M1917 1325h0M1917 1289.9h0" stroke="#6abf47" stroke-width="8" stroke-linecap="round"/>
<path d="M1434.4 1289.9L1440 1289.9" stroke="#333" stroke-width="1.6" />
<text x="1428.9" y="1301.9" font-size="34" text-anchor="end" fill="#4d4d4d">0.0</text>
<path d="M1434.4 1339.8L1440 1339.8" stroke="#333" stroke-width="1.6" />
<text x="1428.9" y="1351.8" font-size="34" text-anchor="end" fill="#4d4d4d">−0.2</text>
<path d="M1434.4 1389.7L1440 1389.7" stroke="#333" stroke-width="1.6" />
<text x="1428.9" y="1401.7" font-size="34" text-anchor="end" fill="#4d4d4d">−0.4</text>
<path d="M1434.4 1439.6L1440 1439.6" stroke="#333" stroke-width="1.6" />
<text x="1428.9" y="1451.6" font-size="34" text-anchor="end" fill="#4d4d4d">−0.6</text>
<path d="M1434.4 1489.5L1440 1489.5" stroke="#333" stroke-width="1.6" />
<text x="1428.9" y="1501.5" font-size="34" text-anchor="end" fill="#4d4d4d">−0.8</text>
<path d="M1461.8 1490.7L1461.8 1498" stroke="#333" stroke-width="1.6" />
<text x="1461.8" y="1526.5" font-size="34" text-anchor="middle" fill="#4d4d4d">0</text>
<path d="M1575.6 1490.7L1575.6 1498" stroke="#333" stroke-width="1.6" />
<text x="1575.6" y="1526.5" font-size="34" text-anchor="middle" fill="#4d4d4d">1000</text>
<path d="M1689.5 1490.7L1689.5 1498" stroke="#333" stroke-width="1.6" />
<text x="1689.5" y="1526.5" font-size="34" text-anchor="middle" fill="#4d4d4d">2000</text>
<path d="M1803.3 1490.7L1803.3 1498" stroke="#333" stroke-width="1.6" />
<text x="1803.3" y="1526.5" font-size="34" text-anchor="middle" fill="#4d4d4d">3000</text>
<path d="M1917.1 1490.7L1917.1 1498" stroke="#333" stroke-width="1.6" />
<text x="1917.1" y="1526.5" font-size="34" text-anchor="middle" fill="#4d4d4d">4000</text>
<text x="1689.5" y="1563.5" font-size="34" text-anchor="middle">Rank</text>
<text x="1346" y="1378" font-size="34" text-anchor="middle" transform="rotate(-90 1346 1378)">Enrichment Score (ES)</text>
</svg>
</body></html>
